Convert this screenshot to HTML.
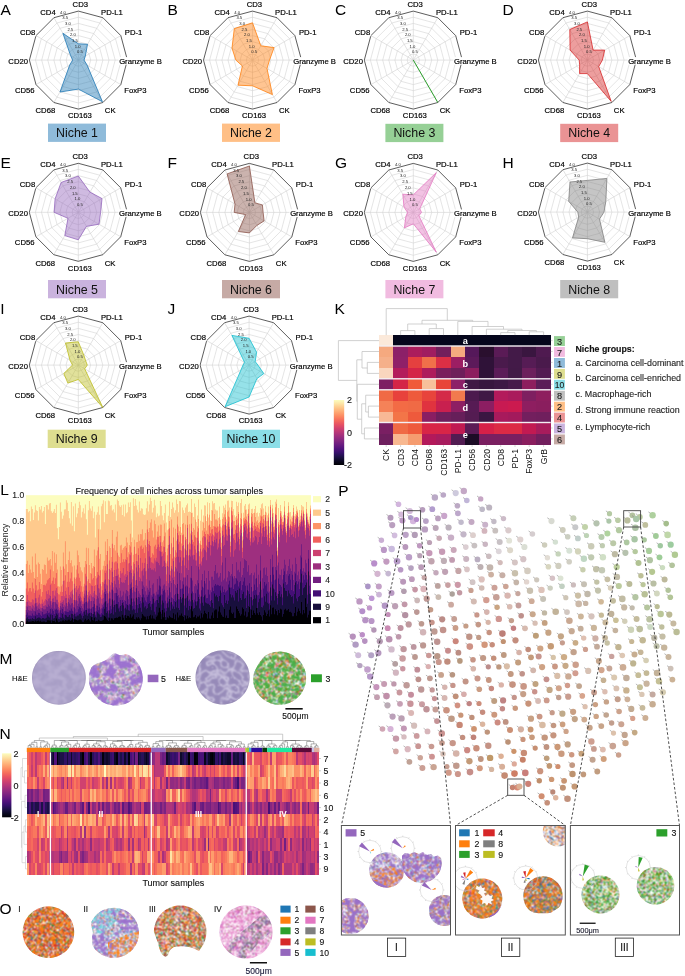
<!DOCTYPE html>
<html><head><meta charset="utf-8"><style>
html,body{margin:0;padding:0;background:#fff;width:685px;height:976px;overflow:hidden}
svg{display:block;font-family:"Liberation Sans", sans-serif;will-change:transform}
</style></head><body>
<svg width="685" height="976" viewBox="0 0 685 976">
<text x="0.5" y="15" font-size="15.5">A</text>
<text x="167.6" y="15" font-size="15.5">B</text>
<text x="335" y="15.2" font-size="15.5">C</text>
<text x="502.6" y="15" font-size="15.5">D</text>
<text x="0.4" y="168" font-size="15.5">E</text>
<text x="167.6" y="168" font-size="15.5">F</text>
<text x="335" y="168" font-size="15.5">G</text>
<text x="502.6" y="168" font-size="15.5">H</text>
<text x="0.2" y="313.8" font-size="15.5">I</text>
<text x="167.6" y="313.8" font-size="15.5">J</text>
<text x="334.5" y="314" font-size="15.5">K</text>
<text x="0.3" y="495.4" font-size="15.5">L</text>
<text x="-0.6" y="663.6" font-size="15.5">M</text>
<text x="-0.6" y="739" font-size="15.5">N</text>
<text x="-0.4" y="913.6" font-size="15.5">O</text>
<text x="338.2" y="495.8" font-size="15.5">P</text>
<g><polygon points="78.4,54 81.5,54.8 83.7,57 84.5,60.1 83.7,63.2 81.5,65.4 78.4,66.2 75.3,65.4 73.1,63.2 72.3,60.1 73.1,57 75.3,54.8" fill="none" stroke="#d4d4d4" stroke-width="0.6"/><polygon points="78.4,47.9 84.5,49.5 89,54 90.7,60.1 89,66.2 84.5,70.7 78.4,72.3 72.3,70.7 67.8,66.2 66.2,60.1 67.8,54 72.3,49.5" fill="none" stroke="#d4d4d4" stroke-width="0.6"/><polygon points="78.4,41.7 87.6,44.2 94.3,50.9 96.8,60.1 94.3,69.3 87.6,76 78.4,78.5 69.2,76 62.5,69.3 60,60.1 62.5,50.9 69.2,44.2" fill="none" stroke="#d4d4d4" stroke-width="0.6"/><polygon points="78.4,35.6 90.7,38.9 99.6,47.8 102.9,60.1 99.6,72.3 90.7,81.3 78.4,84.6 66.2,81.3 57.2,72.4 53.9,60.1 57.2,47.8 66.1,38.9" fill="none" stroke="#d4d4d4" stroke-width="0.6"/><polygon points="78.4,29.5 93.7,33.6 104.9,44.8 109,60.1 104.9,75.4 93.7,86.6 78.4,90.7 63.1,86.6 51.9,75.4 47.8,60.1 51.9,44.8 63.1,33.6" fill="none" stroke="#d4d4d4" stroke-width="0.6"/><polygon points="78.4,23.4 96.8,28.3 110.2,41.7 115.2,60.1 110.2,78.5 96.8,91.9 78.4,96.8 60,91.9 46.6,78.5 41.7,60.1 46.6,41.7 60,28.3" fill="none" stroke="#d4d4d4" stroke-width="0.6"/><polygon points="78.4,17.2 99.8,23 115.5,38.7 121.3,60.1 115.5,81.5 99.8,97.2 78.4,103 57,97.2 41.3,81.5 35.5,60.1 41.3,38.7 57,23" fill="none" stroke="#d4d4d4" stroke-width="0.6"/><path d="M78.4 60.1L78.4 11.1M78.4 60.1L102.9 17.7M78.4 60.1L120.8 35.6M78.4 60.1L127.4 60.1M78.4 60.1L120.8 84.6M78.4 60.1L102.9 102.5M78.4 60.1L78.4 109.1M78.4 60.1L53.9 102.5M78.4 60.1L36 84.6M78.4 60.1L29.4 60.1M78.4 60.1L36 35.6M78.4 60.1L53.9 17.7" stroke="#d0d0d0" stroke-width="0.6"/><polygon points="78.4,11.1 102.9,17.7 120.8,35.6 127.4,60.1 120.8,84.6 102.9,102.5 78.4,109.1 53.9,102.5 36,84.6 29.4,60.1 36,35.6 53.9,17.7" fill="none" stroke="#333" stroke-width="0.8"/><polygon points="78.4,43.8 87.5,44.3 85.3,56.1 84,60.1 87.1,65.1 102.4,101.7 78.4,89.1 60,92 69.7,65.1 72.6,60.1 70.6,55.6 62.9,33.3" fill="#1f77b4" fill-opacity="0.45" stroke="#1f77b4" stroke-width="0.8" stroke-linejoin="miter"/></g>
<text x="80" y="53.4" font-size="4.2" text-anchor="middle" fill="#222">0.5</text>
<text x="77.6" y="48.2" font-size="4.2" text-anchor="middle" fill="#222">1.0</text>
<text x="74.9" y="42.4" font-size="4.2" text-anchor="middle" fill="#222">1.5</text>
<text x="72.9" y="36.4" font-size="4.2" text-anchor="middle" fill="#222">2.0</text>
<text x="70.3" y="30.7" font-size="4.2" text-anchor="middle" fill="#222">2.5</text>
<text x="68" y="24.9" font-size="4.2" text-anchor="middle" fill="#222">3.0</text>
<text x="65.2" y="19.4" font-size="4.2" text-anchor="middle" fill="#222">3.5</text>
<text x="63" y="13.9" font-size="4.2" text-anchor="middle" fill="#222">4.0</text>
<rect x="72" y="0.6" width="16.6" height="7.6" fill="#fff"/><rect x="100.4" y="8.5" width="23" height="7.6" fill="#fff"/><rect x="124.2" y="28.6" width="18.7" height="7.6" fill="#fff"/><rect x="118.5" y="57.1" width="44" height="7.6" fill="#fff"/><rect x="123.7" y="86.5" width="23.5" height="7.6" fill="#fff"/><rect x="104.3" y="106.9" width="11.9" height="7.6" fill="#fff"/><rect x="67.3" y="112" width="25.2" height="7.6" fill="#fff"/><rect x="35" y="106.9" width="20.9" height="7.6" fill="#fff"/><rect x="14.4" y="86.5" width="20.9" height="7.6" fill="#fff"/><rect x="7.8" y="57.1" width="20.9" height="7.6" fill="#fff"/><rect x="19.3" y="28.6" width="16.6" height="7.6" fill="#fff"/><rect x="39.7" y="8.5" width="16.6" height="7.6" fill="#fff"/>
<text x="80.3" y="7" font-size="7.7" text-anchor="middle" stroke="#000" stroke-width="0.18">CD3</text>
<text x="111.9" y="14.9" font-size="7.7" text-anchor="middle" stroke="#000" stroke-width="0.18">PD-L1</text>
<text x="133.6" y="35" font-size="7.7" text-anchor="middle" stroke="#000" stroke-width="0.18">PD-1</text>
<text x="140.5" y="63.5" font-size="7.7" text-anchor="middle" stroke="#000" stroke-width="0.18">Granzyme B</text>
<text x="135.4" y="92.9" font-size="7.7" text-anchor="middle" stroke="#000" stroke-width="0.18">FoxP3</text>
<text x="110.2" y="113.3" font-size="7.7" text-anchor="middle" stroke="#000" stroke-width="0.18">CK</text>
<text x="79.9" y="118.4" font-size="7.7" text-anchor="middle" stroke="#000" stroke-width="0.18">CD163</text>
<text x="45.4" y="113.3" font-size="7.7" text-anchor="middle" stroke="#000" stroke-width="0.18">CD68</text>
<text x="24.8" y="92.9" font-size="7.7" text-anchor="middle" stroke="#000" stroke-width="0.18">CD56</text>
<text x="18.2" y="63.5" font-size="7.7" text-anchor="middle" stroke="#000" stroke-width="0.18">CD20</text>
<text x="27.6" y="35" font-size="7.7" text-anchor="middle" stroke="#000" stroke-width="0.18">CD8</text>
<text x="48" y="14.9" font-size="7.7" text-anchor="middle" stroke="#000" stroke-width="0.18">CD4</text>
<rect x="48" y="123.6" width="58" height="18.3" fill="#8fbbda"/>
<text x="77" y="137.2" font-size="12.4" text-anchor="middle" fill="#111">Niche 1</text>
<g><polygon points="252.5,54 255.6,54.8 257.8,57 258.6,60.1 257.8,63.2 255.6,65.4 252.5,66.2 249.4,65.4 247.2,63.2 246.4,60.1 247.2,57 249.4,54.8" fill="none" stroke="#d4d4d4" stroke-width="0.6"/><polygon points="252.5,47.9 258.6,49.5 263.1,54 264.8,60.1 263.1,66.2 258.6,70.7 252.5,72.3 246.4,70.7 241.9,66.2 240.2,60.1 241.9,54 246.4,49.5" fill="none" stroke="#d4d4d4" stroke-width="0.6"/><polygon points="252.5,41.7 261.7,44.2 268.4,50.9 270.9,60.1 268.4,69.3 261.7,76 252.5,78.5 243.3,76 236.6,69.3 234.1,60.1 236.6,50.9 243.3,44.2" fill="none" stroke="#d4d4d4" stroke-width="0.6"/><polygon points="252.5,35.6 264.8,38.9 273.7,47.8 277,60.1 273.7,72.3 264.8,81.3 252.5,84.6 240.2,81.3 231.3,72.4 228,60.1 231.3,47.8 240.2,38.9" fill="none" stroke="#d4d4d4" stroke-width="0.6"/><polygon points="252.5,29.5 267.8,33.6 279,44.8 283.1,60.1 279,75.4 267.8,86.6 252.5,90.7 237.2,86.6 226,75.4 221.9,60.1 226,44.8 237.2,33.6" fill="none" stroke="#d4d4d4" stroke-width="0.6"/><polygon points="252.5,23.4 270.9,28.3 284.3,41.7 289.2,60.1 284.3,78.5 270.9,91.9 252.5,96.8 234.1,91.9 220.7,78.5 215.8,60.1 220.7,41.7 234.1,28.3" fill="none" stroke="#d4d4d4" stroke-width="0.6"/><polygon points="252.5,17.2 273.9,23 289.6,38.7 295.4,60.1 289.6,81.5 273.9,97.2 252.5,103 231.1,97.2 215.4,81.5 209.6,60.1 215.4,38.7 231.1,23" fill="none" stroke="#d4d4d4" stroke-width="0.6"/><path d="M252.5 60.1L252.5 11.1M252.5 60.1L277 17.7M252.5 60.1L294.9 35.6M252.5 60.1L301.5 60.1M252.5 60.1L294.9 84.6M252.5 60.1L277 102.5M252.5 60.1L252.5 109.1M252.5 60.1L228 102.5M252.5 60.1L210.1 84.6M252.5 60.1L203.5 60.1M252.5 60.1L210.1 35.6M252.5 60.1L228 17.7" stroke="#d0d0d0" stroke-width="0.6"/><polygon points="252.5,11.1 277,17.7 294.9,35.6 301.5,60.1 294.9,84.6 277,102.5 252.5,109.1 228,102.5 210.1,84.6 203.5,60.1 210.1,35.6 228,17.7" fill="none" stroke="#333" stroke-width="0.8"/><polygon points="252.5,22.8 260.8,45.8 274.1,47.6 269.5,60.1 267,68.5 272.4,94.6 252.5,85.8 238,85.2 242.4,66 235.9,60.1 232,48.2 234.3,28.6" fill="#ff7f0e" fill-opacity="0.45" stroke="#ff7f0e" stroke-width="0.8" stroke-linejoin="miter"/></g>
<text x="254.1" y="53.4" font-size="4.2" text-anchor="middle" fill="#222">0.5</text>
<text x="251.7" y="48.2" font-size="4.2" text-anchor="middle" fill="#222">1.0</text>
<text x="249" y="42.4" font-size="4.2" text-anchor="middle" fill="#222">1.5</text>
<text x="247" y="36.4" font-size="4.2" text-anchor="middle" fill="#222">2.0</text>
<text x="244.4" y="30.7" font-size="4.2" text-anchor="middle" fill="#222">2.5</text>
<text x="242.1" y="24.9" font-size="4.2" text-anchor="middle" fill="#222">3.0</text>
<text x="239.3" y="19.4" font-size="4.2" text-anchor="middle" fill="#222">3.5</text>
<text x="237.1" y="13.9" font-size="4.2" text-anchor="middle" fill="#222">4.0</text>
<rect x="246.1" y="0.6" width="16.6" height="7.6" fill="#fff"/><rect x="274.5" y="8.5" width="23" height="7.6" fill="#fff"/><rect x="298.3" y="28.6" width="18.7" height="7.6" fill="#fff"/><rect x="292.6" y="57.1" width="44" height="7.6" fill="#fff"/><rect x="297.8" y="86.5" width="23.5" height="7.6" fill="#fff"/><rect x="278.4" y="106.9" width="11.9" height="7.6" fill="#fff"/><rect x="241.4" y="112" width="25.2" height="7.6" fill="#fff"/><rect x="209.1" y="106.9" width="20.9" height="7.6" fill="#fff"/><rect x="188.5" y="86.5" width="20.9" height="7.6" fill="#fff"/><rect x="181.9" y="57.1" width="20.9" height="7.6" fill="#fff"/><rect x="193.4" y="28.6" width="16.6" height="7.6" fill="#fff"/><rect x="213.8" y="8.5" width="16.6" height="7.6" fill="#fff"/>
<text x="254.4" y="7" font-size="7.7" text-anchor="middle" stroke="#000" stroke-width="0.18">CD3</text>
<text x="286" y="14.9" font-size="7.7" text-anchor="middle" stroke="#000" stroke-width="0.18">PD-L1</text>
<text x="307.7" y="35" font-size="7.7" text-anchor="middle" stroke="#000" stroke-width="0.18">PD-1</text>
<text x="314.6" y="63.5" font-size="7.7" text-anchor="middle" stroke="#000" stroke-width="0.18">Granzyme B</text>
<text x="309.5" y="92.9" font-size="7.7" text-anchor="middle" stroke="#000" stroke-width="0.18">FoxP3</text>
<text x="284.3" y="113.3" font-size="7.7" text-anchor="middle" stroke="#000" stroke-width="0.18">CK</text>
<text x="254" y="118.4" font-size="7.7" text-anchor="middle" stroke="#000" stroke-width="0.18">CD163</text>
<text x="219.5" y="113.3" font-size="7.7" text-anchor="middle" stroke="#000" stroke-width="0.18">CD68</text>
<text x="198.9" y="92.9" font-size="7.7" text-anchor="middle" stroke="#000" stroke-width="0.18">CD56</text>
<text x="192.3" y="63.5" font-size="7.7" text-anchor="middle" stroke="#000" stroke-width="0.18">CD20</text>
<text x="201.7" y="35" font-size="7.7" text-anchor="middle" stroke="#000" stroke-width="0.18">CD8</text>
<text x="222.1" y="14.9" font-size="7.7" text-anchor="middle" stroke="#000" stroke-width="0.18">CD4</text>
<rect x="222" y="123.6" width="58" height="18.3" fill="#ffbf86"/>
<text x="251" y="137.2" font-size="12.4" text-anchor="middle" fill="#111">Niche 2</text>
<g><polygon points="413.3,54 416.4,54.8 418.6,57 419.4,60.1 418.6,63.2 416.4,65.4 413.3,66.2 410.2,65.4 408,63.2 407.2,60.1 408,57 410.2,54.8" fill="none" stroke="#d4d4d4" stroke-width="0.6"/><polygon points="413.3,47.9 419.4,49.5 423.9,54 425.6,60.1 423.9,66.2 419.4,70.7 413.3,72.3 407.2,70.7 402.7,66.2 401.1,60.1 402.7,54 407.2,49.5" fill="none" stroke="#d4d4d4" stroke-width="0.6"/><polygon points="413.3,41.7 422.5,44.2 429.2,50.9 431.7,60.1 429.2,69.3 422.5,76 413.3,78.5 404.1,76 397.4,69.3 394.9,60.1 397.4,50.9 404.1,44.2" fill="none" stroke="#d4d4d4" stroke-width="0.6"/><polygon points="413.3,35.6 425.6,38.9 434.5,47.8 437.8,60.1 434.5,72.3 425.6,81.3 413.3,84.6 401.1,81.3 392.1,72.4 388.8,60.1 392.1,47.8 401.1,38.9" fill="none" stroke="#d4d4d4" stroke-width="0.6"/><polygon points="413.3,29.5 428.6,33.6 439.8,44.8 443.9,60.1 439.8,75.4 428.6,86.6 413.3,90.7 398,86.6 386.8,75.4 382.7,60.1 386.8,44.8 398,33.6" fill="none" stroke="#d4d4d4" stroke-width="0.6"/><polygon points="413.3,23.4 431.7,28.3 445.1,41.7 450.1,60.1 445.1,78.5 431.7,91.9 413.3,96.8 394.9,91.9 381.5,78.5 376.6,60.1 381.5,41.7 394.9,28.3" fill="none" stroke="#d4d4d4" stroke-width="0.6"/><polygon points="413.3,17.2 434.7,23 450.4,38.7 456.2,60.1 450.4,81.5 434.7,97.2 413.3,103 391.9,97.2 376.2,81.5 370.4,60.1 376.2,38.7 391.9,23" fill="none" stroke="#d4d4d4" stroke-width="0.6"/><path d="M413.3 60.1L413.3 11.1M413.3 60.1L437.8 17.7M413.3 60.1L455.7 35.6M413.3 60.1L462.3 60.1M413.3 60.1L455.7 84.6M413.3 60.1L437.8 102.5M413.3 60.1L413.3 109.1M413.3 60.1L388.8 102.5M413.3 60.1L370.9 84.6M413.3 60.1L364.3 60.1M413.3 60.1L370.9 35.6M413.3 60.1L388.8 17.7" stroke="#d0d0d0" stroke-width="0.6"/><polygon points="413.3,11.1 437.8,17.7 455.7,35.6 462.3,60.1 455.7,84.6 437.8,102.5 413.3,109.1 388.8,102.5 370.9,84.6 364.3,60.1 370.9,35.6 388.8,17.7" fill="none" stroke="#333" stroke-width="0.8"/><line x1="413.3" y1="60.1" x2="437.8" y2="102.5" stroke="#2ca02c" stroke-width="1"/></g>
<text x="414.9" y="53.4" font-size="4.2" text-anchor="middle" fill="#222">0.5</text>
<text x="412.5" y="48.2" font-size="4.2" text-anchor="middle" fill="#222">1.0</text>
<text x="409.8" y="42.4" font-size="4.2" text-anchor="middle" fill="#222">1.5</text>
<text x="407.8" y="36.4" font-size="4.2" text-anchor="middle" fill="#222">2.0</text>
<text x="405.2" y="30.7" font-size="4.2" text-anchor="middle" fill="#222">2.5</text>
<text x="402.9" y="24.9" font-size="4.2" text-anchor="middle" fill="#222">3.0</text>
<text x="400.1" y="19.4" font-size="4.2" text-anchor="middle" fill="#222">3.5</text>
<text x="397.9" y="13.9" font-size="4.2" text-anchor="middle" fill="#222">4.0</text>
<rect x="406.9" y="0.6" width="16.6" height="7.6" fill="#fff"/><rect x="435.3" y="8.5" width="23" height="7.6" fill="#fff"/><rect x="459.1" y="28.6" width="18.7" height="7.6" fill="#fff"/><rect x="453.4" y="57.1" width="44" height="7.6" fill="#fff"/><rect x="458.6" y="86.5" width="23.5" height="7.6" fill="#fff"/><rect x="439.2" y="106.9" width="11.9" height="7.6" fill="#fff"/><rect x="402.2" y="112" width="25.2" height="7.6" fill="#fff"/><rect x="369.9" y="106.9" width="20.9" height="7.6" fill="#fff"/><rect x="349.3" y="86.5" width="20.9" height="7.6" fill="#fff"/><rect x="342.7" y="57.1" width="20.9" height="7.6" fill="#fff"/><rect x="354.2" y="28.6" width="16.6" height="7.6" fill="#fff"/><rect x="374.6" y="8.5" width="16.6" height="7.6" fill="#fff"/>
<text x="415.2" y="7" font-size="7.7" text-anchor="middle" stroke="#000" stroke-width="0.18">CD3</text>
<text x="446.8" y="14.9" font-size="7.7" text-anchor="middle" stroke="#000" stroke-width="0.18">PD-L1</text>
<text x="468.5" y="35" font-size="7.7" text-anchor="middle" stroke="#000" stroke-width="0.18">PD-1</text>
<text x="475.4" y="63.5" font-size="7.7" text-anchor="middle" stroke="#000" stroke-width="0.18">Granzyme B</text>
<text x="470.3" y="92.9" font-size="7.7" text-anchor="middle" stroke="#000" stroke-width="0.18">FoxP3</text>
<text x="445.1" y="113.3" font-size="7.7" text-anchor="middle" stroke="#000" stroke-width="0.18">CK</text>
<text x="414.8" y="118.4" font-size="7.7" text-anchor="middle" stroke="#000" stroke-width="0.18">CD163</text>
<text x="380.3" y="113.3" font-size="7.7" text-anchor="middle" stroke="#000" stroke-width="0.18">CD68</text>
<text x="359.7" y="92.9" font-size="7.7" text-anchor="middle" stroke="#000" stroke-width="0.18">CD56</text>
<text x="353.1" y="63.5" font-size="7.7" text-anchor="middle" stroke="#000" stroke-width="0.18">CD20</text>
<text x="362.5" y="35" font-size="7.7" text-anchor="middle" stroke="#000" stroke-width="0.18">CD8</text>
<text x="382.9" y="14.9" font-size="7.7" text-anchor="middle" stroke="#000" stroke-width="0.18">CD4</text>
<rect x="385.4" y="123.8" width="58" height="18.3" fill="#96d096"/>
<text x="414.4" y="137.4" font-size="12.4" text-anchor="middle" fill="#111">Niche 3</text>
<g><polygon points="587.4,54 590.5,54.8 592.7,57 593.5,60.1 592.7,63.2 590.5,65.4 587.4,66.2 584.3,65.4 582.1,63.2 581.3,60.1 582.1,57 584.3,54.8" fill="none" stroke="#d4d4d4" stroke-width="0.6"/><polygon points="587.4,47.9 593.5,49.5 598,54 599.6,60.1 598,66.2 593.5,70.7 587.4,72.3 581.3,70.7 576.8,66.2 575.1,60.1 576.8,54 581.3,49.5" fill="none" stroke="#d4d4d4" stroke-width="0.6"/><polygon points="587.4,41.7 596.6,44.2 603.3,50.9 605.8,60.1 603.3,69.3 596.6,76 587.4,78.5 578.2,76 571.5,69.3 569,60.1 571.5,50.9 578.2,44.2" fill="none" stroke="#d4d4d4" stroke-width="0.6"/><polygon points="587.4,35.6 599.6,38.9 608.6,47.8 611.9,60.1 608.6,72.3 599.6,81.3 587.4,84.6 575.1,81.3 566.2,72.4 562.9,60.1 566.2,47.8 575.1,38.9" fill="none" stroke="#d4d4d4" stroke-width="0.6"/><polygon points="587.4,29.5 602.7,33.6 613.9,44.8 618,60.1 613.9,75.4 602.7,86.6 587.4,90.7 572.1,86.6 560.9,75.4 556.8,60.1 560.9,44.8 572.1,33.6" fill="none" stroke="#d4d4d4" stroke-width="0.6"/><polygon points="587.4,23.4 605.8,28.3 619.2,41.7 624.1,60.1 619.2,78.5 605.8,91.9 587.4,96.8 569,91.9 555.6,78.5 550.6,60.1 555.6,41.7 569,28.3" fill="none" stroke="#d4d4d4" stroke-width="0.6"/><polygon points="587.4,17.2 608.8,23 624.5,38.7 630.3,60.1 624.5,81.5 608.8,97.2 587.4,103 566,97.2 550.3,81.5 544.5,60.1 550.3,38.7 566,23" fill="none" stroke="#d4d4d4" stroke-width="0.6"/><path d="M587.4 60.1L587.4 11.1M587.4 60.1L611.9 17.7M587.4 60.1L629.8 35.6M587.4 60.1L636.4 60.1M587.4 60.1L629.8 84.6M587.4 60.1L611.9 102.5M587.4 60.1L587.4 109.1M587.4 60.1L562.9 102.5M587.4 60.1L545 84.6M587.4 60.1L538.4 60.1M587.4 60.1L545 35.6M587.4 60.1L562.9 17.7" stroke="#d0d0d0" stroke-width="0.6"/><polygon points="587.4,11.1 611.9,17.7 629.8,35.6 636.4,60.1 629.8,84.6 611.9,102.5 587.4,109.1 562.9,102.5 545,84.6 538.4,60.1 545,35.6 562.9,17.7" fill="none" stroke="#333" stroke-width="0.8"/><polygon points="587.4,21.9 593.1,50.1 604.7,50.1 602.4,60.1 598.7,66.6 611.2,101.4 587.4,73.6 579.6,73.6 579.6,64.6 579.2,60.1 570.1,50.1 569.8,29.5" fill="#d62728" fill-opacity="0.45" stroke="#d62728" stroke-width="0.8" stroke-linejoin="miter"/></g>
<text x="589" y="53.4" font-size="4.2" text-anchor="middle" fill="#222">0.5</text>
<text x="586.6" y="48.2" font-size="4.2" text-anchor="middle" fill="#222">1.0</text>
<text x="583.9" y="42.4" font-size="4.2" text-anchor="middle" fill="#222">1.5</text>
<text x="581.9" y="36.4" font-size="4.2" text-anchor="middle" fill="#222">2.0</text>
<text x="579.3" y="30.7" font-size="4.2" text-anchor="middle" fill="#222">2.5</text>
<text x="577" y="24.9" font-size="4.2" text-anchor="middle" fill="#222">3.0</text>
<text x="574.2" y="19.4" font-size="4.2" text-anchor="middle" fill="#222">3.5</text>
<text x="572" y="13.9" font-size="4.2" text-anchor="middle" fill="#222">4.0</text>
<rect x="581" y="0.6" width="16.6" height="7.6" fill="#fff"/><rect x="609.4" y="8.5" width="23" height="7.6" fill="#fff"/><rect x="633.2" y="28.6" width="18.7" height="7.6" fill="#fff"/><rect x="627.5" y="57.1" width="44" height="7.6" fill="#fff"/><rect x="632.7" y="86.5" width="23.5" height="7.6" fill="#fff"/><rect x="613.3" y="106.9" width="11.9" height="7.6" fill="#fff"/><rect x="576.3" y="112" width="25.2" height="7.6" fill="#fff"/><rect x="544" y="106.9" width="20.9" height="7.6" fill="#fff"/><rect x="523.4" y="86.5" width="20.9" height="7.6" fill="#fff"/><rect x="516.8" y="57.1" width="20.9" height="7.6" fill="#fff"/><rect x="528.3" y="28.6" width="16.6" height="7.6" fill="#fff"/><rect x="548.7" y="8.5" width="16.6" height="7.6" fill="#fff"/>
<text x="589.3" y="7" font-size="7.7" text-anchor="middle" stroke="#000" stroke-width="0.18">CD3</text>
<text x="620.9" y="14.9" font-size="7.7" text-anchor="middle" stroke="#000" stroke-width="0.18">PD-L1</text>
<text x="642.6" y="35" font-size="7.7" text-anchor="middle" stroke="#000" stroke-width="0.18">PD-1</text>
<text x="649.5" y="63.5" font-size="7.7" text-anchor="middle" stroke="#000" stroke-width="0.18">Granzyme B</text>
<text x="644.4" y="92.9" font-size="7.7" text-anchor="middle" stroke="#000" stroke-width="0.18">FoxP3</text>
<text x="619.2" y="113.3" font-size="7.7" text-anchor="middle" stroke="#000" stroke-width="0.18">CK</text>
<text x="588.9" y="118.4" font-size="7.7" text-anchor="middle" stroke="#000" stroke-width="0.18">CD163</text>
<text x="554.4" y="113.3" font-size="7.7" text-anchor="middle" stroke="#000" stroke-width="0.18">CD68</text>
<text x="533.8" y="92.9" font-size="7.7" text-anchor="middle" stroke="#000" stroke-width="0.18">CD56</text>
<text x="527.2" y="63.5" font-size="7.7" text-anchor="middle" stroke="#000" stroke-width="0.18">CD20</text>
<text x="536.6" y="35" font-size="7.7" text-anchor="middle" stroke="#000" stroke-width="0.18">CD8</text>
<text x="557" y="14.9" font-size="7.7" text-anchor="middle" stroke="#000" stroke-width="0.18">CD4</text>
<rect x="560.2" y="123.8" width="58" height="18.3" fill="#ea9394"/>
<text x="589.2" y="137.4" font-size="12.4" text-anchor="middle" fill="#111">Niche 4</text>
<g><polygon points="78.3,206.2 81.4,207 83.6,209.2 84.4,212.3 83.6,215.4 81.4,217.6 78.3,218.4 75.2,217.6 73,215.4 72.2,212.3 73,209.2 75.2,207" fill="none" stroke="#d4d4d4" stroke-width="0.6"/><polygon points="78.3,200.1 84.4,201.7 88.9,206.2 90.5,212.3 88.9,218.4 84.4,222.9 78.3,224.6 72.2,222.9 67.7,218.4 66,212.3 67.7,206.2 72.2,201.7" fill="none" stroke="#d4d4d4" stroke-width="0.6"/><polygon points="78.3,193.9 87.5,196.4 94.2,203.1 96.7,212.3 94.2,221.5 87.5,228.2 78.3,230.7 69.1,228.2 62.4,221.5 59.9,212.3 62.4,203.1 69.1,196.4" fill="none" stroke="#d4d4d4" stroke-width="0.6"/><polygon points="78.3,187.8 90.5,191.1 99.5,200.1 102.8,212.3 99.5,224.6 90.5,233.5 78.3,236.8 66,233.5 57.1,224.6 53.8,212.3 57.1,200.1 66,191.1" fill="none" stroke="#d4d4d4" stroke-width="0.6"/><polygon points="78.3,181.7 93.6,185.8 104.8,197 108.9,212.3 104.8,227.6 93.6,238.8 78.3,242.9 63,238.8 51.8,227.6 47.7,212.3 51.8,197 63,185.8" fill="none" stroke="#d4d4d4" stroke-width="0.6"/><polygon points="78.3,175.6 96.7,180.5 110.1,193.9 115,212.3 110.1,230.7 96.7,244.1 78.3,249.1 59.9,244.1 46.5,230.7 41.5,212.3 46.5,193.9 59.9,180.5" fill="none" stroke="#d4d4d4" stroke-width="0.6"/><polygon points="78.3,169.4 99.7,175.2 115.4,190.9 121.2,212.3 115.4,233.7 99.7,249.4 78.3,255.2 56.9,249.4 41.2,233.7 35.4,212.3 41.2,190.9 56.9,175.2" fill="none" stroke="#d4d4d4" stroke-width="0.6"/><path d="M78.3 212.3L78.3 163.3M78.3 212.3L102.8 169.9M78.3 212.3L120.7 187.8M78.3 212.3L127.3 212.3M78.3 212.3L120.7 236.8M78.3 212.3L102.8 254.7M78.3 212.3L78.3 261.3M78.3 212.3L53.8 254.7M78.3 212.3L35.9 236.8M78.3 212.3L29.3 212.3M78.3 212.3L35.9 187.8M78.3 212.3L53.8 169.9" stroke="#d0d0d0" stroke-width="0.6"/><polygon points="78.3,163.3 102.8,169.9 120.7,187.8 127.3,212.3 120.7,236.8 102.8,254.7 78.3,261.3 53.8,254.7 35.9,236.8 29.3,212.3 35.9,187.8 53.8,169.9" fill="none" stroke="#333" stroke-width="0.8"/><polygon points="78.3,176 89.9,192.1 102,198.6 100.6,212.3 99,224.2 86.4,226.4 78.3,239.8 64.8,235.6 68,218.3 54.1,212.3 55.1,198.9 61.1,182.5" fill="#9467bd" fill-opacity="0.45" stroke="#9467bd" stroke-width="0.8" stroke-linejoin="miter"/></g>
<text x="79.9" y="205.6" font-size="4.2" text-anchor="middle" fill="#222">0.5</text>
<text x="77.5" y="200.4" font-size="4.2" text-anchor="middle" fill="#222">1.0</text>
<text x="74.8" y="194.6" font-size="4.2" text-anchor="middle" fill="#222">1.5</text>
<text x="72.8" y="188.6" font-size="4.2" text-anchor="middle" fill="#222">2.0</text>
<text x="70.2" y="182.9" font-size="4.2" text-anchor="middle" fill="#222">2.5</text>
<text x="67.9" y="177.1" font-size="4.2" text-anchor="middle" fill="#222">3.0</text>
<text x="65.1" y="171.6" font-size="4.2" text-anchor="middle" fill="#222">3.5</text>
<text x="62.9" y="166.1" font-size="4.2" text-anchor="middle" fill="#222">4.0</text>
<rect x="71.9" y="152.8" width="16.6" height="7.6" fill="#fff"/><rect x="100.3" y="160.7" width="23" height="7.6" fill="#fff"/><rect x="124.1" y="180.8" width="18.7" height="7.6" fill="#fff"/><rect x="118.4" y="209.3" width="44" height="7.6" fill="#fff"/><rect x="123.6" y="238.7" width="23.5" height="7.6" fill="#fff"/><rect x="104.2" y="259.1" width="11.9" height="7.6" fill="#fff"/><rect x="67.2" y="264.2" width="25.2" height="7.6" fill="#fff"/><rect x="34.9" y="259.1" width="20.9" height="7.6" fill="#fff"/><rect x="14.3" y="238.7" width="20.9" height="7.6" fill="#fff"/><rect x="7.7" y="209.3" width="20.9" height="7.6" fill="#fff"/><rect x="19.2" y="180.8" width="16.6" height="7.6" fill="#fff"/><rect x="39.6" y="160.7" width="16.6" height="7.6" fill="#fff"/>
<text x="80.2" y="159.2" font-size="7.7" text-anchor="middle" stroke="#000" stroke-width="0.18">CD3</text>
<text x="111.8" y="167.1" font-size="7.7" text-anchor="middle" stroke="#000" stroke-width="0.18">PD-L1</text>
<text x="133.5" y="187.2" font-size="7.7" text-anchor="middle" stroke="#000" stroke-width="0.18">PD-1</text>
<text x="140.4" y="215.7" font-size="7.7" text-anchor="middle" stroke="#000" stroke-width="0.18">Granzyme B</text>
<text x="135.3" y="245.1" font-size="7.7" text-anchor="middle" stroke="#000" stroke-width="0.18">FoxP3</text>
<text x="110.1" y="265.5" font-size="7.7" text-anchor="middle" stroke="#000" stroke-width="0.18">CK</text>
<text x="79.8" y="270.6" font-size="7.7" text-anchor="middle" stroke="#000" stroke-width="0.18">CD163</text>
<text x="45.3" y="265.5" font-size="7.7" text-anchor="middle" stroke="#000" stroke-width="0.18">CD68</text>
<text x="24.7" y="245.1" font-size="7.7" text-anchor="middle" stroke="#000" stroke-width="0.18">CD56</text>
<text x="18.1" y="215.7" font-size="7.7" text-anchor="middle" stroke="#000" stroke-width="0.18">CD20</text>
<text x="27.5" y="187.2" font-size="7.7" text-anchor="middle" stroke="#000" stroke-width="0.18">CD8</text>
<text x="47.9" y="167.1" font-size="7.7" text-anchor="middle" stroke="#000" stroke-width="0.18">CD4</text>
<rect x="48" y="280" width="58" height="18.3" fill="#cab3de"/>
<text x="77" y="293.6" font-size="12.4" text-anchor="middle" fill="#111">Niche 5</text>
<g><polygon points="249.4,206.3 252.5,207.1 254.7,209.3 255.5,212.4 254.7,215.5 252.5,217.7 249.4,218.5 246.3,217.7 244.1,215.5 243.3,212.4 244.1,209.3 246.3,207.1" fill="none" stroke="#d4d4d4" stroke-width="0.6"/><polygon points="249.4,200.2 255.5,201.8 260,206.3 261.6,212.4 260,218.5 255.5,223 249.4,224.7 243.3,223 238.8,218.5 237.2,212.4 238.8,206.3 243.3,201.8" fill="none" stroke="#d4d4d4" stroke-width="0.6"/><polygon points="249.4,194 258.6,196.5 265.3,203.2 267.8,212.4 265.3,221.6 258.6,228.3 249.4,230.8 240.2,228.3 233.5,221.6 231,212.4 233.5,203.2 240.2,196.5" fill="none" stroke="#d4d4d4" stroke-width="0.6"/><polygon points="249.4,187.9 261.6,191.2 270.6,200.2 273.9,212.4 270.6,224.7 261.6,233.6 249.4,236.9 237.2,233.6 228.2,224.7 224.9,212.4 228.2,200.2 237.2,191.2" fill="none" stroke="#d4d4d4" stroke-width="0.6"/><polygon points="249.4,181.8 264.7,185.9 275.9,197.1 280,212.4 275.9,227.7 264.7,238.9 249.4,243 234.1,238.9 222.9,227.7 218.8,212.4 222.9,197.1 234.1,185.9" fill="none" stroke="#d4d4d4" stroke-width="0.6"/><polygon points="249.4,175.7 267.8,180.6 281.2,194 286.1,212.4 281.2,230.8 267.8,244.2 249.4,249.2 231,244.2 217.6,230.8 212.7,212.4 217.6,194 231,180.6" fill="none" stroke="#d4d4d4" stroke-width="0.6"/><polygon points="249.4,169.5 270.8,175.3 286.5,191 292.3,212.4 286.5,233.8 270.8,249.5 249.4,255.3 228,249.5 212.3,233.8 206.5,212.4 212.3,191 228,175.3" fill="none" stroke="#d4d4d4" stroke-width="0.6"/><path d="M249.4 212.4L249.4 163.4M249.4 212.4L273.9 170M249.4 212.4L291.8 187.9M249.4 212.4L298.4 212.4M249.4 212.4L291.8 236.9M249.4 212.4L273.9 254.8M249.4 212.4L249.4 261.4M249.4 212.4L224.9 254.8M249.4 212.4L207 236.9M249.4 212.4L200.4 212.4M249.4 212.4L207 187.9M249.4 212.4L224.9 170" stroke="#d0d0d0" stroke-width="0.6"/><polygon points="249.4,163.4 273.9,170 291.8,187.9 298.4,212.4 291.8,236.9 273.9,254.8 249.4,261.4 224.9,254.8 207,236.9 200.4,212.4 207,187.9 224.9,170" fill="none" stroke="#333" stroke-width="0.8"/><polygon points="249.4,166 254.9,202.9 262.4,204.9 263.1,212.4 264.1,220.9 256.9,225.4 249.4,232.9 238.4,231.5 245.6,214.6 234.2,212.4 235,204.1 227.1,173.9" fill="#8c564b" fill-opacity="0.45" stroke="#8c564b" stroke-width="0.8" stroke-linejoin="miter"/></g>
<text x="251" y="205.7" font-size="4.2" text-anchor="middle" fill="#222">0.5</text>
<text x="248.6" y="200.5" font-size="4.2" text-anchor="middle" fill="#222">1.0</text>
<text x="245.9" y="194.7" font-size="4.2" text-anchor="middle" fill="#222">1.5</text>
<text x="243.9" y="188.7" font-size="4.2" text-anchor="middle" fill="#222">2.0</text>
<text x="241.3" y="183" font-size="4.2" text-anchor="middle" fill="#222">2.5</text>
<text x="239" y="177.2" font-size="4.2" text-anchor="middle" fill="#222">3.0</text>
<text x="236.2" y="171.7" font-size="4.2" text-anchor="middle" fill="#222">3.5</text>
<text x="234" y="166.2" font-size="4.2" text-anchor="middle" fill="#222">4.0</text>
<rect x="243" y="152.9" width="16.6" height="7.6" fill="#fff"/><rect x="271.4" y="160.8" width="23" height="7.6" fill="#fff"/><rect x="295.2" y="180.9" width="18.7" height="7.6" fill="#fff"/><rect x="289.5" y="209.4" width="44" height="7.6" fill="#fff"/><rect x="294.7" y="238.8" width="23.5" height="7.6" fill="#fff"/><rect x="275.3" y="259.2" width="11.9" height="7.6" fill="#fff"/><rect x="238.3" y="264.3" width="25.2" height="7.6" fill="#fff"/><rect x="206" y="259.2" width="20.9" height="7.6" fill="#fff"/><rect x="185.4" y="238.8" width="20.9" height="7.6" fill="#fff"/><rect x="178.8" y="209.4" width="20.9" height="7.6" fill="#fff"/><rect x="190.3" y="180.9" width="16.6" height="7.6" fill="#fff"/><rect x="210.7" y="160.8" width="16.6" height="7.6" fill="#fff"/>
<text x="251.3" y="159.3" font-size="7.7" text-anchor="middle" stroke="#000" stroke-width="0.18">CD3</text>
<text x="282.9" y="167.2" font-size="7.7" text-anchor="middle" stroke="#000" stroke-width="0.18">PD-L1</text>
<text x="304.6" y="187.3" font-size="7.7" text-anchor="middle" stroke="#000" stroke-width="0.18">PD-1</text>
<text x="311.5" y="215.8" font-size="7.7" text-anchor="middle" stroke="#000" stroke-width="0.18">Granzyme B</text>
<text x="306.4" y="245.2" font-size="7.7" text-anchor="middle" stroke="#000" stroke-width="0.18">FoxP3</text>
<text x="281.2" y="265.6" font-size="7.7" text-anchor="middle" stroke="#000" stroke-width="0.18">CK</text>
<text x="250.9" y="270.7" font-size="7.7" text-anchor="middle" stroke="#000" stroke-width="0.18">CD163</text>
<text x="216.4" y="265.6" font-size="7.7" text-anchor="middle" stroke="#000" stroke-width="0.18">CD68</text>
<text x="195.8" y="245.2" font-size="7.7" text-anchor="middle" stroke="#000" stroke-width="0.18">CD56</text>
<text x="189.2" y="215.8" font-size="7.7" text-anchor="middle" stroke="#000" stroke-width="0.18">CD20</text>
<text x="198.6" y="187.3" font-size="7.7" text-anchor="middle" stroke="#000" stroke-width="0.18">CD8</text>
<text x="219" y="167.2" font-size="7.7" text-anchor="middle" stroke="#000" stroke-width="0.18">CD4</text>
<rect x="222" y="280" width="58" height="18.3" fill="#c6aaa5"/>
<text x="251" y="293.6" font-size="12.4" text-anchor="middle" fill="#111">Niche 6</text>
<g><polygon points="413.3,206.3 416.4,207.1 418.6,209.3 419.4,212.4 418.6,215.5 416.4,217.7 413.3,218.5 410.2,217.7 408,215.5 407.2,212.4 408,209.3 410.2,207.1" fill="none" stroke="#d4d4d4" stroke-width="0.6"/><polygon points="413.3,200.2 419.4,201.8 423.9,206.3 425.6,212.4 423.9,218.5 419.4,223 413.3,224.7 407.2,223 402.7,218.5 401.1,212.4 402.7,206.3 407.2,201.8" fill="none" stroke="#d4d4d4" stroke-width="0.6"/><polygon points="413.3,194 422.5,196.5 429.2,203.2 431.7,212.4 429.2,221.6 422.5,228.3 413.3,230.8 404.1,228.3 397.4,221.6 394.9,212.4 397.4,203.2 404.1,196.5" fill="none" stroke="#d4d4d4" stroke-width="0.6"/><polygon points="413.3,187.9 425.6,191.2 434.5,200.2 437.8,212.4 434.5,224.7 425.6,233.6 413.3,236.9 401.1,233.6 392.1,224.7 388.8,212.4 392.1,200.2 401.1,191.2" fill="none" stroke="#d4d4d4" stroke-width="0.6"/><polygon points="413.3,181.8 428.6,185.9 439.8,197.1 443.9,212.4 439.8,227.7 428.6,238.9 413.3,243 398,238.9 386.8,227.7 382.7,212.4 386.8,197.1 398,185.9" fill="none" stroke="#d4d4d4" stroke-width="0.6"/><polygon points="413.3,175.7 431.7,180.6 445.1,194 450.1,212.4 445.1,230.8 431.7,244.2 413.3,249.2 394.9,244.2 381.5,230.8 376.6,212.4 381.5,194 394.9,180.6" fill="none" stroke="#d4d4d4" stroke-width="0.6"/><polygon points="413.3,169.5 434.7,175.3 450.4,191 456.2,212.4 450.4,233.8 434.7,249.5 413.3,255.3 391.9,249.5 376.2,233.8 370.4,212.4 376.2,191 391.9,175.3" fill="none" stroke="#d4d4d4" stroke-width="0.6"/><path d="M413.3 212.4L413.3 163.4M413.3 212.4L437.8 170M413.3 212.4L455.7 187.9M413.3 212.4L462.3 212.4M413.3 212.4L455.7 236.9M413.3 212.4L437.8 254.8M413.3 212.4L413.3 261.4M413.3 212.4L388.8 254.8M413.3 212.4L370.9 236.9M413.3 212.4L364.3 212.4M413.3 212.4L370.9 187.9M413.3 212.4L388.8 170" stroke="#d0d0d0" stroke-width="0.6"/><polygon points="413.3,163.4 437.8,170 455.7,187.9 462.3,212.4 455.7,236.9 437.8,254.8 413.3,261.4 388.8,254.8 370.9,236.9 364.3,212.4 370.9,187.9 388.8,170" fill="none" stroke="#333" stroke-width="0.8"/><polygon points="413.3,194.9 436.3,172.6 419.8,208.7 421.5,212.4 418.9,215.7 436.3,252.2 413.3,223.8 404.4,227.9 405.8,216.8 407.5,212.4 404,207.1 402.8,194.2" fill="#e377c2" fill-opacity="0.45" stroke="#e377c2" stroke-width="0.8" stroke-linejoin="miter"/></g>
<text x="414.9" y="205.7" font-size="4.2" text-anchor="middle" fill="#222">0.5</text>
<text x="412.5" y="200.5" font-size="4.2" text-anchor="middle" fill="#222">1.0</text>
<text x="409.8" y="194.7" font-size="4.2" text-anchor="middle" fill="#222">1.5</text>
<text x="407.8" y="188.7" font-size="4.2" text-anchor="middle" fill="#222">2.0</text>
<text x="405.2" y="183" font-size="4.2" text-anchor="middle" fill="#222">2.5</text>
<text x="402.9" y="177.2" font-size="4.2" text-anchor="middle" fill="#222">3.0</text>
<text x="400.1" y="171.7" font-size="4.2" text-anchor="middle" fill="#222">3.5</text>
<text x="397.9" y="166.2" font-size="4.2" text-anchor="middle" fill="#222">4.0</text>
<rect x="406.9" y="152.9" width="16.6" height="7.6" fill="#fff"/><rect x="435.3" y="160.8" width="23" height="7.6" fill="#fff"/><rect x="459.1" y="180.9" width="18.7" height="7.6" fill="#fff"/><rect x="453.4" y="209.4" width="44" height="7.6" fill="#fff"/><rect x="458.6" y="238.8" width="23.5" height="7.6" fill="#fff"/><rect x="439.2" y="259.2" width="11.9" height="7.6" fill="#fff"/><rect x="402.2" y="264.3" width="25.2" height="7.6" fill="#fff"/><rect x="369.9" y="259.2" width="20.9" height="7.6" fill="#fff"/><rect x="349.3" y="238.8" width="20.9" height="7.6" fill="#fff"/><rect x="342.7" y="209.4" width="20.9" height="7.6" fill="#fff"/><rect x="354.2" y="180.9" width="16.6" height="7.6" fill="#fff"/><rect x="374.6" y="160.8" width="16.6" height="7.6" fill="#fff"/>
<text x="415.2" y="159.3" font-size="7.7" text-anchor="middle" stroke="#000" stroke-width="0.18">CD3</text>
<text x="446.8" y="167.2" font-size="7.7" text-anchor="middle" stroke="#000" stroke-width="0.18">PD-L1</text>
<text x="468.5" y="187.3" font-size="7.7" text-anchor="middle" stroke="#000" stroke-width="0.18">PD-1</text>
<text x="475.4" y="215.8" font-size="7.7" text-anchor="middle" stroke="#000" stroke-width="0.18">Granzyme B</text>
<text x="470.3" y="245.2" font-size="7.7" text-anchor="middle" stroke="#000" stroke-width="0.18">FoxP3</text>
<text x="445.1" y="265.6" font-size="7.7" text-anchor="middle" stroke="#000" stroke-width="0.18">CK</text>
<text x="414.8" y="270.7" font-size="7.7" text-anchor="middle" stroke="#000" stroke-width="0.18">CD163</text>
<text x="380.3" y="265.6" font-size="7.7" text-anchor="middle" stroke="#000" stroke-width="0.18">CD68</text>
<text x="359.7" y="245.2" font-size="7.7" text-anchor="middle" stroke="#000" stroke-width="0.18">CD56</text>
<text x="353.1" y="215.8" font-size="7.7" text-anchor="middle" stroke="#000" stroke-width="0.18">CD20</text>
<text x="362.5" y="187.3" font-size="7.7" text-anchor="middle" stroke="#000" stroke-width="0.18">CD8</text>
<text x="382.9" y="167.2" font-size="7.7" text-anchor="middle" stroke="#000" stroke-width="0.18">CD4</text>
<rect x="385.4" y="280" width="58" height="18.3" fill="#f1bbe0"/>
<text x="414.4" y="293.6" font-size="12.4" text-anchor="middle" fill="#111">Niche 7</text>
<g><polygon points="587.4,206 590.5,206.8 592.7,209 593.5,212.1 592.7,215.2 590.5,217.4 587.4,218.2 584.3,217.4 582.1,215.2 581.3,212.1 582.1,209 584.3,206.8" fill="none" stroke="#d4d4d4" stroke-width="0.6"/><polygon points="587.4,199.8 593.5,201.5 598,206 599.6,212.1 598,218.2 593.5,222.7 587.4,224.3 581.3,222.7 576.8,218.2 575.1,212.1 576.8,206 581.3,201.5" fill="none" stroke="#d4d4d4" stroke-width="0.6"/><polygon points="587.4,193.7 596.6,196.2 603.3,202.9 605.8,212.1 603.3,221.3 596.6,228 587.4,230.5 578.2,228 571.5,221.3 569,212.1 571.5,202.9 578.2,196.2" fill="none" stroke="#d4d4d4" stroke-width="0.6"/><polygon points="587.4,187.6 599.6,190.9 608.6,199.8 611.9,212.1 608.6,224.3 599.6,233.3 587.4,236.6 575.1,233.3 566.2,224.3 562.9,212.1 566.2,199.8 575.1,190.9" fill="none" stroke="#d4d4d4" stroke-width="0.6"/><polygon points="587.4,181.5 602.7,185.6 613.9,196.8 618,212.1 613.9,227.4 602.7,238.6 587.4,242.7 572.1,238.6 560.9,227.4 556.8,212.1 560.9,196.8 572.1,185.6" fill="none" stroke="#d4d4d4" stroke-width="0.6"/><polygon points="587.4,175.3 605.8,180.3 619.2,193.7 624.1,212.1 619.2,230.5 605.8,243.9 587.4,248.8 569,243.9 555.6,230.5 550.6,212.1 555.6,193.7 569,180.3" fill="none" stroke="#d4d4d4" stroke-width="0.6"/><polygon points="587.4,169.2 608.8,175 624.5,190.7 630.3,212.1 624.5,233.5 608.8,249.2 587.4,255 566,249.2 550.3,233.5 544.5,212.1 550.3,190.7 566,175" fill="none" stroke="#d4d4d4" stroke-width="0.6"/><path d="M587.4 212.1L587.4 163.1M587.4 212.1L611.9 169.7M587.4 212.1L629.8 187.6M587.4 212.1L636.4 212.1M587.4 212.1L629.8 236.6M587.4 212.1L611.9 254.5M587.4 212.1L587.4 261.1M587.4 212.1L562.9 254.5M587.4 212.1L545 236.6M587.4 212.1L538.4 212.1M587.4 212.1L545 187.6M587.4 212.1L562.9 169.7" stroke="#d0d0d0" stroke-width="0.6"/><polygon points="587.4,163.1 611.9,169.7 629.8,187.6 636.4,212.1 629.8,236.6 611.9,254.5 587.4,261.1 562.9,254.5 545,236.6 538.4,212.1 545,187.6 562.9,169.7" fill="none" stroke="#333" stroke-width="0.8"/><polygon points="587.4,180.4 606.9,178.4 605.8,201.5 604,212.1 599.5,219.1 604.9,242.3 587.4,238.7 572.5,237.9 578.7,217.1 577.8,212.1 568.7,201.3 570,182" fill="#7f7f7f" fill-opacity="0.45" stroke="#7f7f7f" stroke-width="0.8" stroke-linejoin="miter"/></g>
<text x="589" y="205.4" font-size="4.2" text-anchor="middle" fill="#222">0.5</text>
<text x="586.6" y="200.2" font-size="4.2" text-anchor="middle" fill="#222">1.0</text>
<text x="583.9" y="194.4" font-size="4.2" text-anchor="middle" fill="#222">1.5</text>
<text x="581.9" y="188.4" font-size="4.2" text-anchor="middle" fill="#222">2.0</text>
<text x="579.3" y="182.7" font-size="4.2" text-anchor="middle" fill="#222">2.5</text>
<text x="577" y="176.9" font-size="4.2" text-anchor="middle" fill="#222">3.0</text>
<text x="574.2" y="171.4" font-size="4.2" text-anchor="middle" fill="#222">3.5</text>
<text x="572" y="165.9" font-size="4.2" text-anchor="middle" fill="#222">4.0</text>
<rect x="581" y="152.6" width="16.6" height="7.6" fill="#fff"/><rect x="609.4" y="160.5" width="23" height="7.6" fill="#fff"/><rect x="633.2" y="180.6" width="18.7" height="7.6" fill="#fff"/><rect x="627.5" y="209.1" width="44" height="7.6" fill="#fff"/><rect x="632.7" y="238.5" width="23.5" height="7.6" fill="#fff"/><rect x="613.3" y="258.9" width="11.9" height="7.6" fill="#fff"/><rect x="576.3" y="264" width="25.2" height="7.6" fill="#fff"/><rect x="544" y="258.9" width="20.9" height="7.6" fill="#fff"/><rect x="523.4" y="238.5" width="20.9" height="7.6" fill="#fff"/><rect x="516.8" y="209.1" width="20.9" height="7.6" fill="#fff"/><rect x="528.3" y="180.6" width="16.6" height="7.6" fill="#fff"/><rect x="548.7" y="160.5" width="16.6" height="7.6" fill="#fff"/>
<text x="589.3" y="159" font-size="7.7" text-anchor="middle" stroke="#000" stroke-width="0.18">CD3</text>
<text x="620.9" y="166.9" font-size="7.7" text-anchor="middle" stroke="#000" stroke-width="0.18">PD-L1</text>
<text x="642.6" y="187" font-size="7.7" text-anchor="middle" stroke="#000" stroke-width="0.18">PD-1</text>
<text x="649.5" y="215.5" font-size="7.7" text-anchor="middle" stroke="#000" stroke-width="0.18">Granzyme B</text>
<text x="644.4" y="244.9" font-size="7.7" text-anchor="middle" stroke="#000" stroke-width="0.18">FoxP3</text>
<text x="619.2" y="265.3" font-size="7.7" text-anchor="middle" stroke="#000" stroke-width="0.18">CK</text>
<text x="588.9" y="270.4" font-size="7.7" text-anchor="middle" stroke="#000" stroke-width="0.18">CD163</text>
<text x="554.4" y="265.3" font-size="7.7" text-anchor="middle" stroke="#000" stroke-width="0.18">CD68</text>
<text x="533.8" y="244.9" font-size="7.7" text-anchor="middle" stroke="#000" stroke-width="0.18">CD56</text>
<text x="527.2" y="215.5" font-size="7.7" text-anchor="middle" stroke="#000" stroke-width="0.18">CD20</text>
<text x="536.6" y="187" font-size="7.7" text-anchor="middle" stroke="#000" stroke-width="0.18">CD8</text>
<text x="557" y="166.9" font-size="7.7" text-anchor="middle" stroke="#000" stroke-width="0.18">CD4</text>
<rect x="560.2" y="280" width="58" height="18.3" fill="#bfbfbf"/>
<text x="589.2" y="293.6" font-size="12.4" text-anchor="middle" fill="#111">Niche 8</text>
<g><polygon points="78.3,359 81.4,359.8 83.6,362 84.4,365.1 83.6,368.2 81.4,370.4 78.3,371.2 75.2,370.4 73,368.2 72.2,365.1 73,362 75.2,359.8" fill="none" stroke="#d4d4d4" stroke-width="0.6"/><polygon points="78.3,352.9 84.4,354.5 88.9,359 90.5,365.1 88.9,371.2 84.4,375.7 78.3,377.4 72.2,375.7 67.7,371.2 66,365.1 67.7,359 72.2,354.5" fill="none" stroke="#d4d4d4" stroke-width="0.6"/><polygon points="78.3,346.7 87.5,349.2 94.2,355.9 96.7,365.1 94.2,374.3 87.5,381 78.3,383.5 69.1,381 62.4,374.3 59.9,365.1 62.4,355.9 69.1,349.2" fill="none" stroke="#d4d4d4" stroke-width="0.6"/><polygon points="78.3,340.6 90.5,343.9 99.5,352.9 102.8,365.1 99.5,377.4 90.5,386.3 78.3,389.6 66,386.3 57.1,377.4 53.8,365.1 57.1,352.9 66,343.9" fill="none" stroke="#d4d4d4" stroke-width="0.6"/><polygon points="78.3,334.5 93.6,338.6 104.8,349.8 108.9,365.1 104.8,380.4 93.6,391.6 78.3,395.7 63,391.6 51.8,380.4 47.7,365.1 51.8,349.8 63,338.6" fill="none" stroke="#d4d4d4" stroke-width="0.6"/><polygon points="78.3,328.4 96.7,333.3 110.1,346.7 115,365.1 110.1,383.5 96.7,396.9 78.3,401.9 59.9,396.9 46.5,383.5 41.5,365.1 46.5,346.7 59.9,333.3" fill="none" stroke="#d4d4d4" stroke-width="0.6"/><polygon points="78.3,322.2 99.7,328 115.4,343.7 121.2,365.1 115.4,386.5 99.7,402.2 78.3,408 56.9,402.2 41.2,386.5 35.4,365.1 41.2,343.7 56.9,328" fill="none" stroke="#d4d4d4" stroke-width="0.6"/><path d="M78.3 365.1L78.3 316.1M78.3 365.1L102.8 322.7M78.3 365.1L120.7 340.6M78.3 365.1L127.3 365.1M78.3 365.1L120.7 389.6M78.3 365.1L102.8 407.5M78.3 365.1L78.3 414.1M78.3 365.1L53.8 407.5M78.3 365.1L35.9 389.6M78.3 365.1L29.3 365.1M78.3 365.1L35.9 340.6M78.3 365.1L53.8 322.7" stroke="#d0d0d0" stroke-width="0.6"/><polygon points="78.3,316.1 102.8,322.7 120.7,340.6 127.3,365.1 120.7,389.6 102.8,407.5 78.3,414.1 53.8,407.5 35.9,389.6 29.3,365.1 35.9,340.6 53.8,322.7" fill="none" stroke="#333" stroke-width="0.8"/><polygon points="78.3,341.8 83.9,355.4 85.7,360.9 87.3,365.1 84.7,368.8 102.8,407.5 78.3,379.5 67.9,383.1 63.8,373.5 72.5,365.1 70,360.3 65.5,343" fill="#bcbd22" fill-opacity="0.45" stroke="#bcbd22" stroke-width="0.8" stroke-linejoin="miter"/></g>
<text x="79.9" y="358.4" font-size="4.2" text-anchor="middle" fill="#222">0.5</text>
<text x="77.5" y="353.2" font-size="4.2" text-anchor="middle" fill="#222">1.0</text>
<text x="74.8" y="347.4" font-size="4.2" text-anchor="middle" fill="#222">1.5</text>
<text x="72.8" y="341.4" font-size="4.2" text-anchor="middle" fill="#222">2.0</text>
<text x="70.2" y="335.7" font-size="4.2" text-anchor="middle" fill="#222">2.5</text>
<text x="67.9" y="329.9" font-size="4.2" text-anchor="middle" fill="#222">3.0</text>
<text x="65.1" y="324.4" font-size="4.2" text-anchor="middle" fill="#222">3.5</text>
<text x="62.9" y="318.9" font-size="4.2" text-anchor="middle" fill="#222">4.0</text>
<rect x="71.9" y="305.6" width="16.6" height="7.6" fill="#fff"/><rect x="100.3" y="313.5" width="23" height="7.6" fill="#fff"/><rect x="124.1" y="333.6" width="18.7" height="7.6" fill="#fff"/><rect x="118.4" y="362.1" width="44" height="7.6" fill="#fff"/><rect x="123.6" y="391.5" width="23.5" height="7.6" fill="#fff"/><rect x="104.2" y="411.9" width="11.9" height="7.6" fill="#fff"/><rect x="67.2" y="417" width="25.2" height="7.6" fill="#fff"/><rect x="34.9" y="411.9" width="20.9" height="7.6" fill="#fff"/><rect x="14.3" y="391.5" width="20.9" height="7.6" fill="#fff"/><rect x="7.7" y="362.1" width="20.9" height="7.6" fill="#fff"/><rect x="19.2" y="333.6" width="16.6" height="7.6" fill="#fff"/><rect x="39.6" y="313.5" width="16.6" height="7.6" fill="#fff"/>
<text x="80.2" y="312" font-size="7.7" text-anchor="middle" stroke="#000" stroke-width="0.18">CD3</text>
<text x="111.8" y="319.9" font-size="7.7" text-anchor="middle" stroke="#000" stroke-width="0.18">PD-L1</text>
<text x="133.5" y="340" font-size="7.7" text-anchor="middle" stroke="#000" stroke-width="0.18">PD-1</text>
<text x="140.4" y="368.5" font-size="7.7" text-anchor="middle" stroke="#000" stroke-width="0.18">Granzyme B</text>
<text x="135.3" y="397.9" font-size="7.7" text-anchor="middle" stroke="#000" stroke-width="0.18">FoxP3</text>
<text x="110.1" y="418.3" font-size="7.7" text-anchor="middle" stroke="#000" stroke-width="0.18">CK</text>
<text x="79.8" y="423.4" font-size="7.7" text-anchor="middle" stroke="#000" stroke-width="0.18">CD163</text>
<text x="45.3" y="418.3" font-size="7.7" text-anchor="middle" stroke="#000" stroke-width="0.18">CD68</text>
<text x="24.7" y="397.9" font-size="7.7" text-anchor="middle" stroke="#000" stroke-width="0.18">CD56</text>
<text x="18.1" y="368.5" font-size="7.7" text-anchor="middle" stroke="#000" stroke-width="0.18">CD20</text>
<text x="27.5" y="340" font-size="7.7" text-anchor="middle" stroke="#000" stroke-width="0.18">CD8</text>
<text x="47.9" y="319.9" font-size="7.7" text-anchor="middle" stroke="#000" stroke-width="0.18">CD4</text>
<rect x="47.7" y="429.7" width="58" height="18.3" fill="#dede90"/>
<text x="76.7" y="443.3" font-size="12.4" text-anchor="middle" fill="#111">Niche 9</text>
<g><polygon points="249.1,359 252.2,359.8 254.4,362 255.2,365.1 254.4,368.2 252.2,370.4 249.1,371.2 246,370.4 243.8,368.2 243,365.1 243.8,362 246,359.8" fill="none" stroke="#d4d4d4" stroke-width="0.6"/><polygon points="249.1,352.9 255.2,354.5 259.7,359 261.4,365.1 259.7,371.2 255.2,375.7 249.1,377.4 243,375.7 238.5,371.2 236.8,365.1 238.5,359 243,354.5" fill="none" stroke="#d4d4d4" stroke-width="0.6"/><polygon points="249.1,346.7 258.3,349.2 265,355.9 267.5,365.1 265,374.3 258.3,381 249.1,383.5 239.9,381 233.2,374.3 230.7,365.1 233.2,355.9 239.9,349.2" fill="none" stroke="#d4d4d4" stroke-width="0.6"/><polygon points="249.1,340.6 261.3,343.9 270.3,352.9 273.6,365.1 270.3,377.4 261.3,386.3 249.1,389.6 236.8,386.3 227.9,377.4 224.6,365.1 227.9,352.9 236.8,343.9" fill="none" stroke="#d4d4d4" stroke-width="0.6"/><polygon points="249.1,334.5 264.4,338.6 275.6,349.8 279.7,365.1 275.6,380.4 264.4,391.6 249.1,395.7 233.8,391.6 222.6,380.4 218.5,365.1 222.6,349.8 233.8,338.6" fill="none" stroke="#d4d4d4" stroke-width="0.6"/><polygon points="249.1,328.4 267.5,333.3 280.9,346.7 285.9,365.1 280.9,383.5 267.5,396.9 249.1,401.9 230.7,396.9 217.3,383.5 212.3,365.1 217.3,346.7 230.7,333.3" fill="none" stroke="#d4d4d4" stroke-width="0.6"/><polygon points="249.1,322.2 270.5,328 286.2,343.7 292,365.1 286.2,386.5 270.5,402.2 249.1,408 227.7,402.2 212,386.5 206.2,365.1 212,343.7 227.7,328" fill="none" stroke="#d4d4d4" stroke-width="0.6"/><path d="M249.1 365.1L249.1 316.1M249.1 365.1L273.6 322.7M249.1 365.1L291.5 340.6M249.1 365.1L298.1 365.1M249.1 365.1L291.5 389.6M249.1 365.1L273.6 407.5M249.1 365.1L249.1 414.1M249.1 365.1L224.6 407.5M249.1 365.1L206.7 389.6M249.1 365.1L200.1 365.1M249.1 365.1L206.7 340.6M249.1 365.1L224.6 322.7" stroke="#d0d0d0" stroke-width="0.6"/><polygon points="249.1,316.1 273.6,322.7 291.5,340.6 298.1,365.1 291.5,389.6 273.6,407.5 249.1,414.1 224.6,407.5 206.7,389.6 200.1,365.1 206.7,340.6 224.6,322.7" fill="none" stroke="#333" stroke-width="0.8"/><polygon points="249.1,338.3 256.6,352.2 255.2,361.6 257.9,365.1 263.8,373.6 256.9,378.6 249.1,397 225.1,406.7 241.1,369.7 243,365.1 244.6,362.5 231.9,335.4" fill="#17becf" fill-opacity="0.45" stroke="#17becf" stroke-width="0.8" stroke-linejoin="miter"/></g>
<text x="250.7" y="358.4" font-size="4.2" text-anchor="middle" fill="#222">0.5</text>
<text x="248.3" y="353.2" font-size="4.2" text-anchor="middle" fill="#222">1.0</text>
<text x="245.6" y="347.4" font-size="4.2" text-anchor="middle" fill="#222">1.5</text>
<text x="243.6" y="341.4" font-size="4.2" text-anchor="middle" fill="#222">2.0</text>
<text x="241" y="335.7" font-size="4.2" text-anchor="middle" fill="#222">2.5</text>
<text x="238.7" y="329.9" font-size="4.2" text-anchor="middle" fill="#222">3.0</text>
<text x="235.9" y="324.4" font-size="4.2" text-anchor="middle" fill="#222">3.5</text>
<text x="233.7" y="318.9" font-size="4.2" text-anchor="middle" fill="#222">4.0</text>
<rect x="242.7" y="305.6" width="16.6" height="7.6" fill="#fff"/><rect x="271.1" y="313.5" width="23" height="7.6" fill="#fff"/><rect x="294.9" y="333.6" width="18.7" height="7.6" fill="#fff"/><rect x="289.2" y="362.1" width="44" height="7.6" fill="#fff"/><rect x="294.4" y="391.5" width="23.5" height="7.6" fill="#fff"/><rect x="275" y="411.9" width="11.9" height="7.6" fill="#fff"/><rect x="238" y="417" width="25.2" height="7.6" fill="#fff"/><rect x="205.7" y="411.9" width="20.9" height="7.6" fill="#fff"/><rect x="185.1" y="391.5" width="20.9" height="7.6" fill="#fff"/><rect x="178.5" y="362.1" width="20.9" height="7.6" fill="#fff"/><rect x="190" y="333.6" width="16.6" height="7.6" fill="#fff"/><rect x="210.4" y="313.5" width="16.6" height="7.6" fill="#fff"/>
<text x="251" y="312" font-size="7.7" text-anchor="middle" stroke="#000" stroke-width="0.18">CD3</text>
<text x="282.6" y="319.9" font-size="7.7" text-anchor="middle" stroke="#000" stroke-width="0.18">PD-L1</text>
<text x="304.3" y="340" font-size="7.7" text-anchor="middle" stroke="#000" stroke-width="0.18">PD-1</text>
<text x="311.2" y="368.5" font-size="7.7" text-anchor="middle" stroke="#000" stroke-width="0.18">Granzyme B</text>
<text x="306.1" y="397.9" font-size="7.7" text-anchor="middle" stroke="#000" stroke-width="0.18">FoxP3</text>
<text x="280.9" y="418.3" font-size="7.7" text-anchor="middle" stroke="#000" stroke-width="0.18">CK</text>
<text x="250.6" y="423.4" font-size="7.7" text-anchor="middle" stroke="#000" stroke-width="0.18">CD163</text>
<text x="216.1" y="418.3" font-size="7.7" text-anchor="middle" stroke="#000" stroke-width="0.18">CD68</text>
<text x="195.5" y="397.9" font-size="7.7" text-anchor="middle" stroke="#000" stroke-width="0.18">CD56</text>
<text x="188.9" y="368.5" font-size="7.7" text-anchor="middle" stroke="#000" stroke-width="0.18">CD20</text>
<text x="198.3" y="340" font-size="7.7" text-anchor="middle" stroke="#000" stroke-width="0.18">CD8</text>
<text x="218.7" y="319.9" font-size="7.7" text-anchor="middle" stroke="#000" stroke-width="0.18">CD4</text>
<rect x="222" y="429.7" width="58" height="18.3" fill="#8bdee7"/>
<text x="251" y="443.3" font-size="12.4" text-anchor="middle" fill="#111">Niche 10</text>
<g shape-rendering="crispEdges"><rect x="379.1" y="335.1" width="14.6" height="11.2" fill="#fbe9da"/><rect x="393.4" y="335.1" width="14.6" height="11.2" fill="#05061c"/><rect x="407.7" y="335.1" width="14.6" height="11.2" fill="#05061c"/><rect x="422" y="335.1" width="14.6" height="11.2" fill="#05061c"/><rect x="436.3" y="335.1" width="14.6" height="11.2" fill="#05061c"/><rect x="450.6" y="335.1" width="14.6" height="11.2" fill="#05061c"/><rect x="464.9" y="335.1" width="14.6" height="11.2" fill="#05061c"/><rect x="479.2" y="335.1" width="14.6" height="11.2" fill="#05061c"/><rect x="493.5" y="335.1" width="14.6" height="11.2" fill="#05061c"/><rect x="507.8" y="335.1" width="14.6" height="11.2" fill="#05061c"/><rect x="522.1" y="335.1" width="14.6" height="11.2" fill="#05061c"/><rect x="536.4" y="335.1" width="14.6" height="11.2" fill="#05061c"/><rect x="379.1" y="346" width="14.6" height="11.2" fill="#f5a97f"/><rect x="393.4" y="346" width="14.6" height="11.2" fill="#8c2068"/><rect x="407.7" y="346" width="14.6" height="11.2" fill="#ab1d5c"/><rect x="422" y="346" width="14.6" height="11.2" fill="#a01d60"/><rect x="436.3" y="346" width="14.6" height="11.2" fill="#721f5c"/><rect x="450.6" y="346" width="14.6" height="11.2" fill="#f5a97f"/><rect x="464.9" y="346" width="14.6" height="11.2" fill="#55185a"/><rect x="479.2" y="346" width="14.6" height="11.2" fill="#2a0f2e"/><rect x="493.5" y="346" width="14.6" height="11.2" fill="#5a1b56"/><rect x="507.8" y="346" width="14.6" height="11.2" fill="#431a48"/><rect x="522.1" y="346" width="14.6" height="11.2" fill="#3a1640"/><rect x="536.4" y="346" width="14.6" height="11.2" fill="#4f1a50"/><rect x="379.1" y="357" width="14.6" height="11.2" fill="#f5b08a"/><rect x="393.4" y="357" width="14.6" height="11.2" fill="#8f2068"/><rect x="407.7" y="357" width="14.6" height="11.2" fill="#e5403f"/><rect x="422" y="357" width="14.6" height="11.2" fill="#f0704a"/><rect x="436.3" y="357" width="14.6" height="11.2" fill="#dc2f45"/><rect x="450.6" y="357" width="14.6" height="11.2" fill="#9c1e63"/><rect x="464.9" y="357" width="14.6" height="11.2" fill="#5c1a5a"/><rect x="479.2" y="357" width="14.6" height="11.2" fill="#2f1238"/><rect x="493.5" y="357" width="14.6" height="11.2" fill="#4a1a4c"/><rect x="507.8" y="357" width="14.6" height="11.2" fill="#431a48"/><rect x="522.1" y="357" width="14.6" height="11.2" fill="#561c55"/><rect x="536.4" y="357" width="14.6" height="11.2" fill="#4a1a4c"/><rect x="379.1" y="367.9" width="14.6" height="11.2" fill="#f9d6be"/><rect x="393.4" y="367.9" width="14.6" height="11.2" fill="#b31c5b"/><rect x="407.7" y="367.9" width="14.6" height="11.2" fill="#d42448"/><rect x="422" y="367.9" width="14.6" height="11.2" fill="#ae1c5c"/><rect x="436.3" y="367.9" width="14.6" height="11.2" fill="#7a1f5c"/><rect x="450.6" y="367.9" width="14.6" height="11.2" fill="#6e1f5a"/><rect x="464.9" y="367.9" width="14.6" height="11.2" fill="#8c1e5e"/><rect x="479.2" y="367.9" width="14.6" height="11.2" fill="#2f1238"/><rect x="493.5" y="367.9" width="14.6" height="11.2" fill="#5b1c58"/><rect x="507.8" y="367.9" width="14.6" height="11.2" fill="#421a47"/><rect x="522.1" y="367.9" width="14.6" height="11.2" fill="#6c1f5c"/><rect x="536.4" y="367.9" width="14.6" height="11.2" fill="#531b52"/><rect x="379.1" y="378.8" width="14.6" height="11.2" fill="#7d1f63"/><rect x="393.4" y="378.8" width="14.6" height="11.2" fill="#d42447"/><rect x="407.7" y="378.8" width="14.6" height="11.2" fill="#f05a3a"/><rect x="422" y="378.8" width="14.6" height="11.2" fill="#f7c09a"/><rect x="436.3" y="378.8" width="14.6" height="11.2" fill="#e84438"/><rect x="450.6" y="378.8" width="14.6" height="11.2" fill="#8c2068"/><rect x="464.9" y="378.8" width="14.6" height="11.2" fill="#3f1845"/><rect x="479.2" y="378.8" width="14.6" height="11.2" fill="#37163f"/><rect x="493.5" y="378.8" width="14.6" height="11.2" fill="#3c1844"/><rect x="507.8" y="378.8" width="14.6" height="11.2" fill="#461a4a"/><rect x="522.1" y="378.8" width="14.6" height="11.2" fill="#8d1e5e"/><rect x="536.4" y="378.8" width="14.6" height="11.2" fill="#5b1d58"/><rect x="379.1" y="389.8" width="14.6" height="11.2" fill="#f06a45"/><rect x="393.4" y="389.8" width="14.6" height="11.2" fill="#e8413c"/><rect x="407.7" y="389.8" width="14.6" height="11.2" fill="#ee5a3c"/><rect x="422" y="389.8" width="14.6" height="11.2" fill="#e8443c"/><rect x="436.3" y="389.8" width="14.6" height="11.2" fill="#d42a48"/><rect x="450.6" y="389.8" width="14.6" height="11.2" fill="#f27a4e"/><rect x="464.9" y="389.8" width="14.6" height="11.2" fill="#4c1a4e"/><rect x="479.2" y="389.8" width="14.6" height="11.2" fill="#3f1845"/><rect x="493.5" y="389.8" width="14.6" height="11.2" fill="#b31a5b"/><rect x="507.8" y="389.8" width="14.6" height="11.2" fill="#aa1a5c"/><rect x="522.1" y="389.8" width="14.6" height="11.2" fill="#7e1f60"/><rect x="536.4" y="389.8" width="14.6" height="11.2" fill="#8e1e5e"/><rect x="379.1" y="400.7" width="14.6" height="11.2" fill="#f58258"/><rect x="393.4" y="400.7" width="14.6" height="11.2" fill="#f36b45"/><rect x="407.7" y="400.7" width="14.6" height="11.2" fill="#f06a45"/><rect x="422" y="400.7" width="14.6" height="11.2" fill="#e0333f"/><rect x="436.3" y="400.7" width="14.6" height="11.2" fill="#c8204f"/><rect x="450.6" y="400.7" width="14.6" height="11.2" fill="#8e1f63"/><rect x="464.9" y="400.7" width="14.6" height="11.2" fill="#561b54"/><rect x="479.2" y="400.7" width="14.6" height="11.2" fill="#8c1e62"/><rect x="493.5" y="400.7" width="14.6" height="11.2" fill="#c81a52"/><rect x="507.8" y="400.7" width="14.6" height="11.2" fill="#cc1a4f"/><rect x="522.1" y="400.7" width="14.6" height="11.2" fill="#8e1e60"/><rect x="536.4" y="400.7" width="14.6" height="11.2" fill="#8a1e5e"/><rect x="379.1" y="411.6" width="14.6" height="11.2" fill="#f8b895"/><rect x="393.4" y="411.6" width="14.6" height="11.2" fill="#f37548"/><rect x="407.7" y="411.6" width="14.6" height="11.2" fill="#ee5a3c"/><rect x="422" y="411.6" width="14.6" height="11.2" fill="#8a1e62"/><rect x="436.3" y="411.6" width="14.6" height="11.2" fill="#6e1f5c"/><rect x="450.6" y="411.6" width="14.6" height="11.2" fill="#661f5a"/><rect x="464.9" y="411.6" width="14.6" height="11.2" fill="#541c52"/><rect x="479.2" y="411.6" width="14.6" height="11.2" fill="#3a1642"/><rect x="493.5" y="411.6" width="14.6" height="11.2" fill="#a81a5c"/><rect x="507.8" y="411.6" width="14.6" height="11.2" fill="#a31a5c"/><rect x="522.1" y="411.6" width="14.6" height="11.2" fill="#731f5e"/><rect x="536.4" y="411.6" width="14.6" height="11.2" fill="#701f5d"/><rect x="379.1" y="422.5" width="14.6" height="11.2" fill="#7a1f63"/><rect x="393.4" y="422.5" width="14.6" height="11.2" fill="#f06a45"/><rect x="407.7" y="422.5" width="14.6" height="11.2" fill="#ee5a3c"/><rect x="422" y="422.5" width="14.6" height="11.2" fill="#d82547"/><rect x="436.3" y="422.5" width="14.6" height="11.2" fill="#d82547"/><rect x="450.6" y="422.5" width="14.6" height="11.2" fill="#c01a52"/><rect x="464.9" y="422.5" width="14.6" height="11.2" fill="#5c1b56"/><rect x="479.2" y="422.5" width="14.6" height="11.2" fill="#d62048"/><rect x="493.5" y="422.5" width="14.6" height="11.2" fill="#dc2a45"/><rect x="507.8" y="422.5" width="14.6" height="11.2" fill="#dc2a45"/><rect x="522.1" y="422.5" width="14.6" height="11.2" fill="#c21a52"/><rect x="536.4" y="422.5" width="14.6" height="11.2" fill="#a81c5c"/><rect x="379.1" y="433.5" width="14.6" height="11.2" fill="#6e1f5e"/><rect x="393.4" y="433.5" width="14.6" height="11.2" fill="#f8b890"/><rect x="407.7" y="433.5" width="14.6" height="11.2" fill="#f59c70"/><rect x="422" y="433.5" width="14.6" height="11.2" fill="#b3195a"/><rect x="436.3" y="433.5" width="14.6" height="11.2" fill="#a81c5e"/><rect x="450.6" y="433.5" width="14.6" height="11.2" fill="#521c52"/><rect x="464.9" y="433.5" width="14.6" height="11.2" fill="#1c0c26"/><rect x="479.2" y="433.5" width="14.6" height="11.2" fill="#7a1f60"/><rect x="493.5" y="433.5" width="14.6" height="11.2" fill="#7a1f60"/><rect x="507.8" y="433.5" width="14.6" height="11.2" fill="#7a1f60"/><rect x="522.1" y="433.5" width="14.6" height="11.2" fill="#8a1e5e"/><rect x="536.4" y="433.5" width="14.6" height="11.2" fill="#721f5d"/></g>
<rect x="379.1" y="345.3" width="171.6" height="1.4" fill="#f3eef3"/>
<rect x="379.1" y="378.1" width="171.6" height="1.4" fill="#f3eef3"/>
<rect x="379.1" y="389.1" width="171.6" height="1.4" fill="#f3eef3"/>
<rect x="379.1" y="421.8" width="171.6" height="1.4" fill="#f3eef3"/>
<text x="465.3" y="344.2" font-size="9.2" text-anchor="middle" font-weight="bold" fill="#fff">a</text>
<text x="465.3" y="367" font-size="9.2" text-anchor="middle" font-weight="bold" fill="#fff">b</text>
<text x="465.3" y="387.5" font-size="9.2" text-anchor="middle" font-weight="bold" fill="#fff">c</text>
<text x="465.3" y="411.2" font-size="9.2" text-anchor="middle" font-weight="bold" fill="#fff">d</text>
<text x="465.3" y="437.5" font-size="9.2" text-anchor="middle" font-weight="bold" fill="#fff">e</text>
<rect x="554" y="336.1" width="10.9" height="9.9" fill="#96d096"/>
<text x="559.5" y="344.7" font-size="9.2" text-anchor="middle" fill="#222" stroke="#222" stroke-width="0.12">3</text>
<line x1="550.8" y1="340.6" x2="552.6" y2="340.6" stroke="#aaa" stroke-width="0.5"/>
<rect x="554" y="347" width="10.9" height="9.9" fill="#f1bbe0"/>
<text x="559.5" y="355.6" font-size="9.2" text-anchor="middle" fill="#222" stroke="#222" stroke-width="0.12">7</text>
<line x1="550.8" y1="351.5" x2="552.6" y2="351.5" stroke="#aaa" stroke-width="0.5"/>
<rect x="554" y="358" width="10.9" height="9.9" fill="#8fbbda"/>
<text x="559.5" y="366.6" font-size="9.2" text-anchor="middle" fill="#222" stroke="#222" stroke-width="0.12">1</text>
<line x1="550.8" y1="362.4" x2="552.6" y2="362.4" stroke="#aaa" stroke-width="0.5"/>
<rect x="554" y="368.9" width="10.9" height="9.9" fill="#dede90"/>
<text x="559.5" y="377.5" font-size="9.2" text-anchor="middle" fill="#222" stroke="#222" stroke-width="0.12">9</text>
<line x1="550.8" y1="373.4" x2="552.6" y2="373.4" stroke="#aaa" stroke-width="0.5"/>
<rect x="554" y="379.8" width="10.9" height="9.9" fill="#8bdee7"/>
<text x="559.5" y="388.4" font-size="8.6" text-anchor="middle" fill="#222" stroke="#222" stroke-width="0.12">10</text>
<line x1="550.8" y1="384.3" x2="552.6" y2="384.3" stroke="#aaa" stroke-width="0.5"/>
<rect x="554" y="390.8" width="10.9" height="9.9" fill="#bfbfbf"/>
<text x="559.5" y="399.4" font-size="9.2" text-anchor="middle" fill="#222" stroke="#222" stroke-width="0.12">8</text>
<line x1="550.8" y1="395.2" x2="552.6" y2="395.2" stroke="#aaa" stroke-width="0.5"/>
<rect x="554" y="401.7" width="10.9" height="9.9" fill="#ffbf86"/>
<text x="559.5" y="410.3" font-size="9.2" text-anchor="middle" fill="#222" stroke="#222" stroke-width="0.12">2</text>
<line x1="550.8" y1="406.1" x2="552.6" y2="406.1" stroke="#aaa" stroke-width="0.5"/>
<rect x="554" y="412.6" width="10.9" height="9.9" fill="#ea9394"/>
<text x="559.5" y="421.2" font-size="9.2" text-anchor="middle" fill="#222" stroke="#222" stroke-width="0.12">4</text>
<line x1="550.8" y1="417.1" x2="552.6" y2="417.1" stroke="#aaa" stroke-width="0.5"/>
<rect x="554" y="423.5" width="10.9" height="9.9" fill="#cab3de"/>
<text x="559.5" y="432.1" font-size="9.2" text-anchor="middle" fill="#222" stroke="#222" stroke-width="0.12">5</text>
<line x1="550.8" y1="428" x2="552.6" y2="428" stroke="#aaa" stroke-width="0.5"/>
<rect x="554" y="434.5" width="10.9" height="9.9" fill="#c6aaa5"/>
<text x="559.5" y="443.1" font-size="9.2" text-anchor="middle" fill="#222" stroke="#222" stroke-width="0.12">6</text>
<line x1="550.8" y1="438.9" x2="552.6" y2="438.9" stroke="#aaa" stroke-width="0.5"/>
<line x1="386.2" y1="445.1" x2="386.2" y2="447" stroke="#aaa" stroke-width="0.5"/>
<text transform="translate(389.4,449) rotate(-90)" font-size="8.6" text-anchor="end" fill="#111">CK</text>
<line x1="400.6" y1="445.1" x2="400.6" y2="447" stroke="#aaa" stroke-width="0.5"/>
<text transform="translate(403.7,449) rotate(-90)" font-size="8.6" text-anchor="end" fill="#111">CD3</text>
<line x1="414.9" y1="445.1" x2="414.9" y2="447" stroke="#aaa" stroke-width="0.5"/>
<text transform="translate(418,449) rotate(-90)" font-size="8.6" text-anchor="end" fill="#111">CD4</text>
<line x1="429.2" y1="445.1" x2="429.2" y2="447" stroke="#aaa" stroke-width="0.5"/>
<text transform="translate(432.3,449) rotate(-90)" font-size="8.6" text-anchor="end" fill="#111">CD68</text>
<line x1="443.5" y1="445.1" x2="443.5" y2="447" stroke="#aaa" stroke-width="0.5"/>
<text transform="translate(446.6,449) rotate(-90)" font-size="8.6" text-anchor="end" fill="#111">CD163</text>
<line x1="457.8" y1="445.1" x2="457.8" y2="447" stroke="#aaa" stroke-width="0.5"/>
<text transform="translate(460.9,449) rotate(-90)" font-size="8.6" text-anchor="end" fill="#111">PD-L1</text>
<line x1="472.1" y1="445.1" x2="472.1" y2="447" stroke="#aaa" stroke-width="0.5"/>
<text transform="translate(475.2,449) rotate(-90)" font-size="8.6" text-anchor="end" fill="#111">CD56</text>
<line x1="486.4" y1="445.1" x2="486.4" y2="447" stroke="#aaa" stroke-width="0.5"/>
<text transform="translate(489.5,449) rotate(-90)" font-size="8.6" text-anchor="end" fill="#111">CD20</text>
<line x1="500.7" y1="445.1" x2="500.7" y2="447" stroke="#aaa" stroke-width="0.5"/>
<text transform="translate(503.8,449) rotate(-90)" font-size="8.6" text-anchor="end" fill="#111">CD8</text>
<line x1="515" y1="445.1" x2="515" y2="447" stroke="#aaa" stroke-width="0.5"/>
<text transform="translate(518.1,449) rotate(-90)" font-size="8.6" text-anchor="end" fill="#111">PD-1</text>
<line x1="529.2" y1="445.1" x2="529.2" y2="447" stroke="#aaa" stroke-width="0.5"/>
<text transform="translate(532.4,449) rotate(-90)" font-size="8.6" text-anchor="end" fill="#111">FoxP3</text>
<line x1="543.6" y1="445.1" x2="543.6" y2="447" stroke="#aaa" stroke-width="0.5"/>
<text transform="translate(546.7,449) rotate(-90)" font-size="8.6" text-anchor="end" fill="#111">GrB</text>
<defs><linearGradient id="mg" x1="0" y1="1" x2="0" y2="0"><stop offset="0.0000" stop-color="#000004"/><stop offset="0.0625" stop-color="#0a0822"/><stop offset="0.1250" stop-color="#1d1147"/><stop offset="0.1875" stop-color="#36106b"/><stop offset="0.2500" stop-color="#51127c"/><stop offset="0.3125" stop-color="#6a1c81"/><stop offset="0.3750" stop-color="#832681"/><stop offset="0.4375" stop-color="#9c2e7f"/><stop offset="0.5000" stop-color="#b73779"/><stop offset="0.5625" stop-color="#d0416f"/><stop offset="0.6250" stop-color="#e75263"/><stop offset="0.6875" stop-color="#f56b5c"/><stop offset="0.7500" stop-color="#fc8961"/><stop offset="0.8125" stop-color="#fea772"/><stop offset="0.8750" stop-color="#fec488"/><stop offset="0.9375" stop-color="#fde2a3"/><stop offset="1.0000" stop-color="#fcfdbf"/></linearGradient></defs>
<rect x="333.8" y="400" width="10.4" height="65" fill="url(#mg)"/>
<text x="347" y="403.3" font-size="9" fill="#111" stroke="#111" stroke-width="0.12">2</text>
<text x="347" y="436.3" font-size="9" fill="#111" stroke="#111" stroke-width="0.12">0</text>
<text x="344" y="468" font-size="9" fill="#111" stroke="#111" stroke-width="0.12">-2</text>
<path d="M386.2 335.1V308.6H447.3V320.3M422 324V320.3H472.7V321.4M407.7 330.6V324H436.3V328.6M400.6 335.1V330.6H414.9V335.1M429.2 335.1V328.6H443.5V335.1M457.8 335.1V321.4H488V326.5M472.1 335.1V326.5H503.5V329.2M486.4 335.1V329.2H522V330.5M507.8 332.6V330.5H536.4V331.8M500.7 335.1V332.6H515V335.1M529.2 335.1V331.8H543.6V335.1" stroke="#bdbdbd" stroke-width="0.7" fill="none"/>
<path d="M379.1 340.6H338.4V380.4H356.8M362 359.8H356.8V401.3H357.3M379.1 351.5H362V368H367.3M379.1 362.4H367.3V373.4H379.1M379.1 384.3H357.3V419.2H361.7M365.7 403.8H361.7V433.8H364.4M379.1 395.2H365.7V412H368.4M379.1 406.1H368.4V417.1H379.1M379.1 428H364.4V438.9H379.1" stroke="#bdbdbd" stroke-width="0.7" fill="none"/>
<text x="575.5" y="351.6" font-size="8.8" font-weight="bold" fill="#111" stroke="#111" stroke-width="0.12">Niche groups:</text>
<text x="575.5" y="365.7" font-size="8.9" fill="#222" stroke="#222" stroke-width="0.12">a. Carcinoma cell-dominant</text>
<text x="575.5" y="380.9" font-size="8.9" fill="#222" stroke="#222" stroke-width="0.12">b. Carcinoma cell-enriched</text>
<text x="575.5" y="397.2" font-size="8.9" fill="#222" stroke="#222" stroke-width="0.12">c. Macrophage-rich</text>
<text x="575.5" y="413" font-size="8.9" fill="#222" stroke="#222" stroke-width="0.12">d. Strong immune reaction</text>
<text x="575.5" y="429.6" font-size="8.9" fill="#222" stroke="#222" stroke-width="0.12">e. Lymphocyte-rich</text>
<rect x="25.9" y="495.2" width="285.1" height="128.8" fill="#fcfdbf"/>
<path d="M25.9 624V509H26.9V509.1H27.9V512.2H28.9V511H29.9V521.2H30.9V506.4H31.9V508.9H32.9V519.9H33.9V512.6H34.9V505.3H35.9V510.2H36.9V511H37.9V520.5H38.9V507H39.9V509.6H40.9V506H41.9V512.5H42.9V511H43.9V507H44.9V523.9H45.9V505H46.9V505.3H47.9V509.4H48.9V503.5H49.9V503.1H50.9V511.3H51.9V513.1H52.9V511.6H53.9V508.9H54.9V513H55.9V504.7H56.9V528.2H57.9V539.2H58.9V527.1H59.9V502.6H60.9V511.8H61.9V518.8H62.9V515.5H63.9V509.6H64.9V509.3H65.9V500.3H66.9V502.8H67.9V510.9H68.9V518.2H69.9V523.6H70.9V502H71.9V525.7H72.9V506.2H73.9V531.3H74.9V503.6H75.9V517.2H76.9V513.4H77.9V508.1H78.9V501.8H79.9V505.2H80.9V517.4H81.9V511.8H82.9V508.2H83.9V513.4H84.9V504.6H85.9V519.3H86.9V534.7H87.9V510.3H88.9V501H89.9V508.6H90.9V510.8H91.9V506.3H92.9V518.2H93.9V511.7H94.9V537.4H95.9V514.7H96.9V512.3H97.9V506.6H98.9V514.7H99.9V529.5H100.9V506.3H101.9V503.8H102.9V500.3H103.9V522.2H104.9V501.3H105.9V513.9H106.9V514H107.9V500.6H108.9V501.2H109.9V505.7H110.9V505.1H111.9V510.5H112.9V509.2H113.9V512.5H114.9V504.5H115.9V520.7H116.9V499.6H117.9V501H118.9V505.5H119.9V507.1H120.9V505.3H121.9V515H122.9V504.5H123.9V516.5H124.9V504.4H125.9V513.2H126.9V512.3H127.9V502.4H128.9V507.1H129.9V502.2H130.9V520.6H131.9V537.5H132.9V498.2H133.9V505.9H134.9V499H135.9V505.5H136.9V509.8H137.9V512.4H138.9V501.6H139.9V510.8H140.9V508.3H141.9V508.8H142.9V514.3H143.9V515.1H144.9V514.4H145.9V508.3H146.9V501.3H147.9V511.6H148.9V504.4H149.9V497.7H150.9V501.1H151.9V512.6H152.9V507.7H153.9V499.7H154.9V505.6H155.9V517.2H156.9V513.4H157.9V516.3H158.9V515.5H159.9V500.9H160.9V506H161.9V515.5H162.9V520.2H163.9V513H164.9V504.5H165.9V522.6H166.9V530.2H167.9V515.8H169V501.8H170V516.9H171V509H172V502.4H173V507.6H174V512.7H175V510.2H176V499.5H177V504H178V512.2H179V501H180V501.3H181V532.8H182V507.6H183V510.2H184V512.9H185V507.6H186V505.3H187V503.5H188V512.1H189V511.6H190V512H191V498.9H192V512.8H193V517H194V503.4H195V506.9H196V522.1H197V515.6H198V499.4H199V543.3H200V520.8H201V509.6H202V521.8H203V515.5H204V505.3H205V505.6H206V521H207V502.3H208V517.4H209V503.1H210V520.5H211V509.9H212V501.2H213V503.5H214V502.9H215V509.5H216V510.4H217V510.5H218V518H219V506.6H220V519.8H221V527.6H222V513.3H223V505.7H224V507.7H225V504.4H226V519.4H227V500.7H228V500.6H229V507.4H230V535.7H231V500.7H232V501.1H233V509H234V515.3H235V517.2H236V501.7H237V506H238V502.4H239V527.6H240V503H241V498.9H242V536.4H243V512.8H244V505.8H245V504.1H246V509.5H247V514.1H248V504.6H249V503.5H250V527.7H251V509H252V508.8H253V513H254V509H255V506H256V513.1H257V512.6H258V516.5H259V513.1H260V507.9H261V504.3H262V503.3H263V508.5H264V514.7H265V505.9H266V512.5H267V515.3H268V506.5H269V526.5H270V499.9H271V520.8H272V504.8H273V512.9H274V520.3H275V501.8H276V499.6H277V547.4H278V507.9H279V520H280V505.1H281V511.2H282V517.1H283V515.3H284V501.1H285V515.3H286V524H287V513H288V502.3H289V512.4H290V512.1H291V516.5H292V515.6H293V505H294V515.8H295V514.1H296V506.5H297V509.5H298V517.1H299V510.1H300V515.7H301V505H302V506.2H303V506.8H304V514.1H305V524.7H306V502H307V513.5H308V519.8H309V516.8H310V505.5H311V624Z" fill="#feca8d"/>
<path d="M25.9 624V564H26.9V560.7H27.9V573H28.9V564.8H29.9V569.5H30.9V572.7H31.9V556.4H32.9V571.9H33.9V577.9H34.9V553.4H35.9V564.4H36.9V576.9H37.9V562.4H38.9V564H39.9V573.7H40.9V584H41.9V569.1H42.9V569.9H43.9V564.4H44.9V565H45.9V573.8H46.9V557.5H47.9V560.7H48.9V560.3H49.9V559.1H50.9V565.5H51.9V551H52.9V571.2H53.9V552.4H54.9V562.7H55.9V554.3H56.9V569.6H57.9V586.3H58.9V586.7H59.9V566.5H60.9V570H61.9V584.6H62.9V552.6H63.9V568.7H64.9V541.2H65.9V564.3H66.9V572H67.9V560.1H68.9V551.4H69.9V563.1H70.9V560.3H71.9V566.4H72.9V594.7H73.9V565.5H74.9V578.9H75.9V569.4H76.9V550.4H77.9V555.2H78.9V562.1H79.9V567.2H80.9V570.5H81.9V572.2H82.9V586.6H83.9V567.3H84.9V561H85.9V547.8H86.9V581.3H87.9V548.3H88.9V564.9H89.9V573H90.9V562.9H91.9V568.2H92.9V566.1H93.9V549.6H94.9V576.1H95.9V555.4H96.9V550.4H97.9V529.3H98.9V558.7H99.9V554H100.9V586.2H101.9V569.5H102.9V565.7H103.9V560.7H104.9V541.5H105.9V554.9H106.9V539H107.9V578.9H108.9V546.3H109.9V548H110.9V557H111.9V529.9H112.9V548.3H113.9V545H114.9V550.6H115.9V536.8H116.9V531.4H117.9V555.6H118.9V557.1H119.9V545.6H120.9V544.8H121.9V549.7H122.9V547.9H123.9V546.8H124.9V546H125.9V537.5H126.9V542.6H127.9V552.2H128.9V544.9H129.9V533.8H130.9V542H131.9V569.3H132.9V554.7H133.9V539.8H134.9V554H135.9V542.3H136.9V542.1H137.9V534.5H138.9V540.7H139.9V534.1H140.9V534.3H141.9V529.2H142.9V540.5H143.9V539.6H144.9V533.1H145.9V546.9H146.9V520.3H147.9V532.1H148.9V528H149.9V522.6H150.9V519.2H151.9V530.4H152.9V537.5H153.9V520.4H154.9V524H155.9V539.6H156.9V531.4H157.9V525.4H158.9V535.7H159.9V524.5H160.9V524.7H161.9V542.3H162.9V540.5H163.9V523.4H164.9V532.5H165.9V563.4H166.9V548.6H167.9V529.3H169V520.9H170V554.1H171V519.6H172V547.4H173V527.5H174V556.8H175V528.8H176V540.8H177V516.5H178V526.5H179V531.3H180V527.1H181V543.5H182V524.1H183V523.1H184V548.4H185V524.6H186V539H187V515.7H188V544.3H189V524.2H190V533.5H191V513.1H192V532.1H193V528.1H194V529.7H195V519.5H196V537.8H197V526.2H198V519H199V551.4H200V540.7H201V545H202V530.6H203V522.5H204V528.1H205V516.2H206V530.4H207V514.3H208V525.6H209V514.8H210V526.9H211V521H212V510.4H213V525.9H214V514.1H215V519.6H216V519.5H217V520.6H218V526.4H219V517.3H220V526.4H221V542.7H222V518.9H223V517.3H224V514.2H225V510H226V526H227V511.8H228V510.5H229V517.3H230V541.8H231V507.2H232V511.2H233V521.2H234V521H235V524.9H236V516H237V518.5H238V512.1H239V531.4H240V518.1H241V513.3H242V540.6H243V518.2H244V517.6H245V509.7H246V516.5H247V521.4H248V509.2H249V523.3H250V531.5H251V513.1H252V514H253V525.8H254V512.7H255V517H256V521.4H257V520.2H258V522.9H259V521.9H260V515.4H261V509.4H262V516.3H263V515H264V520.5H265V511.7H266V521.3H267V521H268V513.4H269V533H270V505H271V523.7H272V508.6H273V523.3H274V526.4H275V507.2H276V503.8H277V550.5H278V521.9H279V525.1H280V511H281V515.6H282V522H283V521.6H284V506.6H285V518.2H286V531.1H287V516H288V505.9H289V526.5H290V519.3H291V521.5H292V517.7H293V507.9H294V522.9H295V516.6H296V511H297V511.4H298V525.8H299V520.3H300V519.6H301V510.2H302V516.6H303V510.6H304V519.8H305V527.7H306V509.1H307V516.5H308V522.2H309V523.7H310V508.5H311V624Z" fill="#fd9668"/>
<path d="M25.9 624V588.4H26.9V582.5H27.9V591.5H28.9V588.2H29.9V588.1H30.9V591.5H31.9V582.6H32.9V588.6H33.9V592.9H34.9V578.9H35.9V585.3H36.9V590.5H37.9V589.4H38.9V582H39.9V589.1H40.9V596.5H41.9V592H42.9V584.9H43.9V584.8H44.9V585.6H45.9V583.6H46.9V580.3H47.9V579.3H48.9V578H49.9V569.5H50.9V583.6H51.9V580.8H52.9V577.4H53.9V584.1H54.9V578.2H55.9V573H56.9V586.6H57.9V594.2H58.9V594.5H59.9V591.8H60.9V586.3H61.9V592.1H62.9V566.4H63.9V580.5H64.9V575.2H65.9V587.5H66.9V581.7H67.9V572.1H68.9V581.8H69.9V578.6H70.9V572.5H71.9V581.2H72.9V599.8H73.9V577.5H74.9V587.7H75.9V577.5H76.9V565.3H77.9V573.5H78.9V577.8H79.9V581.2H80.9V586.2H81.9V591.7H82.9V596.5H83.9V583.8H84.9V573.8H85.9V564.3H86.9V595H87.9V579.2H88.9V583H89.9V583.5H90.9V573.7H91.9V579.4H92.9V578.1H93.9V567.1H94.9V585.1H95.9V578.6H96.9V572H97.9V547.2H98.9V575.7H99.9V570.2H100.9V594.8H101.9V582H102.9V582.5H103.9V570.4H104.9V565.9H105.9V570.6H106.9V550.9H107.9V593.6H108.9V560.5H109.9V570.2H110.9V568H111.9V543.7H112.9V577.1H113.9V562.4H114.9V561.6H115.9V561.6H116.9V552.8H117.9V568.4H118.9V577.2H119.9V562.9H120.9V553.3H121.9V562.2H122.9V559.2H123.9V561.7H124.9V559.3H125.9V547.8H126.9V557.2H127.9V563.5H128.9V554.3H129.9V546.4H130.9V552.4H131.9V579.3H132.9V562.2H133.9V546.8H134.9V580.5H135.9V553.6H136.9V561.3H137.9V548.2H138.9V567.8H139.9V546.4H140.9V545.4H141.9V549.1H142.9V547.5H143.9V552.9H144.9V545.2H145.9V570.7H146.9V529.6H147.9V543.9H148.9V541.1H149.9V546.1H150.9V557.2H151.9V553.3H152.9V554.7H153.9V546.6H154.9V544.8H155.9V548.9H156.9V536.8H157.9V537.1H158.9V546.9H159.9V535.9H160.9V546H161.9V551.6H162.9V546.5H163.9V536.2H164.9V552H165.9V574.5H166.9V555.2H167.9V545.1H169V528.3H170V570.8H171V543.3H172V558.5H173V537.5H174V571.5H175V550.3H176V552.4H177V524.4H178V535.3H179V541.8H180V534.9H181V550.7H182V535.2H183V534.5H184V557.6H185V536.9H186V550.4H187V524.8H188V555.4H189V542.6H190V543.8H191V523.7H192V539.8H193V541.9H194V535.3H195V537.2H196V552.8H197V531.7H198V528.3H199V556.3H200V544.4H201V551.5H202V537.6H203V536H204V531.8H205V534H206V545.6H207V533.9H208V534.6H209V524.8H210V533.3H211V529.4H212V529H213V535.3H214V526.4H215V526.8H216V527.7H217V526.6H218V531.7H219V523.9H220V533.3H221V549.1H222V525.4H223V524.2H224V525H225V517.3H226V529.6H227V523.5H228V516.4H229V526.8H230V546H231V510.6H232V515.2H233V534.5H234V534H235V529.7H236V519.9H237V525H238V514H239V538.9H240V524.3H241V519.2H242V547.7H243V524.9H244V520.4H245V519.1H246V519.9H247V528.6H248V513.5H249V527.6H250V538.2H251V516.7H252V521.8H253V530.8H254V522.7H255V526H256V527.3H257V525H258V527.8H259V529.3H260V520.7H261V516.4H262V522.7H263V518.9H264V527.1H265V515.1H266V526H267V534.7H268V517.5H269V537.9H270V506.8H271V531.8H272V513.4H273V527H274V529.8H275V513.8H276V515.1H277V555.3H278V523.7H279V532.4H280V513.2H281V518.7H282V524.9H283V522.3H284V511.7H285V526.9H286V532.9H287V519.2H288V512.6H289V528H290V524.2H291V525.9H292V521.7H293V512.1H294V525.1H295V519.3H296V515.3H297V512.9H298V527.1H299V523H300V522H301V513.2H302V519.7H303V512.4H304V521.3H305V530H306V512.5H307V519.7H308V523.7H309V525.9H310V510.6H311V624Z" fill="#f1605d"/>
<path d="M25.9 624V601.8H26.9V595H27.9V600.3H28.9V601.3H29.9V602.3H30.9V602.3H31.9V599.3H32.9V599.8H33.9V603.8H34.9V590.5H35.9V598.3H36.9V602.5H37.9V597.6H38.9V594.7H39.9V604.2H40.9V603.6H41.9V599.4H42.9V602.4H43.9V600.7H44.9V599H45.9V591.3H46.9V594.1H47.9V590.3H48.9V594.7H49.9V584.7H50.9V600.9H51.9V590.9H52.9V590.7H53.9V595.5H54.9V590.6H55.9V587.9H56.9V593H57.9V602.3H58.9V608.1H59.9V600.7H60.9V596H61.9V596H62.9V580.9H63.9V596.3H64.9V591.1H65.9V594.6H66.9V603.6H67.9V586.9H68.9V595.1H69.9V592.2H70.9V591.2H71.9V589.7H72.9V604.4H73.9V583.8H74.9V599.9H75.9V586H76.9V589.8H77.9V588.3H78.9V585.4H79.9V591.8H80.9V597.8H81.9V601.4H82.9V601.5H83.9V590.4H84.9V585.4H85.9V576.6H86.9V601.6H87.9V591.9H88.9V590.6H89.9V594.1H90.9V585.6H91.9V586.1H92.9V592.8H93.9V585.9H94.9V594.4H95.9V595H96.9V577.4H97.9V574.7H98.9V588.6H99.9V583.7H100.9V598.8H101.9V590.3H102.9V593.2H103.9V580.5H104.9V573.1H105.9V584.6H106.9V564.3H107.9V599.4H108.9V569.1H109.9V585.3H110.9V581.9H111.9V561.7H112.9V587.2H113.9V569.9H114.9V576H115.9V569.4H116.9V563.3H117.9V574.4H118.9V583.9H119.9V570.9H120.9V573.5H121.9V572.8H122.9V568.1H123.9V575.5H124.9V574.1H125.9V560.1H126.9V571.1H127.9V585.1H128.9V563.1H129.9V555.2H130.9V565.8H131.9V589.9H132.9V570.5H133.9V563.9H134.9V584.9H135.9V561H136.9V571.5H137.9V555H138.9V577H139.9V558H140.9V571.2H141.9V562.8H142.9V568.8H143.9V562.9H144.9V558.3H145.9V579.3H146.9V539.4H147.9V551.2H148.9V544.9H149.9V558H150.9V562.2H151.9V562.8H152.9V563.4H153.9V558.3H154.9V560.5H155.9V557.7H156.9V547.2H157.9V544.4H158.9V550.8H159.9V542.2H160.9V551.9H161.9V556H162.9V553.5H163.9V547H164.9V562.7H165.9V580.9H166.9V561.3H167.9V566.7H169V536.1H170V575.4H171V566.1H172V569.6H173V546.9H174V576.8H175V558H176V557H177V533.1H178V544.2H179V550H180V550.1H181V566.1H182V546H183V544.9H184V565.6H185V540.3H186V555.1H187V528H188V560.3H189V549.2H190V549.6H191V530.7H192V544.3H193V554.7H194V545.7H195V549.5H196V560.4H197V537.8H198V540.8H199V564H200V548.7H201V561.4H202V549.4H203V548H204V536.4H205V537.3H206V552.2H207V539.6H208V542H209V535.9H210V544.9H211V536.3H212V534.3H213V541.9H214V536.6H215V532.2H216V533.2H217V532.7H218V543.5H219V530.5H220V537.6H221V555.9H222V530.8H223V534.7H224V537.2H225V522H226V534.6H227V535.8H228V521.6H229V529H230V552.2H231V522.5H232V520.2H233V538.2H234V540.1H235V542.8H236V525.8H237V532.9H238V523.2H239V544.5H240V529.6H241V525.9H242V551.9H243V532.2H244V523.6H245V523.5H246V526.2H247V533.8H248V516H249V532H250V541.7H251V523.8H252V528H253V537.6H254V530.3H255V528.9H256V531.1H257V531.6H258V532.1H259V532.6H260V523.1H261V533.3H262V527.9H263V523.7H264V530.9H265V517.6H266V529.4H267V540.5H268V520.6H269V541.2H270V510.2H271V539.2H272V517H273V531.8H274V533.4H275V515.2H276V519.1H277V556.5H278V526.8H279V537H280V517.1H281V524.6H282V530.9H283V524.7H284V514.4H285V529.3H286V535.3H287V522.8H288V517.3H289V530.1H290V525.5H291V529.2H292V526.4H293V516.3H294V527.2H295V524.3H296V517.7H297V516.1H298V530.8H299V525H300V523.8H301V515.8H302V521.6H303V514.1H304V525.2H305V534.7H306V514.2H307V522H308V524.8H309V530.6H310V514H311V624Z" fill="#cd4071"/>
<path d="M25.9 624V606.3H26.9V602.1H27.9V605.6H28.9V606H29.9V606H30.9V607.6H31.9V604.8H32.9V605.7H33.9V607.5H34.9V598.2H35.9V602.9H36.9V606.3H37.9V604.6H38.9V603.2H39.9V607.5H40.9V607.9H41.9V604H42.9V606.1H43.9V605.8H44.9V605.1H45.9V600H46.9V601.2H47.9V598.8H48.9V598.3H49.9V596H50.9V604.8H51.9V598.7H52.9V598.3H53.9V602.1H54.9V596.6H55.9V599.8H56.9V599.7H57.9V606.9H58.9V610.6H59.9V603.2H60.9V602.7H61.9V601.9H62.9V600.2H63.9V604.8H64.9V598.3H65.9V598H66.9V606H67.9V598.3H68.9V599.4H69.9V596.7H70.9V598.3H71.9V593.7H72.9V607.3H73.9V588.5H74.9V601.5H75.9V592.3H76.9V601.1H77.9V595.9H78.9V594.1H79.9V596.5H80.9V600.5H81.9V603.9H82.9V604.3H83.9V593.7H84.9V595.5H85.9V585.4H86.9V602.9H87.9V597.4H88.9V595.7H89.9V601.2H90.9V595.5H91.9V597.3H92.9V596.8H93.9V591H94.9V607.9H95.9V598.9H96.9V584.7H97.9V588.3H98.9V592.8H99.9V597.2H100.9V603.5H101.9V598.8H102.9V598.1H103.9V584.1H104.9V579.5H105.9V591.1H106.9V585.4H107.9V602.8H108.9V579.9H109.9V592.4H110.9V589.5H111.9V571.8H112.9V590.7H113.9V580.8H114.9V584.2H115.9V576.1H116.9V575.8H117.9V580.3H118.9V587.8H119.9V578H120.9V582.1H121.9V582.7H122.9V582.2H123.9V583H124.9V579.9H125.9V577H126.9V575.2H127.9V591.6H128.9V571.9H129.9V570.2H130.9V572.9H131.9V592.7H132.9V576.2H133.9V573.4H134.9V592H135.9V567.5H136.9V585.7H137.9V565.1H138.9V581H139.9V578.6H140.9V581.3H141.9V570.5H142.9V575.5H143.9V568H144.9V571.2H145.9V585.8H146.9V564H147.9V568.4H148.9V556.4H149.9V567.9H150.9V569.7H151.9V569.5H152.9V570.2H153.9V568.3H154.9V571.4H155.9V561.8H156.9V561.8H157.9V563.1H158.9V565.3H159.9V551.6H160.9V556.6H161.9V566.9H162.9V566H163.9V560.8H164.9V566.9H165.9V585.9H166.9V565.9H167.9V583.2H169V544.5H170V581H171V568.4H172V577.8H173V561H174V584.1H175V567H176V568.6H177V539.3H178V556.7H179V562.6H180V557.2H181V573.3H182V560.4H183V557.4H184V577.5H185V549.6H186V568H187V544.5H188V570H189V555H190V556.4H191V535.2H192V555.4H193V559.4H194V555H195V560.5H196V565.7H197V545.2H198V551.1H199V569.5H200V563.7H201V565.4H202V558.2H203V556.9H204V549.7H205V550.5H206V560.2H207V547H208V548.1H209V541.7H210V555.6H211V545.4H212V541H213V546.2H214V539.9H215V542.6H216V538.7H217V549.5H218V547.5H219V539.3H220V547.2H221V565.3H222V535.9H223V546.2H224V545.1H225V525H226V540.5H227V540.7H228V526.7H229V534.7H230V556.7H231V528.7H232V527.4H233V556.8H234V550.4H235V549.2H236V533.3H237V541.6H238V537.3H239V550.6H240V535.4H241V532.9H242V557.9H243V539.4H244V527.3H245V530.4H246V537.2H247V538.6H248V525.3H249V540H250V545.5H251V527.2H252V542.5H253V542.2H254V540.6H255V535.9H256V537.2H257V544.5H258V542.1H259V537.1H260V526.3H261V544.1H262V536.4H263V527.2H264V537H265V526.3H266V537H267V545H268V526.3H269V546.8H270V517.6H271V544.4H272V522H273V537.2H274V539.4H275V520.5H276V528.1H277V565.5H278V534.8H279V542.2H280V524.4H281V528.7H282V534.8H283V528.2H284V518H285V532.3H286V542.4H287V525.9H288V525.4H289V537.1H290V528.2H291V534.9H292V533.9H293V537.1H294V531.4H295V538.2H296V527.8H297V518.7H298V536.8H299V530.2H300V526.4H301V521.4H302V526.5H303V517.9H304V531.2H305V538.5H306V517.6H307V527.5H308V528.3H309V535.8H310V519.3H311V624Z" fill="#9e2f7f"/>
<path d="M25.9 624V610H26.9V606.8H27.9V609.9H28.9V610.8H29.9V610.6H30.9V610.9H31.9V608.8H32.9V610.5H33.9V610.9H34.9V603.3H35.9V606.4H36.9V610.1H37.9V608.4H38.9V608.9H39.9V610.7H40.9V611.3H41.9V608.1H42.9V609.3H43.9V609.6H44.9V609.2H45.9V606.6H46.9V607.1H47.9V604.4H48.9V606.2H49.9V601.3H50.9V607.8H51.9V602.4H52.9V602.1H53.9V608.5H54.9V602.2H55.9V603.7H56.9V604.4H57.9V609.5H58.9V612.6H59.9V606.1H60.9V607.6H61.9V604H62.9V607.1H63.9V610.9H64.9V606.4H65.9V603H66.9V608.7H67.9V601.9H68.9V603.6H69.9V605.3H70.9V603.6H71.9V603H72.9V611.5H73.9V599.9H74.9V608.8H75.9V600.2H76.9V606.1H77.9V603.7H78.9V598.3H79.9V601.6H80.9V606.1H81.9V608H82.9V609.4H83.9V598.1H84.9V601.9H85.9V590.4H86.9V608.3H87.9V601.6H88.9V599.4H89.9V609.1H90.9V601H91.9V607.1H92.9V601.1H93.9V598.2H94.9V611.8H95.9V605.5H96.9V596.3H97.9V598.2H98.9V603.4H99.9V609.3H100.9V608.3H101.9V605H102.9V603.8H103.9V592.1H104.9V588.7H105.9V600.9H106.9V593.3H107.9V610H108.9V591.6H109.9V598.4H110.9V604.4H111.9V583H112.9V601H113.9V593.3H114.9V593.1H115.9V587.6H116.9V589.6H117.9V595.1H118.9V597.4H119.9V590.7H120.9V596.7H121.9V595.4H122.9V591.5H123.9V600H124.9V593.4H125.9V590.1H126.9V591H127.9V599.2H128.9V595H129.9V584.3H130.9V582.6H131.9V602H132.9V586.9H133.9V591.6H134.9V604.9H135.9V580.1H136.9V599.3H137.9V591.1H138.9V593.5H139.9V595H140.9V597.1H141.9V581.4H142.9V585.5H143.9V587.3H144.9V591.2H145.9V594.8H146.9V587.7H147.9V589.7H148.9V580.4H149.9V587.9H150.9V595.3H151.9V584.8H152.9V583.2H153.9V593.5H154.9V595.6H155.9V591.8H156.9V579.1H157.9V589.8H158.9V576.3H159.9V578.4H160.9V594.3H161.9V588.8H162.9V585.4H163.9V584.3H164.9V592.5H165.9V603.4H166.9V590.1H167.9V595.6H169V574.7H170V592.2H171V583H172V598.1H173V579.9H174V595.3H175V585.3H176V587.8H177V571.6H178V594.1H179V573H180V580.2H181V588.8H182V581.3H183V577.4H184V598.4H185V577.4H186V585.4H187V575H188V593.4H189V587.7H190V577.8H191V565.9H192V580.4H193V592.9H194V586.2H195V584H196V585.4H197V580.3H198V566.8H199V594.5H200V596.8H201V580.3H202V574.1H203V587.8H204V570.5H205V583.4H206V578.1H207V589.6H208V571H209V580.7H210V590.3H211V576.8H212V576.8H213V579.8H214V571.1H215V565H216V573.5H217V572.7H218V577.7H219V576.5H220V573.1H221V581.7H222V562.4H223V580.2H224V578.4H225V557.7H226V581.5H227V577.6H228V571H229V572H230V575.7H231V573.9H232V564.1H233V578.4H234V576H235V577.9H236V562.3H237V570.6H238V569.8H239V572.2H240V561.6H241V577.3H242V575.1H243V568H244V559.3H245V560.2H246V561.1H247V571.7H248V565.3H249V575.3H250V574.7H251V572.9H252V591.5H253V575.2H254V572.6H255V578.8H256V564.6H257V587.3H258V574.7H259V584.2H260V555.4H261V589.7H262V578.3H263V568.3H264V567.4H265V574.8H266V567.4H267V576.1H268V581.9H269V591.4H270V559.1H271V581.8H272V554.8H273V566.8H274V580.3H275V567.1H276V551.3H277V593.5H278V562.4H279V574.6H280V575.1H281V569.5H282V579.6H283V568.4H284V559.7H285V564.8H286V574.3H287V570.7H288V565.9H289V559.3H290V568.4H291V570.9H292V564.5H293V580H294V571.7H295V557.7H296V564H297V575.3H298V571.6H299V579.3H300V555.4H301V544.3H302V571.3H303V568.2H304V571.7H305V559.8H306V563.2H307V579.5H308V550.1H309V575.6H310V576.8H311V624Z" fill="#721f81"/>
<path d="M25.9 624V614.8H26.9V612.4H27.9V615.6H28.9V615.6H29.9V615.6H30.9V615.9H31.9V613.6H32.9V615.5H33.9V615.5H34.9V611.5H35.9V614.6H36.9V614.9H37.9V612.7H38.9V613H39.9V614.7H40.9V616H41.9V612.1H42.9V614.4H43.9V614.3H44.9V613.8H45.9V613.2H46.9V611.1H47.9V612.9H48.9V612.6H49.9V608.9H50.9V613.4H51.9V609.2H52.9V611H53.9V613.9H54.9V609.8H55.9V608.8H56.9V610.3H57.9V613.3H58.9V617.1H59.9V610.3H60.9V613.1H61.9V609.1H62.9V612.6H63.9V614.4H64.9V611.2H65.9V611.4H66.9V612.1H67.9V611.9H68.9V610.5H69.9V610.7H70.9V608.4H71.9V610.7H72.9V614.9H73.9V607.5H74.9V613.7H75.9V612.4H76.9V612.2H77.9V609.2H78.9V606.7H79.9V607.9H80.9V611H81.9V613.5H82.9V611.7H83.9V603.6H84.9V609.9H85.9V601.8H86.9V612.8H87.9V608.8H88.9V608.5H89.9V612.4H90.9V608.6H91.9V613.9H92.9V606.7H93.9V603.9H94.9V614.7H95.9V611.2H96.9V605.8H97.9V610.3H98.9V607.3H99.9V614.5H100.9V613.1H101.9V608.6H102.9V606.7H103.9V602.6H104.9V594.1H105.9V607.1H106.9V603.6H107.9V613.6H108.9V598.5H109.9V606H110.9V609.3H111.9V589.8H112.9V606.9H113.9V600.2H114.9V604.6H115.9V593.1H116.9V596.1H117.9V601.9H118.9V607.4H119.9V600H120.9V604.9H121.9V599.9H122.9V601.9H123.9V608.7H124.9V600.9H125.9V604H126.9V596.3H127.9V605.5H128.9V603.9H129.9V588.9H130.9V587.7H131.9V605.9H132.9V598.6H133.9V601.5H134.9V609.2H135.9V588.2H136.9V605.1H137.9V597.1H138.9V597.5H139.9V601H140.9V603.2H141.9V589.1H142.9V594.5H143.9V597.6H144.9V600.6H145.9V602.2H146.9V596.7H147.9V594.7H148.9V591.7H149.9V601H150.9V604.3H151.9V596.8H152.9V593.8H153.9V602.8H154.9V601.3H155.9V600.1H156.9V594.4H157.9V594.6H158.9V585.5H159.9V586.4H160.9V604.6H161.9V594.8H162.9V591H163.9V589.7H164.9V600.8H165.9V607.9H166.9V597.5H167.9V601.6H169V587.4H170V602.4H171V597.5H172V604.5H173V599.3H174V601.1H175V594.1H176V600.4H177V584.1H178V599.2H179V599.4H180V588.9H181V599.2H182V588.4H183V584.6H184V605.4H185V586.4H186V597.8H187V586.5H188V600.8H189V599.6H190V601.6H191V578.2H192V591.5H193V602.6H194V599.7H195V593.3H196V601.4H197V589.4H198V583.3H199V599H200V603.6H201V590.3H202V586.8H203V597.1H204V581H205V594.4H206V598.3H207V598.1H208V589.7H209V594.6H210V601H211V592.2H212V587.4H213V591.1H214V585.7H215V584H216V585.6H217V584.7H218V585.2H219V585.9H220V585.5H221V592.8H222V586.5H223V591.9H224V589.5H225V592.4H226V591.2H227V590.2H228V584.5H229V580.7H230V587.7H231V587.4H232V576.4H233V588.9H234V584.6H235V583.8H236V578.5H237V580.7H238V586.5H239V582.3H240V581.1H241V590.2H242V584.9H243V581.4H244V577.7H245V585.8H246V595.6H247V585.6H248V591.3H249V583.2H250V597H251V587H252V600.2H253V590.8H254V584.5H255V589.9H256V578.2H257V595.6H258V595H259V592.3H260V570.6H261V597.8H262V597.6H263V588.4H264V582.1H265V585.4H266V583.7H267V591.6H268V592.7H269V603.2H270V575H271V595.8H272V567.3H273V574.8H274V589.6H275V579.6H276V570.2H277V598.1H278V578.6H279V584.1H280V585H281V586.8H282V597.4H283V575H284V571.3H285V582H286V584.9H287V584.3H288V575.7H289V574H290V579.7H291V589.9H292V574.8H293V591.3H294V585H295V573.5H296V581.1H297V584.2H298V581.4H299V589H300V569.3H301V557.4H302V582.8H303V575.3H304V579.8H305V572.7H306V575.1H307V594.7H308V558.8H309V585.8H310V594.1H311V624Z" fill="#440f76"/>
<path d="M25.9 624V618.6H26.9V617.3H27.9V619.1H28.9V619.2H29.9V618.8H30.9V619.4H31.9V618H32.9V619.1H33.9V619.3H34.9V616.3H35.9V618.8H36.9V618H37.9V617.4H38.9V617.5H39.9V618.3H40.9V619.2H41.9V618H42.9V618H43.9V618.8H44.9V618.5H45.9V617.8H46.9V614.7H47.9V616.6H48.9V617.6H49.9V614.5H50.9V619.7H51.9V615.1H52.9V618.4H53.9V618H54.9V615.9H55.9V613.5H56.9V614.7H57.9V618.7H58.9V619.3H59.9V617.4H60.9V618.1H61.9V613.9H62.9V617.5H63.9V618.7H64.9V615.1H65.9V615.5H66.9V617H67.9V616.8H68.9V615H69.9V617.6H70.9V613.8H71.9V614.1H72.9V619.3H73.9V613.7H74.9V616.5H75.9V616.6H76.9V615.6H77.9V615.4H78.9V613.9H79.9V613.4H80.9V615.4H81.9V618.3H82.9V615.9H83.9V611.6H84.9V614.8H85.9V610H86.9V615.8H87.9V613.8H88.9V613H89.9V616.1H90.9V612.9H91.9V617H92.9V613.9H93.9V611.7H94.9V616.8H95.9V617.4H96.9V612.2H97.9V613.4H98.9V614.4H99.9V617.1H100.9V616.7H101.9V614.6H102.9V615.3H103.9V608.7H104.9V601.6H105.9V613.1H106.9V611.3H107.9V617.6H108.9V610.4H109.9V613.7H110.9V613.1H111.9V599.4H112.9V614.6H113.9V605H114.9V612.3H115.9V604.1H116.9V604.3H117.9V608.4H118.9V611.4H119.9V606H120.9V610.9H121.9V602.9H122.9V605.4H123.9V615.5H124.9V607.7H125.9V609.6H126.9V605H127.9V610.2H128.9V610.7H129.9V604.8H130.9V598.6H131.9V610.3H132.9V608.8H133.9V609.7H134.9V613H135.9V597.7H136.9V612.7H137.9V608.3H138.9V604H139.9V607.7H140.9V611.7H141.9V597.6H142.9V602.5H143.9V607.6H144.9V606.3H145.9V609.2H146.9V607.9H147.9V603.9H148.9V603.1H149.9V606.7H150.9V610.2H151.9V603.7H152.9V598.8H153.9V611.7H154.9V614.4H155.9V606.8H156.9V600.1H157.9V602.9H158.9V596.8H159.9V595.6H160.9V613.7H161.9V600.6H162.9V602.8H163.9V608.4H164.9V616.9H165.9V611.3H166.9V603.3H167.9V607.6H169V599H170V610.5H171V602.1H172V608.8H173V606.4H174V609.1H175V602.1H176V607.5H177V593.8H178V607.9H179V610H180V597.1H181V602.7H182V597.8H183V593.9H184V614.9H185V598.5H186V607.7H187V595.8H188V610.2H189V606.1H190V609.3H191V593.5H192V600.1H193V608.7H194V607.9H195V601.4H196V605.5H197V601.3H198V597.1H199V608.5H200V610.6H201V596.6H202V602.8H203V605.7H204V595.4H205V602.5H206V603.2H207V603.8H208V603.8H209V604.9H210V606.7H211V600.1H212V603H213V608.3H214V593.6H215V596.6H216V595.2H217V597H218V601.3H219V596H220V590.4H221V603.2H222V605.3H223V607.2H224V595.1H225V602.9H226V600.5H227V603.9H228V600.7H229V587.6H230V594.2H231V597.5H232V595.2H233V597.5H234V600.6H235V590.9H236V592.8H237V590H238V601.6H239V588.4H240V598H241V599.9H242V594.1H243V591.7H244V598.8H245V597.9H246V607.9H247V590.3H248V605.9H249V594.1H250V609.2H251V597.3H252V605.4H253V598.9H254V595.2H255V598.5H256V594.8H257V608.1H258V602.3H259V598.7H260V581.6H261V607H262V607.4H263V605.6H264V596.2H265V601.7H266V593.8H267V602.7H268V603.8H269V609.6H270V587.6H271V600.6H272V584.6H273V588.6H274V600.5H275V592.2H276V596.1H277V604.5H278V594.1H279V591H280V596.7H281V594.2H282V605.2H283V583.6H284V588.1H285V590.7H286V591H287V596.3H288V590.4H289V593.6H290V595.1H291V596.9H292V596.2H293V603.5H294V594.1H295V582.4H296V598.4H297V601.2H298V597H299V595.9H300V582.4H301V573.7H302V594.9H303V588.3H304V587.2H305V585.1H306V582.6H307V603.8H308V571.5H309V593.7H310V601H311V624Z" fill="#180f3d"/>
<path d="M25.9 624V621.4H26.9V620.6H27.9V621.8H28.9V621.8H29.9V621.4H30.9V621.4H31.9V620.9H32.9V621.1H33.9V621.8H34.9V620.5H35.9V621.4H36.9V621.1H37.9V620.6H38.9V621.5H39.9V620.8H40.9V621.8H41.9V621.7H42.9V621.6H43.9V621.6H44.9V622.2H45.9V621.9H46.9V620.2H47.9V620.2H48.9V620.6H49.9V620.4H50.9V622.8H51.9V620.4H52.9V620.9H53.9V620.7H54.9V622.2H55.9V618.4H56.9V620.5H57.9V622.2H58.9V621.9H59.9V621.2H60.9V621.5H61.9V620.6H62.9V620.2H63.9V621.2H64.9V620.1H65.9V620.4H66.9V620.4H67.9V619.7H68.9V619.7H69.9V621H70.9V620.2H71.9V618.2H72.9V622H73.9V619.3H74.9V619.6H75.9V620H76.9V620.4H77.9V620.2H78.9V619.4H79.9V619.5H80.9V620.3H81.9V621.7H82.9V622.1H83.9V620.2H84.9V618.7H85.9V620.4H86.9V620.1H87.9V618.9H88.9V620.3H89.9V621.4H90.9V617.3H91.9V620.1H92.9V620.6H93.9V617.7H94.9V621.5H95.9V621.1H96.9V621.3H97.9V619.7H98.9V620.4H99.9V621H100.9V620.9H101.9V620.6H102.9V619.8H103.9V616.1H104.9V616.7H105.9V618.6H106.9V619.9H107.9V620.9H108.9V617.8H109.9V620.5H110.9V618.2H111.9V618.4H112.9V620H113.9V618.3H114.9V618H115.9V617.4H116.9V617.9H117.9V617.1H118.9V616.6H119.9V616.8H120.9V620H121.9V614.7H122.9V617.7H123.9V619.9H124.9V615H125.9V617.9H126.9V615.8H127.9V616H128.9V617.6H129.9V614.3H130.9V617.7H131.9V616.6H132.9V614.5H133.9V618.9H134.9V619.4H135.9V617.2H136.9V618.4H137.9V617H138.9V618.4H139.9V620.2H140.9V618.3H141.9V614H142.9V615.6H143.9V616.4H144.9V616.8H145.9V619.5H146.9V616.2H147.9V619.2H148.9V616H149.9V614.7H150.9V618.4H151.9V615.6H152.9V618.6H153.9V618.8H154.9V619.7H155.9V616.8H156.9V615.4H157.9V612.6H158.9V607.7H159.9V611.8H160.9V619.3H161.9V609.9H162.9V617.2H163.9V612.5H164.9V619.9H165.9V619.7H166.9V617.3H167.9V618.3H169V615.7H170V617.3H171V617.8H172V617.9H173V613.2H174V619.2H175V614.4H176V620.5H177V612.5H178V617.6H179V615.4H180V615.5H181V613.5H182V616H183V617.1H184V620.4H185V615.5H186V618.8H187V615.7H188V618.2H189V617.3H190V618H191V606.2H192V611.2H193V617.3H194V616.8H195V614.9H196V618.2H197V616.4H198V616.7H199V615.6H200V618.5H201V613.2H202V617.5H203V614.3H204V610.8H205V612.9H206V613.9H207V618.4H208V612.1H209V618.4H210V618.8H211V615.5H212V612.4H213V617.9H214V610.4H215V609.5H216V609.4H217V617.9H218V611.6H219V606.5H220V612.6H221V614.7H222V616.6H223V617H224V609H225V617.7H226V615.5H227V618H228V617.9H229V609.8H230V606.4H231V612.7H232V613.9H233V612.6H234V618.1H235V617.9H236V606.4H237V609.1H238V611.1H239V613.2H240V615.7H241V614.2H242V607.5H243V609H244V615.6H245V611.5H246V617.3H247V616.5H248V612.3H249V607H250V618.1H251V609.7H252V615H253V610.6H254V613.1H255V614.7H256V607.9H257V613.2H258V614.9H259V612.2H260V615H261V616.5H262V620.6H263V614.9H264V610.3H265V612.6H266V616H267V614H268V610.6H269V616.4H270V605.2H271V614.2H272V607.7H273V607.4H274V614.3H275V609.3H276V610.9H277V615.3H278V610.1H279V613H280V608.8H281V609.6H282V616.8H283V613.9H284V609.8H285V608.8H286V610.5H287V610.3H288V608.9H289V612.1H290V611.8H291V612.8H292V616.3H293V616.2H294V613.1H295V607H296V615.8H297V611.8H298V608.4H299V611.1H300V613.2H301V602.1H302V614.5H303V610.1H304V613.2H305V598.2H306V607.1H307V617.6H308V614.7H309V610.7H310V610.7H311V624Z" fill="#000004"/>
<text x="24.2" y="627" font-size="8.6" text-anchor="end" fill="#222" stroke="#222" stroke-width="0.12">0.0</text>
<text x="24.2" y="601.2" font-size="8.6" text-anchor="end" fill="#222" stroke="#222" stroke-width="0.12">0.2</text>
<text x="24.2" y="575.5" font-size="8.6" text-anchor="end" fill="#222" stroke="#222" stroke-width="0.12">0.4</text>
<text x="24.2" y="549.7" font-size="8.6" text-anchor="end" fill="#222" stroke="#222" stroke-width="0.12">0.6</text>
<text x="24.2" y="524" font-size="8.6" text-anchor="end" fill="#222" stroke="#222" stroke-width="0.12">0.8</text>
<text x="24.2" y="498.2" font-size="8.6" text-anchor="end" fill="#222" stroke="#222" stroke-width="0.12">1.0</text>
<text transform="translate(8.4,560) rotate(-90)" font-size="8.8" text-anchor="middle" fill="#222">Relative frequency</text>
<text x="169.2" y="493.6" font-size="9" text-anchor="middle" fill="#111" stroke="#111" stroke-width="0.12">Frequency of cell niches across tumor samples</text>
<text x="173.3" y="635.3" font-size="9" text-anchor="middle" fill="#111" stroke="#111" stroke-width="0.12">Tumor samples</text>
<rect x="313" y="496.1" width="8" height="6.2" fill="#fcfdbf"/>
<text x="325.3" y="502.3" font-size="8.6" fill="#222" stroke="#222" stroke-width="0.12">2</text>
<rect x="313" y="509.6" width="8" height="6.2" fill="#feca8d"/>
<text x="325.3" y="515.8" font-size="8.6" fill="#222" stroke="#222" stroke-width="0.12">5</text>
<rect x="313" y="523" width="8" height="6.2" fill="#fd9668"/>
<text x="325.3" y="529.2" font-size="8.6" fill="#222" stroke="#222" stroke-width="0.12">8</text>
<rect x="313" y="536.5" width="8" height="6.2" fill="#f1605d"/>
<text x="325.3" y="542.7" font-size="8.6" fill="#222" stroke="#222" stroke-width="0.12">6</text>
<rect x="313" y="549.9" width="8" height="6.2" fill="#cd4071"/>
<text x="325.3" y="556.1" font-size="8.6" fill="#222" stroke="#222" stroke-width="0.12">7</text>
<rect x="313" y="563.3" width="8" height="6.2" fill="#9e2f7f"/>
<text x="325.3" y="569.5" font-size="8.6" fill="#222" stroke="#222" stroke-width="0.12">3</text>
<rect x="313" y="576.8" width="8" height="6.2" fill="#721f81"/>
<text x="325.3" y="583" font-size="8.6" fill="#222" stroke="#222" stroke-width="0.12">4</text>
<rect x="313" y="590.3" width="8" height="6.2" fill="#440f76"/>
<text x="325.3" y="596.5" font-size="8.6" fill="#222" stroke="#222" stroke-width="0.12">10</text>
<rect x="313" y="603.7" width="8" height="6.2" fill="#180f3d"/>
<text x="325.3" y="609.9" font-size="8.6" fill="#222" stroke="#222" stroke-width="0.12">9</text>
<rect x="313" y="617.1" width="8" height="6.2" fill="#000004"/>
<text x="325.3" y="623.3" font-size="8.6" fill="#222" stroke="#222" stroke-width="0.12">1</text>
<defs><clipPath id="tc1"><path d="M85.8 677.8L85.7 680.1L85.4 682.5L84.9 684.8L84.2 687L83.3 689.2L82.2 691.2L80.9 693.2L79.5 695.1L77.9 696.8L76.2 698.4L74.3 699.8L72.3 701.1L70.3 702.2L68.1 703.1L65.9 703.8L63.6 704.3L61.2 704.6L58.9 704.7L56.6 704.6L54.2 704.3L51.9 703.8L49.7 703.1L47.5 702.2L45.5 701.1L43.5 699.8L41.6 698.4L39.9 696.8L38.3 695.1L36.9 693.2L35.6 691.2L34.5 689.2L33.6 687L32.9 684.8L32.4 682.5L32.1 680.1L32 677.8L32.1 675.5L32.4 673.1L32.9 670.8L33.6 668.6L34.5 666.4L35.6 664.3L36.9 662.4L38.3 660.5L39.9 658.8L41.6 657.2L43.5 655.8L45.4 654.5L47.5 653.4L49.7 652.5L51.9 651.8L54.2 651.3L56.6 651L58.9 650.9L61.2 651L63.6 651.3L65.9 651.8L68.1 652.5L70.3 653.4L72.3 654.5L74.3 655.8L76.2 657.2L77.9 658.8L79.5 660.5L80.9 662.4L82.2 664.3L83.3 666.4L84.2 668.6L84.9 670.8L85.4 673.1L85.7 675.5Z"/></clipPath><filter id="tf1_0" filterUnits="userSpaceOnUse" x="29" y="647.9" width="59.8" height="59.8" color-interpolation-filters="sRGB"><feTurbulence type="fractalNoise" baseFrequency="0.15" numOctaves="4" seed="11"/><feColorMatrix type="matrix" values="1 0 0 0 0 1 0 0 0 0 1 0 0 0 0 0 0 0 0 1"/><feComponentTransfer><feFuncR type="table" tableValues="0.000 0.000 0.000 0.001 0.003 0.008 0.019 0.041 0.082 0.149 0.244 0.364 0.500 0.636 0.756 0.851 0.918 0.959 0.981 0.992 0.997 0.999 1.000 1.000 1.000"/><feFuncG type="table" tableValues="0.000 0.000 0.000 0.001 0.003 0.008 0.019 0.041 0.082 0.149 0.244 0.364 0.500 0.636 0.756 0.851 0.918 0.959 0.981 0.992 0.997 0.999 1.000 1.000 1.000"/><feFuncB type="table" tableValues="0.000 0.000 0.000 0.001 0.003 0.008 0.019 0.041 0.082 0.149 0.244 0.364 0.500 0.636 0.756 0.851 0.918 0.959 0.981 0.992 0.997 0.999 1.000 1.000 1.000"/></feComponentTransfer><feComponentTransfer><feFuncR type="table" tableValues="0.659 0.675 0.690 0.706 0.725"/><feFuncG type="table" tableValues="0.620 0.635 0.651 0.667 0.686"/><feFuncB type="table" tableValues="0.776 0.788 0.800 0.812 0.824"/></feComponentTransfer><feConvolveMatrix order="3" kernelMatrix="1 2 1 2 4 2 1 2 1" edgeMode="duplicate"/></filter><clipPath id="tc2"><path d="M249.7 677.4L249.6 679.8L249.3 682.1L248.8 684.4L248.1 686.7L247.2 688.9L246.1 690.9L244.8 692.9L243.4 694.8L241.8 696.6L240 698.2L238.1 699.6L236.2 700.9L234.1 702L231.9 702.9L229.6 703.6L227.3 704.1L225 704.4L222.6 704.5L220.2 704.4L217.9 704.1L215.6 703.6L213.3 702.9L211.1 702L209.1 700.9L207.1 699.6L205.2 698.2L203.4 696.6L201.8 694.8L200.4 692.9L199.1 690.9L198 688.9L197.1 686.7L196.4 684.4L195.9 682.1L195.6 679.8L195.5 677.4L195.6 675L195.9 672.7L196.4 670.4L197.1 668.1L198 665.9L199.1 663.9L200.4 661.9L201.8 660L203.4 658.2L205.2 656.6L207.1 655.2L209 653.9L211.1 652.8L213.3 651.9L215.6 651.2L217.9 650.7L220.2 650.4L222.6 650.3L225 650.4L227.3 650.7L229.6 651.2L231.9 651.9L234.1 652.8L236.1 653.9L238.1 655.2L240 656.6L241.8 658.2L243.4 660L244.8 661.9L246.1 663.9L247.2 665.9L248.1 668.1L248.8 670.4L249.3 672.7L249.6 675Z"/></clipPath><filter id="tf2_0" filterUnits="userSpaceOnUse" x="192.5" y="647.3" width="60.2" height="60.2" color-interpolation-filters="sRGB"><feTurbulence type="turbulence" baseFrequency="0.14" numOctaves="1" seed="7"/><feColorMatrix type="matrix" values="1 0 0 0 0 1 0 0 0 0 1 0 0 0 0 0 0 0 0 1"/><feComponentTransfer><feFuncR type="table" tableValues="0.784 0.663 0.600 0.592 0.588 0.588 0.588 0.588 0.588 0.588"/><feFuncG type="table" tableValues="0.753 0.624 0.553 0.545 0.541 0.541 0.541 0.541 0.541 0.541"/><feFuncB type="table" tableValues="0.867 0.776 0.733 0.725 0.725 0.725 0.725 0.725 0.725 0.725"/></feComponentTransfer><feConvolveMatrix order="3" kernelMatrix="1 2 1 2 4 2 1 2 1" edgeMode="duplicate"/></filter><clipPath id="tc3"><path d="M142.7 678.6L142.6 680.9L142.3 683.3L141.8 685.6L141.1 687.8L140.2 690L139.1 692.1L137.8 694L136.4 695.9L134.8 697.6L133.1 699.2L131.2 700.6L129.2 701.9L127.2 703L125 703.9L122.8 704.6L120.5 705.1L118.1 705.4L115.8 705.5L113.5 705.4L111.1 705.1L108.8 704.6L106.6 703.9L104.4 703L102.4 701.9L100.4 700.6L98.5 699.2L96.8 697.6L95.2 695.9L93.8 694L92.5 692.1L91.4 690L90.5 687.8L89.8 685.6L89.3 683.3L89 680.9L88.9 678.6L89 676.3L89.3 673.9L89.8 671.6L90.5 669.4L91.6 667.3L93.3 665.6L95.3 664.2L97.5 663.2L99.7 662.5L101.8 661.9L103.6 661.2L105.3 660.4L106.8 659.4L108.3 658.1L109.9 656.6L111.6 655L113.6 653.6L115.8 653.4L117.9 654.4L119.9 655.3L122.1 655L124.7 654.1L127.2 654.2L129.2 655.3L131.2 656.6L133.1 658L134.8 659.6L136.4 661.3L137.8 663.2L139.1 665.1L140.2 667.2L141.1 669.4L141.8 671.6L142.3 673.9L142.6 676.3Z"/></clipPath><filter id="tf3_0" filterUnits="userSpaceOnUse" x="85.9" y="648.7" width="59.8" height="59.8" color-interpolation-filters="sRGB"><feTurbulence type="fractalNoise" baseFrequency="0.9" numOctaves="2" seed="21"/><feColorMatrix type="matrix" values="1 0 0 0 0 1 0 0 0 0 1 0 0 0 0 0 0 0 0 1"/><feComponentTransfer><feFuncR type="table" tableValues="0.000 0.000 0.000 0.001 0.003 0.008 0.019 0.041 0.082 0.149 0.244 0.364 0.500 0.636 0.756 0.851 0.918 0.959 0.981 0.992 0.997 0.999 1.000 1.000 1.000"/><feFuncG type="table" tableValues="0.000 0.000 0.000 0.001 0.003 0.008 0.019 0.041 0.082 0.149 0.244 0.364 0.500 0.636 0.756 0.851 0.918 0.959 0.981 0.992 0.997 0.999 1.000 1.000 1.000"/><feFuncB type="table" tableValues="0.000 0.000 0.000 0.001 0.003 0.008 0.019 0.041 0.082 0.149 0.244 0.364 0.500 0.636 0.756 0.851 0.918 0.959 0.981 0.992 0.997 0.999 1.000 1.000 1.000"/></feComponentTransfer><feComponentTransfer><feFuncR type="discrete" tableValues="0.784 1.000 1.000 0.918 0.784 0.604 1.000 0.604 0.918 0.784 0.580 0.580 0.784 1.000 0.918 1.000 0.784 0.580 0.784 0.918 0.784 1.000 0.784 1.000 0.784 0.580 1.000 0.890 0.890 1.000 1.000 0.604 0.890 0.173 1.000 0.918 0.549 0.784 1.000 0.090 0.580 0.918 0.604 0.784 0.784 0.580 0.580 0.604 1.000"/><feFuncG type="discrete" tableValues="0.659 1.000 1.000 0.847 0.784 0.604 1.000 0.604 0.847 0.659 0.404 0.404 0.784 1.000 0.847 1.000 0.784 0.404 0.784 0.847 0.659 0.498 0.784 1.000 0.659 0.404 1.000 0.467 0.467 1.000 1.000 0.604 0.467 0.627 1.000 0.847 0.337 0.784 1.000 0.745 0.404 0.847 0.604 0.659 0.784 0.404 0.404 0.604 1.000"/><feFuncB type="discrete" tableValues="0.871 1.000 1.000 0.937 0.784 0.604 1.000 0.604 0.937 0.871 0.741 0.741 0.784 1.000 0.937 1.000 0.784 0.741 0.784 0.937 0.871 0.055 0.784 1.000 0.871 0.741 1.000 0.761 0.761 1.000 1.000 0.604 0.761 0.173 1.000 0.937 0.294 0.784 1.000 0.812 0.741 0.937 0.604 0.871 0.784 0.741 0.741 0.604 1.000"/></feComponentTransfer><feConvolveMatrix order="3" kernelMatrix="1 2 1 2 4 2 1 2 1" edgeMode="duplicate"/></filter><filter id="tf3_1" filterUnits="userSpaceOnUse" x="85.9" y="648.7" width="59.8" height="59.8" color-interpolation-filters="sRGB"><feTurbulence type="fractalNoise" baseFrequency="0.13" numOctaves="3" seed="22"/><feColorMatrix type="matrix" values="0 0 0 0 0.612 0 0 0 0 0.447 0 0 0 0 0.816 1 0 0 0 0"/><feComponentTransfer><feFuncA type="table" tableValues="0.000 0.000 0.000 0.001 0.003 0.008 0.019 0.041 0.082 0.149 0.244 0.364 0.500 0.636 0.756 0.851 0.918 0.959 0.981 0.992 0.997 0.999 1.000 1.000 1.000"/></feComponentTransfer><feComponentTransfer><feFuncA type="discrete" tableValues="0 0 0 0 0 0 0 0 0 0 0 0 0 0 0 0 0 0 0 0 0 0 0 0 0 0 0 0 0 0 1 1 1 1 1 1 1 1 1 1 1 1 1 1 1 1 1 1 1 1"/></feComponentTransfer><feConvolveMatrix order="3" kernelMatrix="1 2 1 2 4 2 1 2 1" edgeMode="duplicate"/></filter><filter id="tf3_2" filterUnits="userSpaceOnUse" x="85.9" y="648.7" width="59.8" height="59.8" color-interpolation-filters="sRGB"><feTurbulence type="fractalNoise" baseFrequency="0.35" numOctaves="2" seed="23"/><feColorMatrix type="matrix" values="0 0 0 0 0.651 0 0 0 0 0.514 0 0 0 0 0.824 1 0 0 0 0"/><feComponentTransfer><feFuncA type="table" tableValues="0.000 0.000 0.000 0.001 0.003 0.008 0.019 0.041 0.082 0.149 0.244 0.364 0.500 0.636 0.756 0.851 0.918 0.959 0.981 0.992 0.997 0.999 1.000 1.000 1.000"/></feComponentTransfer><feComponentTransfer><feFuncA type="discrete" tableValues="0 0 0 0 0 0 0 0 0 0 0 0 0 0 0 0 0 0 0 0 0 0 0 0 0 0 0 0 0 0 0 0 0 0 0 0 0 0 0 0 0 0 0 0 0 1 1 1 1 1"/></feComponentTransfer><feConvolveMatrix order="3" kernelMatrix="1 2 1 2 4 2 1 2 1" edgeMode="duplicate"/></filter><clipPath id="tc4"><path d="M306.1 678.2L306 680.5L305.7 682.8L305.2 685.1L304.5 687.3L303.6 689.4L302.5 691.5L301.3 693.5L299.9 695.3L298.3 697L296.6 698.6L294.8 700L292.8 701.2L290.7 702.3L288.6 703.2L286.4 703.9L284.1 704.4L281.8 704.7L279.5 704.8L277.2 704.7L274.9 704.4L272.6 703.9L270.4 703.2L268.3 702.3L266.2 701.2L264.2 700L262.4 698.6L260.7 697L259.1 695.3L257.7 693.5L256.5 691.5L255.4 689.4L254.5 687.3L253.8 685.1L253.3 682.8L253 680.5L253 678.2L253.3 675.9L253.8 673.7L254.6 671.5L255.5 669.5L256.5 667.5L257.6 665.6L258.7 663.7L260 661.8L261.3 660L262.7 658.2L264.4 656.6L266.2 655.2L268.3 654.1L270.4 653.2L272.6 652.5L274.9 652L277.2 651.7L279.5 651.6L281.8 651.7L284.1 652L286.4 652.5L288.6 653.2L290.7 654.1L292.8 655.2L294.8 656.4L296.6 657.8L298.3 659.4L299.9 661.1L301.3 662.9L302.5 664.9L303.6 667L304.5 669.1L305.2 671.3L305.7 673.6L306 675.9Z"/></clipPath><filter id="tf4_0" filterUnits="userSpaceOnUse" x="249.9" y="648.6" width="59.2" height="59.2" color-interpolation-filters="sRGB"><feTurbulence type="fractalNoise" baseFrequency="0.9" numOctaves="2" seed="31"/><feColorMatrix type="matrix" values="1 0 0 0 0 1 0 0 0 0 1 0 0 0 0 0 0 0 0 1"/><feComponentTransfer><feFuncR type="table" tableValues="0.000 0.000 0.000 0.001 0.003 0.008 0.019 0.041 0.082 0.149 0.244 0.364 0.500 0.636 0.756 0.851 0.918 0.959 0.981 0.992 0.997 0.999 1.000 1.000 1.000"/><feFuncG type="table" tableValues="0.000 0.000 0.000 0.001 0.003 0.008 0.019 0.041 0.082 0.149 0.244 0.364 0.500 0.636 0.756 0.851 0.918 0.959 0.981 0.992 0.997 0.999 1.000 1.000 1.000"/><feFuncB type="table" tableValues="0.000 0.000 0.000 0.001 0.003 0.008 0.019 0.041 0.082 0.149 0.244 0.364 0.500 0.636 0.756 0.851 0.918 0.959 0.981 0.992 0.997 0.999 1.000 1.000 1.000"/></feComponentTransfer><feComponentTransfer><feFuncR type="discrete" tableValues="0.090 1.000 0.486 1.000 0.737 1.000 0.580 0.173 0.737 0.173 0.890 0.173 0.839 0.486 1.000 0.890 0.173 1.000 0.737 0.122 0.890 0.173 1.000 1.000 0.486 0.173 0.173 1.000 1.000 1.000 1.000 0.580 0.173 0.173 1.000 0.486 0.486 0.173 0.839 0.173 0.486 1.000 1.000 1.000 0.737 1.000 0.604 1.000"/><feFuncG type="discrete" tableValues="0.745 1.000 0.769 1.000 0.741 1.000 0.404 0.627 0.741 0.627 0.467 0.627 0.153 0.769 0.498 0.467 0.627 1.000 0.741 0.467 0.467 0.627 1.000 1.000 0.769 0.627 0.627 0.498 1.000 1.000 0.498 0.404 0.627 0.627 1.000 0.769 0.769 0.627 0.153 0.627 0.769 1.000 1.000 1.000 0.741 1.000 0.604 1.000"/><feFuncB type="discrete" tableValues="0.812 1.000 0.486 1.000 0.133 1.000 0.741 0.173 0.133 0.173 0.761 0.173 0.157 0.486 0.055 0.761 0.173 1.000 0.133 0.706 0.761 0.173 1.000 1.000 0.486 0.173 0.173 0.055 1.000 1.000 0.055 0.741 0.173 0.173 1.000 0.486 0.486 0.173 0.157 0.173 0.486 1.000 1.000 1.000 0.133 1.000 0.604 1.000"/></feComponentTransfer><feConvolveMatrix order="3" kernelMatrix="1 2 1 2 4 2 1 2 1" edgeMode="duplicate"/></filter><filter id="tf4_1" filterUnits="userSpaceOnUse" x="249.9" y="648.6" width="59.2" height="59.2" color-interpolation-filters="sRGB"><feTurbulence type="fractalNoise" baseFrequency="0.25" numOctaves="3" seed="32"/><feColorMatrix type="matrix" values="0 0 0 0 0.282 0 0 0 0 0.690 0 0 0 0 0.282 1 0 0 0 0"/><feComponentTransfer><feFuncA type="table" tableValues="0.000 0.000 0.000 0.001 0.003 0.008 0.019 0.041 0.082 0.149 0.244 0.364 0.500 0.636 0.756 0.851 0.918 0.959 0.981 0.992 0.997 0.999 1.000 1.000 1.000"/></feComponentTransfer><feComponentTransfer><feFuncA type="discrete" tableValues="0 0 0 0 0 0 0 0 0 0 0 0 0 0 0 0 0 0 0 0 0 0 0 0 0 0 0 0 0 0 0 0 0 0 0 0 1 1 1 1 1 1 1 1 1 1 1 1 1 1"/></feComponentTransfer><feConvolveMatrix order="3" kernelMatrix="1 2 1 2 4 2 1 2 1" edgeMode="duplicate"/></filter></defs>
<g clip-path="url(#tc1)"><rect x="29" y="647.9" width="59.8" height="59.8" filter="url(#tf1_0)"/></g>
<g clip-path="url(#tc2)"><rect x="192.5" y="647.3" width="60.2" height="60.2" filter="url(#tf2_0)"/></g>
<circle cx="222.6" cy="677.4" r="26.6" fill="none" stroke="#9890b0" stroke-width="1" opacity="0.35"/>
<circle cx="58.9" cy="677.8" r="26.4" fill="none" stroke="#9890b0" stroke-width="1" opacity="0.3"/>
<g clip-path="url(#tc3)"><rect x="85.9" y="648.7" width="59.8" height="59.8" filter="url(#tf3_0)"/><rect x="85.9" y="648.7" width="59.8" height="59.8" filter="url(#tf3_1)"/><rect x="85.9" y="648.7" width="59.8" height="59.8" filter="url(#tf3_2)"/></g>
<g clip-path="url(#tc4)"><rect x="249.9" y="648.6" width="59.2" height="59.2" filter="url(#tf4_0)"/><rect x="249.9" y="648.6" width="59.2" height="59.2" filter="url(#tf4_1)"/></g>
<text x="11.9" y="681.3" font-size="7.7" fill="#111" stroke="#111" stroke-width="0.12">H&amp;E</text>
<text x="175.4" y="681.3" font-size="7.7" fill="#111" stroke="#111" stroke-width="0.12">H&amp;E</text>
<rect x="147.7" y="674.7" width="10.7" height="7.5" fill="#9467bd"/>
<text x="161" y="681.8" font-size="8.8" fill="#111" stroke="#111" stroke-width="0.12">5</text>
<rect x="311" y="674.3" width="10.9" height="7.9" fill="#2ca02c"/>
<text x="325.4" y="681.8" font-size="8.8" fill="#111" stroke="#111" stroke-width="0.12">3</text>
<rect x="285.4" y="708" width="17.3" height="1.6" fill="#111"/>
<text x="295.4" y="719.2" font-size="8.5" text-anchor="middle" fill="#111" stroke="#111" stroke-width="0.12">500μm</text>
<path d="M82.1 752.4h2.2v12.4h-2.2zM90.1 752.4h2.2v12.4h-2.2zM188 752.4h2.2v12.4h-2.2zM193.8 752.4h2.2v12.4h-2.2zM211.4 752.4h2.2v12.4h-2.2z" fill="#000004" shape-rendering="crispEdges"/>
<path d="M56.4 752.4h2.2v12.4h-2.2zM102 752.4h2.2v12.4h-2.2zM115.8 752.4h2.2v12.4h-2.2zM127.6 752.4h2.2v12.4h-2.2zM195.8 752.4h2.2v12.4h-2.2zM209.4 752.4h2.2v12.4h-2.2z" fill="#02020d" shape-rendering="crispEdges"/>
<path d="M145.3 752.4h2.2v12.4h-2.2zM203.6 752.4h2.2v12.4h-2.2zM213.3 752.4h2.2v12.4h-2.2zM242.3 752.4h2.2v12.4h-2.2z" fill="#07061c" shape-rendering="crispEdges"/>
<path d="M52.4 752.4h2.2v12.4h-2.2zM70.2 752.4h2.2v12.4h-2.2zM80.2 752.4h2.2v12.4h-2.2zM105.9 752.4h2.2v12.4h-2.2zM113.8 752.4h2.2v12.4h-2.2zM123.6 752.4h2.2v12.4h-2.2zM137.4 752.4h2.2v12.4h-2.2zM165.7 752.4h2.3v12.4h-2.3zM179.9 752.4h2.3v12.4h-2.3zM207.5 752.4h2.2v12.4h-2.2zM221.1 752.4h2.2v12.4h-2.2zM226.9 752.4h2.2v12.4h-2.2zM228.9 752.4h2.2v12.4h-2.2z" fill="#0d0a29" shape-rendering="crispEdges"/>
<path d="M58.3 752.4h2.2v12.4h-2.2zM66.3 752.4h2.2v12.4h-2.2zM103.9 752.4h2.2v12.4h-2.2zM107.9 752.4h2.2v12.4h-2.2zM143.3 752.4h2.2v12.4h-2.2zM147.3 752.4h2.2v12.4h-2.2zM225 752.4h2.2v12.4h-2.2zM232.7 752.4h2.2v12.4h-2.2zM236.6 752.4h2.2v12.4h-2.2z" fill="#150e38" shape-rendering="crispEdges"/>
<path d="M31.1 801.4h2.2v12.4h-2.2zM34.9 801.4h2.2v12.4h-2.2zM36.9 801.4h2.2v12.4h-2.2zM40.7 801.4h2.2v12.4h-2.2zM46.5 801.4h2.2v12.4h-2.2zM50.4 752.4h2.2v12.4h-2.2zM60.3 752.4h2.2v12.4h-2.2zM62.3 752.4h2.2v12.4h-2.2zM88.1 752.4h2.2v12.4h-2.2zM119.7 752.4h2.2v12.4h-2.2zM139.4 752.4h2.2v12.4h-2.2zM167.7 752.4h2.3v12.4h-2.3zM181.9 752.4h2.3v12.4h-2.3zM186 752.4h2.3v12.4h-2.3zM217.2 752.4h2.2v12.4h-2.2zM223.1 752.4h2.2v12.4h-2.2zM234.6 752.4h2.2v12.4h-2.2z" fill="#1d1147" shape-rendering="crispEdges"/>
<path d="M27.2 801.4h2.2v12.4h-2.2zM44.6 801.4h2.2v12.4h-2.2zM48.5 801.4h2.2v12.4h-2.2zM74.2 752.4h2.2v12.4h-2.2zM92.1 752.4h2.2v12.4h-2.2zM100 752.4h2.2v12.4h-2.2zM125.6 752.4h2.2v12.4h-2.2zM133.5 752.4h2.2v12.4h-2.2zM141.4 752.4h2.2v12.4h-2.2zM205.5 752.4h2.2v12.4h-2.2zM240.4 752.4h2.2v12.4h-2.2zM244.3 752.4h2.2v12.4h-2.2z" fill="#271258" shape-rendering="crispEdges"/>
<path d="M33 801.4h2.2v12.4h-2.2zM64.3 752.4h2.2v12.4h-2.2zM68.3 752.4h2.2v12.4h-2.2zM72.2 752.4h2.2v12.4h-2.2zM76.2 752.4h2.2v12.4h-2.2zM96 752.4h2.2v12.4h-2.2zM109.8 752.4h2.2v12.4h-2.2zM117.7 752.4h2.2v12.4h-2.2zM121.7 752.4h2.2v12.4h-2.2zM169.8 752.4h2.3v12.4h-2.3zM173.8 752.4h2.3v12.4h-2.3zM183.9 752.4h2.3v12.4h-2.3zM191.9 752.4h2.2v12.4h-2.2zM215.3 752.4h2.2v12.4h-2.2zM238.5 752.4h2.2v12.4h-2.2z" fill="#311165" shape-rendering="crispEdges"/>
<path d="M78.2 752.4h2.2v12.4h-2.2zM84.1 752.4h2.2v12.4h-2.2zM88.1 801.4h2.2v12.4h-2.2zM94 752.4h2.2v12.4h-2.2zM111.8 752.4h2.2v12.4h-2.2zM149.2 752.4h2.2v12.4h-2.2zM171.8 752.4h2.3v12.4h-2.3zM175.8 752.4h2.3v12.4h-2.3zM189.9 752.4h2.2v12.4h-2.2zM197.7 752.4h2.2v12.4h-2.2zM219.2 752.4h2.2v12.4h-2.2zM236.6 776.9h2.2v12.4h-2.2z" fill="#3d0f71" shape-rendering="crispEdges"/>
<path d="M29.1 801.4h2.2v12.4h-2.2zM52.4 801.4h2.2v12.4h-2.2zM129.5 752.4h2.2v12.4h-2.2zM199.7 752.4h2.2v12.4h-2.2zM201.6 752.4h2.2v12.4h-2.2zM217.2 801.4h2.2v12.4h-2.2zM232.7 801.4h2.2v12.4h-2.2zM268.1 801.4h2.2v12.4h-2.2z" fill="#491078" shape-rendering="crispEdges"/>
<path d="M38.8 801.4h2.2v12.4h-2.2zM42.7 801.4h2.2v12.4h-2.2zM54.4 752.4h2.2v12.4h-2.2zM86.1 752.4h2.2v12.4h-2.2zM98 752.4h2.2v12.4h-2.2zM127.6 801.4h2.2v12.4h-2.2zM193.8 801.4h2.2v12.4h-2.2zM234.6 801.4h2.2v12.4h-2.2z" fill="#52137c" shape-rendering="crispEdges"/>
<path d="M82.1 801.4h2.2v12.4h-2.2zM121.7 801.4h2.2v12.4h-2.2zM131.5 752.4h2.2v12.4h-2.2zM205.5 776.9h2.2v12.4h-2.2zM236.6 801.4h2.2v12.4h-2.2z" fill="#5d177f" shape-rendering="crispEdges"/>
<path d="M54.4 801.4h2.2v12.4h-2.2zM64.3 801.4h2.2v12.4h-2.2zM66.3 801.4h2.2v12.4h-2.2zM102 801.4h2.2v12.4h-2.2zM129.5 801.4h2.2v12.4h-2.2zM161.6 752.4h2.3v12.4h-2.3zM201.6 801.4h2.2v12.4h-2.2zM219.2 801.4h2.2v12.4h-2.2zM230.8 752.4h2.2v12.4h-2.2zM234.6 776.9h2.2v12.4h-2.2zM248.2 850.5h2.2v12.4h-2.2zM274.1 801.4h2.2v12.4h-2.2zM278.1 801.4h2.2v12.4h-2.2z" fill="#671b80" shape-rendering="crispEdges"/>
<path d="M27.2 789.2h2.2v12.4h-2.2zM31.1 789.2h2.2v12.4h-2.2zM42.7 789.2h2.2v12.4h-2.2zM74.2 801.4h2.2v12.4h-2.2zM98 801.4h2.2v12.4h-2.2zM113.8 801.4h2.2v12.4h-2.2zM117.7 801.4h2.2v12.4h-2.2zM135.4 752.4h2.2v12.4h-2.2zM143.3 801.4h2.2v12.4h-2.2zM145.3 801.4h2.2v12.4h-2.2zM159.5 801.4h2.3v12.4h-2.3zM163.6 752.4h2.3v12.4h-2.3zM173.8 801.4h2.3v12.4h-2.3zM188 776.9h2.2v12.4h-2.2zM191.9 801.4h2.2v12.4h-2.2zM193.8 776.9h2.2v12.4h-2.2zM199.7 776.9h2.2v12.4h-2.2zM199.7 801.4h2.2v12.4h-2.2zM203.6 776.9h2.2v12.4h-2.2zM209.4 801.4h2.2v12.4h-2.2zM225 801.4h2.2v12.4h-2.2zM284 838.2h2.2v12.4h-2.2zM307.4 801.4h2.2v12.4h-2.2zM317.1 801.4h2.2v12.4h-2.2z" fill="#721f81" shape-rendering="crispEdges"/>
<path d="M36.9 789.2h2.2v12.4h-2.2zM44.6 789.2h2.2v12.4h-2.2zM46.5 789.2h2.2v12.4h-2.2zM56.4 801.4h2.2v12.4h-2.2zM60.3 850.5h2.2v12.4h-2.2zM80.2 801.4h2.2v12.4h-2.2zM82.1 850.5h2.2v12.4h-2.2zM105.9 801.4h2.2v12.4h-2.2zM107.9 801.4h2.2v12.4h-2.2zM139.4 801.4h2.2v12.4h-2.2zM147.3 801.4h2.2v12.4h-2.2zM149.2 801.4h2.2v12.4h-2.2zM153.3 801.4h2.3v12.4h-2.3zM159.5 752.4h2.3v12.4h-2.3zM163.6 801.4h2.3v12.4h-2.3zM165.7 776.9h2.3v12.4h-2.3zM177.9 752.4h2.3v12.4h-2.3zM186 776.9h2.3v12.4h-2.3zM201.6 776.9h2.2v12.4h-2.2zM205.5 801.4h2.2v12.4h-2.2zM207.5 801.4h2.2v12.4h-2.2zM207.5 838.2h2.2v12.4h-2.2zM209.4 789.2h2.2v12.4h-2.2zM213.3 776.9h2.2v12.4h-2.2zM223.1 776.9h2.2v12.4h-2.2zM232.7 776.9h2.2v12.4h-2.2zM240.4 776.9h2.2v12.4h-2.2zM242.3 776.9h2.2v12.4h-2.2zM244.3 801.4h2.2v12.4h-2.2zM248.2 801.4h2.2v12.4h-2.2zM262.1 862.7h2.2v12.4h-2.2zM286 801.4h2.2v12.4h-2.2zM301.6 862.7h2.2v12.4h-2.2z" fill="#7b2382" shape-rendering="crispEdges"/>
<path d="M29.1 789.2h2.2v12.4h-2.2zM34.9 789.2h2.2v12.4h-2.2zM86.1 801.4h2.2v12.4h-2.2zM92.1 801.4h2.2v12.4h-2.2zM115.8 801.4h2.2v12.4h-2.2zM123.6 801.4h2.2v12.4h-2.2zM125.6 801.4h2.2v12.4h-2.2zM151.2 752.4h2.3v12.4h-2.3zM155.3 801.4h2.3v12.4h-2.3zM179.9 776.9h2.3v12.4h-2.3zM191.9 776.9h2.2v12.4h-2.2zM195.8 776.9h2.2v12.4h-2.2zM197.7 776.9h2.2v12.4h-2.2zM213.3 801.4h2.2v12.4h-2.2zM215.3 776.9h2.2v12.4h-2.2zM215.3 801.4h2.2v12.4h-2.2zM217.2 776.9h2.2v12.4h-2.2zM226.9 776.9h2.2v12.4h-2.2zM228.9 801.4h2.2v12.4h-2.2zM244.3 776.9h2.2v12.4h-2.2zM250.2 850.5h2.2v12.4h-2.2zM256.2 801.4h2.2v12.4h-2.2zM260.1 801.4h2.2v12.4h-2.2zM262.1 850.5h2.2v12.4h-2.2zM266.1 862.7h2.2v12.4h-2.2zM270.1 801.4h2.2v12.4h-2.2zM278.1 862.7h2.2v12.4h-2.2zM288 801.4h2.2v12.4h-2.2zM293.9 801.4h2.2v12.4h-2.2zM301.6 838.2h2.2v12.4h-2.2z" fill="#862781" shape-rendering="crispEdges"/>
<path d="M48.5 789.2h2.2v12.4h-2.2zM58.3 801.4h2.2v12.4h-2.2zM58.3 850.5h2.2v12.4h-2.2zM62.3 801.4h2.2v12.4h-2.2zM66.3 850.5h2.2v12.4h-2.2zM72.2 801.4h2.2v12.4h-2.2zM80.2 850.5h2.2v12.4h-2.2zM90.1 838.2h2.2v12.4h-2.2zM94 801.4h2.2v12.4h-2.2zM153.3 752.4h2.3v12.4h-2.3zM157.4 801.4h2.3v12.4h-2.3zM161.6 801.4h2.3v12.4h-2.3zM169.8 776.9h2.3v12.4h-2.3zM171.8 776.9h2.3v12.4h-2.3zM175.8 776.9h2.3v12.4h-2.3zM203.6 801.4h2.2v12.4h-2.2zM207.5 776.9h2.2v12.4h-2.2zM211.4 801.4h2.2v12.4h-2.2zM221.1 776.9h2.2v12.4h-2.2zM221.1 801.4h2.2v12.4h-2.2zM223.1 801.4h2.2v12.4h-2.2zM225 776.9h2.2v12.4h-2.2zM226.9 801.4h2.2v12.4h-2.2zM228.9 776.9h2.2v12.4h-2.2zM240.4 801.4h2.2v12.4h-2.2zM246.2 838.2h2.2v12.4h-2.2zM256.2 850.5h2.2v12.4h-2.2zM270.1 838.2h2.2v12.4h-2.2zM274.1 850.5h2.2v12.4h-2.2zM274.1 862.7h2.2v12.4h-2.2zM276.1 850.5h2.2v12.4h-2.2zM280.1 838.2h2.2v12.4h-2.2zM290 838.2h2.2v12.4h-2.2zM297.8 801.4h2.2v12.4h-2.2zM301.6 801.4h2.2v12.4h-2.2zM309.4 838.2h2.2v12.4h-2.2zM309.4 862.7h2.2v12.4h-2.2zM311.3 862.7h2.2v12.4h-2.2zM317.1 850.5h2.2v12.4h-2.2z" fill="#912b81" shape-rendering="crispEdges"/>
<path d="M33 789.2h2.2v12.4h-2.2zM48.5 850.5h2.2v12.4h-2.2zM64.3 850.5h2.2v12.4h-2.2zM66.3 776.9h2.2v12.4h-2.2zM66.3 838.2h2.2v12.4h-2.2zM68.3 801.4h2.2v12.4h-2.2zM74.2 838.2h2.2v12.4h-2.2zM76.2 850.5h2.2v12.4h-2.2zM84.1 826h2.2v12.4h-2.2zM84.1 850.5h2.2v12.4h-2.2zM103.9 801.4h2.2v12.4h-2.2zM105.9 776.9h2.2v12.4h-2.2zM111.8 801.4h2.2v12.4h-2.2zM127.6 838.2h2.2v12.4h-2.2zM131.5 801.4h2.2v12.4h-2.2zM135.4 801.4h2.2v12.4h-2.2zM137.4 801.4h2.2v12.4h-2.2zM143.3 826h2.2v12.4h-2.2zM151.2 801.4h2.3v12.4h-2.3zM173.8 776.9h2.3v12.4h-2.3zM181.9 776.9h2.3v12.4h-2.3zM203.6 838.2h2.2v12.4h-2.2zM219.2 776.9h2.2v12.4h-2.2zM238.5 838.2h2.2v12.4h-2.2zM246.2 801.4h2.2v12.4h-2.2zM248.2 838.2h2.2v12.4h-2.2zM254.2 801.4h2.2v12.4h-2.2zM264.1 801.4h2.2v12.4h-2.2zM264.1 826h2.2v12.4h-2.2zM272.1 801.4h2.2v12.4h-2.2zM276.1 801.4h2.2v12.4h-2.2zM280.1 850.5h2.2v12.4h-2.2zM280.1 862.7h2.2v12.4h-2.2zM282 826h2.2v12.4h-2.2zM284 801.4h2.2v12.4h-2.2zM292 801.4h2.2v12.4h-2.2zM301.6 850.5h2.2v12.4h-2.2zM303.6 801.4h2.2v12.4h-2.2zM305.5 838.2h2.2v12.4h-2.2zM313.2 862.7h2.2v12.4h-2.2z" fill="#9b2e7f" shape-rendering="crispEdges"/>
<path d="M38.8 789.2h2.2v12.4h-2.2zM50.4 801.4h2.2v12.4h-2.2zM50.4 850.5h2.2v12.4h-2.2zM60.3 801.4h2.2v12.4h-2.2zM62.3 776.9h2.2v12.4h-2.2zM62.3 850.5h2.2v12.4h-2.2zM70.2 801.4h2.2v12.4h-2.2zM74.2 850.5h2.2v12.4h-2.2zM78.2 801.4h2.2v12.4h-2.2zM82.1 838.2h2.2v12.4h-2.2zM86.1 850.5h2.2v12.4h-2.2zM94 850.5h2.2v12.4h-2.2zM109.8 776.9h2.2v12.4h-2.2zM131.5 838.2h2.2v12.4h-2.2zM153.3 764.7h2.3v12.4h-2.3zM159.5 776.9h2.3v12.4h-2.3zM161.6 850.5h2.3v12.4h-2.3zM171.8 801.4h2.3v12.4h-2.3zM186 801.4h2.3v12.4h-2.3zM189.9 776.9h2.2v12.4h-2.2zM189.9 801.4h2.2v12.4h-2.2zM195.8 801.4h2.2v12.4h-2.2zM197.7 801.4h2.2v12.4h-2.2zM211.4 776.9h2.2v12.4h-2.2zM238.5 776.9h2.2v12.4h-2.2zM250.2 801.4h2.2v12.4h-2.2zM256.2 862.7h2.2v12.4h-2.2zM258.1 801.4h2.2v12.4h-2.2zM266.1 789.2h2.2v12.4h-2.2zM266.1 801.4h2.2v12.4h-2.2zM266.1 850.5h2.2v12.4h-2.2zM268.1 850.5h2.2v12.4h-2.2zM270.1 862.7h2.2v12.4h-2.2zM295.9 801.4h2.2v12.4h-2.2zM295.9 850.5h2.2v12.4h-2.2zM299.7 862.7h2.2v12.4h-2.2zM301.6 826h2.2v12.4h-2.2zM303.6 850.5h2.2v12.4h-2.2zM303.6 862.7h2.2v12.4h-2.2zM307.4 826h2.2v12.4h-2.2zM313.2 752.4h2.2v12.4h-2.2zM313.2 801.4h2.2v12.4h-2.2z" fill="#a6317d" shape-rendering="crispEdges"/>
<path d="M27.2 850.5h2.2v12.4h-2.2zM40.7 789.2h2.2v12.4h-2.2zM52.4 850.5h2.2v12.4h-2.2zM58.3 838.2h2.2v12.4h-2.2zM70.2 850.5h2.2v12.4h-2.2zM76.2 801.4h2.2v12.4h-2.2zM78.2 838.2h2.2v12.4h-2.2zM98 850.5h2.2v12.4h-2.2zM100 801.4h2.2v12.4h-2.2zM105.9 838.2h2.2v12.4h-2.2zM107.9 826h2.2v12.4h-2.2zM115.8 838.2h2.2v12.4h-2.2zM119.7 838.2h2.2v12.4h-2.2zM127.6 776.9h2.2v12.4h-2.2zM129.5 862.7h2.2v12.4h-2.2zM133.5 801.4h2.2v12.4h-2.2zM137.4 838.2h2.2v12.4h-2.2zM147.3 838.2h2.2v12.4h-2.2zM151.2 789.2h2.3v12.4h-2.3zM153.3 776.9h2.3v12.4h-2.3zM163.6 789.2h2.3v12.4h-2.3zM165.7 801.4h2.3v12.4h-2.3zM165.7 838.2h2.3v12.4h-2.3zM167.7 801.4h2.3v12.4h-2.3zM169.8 801.4h2.3v12.4h-2.3zM177.9 776.9h2.3v12.4h-2.3zM188 801.4h2.2v12.4h-2.2zM191.9 789.2h2.2v12.4h-2.2zM193.8 789.2h2.2v12.4h-2.2zM205.5 789.2h2.2v12.4h-2.2zM209.4 776.9h2.2v12.4h-2.2zM228.9 813.7h2.2v12.4h-2.2zM230.8 801.4h2.2v12.4h-2.2zM238.5 801.4h2.2v12.4h-2.2zM246.2 826h2.2v12.4h-2.2zM246.2 862.7h2.2v12.4h-2.2zM248.2 862.7h2.2v12.4h-2.2zM252.2 838.2h2.2v12.4h-2.2zM252.2 862.7h2.2v12.4h-2.2zM256.2 789.2h2.2v12.4h-2.2zM256.2 838.2h2.2v12.4h-2.2zM262.1 801.4h2.2v12.4h-2.2zM262.1 838.2h2.2v12.4h-2.2zM264.1 850.5h2.2v12.4h-2.2zM264.1 862.7h2.2v12.4h-2.2zM266.1 838.2h2.2v12.4h-2.2zM278.1 826h2.2v12.4h-2.2zM278.1 850.5h2.2v12.4h-2.2zM280.1 826h2.2v12.4h-2.2zM282 801.4h2.2v12.4h-2.2zM282 850.5h2.2v12.4h-2.2zM284 862.7h2.2v12.4h-2.2zM286 862.7h2.2v12.4h-2.2zM288 862.7h2.2v12.4h-2.2zM290 862.7h2.2v12.4h-2.2zM297.8 838.2h2.2v12.4h-2.2zM303.6 752.4h2.2v12.4h-2.2zM303.6 826h2.2v12.4h-2.2zM307.4 838.2h2.2v12.4h-2.2zM307.4 862.7h2.2v12.4h-2.2zM309.4 850.5h2.2v12.4h-2.2zM311.3 752.4h2.2v12.4h-2.2zM313.2 850.5h2.2v12.4h-2.2zM315.1 801.4h2.2v12.4h-2.2z" fill="#b0357b" shape-rendering="crispEdges"/>
<path d="M34.9 752.4h2.2v12.4h-2.2zM34.9 764.7h2.2v12.4h-2.2zM54.4 850.5h2.2v12.4h-2.2zM56.4 850.5h2.2v12.4h-2.2zM60.3 776.9h2.2v12.4h-2.2zM66.3 826h2.2v12.4h-2.2zM72.2 838.2h2.2v12.4h-2.2zM80.2 826h2.2v12.4h-2.2zM96 801.4h2.2v12.4h-2.2zM96 850.5h2.2v12.4h-2.2zM98 838.2h2.2v12.4h-2.2zM102 776.9h2.2v12.4h-2.2zM109.8 801.4h2.2v12.4h-2.2zM119.7 801.4h2.2v12.4h-2.2zM139.4 776.9h2.2v12.4h-2.2zM143.3 862.7h2.2v12.4h-2.2zM153.3 789.2h2.3v12.4h-2.3zM155.3 752.4h2.3v12.4h-2.3zM155.3 764.7h2.3v12.4h-2.3zM157.4 752.4h2.3v12.4h-2.3zM157.4 764.7h2.3v12.4h-2.3zM157.4 850.5h2.3v12.4h-2.3zM159.5 764.7h2.3v12.4h-2.3zM161.6 764.7h2.3v12.4h-2.3zM161.6 789.2h2.3v12.4h-2.3zM191.9 764.7h2.2v12.4h-2.2zM191.9 838.2h2.2v12.4h-2.2zM195.8 789.2h2.2v12.4h-2.2zM207.5 789.2h2.2v12.4h-2.2zM215.3 789.2h2.2v12.4h-2.2zM225 838.2h2.2v12.4h-2.2zM240.4 838.2h2.2v12.4h-2.2zM242.3 801.4h2.2v12.4h-2.2zM246.2 789.2h2.2v12.4h-2.2zM246.2 850.5h2.2v12.4h-2.2zM248.2 789.2h2.2v12.4h-2.2zM250.2 838.2h2.2v12.4h-2.2zM254.2 850.5h2.2v12.4h-2.2zM258.1 826h2.2v12.4h-2.2zM260.1 838.2h2.2v12.4h-2.2zM260.1 850.5h2.2v12.4h-2.2zM266.1 826h2.2v12.4h-2.2zM272.1 826h2.2v12.4h-2.2zM272.1 838.2h2.2v12.4h-2.2zM272.1 862.7h2.2v12.4h-2.2zM274.1 838.2h2.2v12.4h-2.2zM276.1 826h2.2v12.4h-2.2zM276.1 862.7h2.2v12.4h-2.2zM280.1 801.4h2.2v12.4h-2.2zM290 801.4h2.2v12.4h-2.2zM292 850.5h2.2v12.4h-2.2zM293.9 826h2.2v12.4h-2.2zM293.9 862.7h2.2v12.4h-2.2zM295.9 752.4h2.2v12.4h-2.2zM295.9 838.2h2.2v12.4h-2.2zM297.8 826h2.2v12.4h-2.2zM297.8 862.7h2.2v12.4h-2.2zM303.6 838.2h2.2v12.4h-2.2zM305.5 801.4h2.2v12.4h-2.2zM305.5 850.5h2.2v12.4h-2.2zM307.4 850.5h2.2v12.4h-2.2zM313.2 826h2.2v12.4h-2.2zM315.1 752.4h2.2v12.4h-2.2z" fill="#bc3978" shape-rendering="crispEdges"/>
<path d="M29.1 850.5h2.2v12.4h-2.2zM31.1 764.7h2.2v12.4h-2.2zM36.9 776.9h2.2v12.4h-2.2zM40.7 838.2h2.2v12.4h-2.2zM44.6 752.4h2.2v12.4h-2.2zM48.5 752.4h2.2v12.4h-2.2zM50.4 838.2h2.2v12.4h-2.2zM60.3 826h2.2v12.4h-2.2zM60.3 838.2h2.2v12.4h-2.2zM70.2 776.9h2.2v12.4h-2.2zM72.2 862.7h2.2v12.4h-2.2zM80.2 838.2h2.2v12.4h-2.2zM84.1 838.2h2.2v12.4h-2.2zM90.1 801.4h2.2v12.4h-2.2zM90.1 850.5h2.2v12.4h-2.2zM92.1 776.9h2.2v12.4h-2.2zM92.1 850.5h2.2v12.4h-2.2zM94 838.2h2.2v12.4h-2.2zM96 838.2h2.2v12.4h-2.2zM107.9 838.2h2.2v12.4h-2.2zM111.8 862.7h2.2v12.4h-2.2zM113.8 776.9h2.2v12.4h-2.2zM113.8 838.2h2.2v12.4h-2.2zM117.7 838.2h2.2v12.4h-2.2zM117.7 862.7h2.2v12.4h-2.2zM121.7 826h2.2v12.4h-2.2zM129.5 776.9h2.2v12.4h-2.2zM131.5 850.5h2.2v12.4h-2.2zM139.4 838.2h2.2v12.4h-2.2zM141.4 862.7h2.2v12.4h-2.2zM143.3 813.7h2.2v12.4h-2.2zM153.3 838.2h2.3v12.4h-2.3zM163.6 850.5h2.3v12.4h-2.3zM165.7 826h2.3v12.4h-2.3zM167.7 838.2h2.3v12.4h-2.3zM175.8 801.4h2.3v12.4h-2.3zM181.9 801.4h2.3v12.4h-2.3zM183.9 776.9h2.3v12.4h-2.3zM189.9 789.2h2.2v12.4h-2.2zM191.9 826h2.2v12.4h-2.2zM203.6 764.7h2.2v12.4h-2.2zM207.5 826h2.2v12.4h-2.2zM211.4 789.2h2.2v12.4h-2.2zM217.2 789.2h2.2v12.4h-2.2zM223.1 838.2h2.2v12.4h-2.2zM230.8 776.9h2.2v12.4h-2.2zM234.6 838.2h2.2v12.4h-2.2zM242.3 862.7h2.2v12.4h-2.2zM244.3 764.7h2.2v12.4h-2.2zM252.2 850.5h2.2v12.4h-2.2zM254.2 789.2h2.2v12.4h-2.2zM254.2 826h2.2v12.4h-2.2zM254.2 838.2h2.2v12.4h-2.2zM258.1 862.7h2.2v12.4h-2.2zM260.1 813.7h2.2v12.4h-2.2zM262.1 826h2.2v12.4h-2.2zM268.1 862.7h2.2v12.4h-2.2zM270.1 752.4h2.2v12.4h-2.2zM272.1 850.5h2.2v12.4h-2.2zM276.1 789.2h2.2v12.4h-2.2zM278.1 789.2h2.2v12.4h-2.2zM280.1 789.2h2.2v12.4h-2.2zM286 838.2h2.2v12.4h-2.2zM286 850.5h2.2v12.4h-2.2zM290 789.2h2.2v12.4h-2.2zM290 850.5h2.2v12.4h-2.2zM293.9 838.2h2.2v12.4h-2.2zM297.8 850.5h2.2v12.4h-2.2zM305.5 862.7h2.2v12.4h-2.2zM309.4 801.4h2.2v12.4h-2.2zM311.3 801.4h2.2v12.4h-2.2zM311.3 813.7h2.2v12.4h-2.2zM311.3 850.5h2.2v12.4h-2.2zM313.2 838.2h2.2v12.4h-2.2zM317.1 838.2h2.2v12.4h-2.2zM317.1 862.7h2.2v12.4h-2.2z" fill="#c53c74" shape-rendering="crispEdges"/>
<path d="M31.1 752.4h2.2v12.4h-2.2zM36.9 838.2h2.2v12.4h-2.2zM42.7 838.2h2.2v12.4h-2.2zM48.5 862.7h2.2v12.4h-2.2zM52.4 862.7h2.2v12.4h-2.2zM56.4 776.9h2.2v12.4h-2.2zM80.2 776.9h2.2v12.4h-2.2zM82.1 776.9h2.2v12.4h-2.2zM84.1 776.9h2.2v12.4h-2.2zM84.1 801.4h2.2v12.4h-2.2zM88.1 838.2h2.2v12.4h-2.2zM88.1 850.5h2.2v12.4h-2.2zM90.1 826h2.2v12.4h-2.2zM100 838.2h2.2v12.4h-2.2zM102 838.2h2.2v12.4h-2.2zM102 850.5h2.2v12.4h-2.2zM115.8 826h2.2v12.4h-2.2zM119.7 776.9h2.2v12.4h-2.2zM121.7 838.2h2.2v12.4h-2.2zM127.6 789.2h2.2v12.4h-2.2zM129.5 826h2.2v12.4h-2.2zM141.4 801.4h2.2v12.4h-2.2zM141.4 850.5h2.2v12.4h-2.2zM149.2 776.9h2.2v12.4h-2.2zM155.3 813.7h2.3v12.4h-2.3zM157.4 789.2h2.3v12.4h-2.3zM159.5 789.2h2.3v12.4h-2.3zM159.5 838.2h2.3v12.4h-2.3zM163.6 776.9h2.3v12.4h-2.3zM163.6 813.7h2.3v12.4h-2.3zM167.7 776.9h2.3v12.4h-2.3zM179.9 801.4h2.3v12.4h-2.3zM179.9 813.7h2.3v12.4h-2.3zM193.8 764.7h2.2v12.4h-2.2zM201.6 826h2.2v12.4h-2.2zM201.6 838.2h2.2v12.4h-2.2zM209.4 764.7h2.2v12.4h-2.2zM213.3 764.7h2.2v12.4h-2.2zM215.3 826h2.2v12.4h-2.2zM232.7 838.2h2.2v12.4h-2.2zM240.4 813.7h2.2v12.4h-2.2zM242.3 764.7h2.2v12.4h-2.2zM242.3 789.2h2.2v12.4h-2.2zM242.3 838.2h2.2v12.4h-2.2zM244.3 789.2h2.2v12.4h-2.2zM248.2 826h2.2v12.4h-2.2zM250.2 862.7h2.2v12.4h-2.2zM252.2 801.4h2.2v12.4h-2.2zM254.2 862.7h2.2v12.4h-2.2zM258.1 838.2h2.2v12.4h-2.2zM260.1 764.7h2.2v12.4h-2.2zM260.1 826h2.2v12.4h-2.2zM260.1 862.7h2.2v12.4h-2.2zM264.1 838.2h2.2v12.4h-2.2zM266.1 813.7h2.2v12.4h-2.2zM270.1 826h2.2v12.4h-2.2zM276.1 838.2h2.2v12.4h-2.2zM278.1 838.2h2.2v12.4h-2.2zM282 838.2h2.2v12.4h-2.2zM288 850.5h2.2v12.4h-2.2zM292 838.2h2.2v12.4h-2.2zM293.9 850.5h2.2v12.4h-2.2zM299.7 838.2h2.2v12.4h-2.2zM299.7 850.5h2.2v12.4h-2.2zM301.6 752.4h2.2v12.4h-2.2zM303.6 813.7h2.2v12.4h-2.2zM305.5 826h2.2v12.4h-2.2zM307.4 752.4h2.2v12.4h-2.2zM309.4 826h2.2v12.4h-2.2zM311.3 826h2.2v12.4h-2.2z" fill="#d0416f" shape-rendering="crispEdges"/>
<path d="M29.1 862.7h2.2v12.4h-2.2zM36.9 752.4h2.2v12.4h-2.2zM36.9 850.5h2.2v12.4h-2.2zM36.9 862.7h2.2v12.4h-2.2zM38.8 752.4h2.2v12.4h-2.2zM38.8 862.7h2.2v12.4h-2.2zM42.7 776.9h2.2v12.4h-2.2zM44.6 850.5h2.2v12.4h-2.2zM44.6 862.7h2.2v12.4h-2.2zM46.5 838.2h2.2v12.4h-2.2zM52.4 776.9h2.2v12.4h-2.2zM54.4 838.2h2.2v12.4h-2.2zM56.4 838.2h2.2v12.4h-2.2zM62.3 838.2h2.2v12.4h-2.2zM68.3 850.5h2.2v12.4h-2.2zM70.2 838.2h2.2v12.4h-2.2zM72.2 850.5h2.2v12.4h-2.2zM80.2 789.2h2.2v12.4h-2.2zM82.1 862.7h2.2v12.4h-2.2zM86.1 838.2h2.2v12.4h-2.2zM88.1 776.9h2.2v12.4h-2.2zM92.1 838.2h2.2v12.4h-2.2zM94 776.9h2.2v12.4h-2.2zM96 776.9h2.2v12.4h-2.2zM96 813.7h2.2v12.4h-2.2zM105.9 850.5h2.2v12.4h-2.2zM107.9 850.5h2.2v12.4h-2.2zM109.8 850.5h2.2v12.4h-2.2zM111.8 826h2.2v12.4h-2.2zM113.8 826h2.2v12.4h-2.2zM117.7 776.9h2.2v12.4h-2.2zM121.7 776.9h2.2v12.4h-2.2zM127.6 826h2.2v12.4h-2.2zM137.4 862.7h2.2v12.4h-2.2zM143.3 838.2h2.2v12.4h-2.2zM145.3 826h2.2v12.4h-2.2zM147.3 789.2h2.2v12.4h-2.2zM149.2 826h2.2v12.4h-2.2zM153.3 813.7h2.3v12.4h-2.3zM155.3 789.2h2.3v12.4h-2.3zM165.7 813.7h2.3v12.4h-2.3zM165.7 862.7h2.3v12.4h-2.3zM177.9 801.4h2.3v12.4h-2.3zM183.9 801.4h2.3v12.4h-2.3zM197.7 764.7h2.2v12.4h-2.2zM197.7 789.2h2.2v12.4h-2.2zM197.7 838.2h2.2v12.4h-2.2zM199.7 826h2.2v12.4h-2.2zM201.6 764.7h2.2v12.4h-2.2zM201.6 789.2h2.2v12.4h-2.2zM203.6 826h2.2v12.4h-2.2zM211.4 826h2.2v12.4h-2.2zM213.3 789.2h2.2v12.4h-2.2zM213.3 838.2h2.2v12.4h-2.2zM217.2 826h2.2v12.4h-2.2zM217.2 838.2h2.2v12.4h-2.2zM219.2 838.2h2.2v12.4h-2.2zM221.1 862.7h2.2v12.4h-2.2zM225 789.2h2.2v12.4h-2.2zM232.7 826h2.2v12.4h-2.2zM236.6 764.7h2.2v12.4h-2.2zM246.2 813.7h2.2v12.4h-2.2zM250.2 752.4h2.2v12.4h-2.2zM256.2 813.7h2.2v12.4h-2.2zM260.1 752.4h2.2v12.4h-2.2zM268.1 789.2h2.2v12.4h-2.2zM284 850.5h2.2v12.4h-2.2zM292 862.7h2.2v12.4h-2.2zM295.9 826h2.2v12.4h-2.2zM305.5 752.4h2.2v12.4h-2.2zM309.4 752.4h2.2v12.4h-2.2zM311.3 776.9h2.2v12.4h-2.2zM315.1 838.2h2.2v12.4h-2.2zM315.1 850.5h2.2v12.4h-2.2zM317.1 813.7h2.2v12.4h-2.2z" fill="#d9466b" shape-rendering="crispEdges"/>
<path d="M31.1 850.5h2.2v12.4h-2.2zM33 862.7h2.2v12.4h-2.2zM34.9 850.5h2.2v12.4h-2.2zM36.9 826h2.2v12.4h-2.2zM40.7 850.5h2.2v12.4h-2.2zM40.7 862.7h2.2v12.4h-2.2zM46.5 850.5h2.2v12.4h-2.2zM48.5 764.7h2.2v12.4h-2.2zM48.5 838.2h2.2v12.4h-2.2zM50.4 862.7h2.2v12.4h-2.2zM52.4 826h2.2v12.4h-2.2zM52.4 838.2h2.2v12.4h-2.2zM58.3 776.9h2.2v12.4h-2.2zM58.3 862.7h2.2v12.4h-2.2zM62.3 826h2.2v12.4h-2.2zM62.3 862.7h2.2v12.4h-2.2zM64.3 838.2h2.2v12.4h-2.2zM68.3 862.7h2.2v12.4h-2.2zM74.2 826h2.2v12.4h-2.2zM76.2 838.2h2.2v12.4h-2.2zM76.2 862.7h2.2v12.4h-2.2zM78.2 850.5h2.2v12.4h-2.2zM80.2 862.7h2.2v12.4h-2.2zM96 862.7h2.2v12.4h-2.2zM105.9 862.7h2.2v12.4h-2.2zM127.6 813.7h2.2v12.4h-2.2zM131.5 789.2h2.2v12.4h-2.2zM133.5 826h2.2v12.4h-2.2zM133.5 862.7h2.2v12.4h-2.2zM139.4 862.7h2.2v12.4h-2.2zM141.4 776.9h2.2v12.4h-2.2zM143.3 776.9h2.2v12.4h-2.2zM147.3 862.7h2.2v12.4h-2.2zM149.2 789.2h2.2v12.4h-2.2zM149.2 862.7h2.2v12.4h-2.2zM151.2 838.2h2.3v12.4h-2.3zM161.6 776.9h2.3v12.4h-2.3zM161.6 838.2h2.3v12.4h-2.3zM173.8 813.7h2.3v12.4h-2.3zM173.8 838.2h2.3v12.4h-2.3zM175.8 813.7h2.3v12.4h-2.3zM179.9 838.2h2.3v12.4h-2.3zM186 838.2h2.3v12.4h-2.3zM188 764.7h2.2v12.4h-2.2zM188 789.2h2.2v12.4h-2.2zM188 813.7h2.2v12.4h-2.2zM193.8 838.2h2.2v12.4h-2.2zM193.8 850.5h2.2v12.4h-2.2zM195.8 862.7h2.2v12.4h-2.2zM199.7 838.2h2.2v12.4h-2.2zM201.6 850.5h2.2v12.4h-2.2zM203.6 789.2h2.2v12.4h-2.2zM213.3 813.7h2.2v12.4h-2.2zM221.1 838.2h2.2v12.4h-2.2zM226.9 764.7h2.2v12.4h-2.2zM226.9 826h2.2v12.4h-2.2zM236.6 789.2h2.2v12.4h-2.2zM236.6 826h2.2v12.4h-2.2zM250.2 826h2.2v12.4h-2.2zM254.2 776.9h2.2v12.4h-2.2zM262.1 764.7h2.2v12.4h-2.2zM262.1 789.2h2.2v12.4h-2.2zM264.1 789.2h2.2v12.4h-2.2zM264.1 813.7h2.2v12.4h-2.2zM270.1 850.5h2.2v12.4h-2.2zM272.1 813.7h2.2v12.4h-2.2zM274.1 826h2.2v12.4h-2.2zM276.1 752.4h2.2v12.4h-2.2zM286 826h2.2v12.4h-2.2zM288 789.2h2.2v12.4h-2.2zM290 826h2.2v12.4h-2.2zM292 826h2.2v12.4h-2.2zM293.9 789.2h2.2v12.4h-2.2zM295.9 862.7h2.2v12.4h-2.2zM297.8 752.4h2.2v12.4h-2.2zM299.7 752.4h2.2v12.4h-2.2zM301.6 813.7h2.2v12.4h-2.2zM307.4 776.9h2.2v12.4h-2.2zM311.3 838.2h2.2v12.4h-2.2zM313.2 776.9h2.2v12.4h-2.2zM313.2 813.7h2.2v12.4h-2.2zM315.1 862.7h2.2v12.4h-2.2zM317.1 752.4h2.2v12.4h-2.2z" fill="#e34e65" shape-rendering="crispEdges"/>
<path d="M29.1 752.4h2.2v12.4h-2.2zM29.1 764.7h2.2v12.4h-2.2zM31.1 813.7h2.2v12.4h-2.2zM31.1 862.7h2.2v12.4h-2.2zM33 752.4h2.2v12.4h-2.2zM33 764.7h2.2v12.4h-2.2zM33 838.2h2.2v12.4h-2.2zM34.9 838.2h2.2v12.4h-2.2zM40.7 752.4h2.2v12.4h-2.2zM42.7 850.5h2.2v12.4h-2.2zM44.6 813.7h2.2v12.4h-2.2zM44.6 826h2.2v12.4h-2.2zM48.5 826h2.2v12.4h-2.2zM50.4 826h2.2v12.4h-2.2zM54.4 826h2.2v12.4h-2.2zM54.4 862.7h2.2v12.4h-2.2zM56.4 862.7h2.2v12.4h-2.2zM58.3 813.7h2.2v12.4h-2.2zM60.3 789.2h2.2v12.4h-2.2zM68.3 776.9h2.2v12.4h-2.2zM68.3 789.2h2.2v12.4h-2.2zM68.3 838.2h2.2v12.4h-2.2zM70.2 826h2.2v12.4h-2.2zM72.2 826h2.2v12.4h-2.2zM78.2 862.7h2.2v12.4h-2.2zM90.1 862.7h2.2v12.4h-2.2zM98 776.9h2.2v12.4h-2.2zM98 826h2.2v12.4h-2.2zM98 862.7h2.2v12.4h-2.2zM100 826h2.2v12.4h-2.2zM102 813.7h2.2v12.4h-2.2zM102 826h2.2v12.4h-2.2zM103.9 776.9h2.2v12.4h-2.2zM105.9 789.2h2.2v12.4h-2.2zM109.8 838.2h2.2v12.4h-2.2zM111.8 789.2h2.2v12.4h-2.2zM113.8 862.7h2.2v12.4h-2.2zM115.8 776.9h2.2v12.4h-2.2zM115.8 813.7h2.2v12.4h-2.2zM115.8 862.7h2.2v12.4h-2.2zM117.7 826h2.2v12.4h-2.2zM119.7 862.7h2.2v12.4h-2.2zM121.7 813.7h2.2v12.4h-2.2zM121.7 862.7h2.2v12.4h-2.2zM123.6 789.2h2.2v12.4h-2.2zM125.6 838.2h2.2v12.4h-2.2zM129.5 838.2h2.2v12.4h-2.2zM131.5 813.7h2.2v12.4h-2.2zM135.4 838.2h2.2v12.4h-2.2zM137.4 826h2.2v12.4h-2.2zM145.3 850.5h2.2v12.4h-2.2zM147.3 776.9h2.2v12.4h-2.2zM149.2 838.2h2.2v12.4h-2.2zM151.2 764.7h2.3v12.4h-2.3zM151.2 776.9h2.3v12.4h-2.3zM153.3 826h2.3v12.4h-2.3zM153.3 862.7h2.3v12.4h-2.3zM155.3 776.9h2.3v12.4h-2.3zM155.3 838.2h2.3v12.4h-2.3zM161.6 813.7h2.3v12.4h-2.3zM163.6 764.7h2.3v12.4h-2.3zM167.7 862.7h2.3v12.4h-2.3zM169.8 826h2.3v12.4h-2.3zM171.8 813.7h2.3v12.4h-2.3zM171.8 838.2h2.3v12.4h-2.3zM179.9 789.2h2.3v12.4h-2.3zM179.9 826h2.3v12.4h-2.3zM181.9 813.7h2.3v12.4h-2.3zM181.9 838.2h2.3v12.4h-2.3zM183.9 838.2h2.3v12.4h-2.3zM186 789.2h2.3v12.4h-2.3zM186 813.7h2.3v12.4h-2.3zM199.7 789.2h2.2v12.4h-2.2zM199.7 850.5h2.2v12.4h-2.2zM199.7 862.7h2.2v12.4h-2.2zM205.5 764.7h2.2v12.4h-2.2zM211.4 764.7h2.2v12.4h-2.2zM215.3 838.2h2.2v12.4h-2.2zM223.1 764.7h2.2v12.4h-2.2zM225 813.7h2.2v12.4h-2.2zM228.9 764.7h2.2v12.4h-2.2zM228.9 838.2h2.2v12.4h-2.2zM230.8 789.2h2.2v12.4h-2.2zM234.6 813.7h2.2v12.4h-2.2zM238.5 826h2.2v12.4h-2.2zM240.4 764.7h2.2v12.4h-2.2zM242.3 813.7h2.2v12.4h-2.2zM242.3 850.5h2.2v12.4h-2.2zM244.3 838.2h2.2v12.4h-2.2zM248.2 752.4h2.2v12.4h-2.2zM250.2 789.2h2.2v12.4h-2.2zM252.2 826h2.2v12.4h-2.2zM254.2 752.4h2.2v12.4h-2.2zM256.2 752.4h2.2v12.4h-2.2zM258.1 752.4h2.2v12.4h-2.2zM258.1 850.5h2.2v12.4h-2.2zM266.1 752.4h2.2v12.4h-2.2zM268.1 838.2h2.2v12.4h-2.2zM276.1 764.7h2.2v12.4h-2.2zM276.1 813.7h2.2v12.4h-2.2zM278.1 752.4h2.2v12.4h-2.2zM278.1 813.7h2.2v12.4h-2.2zM280.1 752.4h2.2v12.4h-2.2zM282 813.7h2.2v12.4h-2.2zM284 826h2.2v12.4h-2.2zM286 752.4h2.2v12.4h-2.2zM286 789.2h2.2v12.4h-2.2zM288 826h2.2v12.4h-2.2zM292 776.9h2.2v12.4h-2.2zM293.9 813.7h2.2v12.4h-2.2zM295.9 776.9h2.2v12.4h-2.2zM301.6 776.9h2.2v12.4h-2.2zM303.6 789.2h2.2v12.4h-2.2zM309.4 776.9h2.2v12.4h-2.2z" fill="#eb5760" shape-rendering="crispEdges"/>
<path d="M27.2 776.9h2.2v12.4h-2.2zM27.2 838.2h2.2v12.4h-2.2zM29.1 826h2.2v12.4h-2.2zM29.1 838.2h2.2v12.4h-2.2zM31.1 776.9h2.2v12.4h-2.2zM36.9 764.7h2.2v12.4h-2.2zM40.7 776.9h2.2v12.4h-2.2zM46.5 752.4h2.2v12.4h-2.2zM50.4 776.9h2.2v12.4h-2.2zM52.4 789.2h2.2v12.4h-2.2zM64.3 776.9h2.2v12.4h-2.2zM64.3 789.2h2.2v12.4h-2.2zM66.3 813.7h2.2v12.4h-2.2zM68.3 826h2.2v12.4h-2.2zM70.2 813.7h2.2v12.4h-2.2zM70.2 862.7h2.2v12.4h-2.2zM72.2 776.9h2.2v12.4h-2.2zM72.2 789.2h2.2v12.4h-2.2zM74.2 862.7h2.2v12.4h-2.2zM76.2 776.9h2.2v12.4h-2.2zM76.2 826h2.2v12.4h-2.2zM86.1 776.9h2.2v12.4h-2.2zM88.1 789.2h2.2v12.4h-2.2zM88.1 862.7h2.2v12.4h-2.2zM90.1 776.9h2.2v12.4h-2.2zM92.1 862.7h2.2v12.4h-2.2zM94 862.7h2.2v12.4h-2.2zM96 826h2.2v12.4h-2.2zM103.9 838.2h2.2v12.4h-2.2zM111.8 838.2h2.2v12.4h-2.2zM115.8 789.2h2.2v12.4h-2.2zM119.7 850.5h2.2v12.4h-2.2zM123.6 776.9h2.2v12.4h-2.2zM123.6 838.2h2.2v12.4h-2.2zM123.6 862.7h2.2v12.4h-2.2zM127.6 850.5h2.2v12.4h-2.2zM133.5 838.2h2.2v12.4h-2.2zM137.4 789.2h2.2v12.4h-2.2zM139.4 826h2.2v12.4h-2.2zM141.4 826h2.2v12.4h-2.2zM141.4 838.2h2.2v12.4h-2.2zM143.3 850.5h2.2v12.4h-2.2zM145.3 838.2h2.2v12.4h-2.2zM149.2 813.7h2.2v12.4h-2.2zM153.3 850.5h2.3v12.4h-2.3zM155.3 850.5h2.3v12.4h-2.3zM159.5 813.7h2.3v12.4h-2.3zM159.5 826h2.3v12.4h-2.3zM159.5 850.5h2.3v12.4h-2.3zM161.6 826h2.3v12.4h-2.3zM163.6 838.2h2.3v12.4h-2.3zM165.7 850.5h2.3v12.4h-2.3zM171.8 764.7h2.3v12.4h-2.3zM171.8 789.2h2.3v12.4h-2.3zM173.8 789.2h2.3v12.4h-2.3zM181.9 826h2.3v12.4h-2.3zM191.9 813.7h2.2v12.4h-2.2zM193.8 862.7h2.2v12.4h-2.2zM203.6 850.5h2.2v12.4h-2.2zM205.5 850.5h2.2v12.4h-2.2zM207.5 764.7h2.2v12.4h-2.2zM209.4 838.2h2.2v12.4h-2.2zM211.4 813.7h2.2v12.4h-2.2zM215.3 764.7h2.2v12.4h-2.2zM217.2 764.7h2.2v12.4h-2.2zM221.1 789.2h2.2v12.4h-2.2zM221.1 826h2.2v12.4h-2.2zM221.1 850.5h2.2v12.4h-2.2zM223.1 826h2.2v12.4h-2.2zM226.9 813.7h2.2v12.4h-2.2zM232.7 764.7h2.2v12.4h-2.2zM232.7 813.7h2.2v12.4h-2.2zM236.6 850.5h2.2v12.4h-2.2zM238.5 813.7h2.2v12.4h-2.2zM240.4 789.2h2.2v12.4h-2.2zM240.4 862.7h2.2v12.4h-2.2zM242.3 826h2.2v12.4h-2.2zM246.2 752.4h2.2v12.4h-2.2zM248.2 813.7h2.2v12.4h-2.2zM254.2 813.7h2.2v12.4h-2.2zM256.2 776.9h2.2v12.4h-2.2zM258.1 789.2h2.2v12.4h-2.2zM264.1 752.4h2.2v12.4h-2.2zM276.1 776.9h2.2v12.4h-2.2zM282 862.7h2.2v12.4h-2.2zM284 789.2h2.2v12.4h-2.2zM288 838.2h2.2v12.4h-2.2zM290 813.7h2.2v12.4h-2.2zM295.9 813.7h2.2v12.4h-2.2zM297.8 776.9h2.2v12.4h-2.2zM297.8 789.2h2.2v12.4h-2.2zM297.8 813.7h2.2v12.4h-2.2zM299.7 776.9h2.2v12.4h-2.2zM299.7 826h2.2v12.4h-2.2zM301.6 789.2h2.2v12.4h-2.2zM303.6 764.7h2.2v12.4h-2.2zM303.6 776.9h2.2v12.4h-2.2zM307.4 813.7h2.2v12.4h-2.2zM309.4 789.2h2.2v12.4h-2.2zM313.2 764.7h2.2v12.4h-2.2zM317.1 826h2.2v12.4h-2.2z" fill="#f1605d" shape-rendering="crispEdges"/>
<path d="M27.2 752.4h2.2v12.4h-2.2zM27.2 826h2.2v12.4h-2.2zM29.1 776.9h2.2v12.4h-2.2zM31.1 826h2.2v12.4h-2.2zM31.1 838.2h2.2v12.4h-2.2zM33 813.7h2.2v12.4h-2.2zM33 850.5h2.2v12.4h-2.2zM34.9 776.9h2.2v12.4h-2.2zM38.8 776.9h2.2v12.4h-2.2zM40.7 764.7h2.2v12.4h-2.2zM42.7 752.4h2.2v12.4h-2.2zM42.7 862.7h2.2v12.4h-2.2zM44.6 764.7h2.2v12.4h-2.2zM44.6 838.2h2.2v12.4h-2.2zM48.5 776.9h2.2v12.4h-2.2zM52.4 813.7h2.2v12.4h-2.2zM56.4 826h2.2v12.4h-2.2zM58.3 789.2h2.2v12.4h-2.2zM58.3 826h2.2v12.4h-2.2zM62.3 789.2h2.2v12.4h-2.2zM64.3 862.7h2.2v12.4h-2.2zM66.3 862.7h2.2v12.4h-2.2zM78.2 776.9h2.2v12.4h-2.2zM78.2 826h2.2v12.4h-2.2zM82.1 813.7h2.2v12.4h-2.2zM84.1 862.7h2.2v12.4h-2.2zM88.1 826h2.2v12.4h-2.2zM92.1 826h2.2v12.4h-2.2zM94 826h2.2v12.4h-2.2zM100 850.5h2.2v12.4h-2.2zM102 862.7h2.2v12.4h-2.2zM103.9 813.7h2.2v12.4h-2.2zM103.9 850.5h2.2v12.4h-2.2zM103.9 862.7h2.2v12.4h-2.2zM105.9 826h2.2v12.4h-2.2zM111.8 850.5h2.2v12.4h-2.2zM115.8 850.5h2.2v12.4h-2.2zM121.7 850.5h2.2v12.4h-2.2zM129.5 789.2h2.2v12.4h-2.2zM131.5 776.9h2.2v12.4h-2.2zM131.5 826h2.2v12.4h-2.2zM131.5 862.7h2.2v12.4h-2.2zM133.5 776.9h2.2v12.4h-2.2zM135.4 826h2.2v12.4h-2.2zM137.4 813.7h2.2v12.4h-2.2zM139.4 850.5h2.2v12.4h-2.2zM145.3 789.2h2.2v12.4h-2.2zM147.3 826h2.2v12.4h-2.2zM149.2 850.5h2.2v12.4h-2.2zM155.3 862.7h2.3v12.4h-2.3zM157.4 776.9h2.3v12.4h-2.3zM157.4 813.7h2.3v12.4h-2.3zM163.6 826h2.3v12.4h-2.3zM167.7 764.7h2.3v12.4h-2.3zM167.7 850.5h2.3v12.4h-2.3zM169.8 813.7h2.3v12.4h-2.3zM171.8 826h2.3v12.4h-2.3zM175.8 838.2h2.3v12.4h-2.3zM181.9 850.5h2.3v12.4h-2.3zM183.9 813.7h2.3v12.4h-2.3zM186 764.7h2.3v12.4h-2.3zM188 838.2h2.2v12.4h-2.2zM189.9 764.7h2.2v12.4h-2.2zM191.9 850.5h2.2v12.4h-2.2zM195.8 838.2h2.2v12.4h-2.2zM199.7 764.7h2.2v12.4h-2.2zM201.6 862.7h2.2v12.4h-2.2zM203.6 862.7h2.2v12.4h-2.2zM205.5 826h2.2v12.4h-2.2zM205.5 862.7h2.2v12.4h-2.2zM209.4 850.5h2.2v12.4h-2.2zM211.4 838.2h2.2v12.4h-2.2zM213.3 862.7h2.2v12.4h-2.2zM215.3 850.5h2.2v12.4h-2.2zM219.2 826h2.2v12.4h-2.2zM221.1 764.7h2.2v12.4h-2.2zM223.1 789.2h2.2v12.4h-2.2zM223.1 850.5h2.2v12.4h-2.2zM226.9 789.2h2.2v12.4h-2.2zM228.9 826h2.2v12.4h-2.2zM232.7 789.2h2.2v12.4h-2.2zM236.6 838.2h2.2v12.4h-2.2zM244.3 813.7h2.2v12.4h-2.2zM244.3 850.5h2.2v12.4h-2.2zM256.2 826h2.2v12.4h-2.2zM260.1 789.2h2.2v12.4h-2.2zM262.1 752.4h2.2v12.4h-2.2zM264.1 764.7h2.2v12.4h-2.2zM268.1 826h2.2v12.4h-2.2zM272.1 776.9h2.2v12.4h-2.2zM272.1 789.2h2.2v12.4h-2.2zM282 752.4h2.2v12.4h-2.2zM282 789.2h2.2v12.4h-2.2zM292 789.2h2.2v12.4h-2.2zM293.9 752.4h2.2v12.4h-2.2zM299.7 801.4h2.2v12.4h-2.2zM305.5 789.2h2.2v12.4h-2.2zM305.5 813.7h2.2v12.4h-2.2zM309.4 813.7h2.2v12.4h-2.2zM315.1 826h2.2v12.4h-2.2zM317.1 776.9h2.2v12.4h-2.2z" fill="#f66c5c" shape-rendering="crispEdges"/>
<path d="M29.1 813.7h2.2v12.4h-2.2zM33 826h2.2v12.4h-2.2zM34.9 826h2.2v12.4h-2.2zM38.8 764.7h2.2v12.4h-2.2zM38.8 838.2h2.2v12.4h-2.2zM42.7 826h2.2v12.4h-2.2zM44.6 776.9h2.2v12.4h-2.2zM54.4 776.9h2.2v12.4h-2.2zM56.4 789.2h2.2v12.4h-2.2zM60.3 813.7h2.2v12.4h-2.2zM62.3 813.7h2.2v12.4h-2.2zM66.3 789.2h2.2v12.4h-2.2zM74.2 776.9h2.2v12.4h-2.2zM76.2 789.2h2.2v12.4h-2.2zM78.2 789.2h2.2v12.4h-2.2zM84.1 789.2h2.2v12.4h-2.2zM86.1 789.2h2.2v12.4h-2.2zM86.1 826h2.2v12.4h-2.2zM86.1 862.7h2.2v12.4h-2.2zM96 789.2h2.2v12.4h-2.2zM100 862.7h2.2v12.4h-2.2zM102 789.2h2.2v12.4h-2.2zM107.9 776.9h2.2v12.4h-2.2zM107.9 789.2h2.2v12.4h-2.2zM109.8 813.7h2.2v12.4h-2.2zM109.8 826h2.2v12.4h-2.2zM109.8 862.7h2.2v12.4h-2.2zM111.8 776.9h2.2v12.4h-2.2zM117.7 813.7h2.2v12.4h-2.2zM117.7 850.5h2.2v12.4h-2.2zM121.7 789.2h2.2v12.4h-2.2zM123.6 850.5h2.2v12.4h-2.2zM125.6 789.2h2.2v12.4h-2.2zM125.6 826h2.2v12.4h-2.2zM125.6 862.7h2.2v12.4h-2.2zM127.6 862.7h2.2v12.4h-2.2zM129.5 850.5h2.2v12.4h-2.2zM137.4 764.7h2.2v12.4h-2.2zM137.4 776.9h2.2v12.4h-2.2zM139.4 789.2h2.2v12.4h-2.2zM141.4 813.7h2.2v12.4h-2.2zM145.3 862.7h2.2v12.4h-2.2zM147.3 813.7h2.2v12.4h-2.2zM151.2 862.7h2.3v12.4h-2.3zM155.3 826h2.3v12.4h-2.3zM157.4 838.2h2.3v12.4h-2.3zM167.7 789.2h2.3v12.4h-2.3zM171.8 862.7h2.3v12.4h-2.3zM177.9 813.7h2.3v12.4h-2.3zM179.9 850.5h2.3v12.4h-2.3zM181.9 862.7h2.3v12.4h-2.3zM183.9 789.2h2.3v12.4h-2.3zM188 862.7h2.2v12.4h-2.2zM189.9 838.2h2.2v12.4h-2.2zM189.9 850.5h2.2v12.4h-2.2zM191.9 862.7h2.2v12.4h-2.2zM195.8 764.7h2.2v12.4h-2.2zM201.6 813.7h2.2v12.4h-2.2zM205.5 813.7h2.2v12.4h-2.2zM207.5 813.7h2.2v12.4h-2.2zM209.4 826h2.2v12.4h-2.2zM213.3 826h2.2v12.4h-2.2zM213.3 850.5h2.2v12.4h-2.2zM215.3 813.7h2.2v12.4h-2.2zM223.1 862.7h2.2v12.4h-2.2zM225 764.7h2.2v12.4h-2.2zM225 826h2.2v12.4h-2.2zM225 850.5h2.2v12.4h-2.2zM226.9 838.2h2.2v12.4h-2.2zM230.8 838.2h2.2v12.4h-2.2zM232.7 862.7h2.2v12.4h-2.2zM234.6 789.2h2.2v12.4h-2.2zM234.6 826h2.2v12.4h-2.2zM238.5 850.5h2.2v12.4h-2.2zM246.2 776.9h2.2v12.4h-2.2zM254.2 764.7h2.2v12.4h-2.2zM256.2 764.7h2.2v12.4h-2.2zM266.1 776.9h2.2v12.4h-2.2zM270.1 764.7h2.2v12.4h-2.2zM270.1 776.9h2.2v12.4h-2.2zM274.1 789.2h2.2v12.4h-2.2zM282 776.9h2.2v12.4h-2.2zM292 752.4h2.2v12.4h-2.2zM293.9 776.9h2.2v12.4h-2.2zM295.9 789.2h2.2v12.4h-2.2zM309.4 764.7h2.2v12.4h-2.2zM315.1 813.7h2.2v12.4h-2.2z" fill="#f9785d" shape-rendering="crispEdges"/>
<path d="M27.2 764.7h2.2v12.4h-2.2zM34.9 862.7h2.2v12.4h-2.2zM36.9 813.7h2.2v12.4h-2.2zM38.8 813.7h2.2v12.4h-2.2zM38.8 826h2.2v12.4h-2.2zM38.8 850.5h2.2v12.4h-2.2zM54.4 813.7h2.2v12.4h-2.2zM60.3 764.7h2.2v12.4h-2.2zM60.3 862.7h2.2v12.4h-2.2zM64.3 764.7h2.2v12.4h-2.2zM64.3 826h2.2v12.4h-2.2zM70.2 764.7h2.2v12.4h-2.2zM70.2 789.2h2.2v12.4h-2.2zM74.2 764.7h2.2v12.4h-2.2zM74.2 789.2h2.2v12.4h-2.2zM78.2 813.7h2.2v12.4h-2.2zM80.2 764.7h2.2v12.4h-2.2zM86.1 813.7h2.2v12.4h-2.2zM96 764.7h2.2v12.4h-2.2zM98 789.2h2.2v12.4h-2.2zM100 776.9h2.2v12.4h-2.2zM103.9 789.2h2.2v12.4h-2.2zM119.7 826h2.2v12.4h-2.2zM123.6 826h2.2v12.4h-2.2zM125.6 776.9h2.2v12.4h-2.2zM125.6 850.5h2.2v12.4h-2.2zM141.4 789.2h2.2v12.4h-2.2zM145.3 776.9h2.2v12.4h-2.2zM147.3 764.7h2.2v12.4h-2.2zM151.2 826h2.3v12.4h-2.3zM157.4 862.7h2.3v12.4h-2.3zM159.5 862.7h2.3v12.4h-2.3zM173.8 850.5h2.3v12.4h-2.3zM173.8 862.7h2.3v12.4h-2.3zM175.8 826h2.3v12.4h-2.3zM177.9 838.2h2.3v12.4h-2.3zM177.9 862.7h2.3v12.4h-2.3zM183.9 826h2.3v12.4h-2.3zM188 850.5h2.2v12.4h-2.2zM193.8 813.7h2.2v12.4h-2.2zM193.8 826h2.2v12.4h-2.2zM197.7 862.7h2.2v12.4h-2.2zM205.5 838.2h2.2v12.4h-2.2zM207.5 862.7h2.2v12.4h-2.2zM217.2 850.5h2.2v12.4h-2.2zM217.2 862.7h2.2v12.4h-2.2zM219.2 850.5h2.2v12.4h-2.2zM221.1 813.7h2.2v12.4h-2.2zM225 862.7h2.2v12.4h-2.2zM226.9 862.7h2.2v12.4h-2.2zM228.9 789.2h2.2v12.4h-2.2zM230.8 826h2.2v12.4h-2.2zM230.8 862.7h2.2v12.4h-2.2zM234.6 850.5h2.2v12.4h-2.2zM236.6 813.7h2.2v12.4h-2.2zM238.5 764.7h2.2v12.4h-2.2zM240.4 850.5h2.2v12.4h-2.2zM244.3 826h2.2v12.4h-2.2zM250.2 764.7h2.2v12.4h-2.2zM252.2 789.2h2.2v12.4h-2.2zM252.2 813.7h2.2v12.4h-2.2zM260.1 776.9h2.2v12.4h-2.2zM262.1 813.7h2.2v12.4h-2.2zM266.1 764.7h2.2v12.4h-2.2zM268.1 752.4h2.2v12.4h-2.2zM268.1 813.7h2.2v12.4h-2.2zM270.1 789.2h2.2v12.4h-2.2zM272.1 764.7h2.2v12.4h-2.2zM278.1 764.7h2.2v12.4h-2.2zM278.1 776.9h2.2v12.4h-2.2zM280.1 776.9h2.2v12.4h-2.2zM280.1 813.7h2.2v12.4h-2.2zM284 776.9h2.2v12.4h-2.2zM288 752.4h2.2v12.4h-2.2zM290 752.4h2.2v12.4h-2.2zM292 813.7h2.2v12.4h-2.2zM299.7 813.7h2.2v12.4h-2.2zM307.4 789.2h2.2v12.4h-2.2z" fill="#fb8560" shape-rendering="crispEdges"/>
<path d="M27.2 813.7h2.2v12.4h-2.2zM33 776.9h2.2v12.4h-2.2zM46.5 776.9h2.2v12.4h-2.2zM46.5 862.7h2.2v12.4h-2.2zM48.5 813.7h2.2v12.4h-2.2zM52.4 764.7h2.2v12.4h-2.2zM58.3 764.7h2.2v12.4h-2.2zM64.3 813.7h2.2v12.4h-2.2zM76.2 813.7h2.2v12.4h-2.2zM82.1 789.2h2.2v12.4h-2.2zM88.1 764.7h2.2v12.4h-2.2zM92.1 789.2h2.2v12.4h-2.2zM105.9 813.7h2.2v12.4h-2.2zM107.9 813.7h2.2v12.4h-2.2zM113.8 813.7h2.2v12.4h-2.2zM113.8 850.5h2.2v12.4h-2.2zM117.7 789.2h2.2v12.4h-2.2zM125.6 813.7h2.2v12.4h-2.2zM127.6 764.7h2.2v12.4h-2.2zM131.5 764.7h2.2v12.4h-2.2zM133.5 789.2h2.2v12.4h-2.2zM133.5 850.5h2.2v12.4h-2.2zM135.4 789.2h2.2v12.4h-2.2zM135.4 862.7h2.2v12.4h-2.2zM139.4 813.7h2.2v12.4h-2.2zM141.4 764.7h2.2v12.4h-2.2zM143.3 789.2h2.2v12.4h-2.2zM151.2 850.5h2.3v12.4h-2.3zM165.7 789.2h2.3v12.4h-2.3zM173.8 764.7h2.3v12.4h-2.3zM175.8 862.7h2.3v12.4h-2.3zM183.9 862.7h2.3v12.4h-2.3zM186 826h2.3v12.4h-2.3zM186 850.5h2.3v12.4h-2.3zM186 862.7h2.3v12.4h-2.3zM195.8 826h2.2v12.4h-2.2zM195.8 850.5h2.2v12.4h-2.2zM197.7 826h2.2v12.4h-2.2zM197.7 850.5h2.2v12.4h-2.2zM199.7 813.7h2.2v12.4h-2.2zM203.6 813.7h2.2v12.4h-2.2zM215.3 862.7h2.2v12.4h-2.2zM219.2 764.7h2.2v12.4h-2.2zM219.2 813.7h2.2v12.4h-2.2zM226.9 850.5h2.2v12.4h-2.2zM228.9 862.7h2.2v12.4h-2.2zM232.7 850.5h2.2v12.4h-2.2zM234.6 764.7h2.2v12.4h-2.2zM234.6 862.7h2.2v12.4h-2.2zM238.5 789.2h2.2v12.4h-2.2zM238.5 862.7h2.2v12.4h-2.2zM240.4 826h2.2v12.4h-2.2zM244.3 862.7h2.2v12.4h-2.2zM250.2 813.7h2.2v12.4h-2.2zM258.1 776.9h2.2v12.4h-2.2zM284 752.4h2.2v12.4h-2.2zM288 813.7h2.2v12.4h-2.2zM293.9 764.7h2.2v12.4h-2.2zM295.9 764.7h2.2v12.4h-2.2zM297.8 764.7h2.2v12.4h-2.2zM299.7 789.2h2.2v12.4h-2.2zM307.4 764.7h2.2v12.4h-2.2zM315.1 764.7h2.2v12.4h-2.2zM315.1 776.9h2.2v12.4h-2.2z" fill="#fc9065" shape-rendering="crispEdges"/>
<path d="M27.2 862.7h2.2v12.4h-2.2zM40.7 813.7h2.2v12.4h-2.2zM40.7 826h2.2v12.4h-2.2zM56.4 764.7h2.2v12.4h-2.2zM56.4 813.7h2.2v12.4h-2.2zM62.3 764.7h2.2v12.4h-2.2zM66.3 764.7h2.2v12.4h-2.2zM74.2 813.7h2.2v12.4h-2.2zM82.1 764.7h2.2v12.4h-2.2zM82.1 826h2.2v12.4h-2.2zM90.1 764.7h2.2v12.4h-2.2zM92.1 813.7h2.2v12.4h-2.2zM94 764.7h2.2v12.4h-2.2zM98 813.7h2.2v12.4h-2.2zM100 764.7h2.2v12.4h-2.2zM100 789.2h2.2v12.4h-2.2zM100 813.7h2.2v12.4h-2.2zM103.9 826h2.2v12.4h-2.2zM107.9 862.7h2.2v12.4h-2.2zM109.8 789.2h2.2v12.4h-2.2zM113.8 789.2h2.2v12.4h-2.2zM119.7 789.2h2.2v12.4h-2.2zM121.7 764.7h2.2v12.4h-2.2zM123.6 764.7h2.2v12.4h-2.2zM129.5 813.7h2.2v12.4h-2.2zM135.4 764.7h2.2v12.4h-2.2zM135.4 776.9h2.2v12.4h-2.2zM161.6 862.7h2.3v12.4h-2.3zM163.6 862.7h2.3v12.4h-2.3zM167.7 813.7h2.3v12.4h-2.3zM167.7 826h2.3v12.4h-2.3zM169.8 764.7h2.3v12.4h-2.3zM169.8 838.2h2.3v12.4h-2.3zM175.8 764.7h2.3v12.4h-2.3zM175.8 789.2h2.3v12.4h-2.3zM177.9 826h2.3v12.4h-2.3zM179.9 862.7h2.3v12.4h-2.3zM181.9 789.2h2.3v12.4h-2.3zM183.9 764.7h2.3v12.4h-2.3zM189.9 813.7h2.2v12.4h-2.2zM195.8 813.7h2.2v12.4h-2.2zM209.4 813.7h2.2v12.4h-2.2zM211.4 850.5h2.2v12.4h-2.2zM211.4 862.7h2.2v12.4h-2.2zM219.2 789.2h2.2v12.4h-2.2zM223.1 813.7h2.2v12.4h-2.2zM230.8 813.7h2.2v12.4h-2.2zM246.2 764.7h2.2v12.4h-2.2zM250.2 776.9h2.2v12.4h-2.2zM252.2 764.7h2.2v12.4h-2.2zM252.2 776.9h2.2v12.4h-2.2zM258.1 764.7h2.2v12.4h-2.2zM264.1 776.9h2.2v12.4h-2.2zM270.1 813.7h2.2v12.4h-2.2zM272.1 752.4h2.2v12.4h-2.2zM274.1 752.4h2.2v12.4h-2.2zM274.1 813.7h2.2v12.4h-2.2zM286 764.7h2.2v12.4h-2.2zM290 776.9h2.2v12.4h-2.2zM301.6 764.7h2.2v12.4h-2.2zM305.5 764.7h2.2v12.4h-2.2zM305.5 776.9h2.2v12.4h-2.2zM311.3 789.2h2.2v12.4h-2.2z" fill="#fe9d6c" shape-rendering="crispEdges"/>
<path d="M34.9 813.7h2.2v12.4h-2.2zM42.7 764.7h2.2v12.4h-2.2zM50.4 789.2h2.2v12.4h-2.2zM50.4 813.7h2.2v12.4h-2.2zM68.3 813.7h2.2v12.4h-2.2zM72.2 813.7h2.2v12.4h-2.2zM84.1 764.7h2.2v12.4h-2.2zM84.1 813.7h2.2v12.4h-2.2zM88.1 813.7h2.2v12.4h-2.2zM94 813.7h2.2v12.4h-2.2zM102 764.7h2.2v12.4h-2.2zM105.9 764.7h2.2v12.4h-2.2zM109.8 764.7h2.2v12.4h-2.2zM113.8 764.7h2.2v12.4h-2.2zM129.5 764.7h2.2v12.4h-2.2zM137.4 850.5h2.2v12.4h-2.2zM145.3 813.7h2.2v12.4h-2.2zM147.3 850.5h2.2v12.4h-2.2zM165.7 764.7h2.3v12.4h-2.3zM169.8 862.7h2.3v12.4h-2.3zM171.8 850.5h2.3v12.4h-2.3zM177.9 850.5h2.3v12.4h-2.3zM181.9 764.7h2.3v12.4h-2.3zM183.9 850.5h2.3v12.4h-2.3zM189.9 826h2.2v12.4h-2.2zM197.7 813.7h2.2v12.4h-2.2zM219.2 862.7h2.2v12.4h-2.2zM230.8 764.7h2.2v12.4h-2.2zM236.6 862.7h2.2v12.4h-2.2zM248.2 776.9h2.2v12.4h-2.2zM258.1 813.7h2.2v12.4h-2.2zM262.1 776.9h2.2v12.4h-2.2zM280.1 764.7h2.2v12.4h-2.2zM286 776.9h2.2v12.4h-2.2zM286 813.7h2.2v12.4h-2.2zM313.2 789.2h2.2v12.4h-2.2zM317.1 764.7h2.2v12.4h-2.2zM317.1 789.2h2.2v12.4h-2.2z" fill="#feaa74" shape-rendering="crispEdges"/>
<path d="M42.7 813.7h2.2v12.4h-2.2zM46.5 764.7h2.2v12.4h-2.2zM54.4 764.7h2.2v12.4h-2.2zM54.4 789.2h2.2v12.4h-2.2zM76.2 764.7h2.2v12.4h-2.2zM78.2 764.7h2.2v12.4h-2.2zM90.1 789.2h2.2v12.4h-2.2zM90.1 813.7h2.2v12.4h-2.2zM92.1 764.7h2.2v12.4h-2.2zM94 789.2h2.2v12.4h-2.2zM98 764.7h2.2v12.4h-2.2zM111.8 764.7h2.2v12.4h-2.2zM111.8 813.7h2.2v12.4h-2.2zM117.7 764.7h2.2v12.4h-2.2zM119.7 764.7h2.2v12.4h-2.2zM119.7 813.7h2.2v12.4h-2.2zM123.6 813.7h2.2v12.4h-2.2zM135.4 850.5h2.2v12.4h-2.2zM173.8 826h2.3v12.4h-2.3zM175.8 850.5h2.3v12.4h-2.3zM177.9 764.7h2.3v12.4h-2.3zM188 826h2.2v12.4h-2.2zM207.5 850.5h2.2v12.4h-2.2zM228.9 850.5h2.2v12.4h-2.2zM230.8 850.5h2.2v12.4h-2.2zM248.2 764.7h2.2v12.4h-2.2zM252.2 752.4h2.2v12.4h-2.2zM268.1 764.7h2.2v12.4h-2.2zM282 764.7h2.2v12.4h-2.2zM284 813.7h2.2v12.4h-2.2zM288 764.7h2.2v12.4h-2.2zM288 776.9h2.2v12.4h-2.2zM290 764.7h2.2v12.4h-2.2zM299.7 764.7h2.2v12.4h-2.2z" fill="#feb67c" shape-rendering="crispEdges"/>
<path d="M46.5 813.7h2.2v12.4h-2.2zM50.4 764.7h2.2v12.4h-2.2zM86.1 764.7h2.2v12.4h-2.2zM107.9 764.7h2.2v12.4h-2.2zM115.8 764.7h2.2v12.4h-2.2zM125.6 764.7h2.2v12.4h-2.2zM151.2 813.7h2.3v12.4h-2.3zM157.4 826h2.3v12.4h-2.3zM169.8 789.2h2.3v12.4h-2.3zM189.9 862.7h2.2v12.4h-2.2zM209.4 862.7h2.2v12.4h-2.2zM217.2 813.7h2.2v12.4h-2.2zM274.1 764.7h2.2v12.4h-2.2zM274.1 776.9h2.2v12.4h-2.2zM292 764.7h2.2v12.4h-2.2zM315.1 789.2h2.2v12.4h-2.2z" fill="#fec287" shape-rendering="crispEdges"/>
<path d="M46.5 826h2.2v12.4h-2.2zM135.4 813.7h2.2v12.4h-2.2zM139.4 764.7h2.2v12.4h-2.2zM149.2 764.7h2.2v12.4h-2.2zM179.9 764.7h2.3v12.4h-2.3zM268.1 776.9h2.2v12.4h-2.2zM311.3 764.7h2.2v12.4h-2.2z" fill="#fecd90" shape-rendering="crispEdges"/>
<path d="M133.5 813.7h2.2v12.4h-2.2zM145.3 764.7h2.2v12.4h-2.2zM177.9 789.2h2.3v12.4h-2.3zM284 764.7h2.2v12.4h-2.2z" fill="#fdda9c" shape-rendering="crispEdges"/>
<path d="M68.3 764.7h2.2v12.4h-2.2zM72.2 764.7h2.2v12.4h-2.2zM80.2 813.7h2.2v12.4h-2.2zM133.5 764.7h2.2v12.4h-2.2zM143.3 764.7h2.2v12.4h-2.2zM169.8 850.5h2.3v12.4h-2.3z" fill="#fde5a7" shape-rendering="crispEdges"/>
<path d="M103.9 764.7h2.2v12.4h-2.2z" fill="#fcfdbf" shape-rendering="crispEdges"/>
<rect x="49.8" y="752.4" width="1.3" height="122.6" fill="#fff"/>
<rect x="150.6" y="752.4" width="1.3" height="122.6" fill="#fff"/>
<rect x="245.6" y="752.4" width="1.3" height="122.6" fill="#fff"/>
<text x="38.2" y="817" font-size="8.2" text-anchor="middle" font-weight="bold" fill="#fff">I</text>
<text x="100.9" y="817" font-size="8.2" text-anchor="middle" font-weight="bold" fill="#fff">II</text>
<text x="198.5" y="817" font-size="8.2" text-anchor="middle" font-weight="bold" fill="#fff">III</text>
<text x="282.9" y="817" font-size="8.2" text-anchor="middle" font-weight="bold" fill="#fff">IV</text>
<rect x="26.8" y="747.8" width="23.6" height="4.3" fill="#ff7f0e"/>
<rect x="50.3" y="747.8" width="18.7" height="4.3" fill="#2ca02c"/>
<rect x="68.9" y="747.8" width="82.4" height="4.3" fill="#d62728"/>
<rect x="151.2" y="747.8" width="14.6" height="4.3" fill="#9467bd"/>
<rect x="165.7" y="747.8" width="21.8" height="4.3" fill="#8c564b"/>
<rect x="187.4" y="747.8" width="58" height="4.3" fill="#e377c2"/>
<rect x="245.3" y="747.8" width="1.6" height="4.3" fill="#bcbd22"/>
<rect x="246.8" y="747.8" width="2.3" height="4.3" fill="#9acd32"/>
<rect x="249" y="747.8" width="2.3" height="4.3" fill="#40a8e0"/>
<rect x="251.2" y="747.8" width="11.3" height="4.3" fill="#2a0a9a"/>
<rect x="262.4" y="747.8" width="4.9" height="4.3" fill="#0a3a0a"/>
<rect x="267.2" y="747.8" width="24.9" height="4.3" fill="#20e8a0"/>
<rect x="292" y="747.8" width="19.9" height="4.3" fill="#5a0a3a"/>
<rect x="311.8" y="747.8" width="2.3" height="4.3" fill="#c8c0e8"/>
<rect x="314" y="747.8" width="5.4" height="4.3" fill="#e0b0a0"/>
<path d="M30.1 747.8V746.8H32V747.8M28.2 747.8V745.5H31.1V746.8M29.6 745.5V744.3H34V747.8M35.9 747.8V746.9H37.8V747.8M31.8 744.3V742.3H36.9V746.9M39.8 747.8V746.9H41.7V747.8M43.6 747.8V746.7H45.6V747.8M44.6 746.7V745.7H47.5V747.8M46 745.7V744H49.4V747.8M40.7 746.9V741.9H47.7V744M34.3 742.3V740.5H44.2V741.9M51.4 747.8V746.8H53.3V747.8M55.2 747.8V747H57.2V747.8M52.3 746.8V745.1H56.2V747M59.1 747.8V746.8H61.1V747.8M60.1 746.8V745.4H63V747.8M66.9 747.8V747H68.8V747.8M64.9 747.8V745.7H67.8V747M66.4 745.7V744.3H70.8V747.8M61.5 745.4V742H68.6V744.3M54.3 745.1V740.5H65.1V742M72.7 747.8V746.9H74.6V747.8M73.7 746.9V745.4H76.6V747.8M78.5 747.8V746.9H80.4V747.8M75.1 745.4V743.9H79.5V746.9M59.7 740.5V740.5H77.3V743.9M82.4 747.8V747H84.3V747.8M83.4 747V745.7H86.3V747.8M88.2 747.8V746.9H90.1V747.8M84.8 745.7V744.2H89.2V746.9M94 747.8V746.8H96V747.8M92.1 747.8V745.6H95V746.8M99.8 747.8V746.8H101.8V747.8M97.9 747.8V745.5H100.8V746.8M93.5 745.6V743.9H99.3V745.5M105.6 747.8V746.7H107.6V747.8M103.7 747.8V745.8H106.6V746.7M96.4 743.9V741.7H105.2V745.8M87 744.2V740.5H100.8V741.7M68.5 740.5V740.5H93.9V740.5M109.5 747.8V747H111.5V747.8M115.3 747.8V747H117.3V747.8M113.4 747.8V745.6H116.3V747M110.5 747V743.9H114.9V745.6M119.2 747.8V746.8H121.2V747.8M123.1 747.8V746.7H125V747.8M120.2 746.8V745.6H124.1V746.7M112.7 743.9V741.5H122.1V745.6M127 747.8V747H128.9V747.8M127.9 747V746H130.8V747.8M129.4 746V744.5H132.8V747.8M117.4 741.5V740.5H131.1V744.5M134.7 747.8V746.9H136.7V747.8M138.6 747.8V746.9H140.5V747.8M139.6 746.9V745.7H142.5V747.8M135.7 746.9V744H141V745.7M144.4 747.8V746.7H146.4V747.8M148.3 747.8V747H150.2V747.8M145.4 746.7V745.4H149.3V747M138.4 744V742.3H147.3V745.4M124.2 740.5V740.5H142.8V742.3M81.2 740.5V740.5H133.5V740.5M152.2 747.8V746.7H154.1V747.8M156 747.8V746.9H158V747.8M157 746.9V745.4H159.9V747.8M153.1 746.7V743.6H158.5V745.4M161.9 747.8V746.9H163.8V747.8M155.8 743.6V741.6H162.8V746.9M165.7 747.8V746.8H167.7V747.8M169.6 747.8V746.8H171.6V747.8M166.7 746.8V745.4H170.6V746.8M173.5 747.8V746.9H175.4V747.8M177.4 747.8V747H179.3V747.8M174.5 746.9V745.6H178.3V747M168.6 745.4V742.9H176.4V745.6M159.3 741.6V740.5H172.5V742.9M181.3 747.8V746.9H183.2V747.8M185.1 747.8V747H187.1V747.8M182.2 746.9V745.4H186.1V747M189 747.8V746.7H190.9V747.8M190 746.7V745.7H192.9V747.8M184.2 745.4V743.2H191.4V745.7M196.8 747.8V747H198.7V747.8M197.7 747V745.7H200.6V747.8M194.8 747.8V744H199.2V745.7M202.6 747.8V747H204.5V747.8M203.5 747V745.8H206.5V747.8M197 744V742.4H205V745.8M187.8 743.2V740.5H201V742.4M165.9 740.5V740.5H194.4V740.5M208.4 747.8V747H210.3V747.8M209.4 747V745.7H212.3V747.8M214.2 747.8V746.8H216.1V747.8M210.8 745.7V743.8H215.2V746.8M220 747.8V746.9H222V747.8M221 746.9V745.8H223.9V747.8M218.1 747.8V744.3H222.5V745.8M213 743.8V742H220.3V744.3M225.8 747.8V747H227.8V747.8M229.7 747.8V747H231.7V747.8M230.7 747V745.8H233.6V747.8M226.8 747V744.4H232.1V745.8M235.5 747.8V746.9H237.5V747.8M239.4 747.8V746.9H241.4V747.8M236.5 746.9V745.5H240.4V746.9M243.3 747.8V746.8H245.2V747.8M238.4 745.5V744H244.3V746.8M229.5 744.4V741.8H241.4V744M216.6 742V740.5H235.4V741.8M180.2 740.5V740.5H226V740.5M247.2 747.8V747H249.2V747.8M251.1 747.8V746.9H253.1V747.8M252.1 746.9V745.8H255.1V747.8M248.2 747V743.9H253.6V745.8M257 747.8V746.8H259V747.8M250.9 743.9V742.3H258V746.8M262.9 747.8V747H264.9V747.8M261 747.8V746H263.9V747M254.4 742.3V740.6H262.4V746M268.8 747.8V746.9H270.8V747.8M266.9 747.8V745.9H269.8V746.9M272.8 747.8V746.9H274.7V747.8M273.7 746.9V745.6H276.7V747.8M268.3 745.9V744H275.2V745.6M258.4 740.6V740.5H271.8V744M278.7 747.8V747H280.6V747.8M279.6 747V745.6H282.6V747.8M281.1 745.6V743.9H284.6V747.8M286.5 747.8V746.8H288.5V747.8M282.8 743.9V741.9H287.5V746.8M292.4 747.8V746.8H294.4V747.8M290.5 747.8V745.6H293.4V746.8M296.4 747.8V746.9H298.3V747.8M300.3 747.8V747H302.3V747.8M297.4 746.9V745.6H301.3V747M291.9 745.6V744.1H299.3V745.6M285.2 741.9V740.5H295.6V744.1M304.2 747.8V746.9H306.2V747.8M305.2 746.9V745.8H308.2V747.8M310.1 747.8V746.7H312.1V747.8M314.1 747.8V747H316V747.8M315.1 747V745.8H318V747.8M311.1 746.7V743.9H316.5V745.8M306.7 745.8V741.5H313.8V743.9M290.4 740.5V740.5H310.3V741.5M265.1 740.5V740.5H300.3V740.5" stroke="#555" stroke-width="0.45" fill="none"/>
<path d="M39.3 740.5V738H107.4V740.5M73.3 738V736.5H203.1V740.5M138.2 736.5V734.2H282.7V740.5" stroke="#999" stroke-width="0.5" fill="none"/>
<path d="M27 770.8H24.5V783H27M24.5 776.9H22.5V758.5H27M27 795.3H25V807.6H27M27 819.8H25.5V832.1H27M25.5 826H24V844.4H27M27 856.6H25.5V868.9H27M24 832.1H22V862.7H25.5M25 801.4H21.5V847.4H22M22.5 767.7H21V800H21.5" stroke="#bbb" stroke-width="0.5" fill="none"/>
<text x="323.6" y="761.7" font-size="8.8" fill="#111" stroke="#111" stroke-width="0.12">7</text>
<line x1="319" y1="758.5" x2="321" y2="758.5" stroke="#999" stroke-width="0.5"/>
<text x="323.6" y="774" font-size="8.8" fill="#111" stroke="#111" stroke-width="0.12">5</text>
<line x1="319" y1="770.8" x2="321" y2="770.8" stroke="#999" stroke-width="0.5"/>
<text x="323.6" y="786.2" font-size="8.8" fill="#111" stroke="#111" stroke-width="0.12">8</text>
<line x1="319" y1="783" x2="321" y2="783" stroke="#999" stroke-width="0.5"/>
<text x="323.6" y="798.5" font-size="8.8" fill="#111" stroke="#111" stroke-width="0.12">6</text>
<line x1="319" y1="795.3" x2="321" y2="795.3" stroke="#999" stroke-width="0.5"/>
<text x="323.6" y="810.8" font-size="8.8" fill="#111" stroke="#111" stroke-width="0.12">10</text>
<line x1="319" y1="807.6" x2="321" y2="807.6" stroke="#999" stroke-width="0.5"/>
<text x="323.6" y="823" font-size="8.8" fill="#111" stroke="#111" stroke-width="0.12">2</text>
<line x1="319" y1="819.8" x2="321" y2="819.8" stroke="#999" stroke-width="0.5"/>
<text x="323.6" y="835.3" font-size="8.8" fill="#111" stroke="#111" stroke-width="0.12">4</text>
<line x1="319" y1="832.1" x2="321" y2="832.1" stroke="#999" stroke-width="0.5"/>
<text x="323.6" y="847.6" font-size="8.8" fill="#111" stroke="#111" stroke-width="0.12">1</text>
<line x1="319" y1="844.4" x2="321" y2="844.4" stroke="#999" stroke-width="0.5"/>
<text x="323.6" y="859.8" font-size="8.8" fill="#111" stroke="#111" stroke-width="0.12">3</text>
<line x1="319" y1="856.6" x2="321" y2="856.6" stroke="#999" stroke-width="0.5"/>
<text x="323.6" y="872.1" font-size="8.8" fill="#111" stroke="#111" stroke-width="0.12">9</text>
<line x1="319" y1="868.9" x2="321" y2="868.9" stroke="#999" stroke-width="0.5"/>
<rect x="2.1" y="753.3" width="9.3" height="64" fill="url(#mg)"/>
<text x="13.6" y="756.5" font-size="9" fill="#111" stroke="#111" stroke-width="0.12">2</text>
<text x="13.6" y="789" font-size="9" fill="#111" stroke="#111" stroke-width="0.12">0</text>
<text x="10.8" y="821.4" font-size="9" fill="#111" stroke="#111" stroke-width="0.12">-2</text>
<text x="173.3" y="886.3" font-size="9" text-anchor="middle" fill="#111" stroke="#111" stroke-width="0.12">Tumor samples</text>
<defs><clipPath id="tc5"><path d="M74.2 932.2L74.1 934.4L73.8 936.7L73.3 938.9L72.6 941L71.8 943.1L70.7 945.1L69.5 947L68.2 948.8L66.6 950.4L65 952L63.2 953.3L61.3 954.5L59.3 955.6L57.2 956.4L55.1 957.1L52.9 957.6L50.6 957.9L48.4 958L46.2 957.9L43.9 957.6L41.7 957.1L39.6 956.4L37.5 955.6L35.5 954.5L33.6 953.3L31.8 952L30.2 950.4L28.6 948.8L27.3 947L26.1 945.1L25 943.1L24.2 941L23.5 938.9L23 936.7L22.7 934.4L22.6 932.2L22.7 930L23 927.7L23.5 925.5L24.2 923.4L25 921.3L26.1 919.3L27.3 917.4L28.6 915.6L30.2 914L31.8 912.4L33.6 911.1L35.5 909.9L37.5 908.8L39.6 908L41.7 907.3L43.9 906.8L46.2 906.5L48.4 906.4L50.6 906.5L52.9 906.8L55.1 907.3L57.2 908L59.3 908.8L61.3 909.9L63.2 911.1L65 912.4L66.6 914L68.2 915.6L69.5 917.4L70.7 919.3L71.8 921.3L72.6 923.4L73.3 925.5L73.8 927.7L74.1 930Z"/></clipPath><filter id="tf5_0" filterUnits="userSpaceOnUse" x="19.6" y="903.4" width="57.6" height="57.6" color-interpolation-filters="sRGB"><feTurbulence type="fractalNoise" baseFrequency="0.8" numOctaves="2" seed="41"/><feColorMatrix type="matrix" values="1 0 0 0 0 1 0 0 0 0 1 0 0 0 0 0 0 0 0 1"/><feComponentTransfer><feFuncR type="table" tableValues="0.000 0.000 0.000 0.001 0.003 0.008 0.019 0.041 0.082 0.149 0.244 0.364 0.500 0.636 0.756 0.851 0.918 0.959 0.981 0.992 0.997 0.999 1.000 1.000 1.000"/><feFuncG type="table" tableValues="0.000 0.000 0.000 0.001 0.003 0.008 0.019 0.041 0.082 0.149 0.244 0.364 0.500 0.636 0.756 0.851 0.918 0.959 0.981 0.992 0.997 0.999 1.000 1.000 1.000"/><feFuncB type="table" tableValues="0.000 0.000 0.000 0.001 0.003 0.008 0.019 0.041 0.082 0.149 0.244 0.364 0.500 0.636 0.756 0.851 0.918 0.959 0.981 0.992 0.997 0.999 1.000 1.000 1.000"/></feComponentTransfer><feComponentTransfer><feFuncR type="discrete" tableValues="0.839 1.000 1.000 1.000 0.890 0.173 0.173 0.580 1.000 1.000 1.000 0.580 1.000 1.000 1.000 1.000 1.000 1.000 0.090 0.549 1.000 0.173 0.549 0.839 0.839 0.839 1.000 1.000 0.498 0.839 1.000 1.000 1.000 1.000 0.839 1.000 0.498 0.839 0.122 0.839 0.122 0.737 1.000 1.000 0.839 1.000"/><feFuncG type="discrete" tableValues="0.153 1.000 0.498 1.000 0.467 0.627 0.627 0.404 1.000 0.498 0.498 0.404 1.000 0.498 1.000 0.498 1.000 0.498 0.745 0.337 0.498 0.627 0.337 0.153 0.153 0.153 0.498 0.498 0.498 0.153 0.498 0.498 1.000 0.498 0.153 0.498 0.498 0.153 0.467 0.153 0.467 0.741 0.498 0.498 0.153 1.000"/><feFuncB type="discrete" tableValues="0.157 1.000 0.055 1.000 0.761 0.173 0.173 0.741 1.000 0.055 0.055 0.741 1.000 0.055 1.000 0.055 1.000 0.055 0.812 0.294 0.055 0.173 0.294 0.157 0.157 0.157 0.055 0.055 0.498 0.157 0.055 0.055 1.000 0.055 0.157 0.055 0.498 0.157 0.706 0.157 0.706 0.133 0.055 0.055 0.157 1.000"/></feComponentTransfer><feConvolveMatrix order="3" kernelMatrix="1 2 1 2 4 2 1 2 1" edgeMode="duplicate"/></filter><filter id="tf5_1" filterUnits="userSpaceOnUse" x="19.6" y="903.4" width="57.6" height="57.6" color-interpolation-filters="sRGB"><feTurbulence type="fractalNoise" baseFrequency="0.25" numOctaves="2" seed="42"/><feColorMatrix type="matrix" values="0 0 0 0 1.000 0 0 0 0 0.498 0 0 0 0 0.055 1 0 0 0 0"/><feComponentTransfer><feFuncA type="table" tableValues="0.000 0.000 0.000 0.001 0.003 0.008 0.019 0.041 0.082 0.149 0.244 0.364 0.500 0.636 0.756 0.851 0.918 0.959 0.981 0.992 0.997 0.999 1.000 1.000 1.000"/></feComponentTransfer><feComponentTransfer><feFuncA type="discrete" tableValues="0 0 0 0 0 0 0 0 0 0 0 0 0 0 0 0 0 0 0 0 0 0 0 0 0 0 0 0 0 0 0 0 0 0 0 0 0 0 0 0 0 0 0 0 1 1 1 1 1 1"/></feComponentTransfer><feConvolveMatrix order="3" kernelMatrix="1 2 1 2 4 2 1 2 1" edgeMode="duplicate"/></filter><clipPath id="tc6"><path d="M138.9 932.8L138.8 935L138.5 937.1L138 939.3L137.4 941.4L136.6 943.4L135.6 945.3L134.4 947.1L133.1 948.9L131.6 950.5L130 952L128.2 953.3L126.4 954.5L124.5 955.5L122.5 956.3L120.4 956.9L118.2 957.4L116.1 957.7L113.9 957.8L111.7 957.7L109.6 957.4L107.4 956.9L105.3 956.3L103.3 955.5L101.4 954.5L99.6 953.3L97.8 952L96.2 950.5L94.7 948.9L93.4 947.1L92.3 945.2L92.2 942.9L92.5 940.6L92.4 938.6L92.2 936.6L92.7 934.7L92.9 932.8L92.7 930.9L92.1 929L91.5 926.8L91.1 924.5L91.3 922.3L92.2 920.3L93.4 918.5L94.7 916.7L96.2 915.1L97.8 913.6L99.6 912.3L101.4 911.1L103.3 910.1L105.3 909.3L107.4 908.7L109.6 908.2L111.7 907.9L113.9 907.8L116.1 907.9L118.2 908.2L120.4 908.7L122.5 909.3L124.5 910.1L126.4 911.1L128.2 912.3L130 913.6L131.6 915.1L133.1 916.7L134.4 918.5L135.6 920.3L136.6 922.2L137.4 924.2L138 926.3L138.5 928.5L138.8 930.6Z"/></clipPath><filter id="tf6_0" filterUnits="userSpaceOnUse" x="85.9" y="904.8" width="56" height="56" color-interpolation-filters="sRGB"><feTurbulence type="fractalNoise" baseFrequency="0.8" numOctaves="2" seed="43"/><feColorMatrix type="matrix" values="1 0 0 0 0 1 0 0 0 0 1 0 0 0 0 0 0 0 0 1"/><feComponentTransfer><feFuncR type="table" tableValues="0.000 0.000 0.000 0.001 0.003 0.008 0.019 0.041 0.082 0.149 0.244 0.364 0.500 0.636 0.756 0.851 0.918 0.959 0.981 0.992 0.997 0.999 1.000 1.000 1.000"/><feFuncG type="table" tableValues="0.000 0.000 0.000 0.001 0.003 0.008 0.019 0.041 0.082 0.149 0.244 0.364 0.500 0.636 0.756 0.851 0.918 0.959 0.981 0.992 0.997 0.999 1.000 1.000 1.000"/><feFuncB type="table" tableValues="0.000 0.000 0.000 0.001 0.003 0.008 0.019 0.041 0.082 0.149 0.244 0.364 0.500 0.636 0.756 0.851 0.918 0.959 0.981 0.992 0.997 0.999 1.000 1.000 1.000"/></feComponentTransfer><feComponentTransfer><feFuncR type="discrete" tableValues="1.000 0.090 0.804 0.804 0.804 1.000 1.000 1.000 1.000 0.722 0.722 0.890 1.000 0.580 1.000 0.804 1.000 0.804 0.549 0.804 1.000 0.804 1.000 1.000 1.000 1.000 0.580 0.580 1.000 0.090 0.549 1.000 0.580 0.090 0.498 0.580 0.090 1.000 0.580 0.549 0.498 1.000 0.804 0.580 1.000 0.890 0.804 1.000"/><feFuncG type="discrete" tableValues="1.000 0.745 0.722 0.722 0.722 1.000 1.000 0.498 1.000 0.910 0.910 0.467 1.000 0.404 0.498 0.722 1.000 0.722 0.337 0.722 1.000 0.722 1.000 0.498 1.000 1.000 0.404 0.404 1.000 0.745 0.337 1.000 0.404 0.745 0.498 0.404 0.745 1.000 0.404 0.337 0.498 1.000 0.722 0.404 1.000 0.467 0.722 1.000"/><feFuncB type="discrete" tableValues="1.000 0.812 0.902 0.902 0.902 1.000 1.000 0.055 1.000 0.933 0.933 0.761 1.000 0.741 0.055 0.902 1.000 0.902 0.294 0.902 1.000 0.902 1.000 0.055 1.000 1.000 0.741 0.741 1.000 0.812 0.294 1.000 0.741 0.812 0.498 0.741 0.812 1.000 0.741 0.294 0.498 1.000 0.902 0.741 1.000 0.761 0.902 1.000"/></feComponentTransfer><feConvolveMatrix order="3" kernelMatrix="1 2 1 2 4 2 1 2 1" edgeMode="duplicate"/></filter><filter id="tf6_1" filterUnits="userSpaceOnUse" x="85.9" y="904.8" width="56" height="56" color-interpolation-filters="sRGB"><feTurbulence type="fractalNoise" baseFrequency="0.2" numOctaves="2" seed="44"/><feColorMatrix type="matrix" values="0 0 0 0 0.627 0 0 0 0 0.478 0 0 0 0 0.816 1 0 0 0 0"/><feComponentTransfer><feFuncA type="table" tableValues="0.000 0.000 0.000 0.001 0.003 0.008 0.019 0.041 0.082 0.149 0.244 0.364 0.500 0.636 0.756 0.851 0.918 0.959 0.981 0.992 0.997 0.999 1.000 1.000 1.000"/></feComponentTransfer><feComponentTransfer><feFuncA type="discrete" tableValues="0 0 0 0 0 0 0 0 0 0 0 0 0 0 0 0 0 0 0 0 0 0 0 0 0 0 0 0 0 0 0 0 0 0 0 0 0 0 0 0 0 0 1 1 1 1 1 1 1 1"/></feComponentTransfer><feConvolveMatrix order="3" kernelMatrix="1 2 1 2 4 2 1 2 1" edgeMode="duplicate"/></filter><clipPath id="tc7"><path d="M138.9 932.8L138.8 935L138.5 937.1L138 939.3L137.4 941.4L136.6 943.4L135.6 945.3L134.4 947.1L133.1 948.9L131.6 950.5L130 952L128.2 953.3L126.4 954.5L124.5 955.5L122.5 956.3L120.4 956.9L118.2 957.4L116.1 957.7L113.9 957.8L111.7 957.7L109.6 957.4L107.4 956.9L105.3 956.3L103.3 955.5L101.4 954.5L99.6 953.3L97.8 952L96.2 950.5L94.7 948.9L93.4 947.1L92.3 945.2L92.2 942.9L92.5 940.6L92.4 938.6L92.2 936.6L92.7 934.7L92.9 932.8L92.7 930.9L92.1 929L91.5 926.8L91.1 924.5L91.3 922.3L92.2 920.3L93.4 918.5L94.7 916.7L96.2 915.1L97.8 913.6L99.6 912.3L101.4 911.1L103.3 910.1L105.3 909.3L107.4 908.7L109.6 908.2L111.7 907.9L113.9 907.8L116.1 907.9L118.2 908.2L120.4 908.7L122.5 909.3L124.5 910.1L126.4 911.1L128.2 912.3L130 913.6L131.6 915.1L133.1 916.7L134.4 918.5L135.6 920.3L136.6 922.2L137.4 924.2L138 926.3L138.5 928.5L138.8 930.6Z"/></clipPath><filter id="tf7_0" filterUnits="userSpaceOnUse" x="85.9" y="904.8" width="56" height="56" color-interpolation-filters="sRGB"><feTurbulence type="fractalNoise" baseFrequency="0.35" numOctaves="2" seed="145"/><feColorMatrix type="matrix" values="0 0 0 0 0.435 0 0 0 0 0.831 0 0 0 0 0.871 1 0 0 0 0"/><feComponentTransfer><feFuncA type="table" tableValues="0.000 0.000 0.000 0.001 0.003 0.008 0.019 0.041 0.082 0.149 0.244 0.364 0.500 0.636 0.756 0.851 0.918 0.959 0.981 0.992 0.997 0.999 1.000 1.000 1.000"/></feComponentTransfer><feComponentTransfer><feFuncA type="discrete" tableValues="0 0 0 0 0 0 0 0 0 0 0 0 0 0 0 0 0 0 0 0 0 0 0 0 0 0 0 0 0 0 0 0 0 0 0 1 1 1 1 1 1 1 1 1 1 1 1 1 1 1"/></feComponentTransfer><feConvolveMatrix order="3" kernelMatrix="1 2 1 2 4 2 1 2 1" edgeMode="duplicate"/></filter><clipPath id="td7"><path d="M85 905H122L118 920L108 930L96 936L85 940Z"/></clipPath><clipPath id="tc8"><path d="M138.9 932.8L138.8 935L138.5 937.1L138 939.3L137.4 941.4L136.6 943.4L135.6 945.3L134.4 947.1L133.1 948.9L131.6 950.5L130 952L128.2 953.3L126.4 954.5L124.5 955.5L122.5 956.3L120.4 956.9L118.2 957.4L116.1 957.7L113.9 957.8L111.7 957.7L109.6 957.4L107.4 956.9L105.3 956.3L103.3 955.5L101.4 954.5L99.6 953.3L97.8 952L96.2 950.5L94.7 948.9L93.4 947.1L92.3 945.2L92.2 942.9L92.5 940.6L92.4 938.6L92.2 936.6L92.7 934.7L92.9 932.8L92.7 930.9L92.1 929L91.5 926.8L91.1 924.5L91.3 922.3L92.2 920.3L93.4 918.5L94.7 916.7L96.2 915.1L97.8 913.6L99.6 912.3L101.4 911.1L103.3 910.1L105.3 909.3L107.4 908.7L109.6 908.2L111.7 907.9L113.9 907.8L116.1 907.9L118.2 908.2L120.4 908.7L122.5 909.3L124.5 910.1L126.4 911.1L128.2 912.3L130 913.6L131.6 915.1L133.1 916.7L134.4 918.5L135.6 920.3L136.6 922.2L137.4 924.2L138 926.3L138.5 928.5L138.8 930.6Z"/></clipPath><filter id="tf8_0" filterUnits="userSpaceOnUse" x="85.9" y="904.8" width="56" height="56" color-interpolation-filters="sRGB"><feTurbulence type="fractalNoise" baseFrequency="0.3" numOctaves="2" seed="146"/><feColorMatrix type="matrix" values="0 0 0 0 0.604 0 0 0 0 0.439 0 0 0 0 0.800 1 0 0 0 0"/><feComponentTransfer><feFuncA type="table" tableValues="0.000 0.000 0.000 0.001 0.003 0.008 0.019 0.041 0.082 0.149 0.244 0.364 0.500 0.636 0.756 0.851 0.918 0.959 0.981 0.992 0.997 0.999 1.000 1.000 1.000"/></feComponentTransfer><feComponentTransfer><feFuncA type="discrete" tableValues="0 0 0 0 0 0 0 0 0 0 0 0 0 0 0 0 0 0 0 0 0 0 0 0 0 0 0 0 0 0 1 1 1 1 1 1 1 1 1 1 1 1 1 1 1 1 1 1 1 1"/></feComponentTransfer><feConvolveMatrix order="3" kernelMatrix="1 2 1 2 4 2 1 2 1" edgeMode="duplicate"/></filter><clipPath id="td8"><path d="M85 937L100 935L112 940L114 960L85 960Z"/></clipPath><clipPath id="tc9"><path d="M138.9 932.8L138.8 935L138.5 937.1L138 939.3L137.4 941.4L136.6 943.4L135.6 945.3L134.4 947.1L133.1 948.9L131.6 950.5L130 952L128.2 953.3L126.4 954.5L124.5 955.5L122.5 956.3L120.4 956.9L118.2 957.4L116.1 957.7L113.9 957.8L111.7 957.7L109.6 957.4L107.4 956.9L105.3 956.3L103.3 955.5L101.4 954.5L99.6 953.3L97.8 952L96.2 950.5L94.7 948.9L93.4 947.1L92.3 945.2L92.2 942.9L92.5 940.6L92.4 938.6L92.2 936.6L92.7 934.7L92.9 932.8L92.7 930.9L92.1 929L91.5 926.8L91.1 924.5L91.3 922.3L92.2 920.3L93.4 918.5L94.7 916.7L96.2 915.1L97.8 913.6L99.6 912.3L101.4 911.1L103.3 910.1L105.3 909.3L107.4 908.7L109.6 908.2L111.7 907.9L113.9 907.8L116.1 907.9L118.2 908.2L120.4 908.7L122.5 909.3L124.5 910.1L126.4 911.1L128.2 912.3L130 913.6L131.6 915.1L133.1 916.7L134.4 918.5L135.6 920.3L136.6 922.2L137.4 924.2L138 926.3L138.5 928.5L138.8 930.6Z"/></clipPath><filter id="tf9_0" filterUnits="userSpaceOnUse" x="85.9" y="904.8" width="56" height="56" color-interpolation-filters="sRGB"><feTurbulence type="fractalNoise" baseFrequency="0.4" numOctaves="2" seed="147"/><feColorMatrix type="matrix" values="0 0 0 0 1.000 0 0 0 0 0.498 0 0 0 0 0.055 1 0 0 0 0"/><feComponentTransfer><feFuncA type="table" tableValues="0.000 0.000 0.000 0.001 0.003 0.008 0.019 0.041 0.082 0.149 0.244 0.364 0.500 0.636 0.756 0.851 0.918 0.959 0.981 0.992 0.997 0.999 1.000 1.000 1.000"/></feComponentTransfer><feComponentTransfer><feFuncA type="discrete" tableValues="0 0 0 0 0 0 0 0 0 0 0 0 0 0 0 0 0 0 0 0 0 0 0 0 0 0 0 0 0 0 0 0 1 1 1 1 1 1 1 1 1 1 1 1 1 1 1 1 1 1"/></feComponentTransfer><feConvolveMatrix order="3" kernelMatrix="1 2 1 2 4 2 1 2 1" edgeMode="duplicate"/></filter><clipPath id="td9"><path d="M108 942L125 935L142 930L142 960L108 960Z"/></clipPath><clipPath id="tc10"><path d="M138.9 932.8L138.8 935L138.5 937.1L138 939.3L137.4 941.4L136.6 943.4L135.6 945.3L134.4 947.1L133.1 948.9L131.6 950.5L130 952L128.2 953.3L126.4 954.5L124.5 955.5L122.5 956.3L120.4 956.9L118.2 957.4L116.1 957.7L113.9 957.8L111.7 957.7L109.6 957.4L107.4 956.9L105.3 956.3L103.3 955.5L101.4 954.5L99.6 953.3L97.8 952L96.2 950.5L94.7 948.9L93.4 947.1L92.3 945.2L92.2 942.9L92.5 940.6L92.4 938.6L92.2 936.6L92.7 934.7L92.9 932.8L92.7 930.9L92.1 929L91.5 926.8L91.1 924.5L91.3 922.3L92.2 920.3L93.4 918.5L94.7 916.7L96.2 915.1L97.8 913.6L99.6 912.3L101.4 911.1L103.3 910.1L105.3 909.3L107.4 908.7L109.6 908.2L111.7 907.9L113.9 907.8L116.1 907.9L118.2 908.2L120.4 908.7L122.5 909.3L124.5 910.1L126.4 911.1L128.2 912.3L130 913.6L131.6 915.1L133.1 916.7L134.4 918.5L135.6 920.3L136.6 922.2L137.4 924.2L138 926.3L138.5 928.5L138.8 930.6Z"/></clipPath><filter id="tf10_0" filterUnits="userSpaceOnUse" x="85.9" y="904.8" width="56" height="56" color-interpolation-filters="sRGB"><feTurbulence type="fractalNoise" baseFrequency="0.3" numOctaves="2" seed="148"/><feColorMatrix type="matrix" values="0 0 0 0 0.604 0 0 0 0 0.439 0 0 0 0 0.800 1 0 0 0 0"/><feComponentTransfer><feFuncA type="table" tableValues="0.000 0.000 0.000 0.001 0.003 0.008 0.019 0.041 0.082 0.149 0.244 0.364 0.500 0.636 0.756 0.851 0.918 0.959 0.981 0.992 0.997 0.999 1.000 1.000 1.000"/></feComponentTransfer><feComponentTransfer><feFuncA type="discrete" tableValues="0 0 0 0 0 0 0 0 0 0 0 0 0 0 0 0 0 0 0 0 0 0 0 0 0 0 0 0 0 0 0 0 0 0 0 1 1 1 1 1 1 1 1 1 1 1 1 1 1 1"/></feComponentTransfer><feConvolveMatrix order="3" kernelMatrix="1 2 1 2 4 2 1 2 1" edgeMode="duplicate"/></filter><clipPath id="td10"><path d="M112 912L130 906L142 915L140 930L122 932Z"/></clipPath><clipPath id="tc11"><path d="M153.9 931.8L154 929.1L154.5 926.3L155.2 923.7L156.2 921.1L157.4 918.6L158.9 916.3L160.7 914.2L162.6 912.3L164.7 910.5L167 909L169.5 907.8L172.1 906.8L174.7 906.1L177.5 905.6L180.2 905.5L182.9 905.6L185.7 906.1L188.3 906.8L190.9 907.8L193.3 909L195.7 910.5L197.8 912.3L199.7 914.2L201.5 916.3L203 918.6L204.2 921.1L205.2 923.7L205.9 926.3L206.4 929.1L206.5 931.8L206.4 934.5L205.9 937.3L205.2 939.9L204.2 942.5L203 944.9L201.5 947.3L199 951Q194 948 189 947Q181 945.5 174 947Q169 949.5 168 955L165.5 957Q160 955 158 943Z"/></clipPath><filter id="tf11_0" filterUnits="userSpaceOnUse" x="150.9" y="902.5" width="58.6" height="58.6" color-interpolation-filters="sRGB"><feTurbulence type="fractalNoise" baseFrequency="0.8" numOctaves="2" seed="47"/><feColorMatrix type="matrix" values="1 0 0 0 0 1 0 0 0 0 1 0 0 0 0 0 0 0 0 1"/><feComponentTransfer><feFuncR type="table" tableValues="0.000 0.000 0.000 0.001 0.003 0.008 0.019 0.041 0.082 0.149 0.244 0.364 0.500 0.636 0.756 0.851 0.918 0.959 0.981 0.992 0.997 0.999 1.000 1.000 1.000"/><feFuncG type="table" tableValues="0.000 0.000 0.000 0.001 0.003 0.008 0.019 0.041 0.082 0.149 0.244 0.364 0.500 0.636 0.756 0.851 0.918 0.959 0.981 0.992 0.997 0.999 1.000 1.000 1.000"/><feFuncB type="table" tableValues="0.000 0.000 0.000 0.001 0.003 0.008 0.019 0.041 0.082 0.149 0.244 0.364 0.500 0.636 0.756 0.851 0.918 0.959 0.981 0.992 0.997 0.999 1.000 1.000 1.000"/></feComponentTransfer><feComponentTransfer><feFuncR type="discrete" tableValues="0.890 0.659 1.000 0.580 0.090 0.659 0.173 1.000 0.580 1.000 0.839 0.173 1.000 1.000 0.122 1.000 0.839 0.839 0.549 0.580 0.498 1.000 0.839 0.549 0.839 1.000 0.549 1.000 0.839 0.498 1.000 1.000 1.000 1.000 1.000 1.000 1.000 1.000 1.000 0.839 1.000 0.173 1.000 0.173 1.000 1.000 1.000"/><feFuncG type="discrete" tableValues="0.467 0.878 1.000 0.404 0.745 0.878 0.627 0.498 0.404 0.498 0.153 0.627 0.498 1.000 0.467 1.000 0.153 0.153 0.337 0.404 0.498 0.498 0.153 0.337 0.153 1.000 0.337 1.000 0.153 0.498 0.498 0.498 0.498 0.498 1.000 0.498 1.000 1.000 1.000 0.153 1.000 0.627 1.000 0.627 1.000 0.498 1.000"/><feFuncB type="discrete" tableValues="0.761 0.659 1.000 0.741 0.812 0.659 0.173 0.055 0.741 0.055 0.157 0.173 0.055 1.000 0.706 1.000 0.157 0.157 0.294 0.741 0.498 0.055 0.157 0.294 0.157 1.000 0.294 1.000 0.157 0.498 0.055 0.055 0.055 0.055 1.000 0.055 1.000 1.000 1.000 0.157 1.000 0.173 1.000 0.173 1.000 0.055 1.000"/></feComponentTransfer><feConvolveMatrix order="3" kernelMatrix="1 2 1 2 4 2 1 2 1" edgeMode="duplicate"/></filter><clipPath id="tc12"><path d="M272.6 932L272.5 934.3L272.2 936.6L271.7 938.9L271 941.1L270.1 943.2L269 945.3L267.8 947.3L266.4 949.1L264.8 950.8L263.1 952.4L261.3 953.8L259.3 955L257.2 956.1L255.1 957L252.9 957.7L250.6 958.2L248.3 958.5L246 958.6L243.7 958.5L241.4 958.2L239.1 957.7L236.9 957L234.8 956.1L232.7 955L230.7 953.8L228.9 952.4L227.2 950.8L225.6 949.1L224.2 947.3L223 945.3L221.9 943.2L221 941.1L220.3 938.9L219.8 936.6L219.5 934.3L219.4 932L219.5 929.7L219.8 927.4L220.3 925.1L221 922.9L221.9 920.8L223 918.7L224.2 916.7L225.6 914.9L227.2 913.2L228.9 911.6L230.7 910.2L232.7 909L234.8 907.9L236.9 907L239.1 906.3L241.4 905.8L243.7 905.5L246 905.4L248.3 905.5L250.6 905.8L252.9 906.3L255.1 907L257.2 907.9L259.3 909L261.3 910.2L263.1 911.6L264.8 913.2L266.4 914.9L267.8 916.7L269 918.7L270.1 920.8L271 922.9L271.7 925.1L272.2 927.4L272.5 929.7Z"/></clipPath><filter id="tf12_0" filterUnits="userSpaceOnUse" x="216.4" y="902.4" width="59.2" height="59.2" color-interpolation-filters="sRGB"><feTurbulence type="fractalNoise" baseFrequency="0.8" numOctaves="2" seed="49"/><feColorMatrix type="matrix" values="1 0 0 0 0 1 0 0 0 0 1 0 0 0 0 0 0 0 0 1"/><feComponentTransfer><feFuncR type="table" tableValues="0.000 0.000 0.000 0.001 0.003 0.008 0.019 0.041 0.082 0.149 0.244 0.364 0.500 0.636 0.756 0.851 0.918 0.959 0.981 0.992 0.997 0.999 1.000 1.000 1.000"/><feFuncG type="table" tableValues="0.000 0.000 0.000 0.001 0.003 0.008 0.019 0.041 0.082 0.149 0.244 0.364 0.500 0.636 0.756 0.851 0.918 0.959 0.981 0.992 0.997 0.999 1.000 1.000 1.000"/><feFuncB type="table" tableValues="0.000 0.000 0.000 0.001 0.003 0.008 0.019 0.041 0.082 0.149 0.244 0.364 0.500 0.636 0.756 0.851 0.918 0.959 0.981 0.992 0.997 0.999 1.000 1.000 1.000"/></feComponentTransfer><feComponentTransfer><feFuncR type="discrete" tableValues="1.000 0.580 0.890 1.000 0.890 1.000 1.000 0.890 0.949 0.949 0.910 0.949 1.000 1.000 0.949 0.498 0.890 0.949 0.890 0.910 0.890 1.000 0.890 1.000 0.549 0.949 0.910 0.890 0.890 0.890 1.000 0.949 0.890 0.910 1.000 1.000 0.890 0.949 0.890 0.890 1.000 1.000 0.949 0.890 0.949 0.949 0.890"/><feFuncG type="discrete" tableValues="1.000 0.404 0.467 1.000 0.467 1.000 1.000 0.467 0.714 0.714 0.784 0.714 1.000 1.000 0.714 0.498 0.467 0.714 0.467 0.784 0.467 1.000 0.467 1.000 0.337 0.714 0.784 0.467 0.467 0.467 1.000 0.714 0.467 0.784 1.000 1.000 0.467 0.714 0.467 0.467 1.000 1.000 0.714 0.467 0.714 0.714 0.467"/><feFuncB type="discrete" tableValues="1.000 0.741 0.761 1.000 0.761 1.000 1.000 0.761 0.878 0.878 0.878 0.878 1.000 1.000 0.878 0.498 0.761 0.878 0.761 0.878 0.761 1.000 0.761 1.000 0.294 0.878 0.878 0.761 0.761 0.761 1.000 0.878 0.761 0.878 1.000 1.000 0.761 0.878 0.761 0.761 1.000 1.000 0.878 0.761 0.878 0.878 0.761"/></feComponentTransfer><feConvolveMatrix order="3" kernelMatrix="1 2 1 2 4 2 1 2 1" edgeMode="duplicate"/></filter><clipPath id="tc13"><path d="M272.4 932L272.3 934.3L272 936.6L271.5 938.8L270.8 941L269.9 943.2L268.9 945.2L267.6 947.1L266.2 949L264.7 950.7L263 952.2L261.1 953.6L259.2 954.9L257.2 955.9L255 956.8L252.8 957.5L250.6 958L248.3 958.3L246 958.4L243.7 958.3L241.4 958L239.2 957.5L237 956.8L234.8 955.9L232.8 954.9L230.9 953.6L229 952.2L227.3 950.7L225.8 949L224.4 947.1L223.1 945.2L222.1 943.2L221.2 941L220.5 938.8L220 936.6L219.7 934.3L219.6 932L219.7 929.7L220 927.4L220.5 925.2L221.2 923L222.1 920.8L223.1 918.8L224.4 916.9L225.8 915L227.3 913.3L229 911.8L230.9 910.4L232.8 909.1L234.8 908.1L237 907.2L239.2 906.5L241.4 906L243.7 905.7L246 905.6L248.3 905.7L250.6 906L252.8 906.5L255 907.2L257.2 908.1L259.2 909.1L261.1 910.4L263 911.8L264.7 913.3L266.2 915L267.6 916.9L268.9 918.8L269.9 920.8L270.8 923L271.5 925.2L272 927.4L272.3 929.7Z"/></clipPath><filter id="tf13_0" filterUnits="userSpaceOnUse" x="216.6" y="902.6" width="58.8" height="58.8" color-interpolation-filters="sRGB"><feTurbulence type="fractalNoise" baseFrequency="0.8" numOctaves="2" seed="50"/><feColorMatrix type="matrix" values="1 0 0 0 0 1 0 0 0 0 1 0 0 0 0 0 0 0 0 1"/><feComponentTransfer><feFuncR type="table" tableValues="0.000 0.000 0.000 0.001 0.003 0.008 0.019 0.041 0.082 0.149 0.244 0.364 0.500 0.636 0.756 0.851 0.918 0.959 0.981 0.992 0.997 0.999 1.000 1.000 1.000"/><feFuncG type="table" tableValues="0.000 0.000 0.000 0.001 0.003 0.008 0.019 0.041 0.082 0.149 0.244 0.364 0.500 0.636 0.756 0.851 0.918 0.959 0.981 0.992 0.997 0.999 1.000 1.000 1.000"/><feFuncB type="table" tableValues="0.000 0.000 0.000 0.001 0.003 0.008 0.019 0.041 0.082 0.149 0.244 0.364 0.500 0.636 0.756 0.851 0.918 0.959 0.981 0.992 0.997 0.999 1.000 1.000 1.000"/></feComponentTransfer><feComponentTransfer result="sp"><feFuncR type="discrete" tableValues="1.000 0.498 0.580 0.498 0.890 0.580 0.890 0.784 0.784 0.580 0.580 1.000 0.580 0.580 0.890 0.549 0.580 0.784 1.000 0.498 0.549 1.000 0.784 0.580 1.000 0.498 0.580 1.000 0.580 1.000 0.580 0.890 0.784 0.580 0.498 0.580 0.549 0.890 0.498 0.498 0.890 0.580 0.498 1.000 0.498 0.549 0.498 0.498 1.000"/><feFuncG type="discrete" tableValues="1.000 0.498 0.404 0.498 0.467 0.404 0.467 0.784 0.784 0.404 0.404 1.000 0.404 0.404 0.467 0.337 0.404 0.784 1.000 0.498 0.337 1.000 0.784 0.404 1.000 0.498 0.404 1.000 0.404 1.000 0.404 0.467 0.784 0.404 0.498 0.404 0.337 0.467 0.498 0.498 0.467 0.404 0.498 1.000 0.498 0.337 0.498 0.498 1.000"/><feFuncB type="discrete" tableValues="1.000 0.498 0.741 0.498 0.761 0.741 0.761 0.784 0.784 0.741 0.741 1.000 0.741 0.741 0.761 0.294 0.741 0.784 1.000 0.498 0.294 1.000 0.784 0.741 1.000 0.498 0.741 1.000 0.741 1.000 0.741 0.761 0.784 0.741 0.498 0.741 0.294 0.761 0.498 0.498 0.761 0.741 0.498 1.000 0.498 0.294 0.498 0.498 1.000"/></feComponentTransfer><feTurbulence type="fractalNoise" baseFrequency="0.12" numOctaves="2" seed="52"/><feColorMatrix type="matrix" values="0 0 0 0 0 0 0 0 0 0 0 0 0 0 0 1 0 0 0 0"/><feComponentTransfer><feFuncA type="table" tableValues="0.000 0.000 0.000 0.001 0.003 0.008 0.019 0.041 0.082 0.149 0.244 0.364 0.500 0.636 0.756 0.851 0.918 0.959 0.981 0.992 0.997 0.999 1.000 1.000 1.000"/></feComponentTransfer><feComponentTransfer result="m"><feFuncA type="discrete" tableValues="0 0 0 0 0 0 0 0 0 0 0 0 0 0 0 0 0 0 0 0 1 1 1 1 1 1 1 1 1 1 1 1 1 1 1 1 1 1 1 1 1 1 1 1 1 1 1 1 1 1"/></feComponentTransfer><feComposite in="sp" in2="m" operator="in"/><feConvolveMatrix order="3" kernelMatrix="1 2 1 2 4 2 1 2 1" edgeMode="duplicate"/></filter><clipPath id="td13"><path d="M224 956L232 940L244 930L256 920L266 910L274 912L274 930L264 938L254 948L244 960L232 964Z"/></clipPath></defs>
<g clip-path="url(#tc5)"><rect x="19.6" y="903.4" width="57.6" height="57.6" filter="url(#tf5_0)"/><rect x="19.6" y="903.4" width="57.6" height="57.6" filter="url(#tf5_1)"/></g>
<g clip-path="url(#tc6)"><rect x="85.9" y="904.8" width="56" height="56" filter="url(#tf6_0)"/><rect x="85.9" y="904.8" width="56" height="56" filter="url(#tf6_1)"/></g>
<g clip-path="url(#td7)"><g clip-path="url(#tc7)"><rect x="85.9" y="904.8" width="56" height="56" filter="url(#tf7_0)"/></g></g>
<g clip-path="url(#td8)"><g clip-path="url(#tc8)"><rect x="85.9" y="904.8" width="56" height="56" filter="url(#tf8_0)"/></g></g>
<g clip-path="url(#td9)"><g clip-path="url(#tc9)"><rect x="85.9" y="904.8" width="56" height="56" filter="url(#tf9_0)"/></g></g>
<g clip-path="url(#td10)"><g clip-path="url(#tc10)"><rect x="85.9" y="904.8" width="56" height="56" filter="url(#tf10_0)"/></g></g>
<g clip-path="url(#tc11)"><rect x="150.9" y="902.5" width="58.6" height="58.6" filter="url(#tf11_0)"/></g>
<g clip-path="url(#tc12)"><rect x="216.4" y="902.4" width="59.2" height="59.2" filter="url(#tf12_0)"/></g>
<g clip-path="url(#td13)"><g clip-path="url(#tc13)"><rect x="216.6" y="902.6" width="58.8" height="58.8" filter="url(#tf13_0)"/></g></g>
<text x="18.2" y="912.4" font-size="8.2" fill="#111" stroke="#111" stroke-width="0.12">I</text>
<text x="83.6" y="912.4" font-size="8.2" fill="#111" stroke="#111" stroke-width="0.12">II</text>
<text x="149" y="912.4" font-size="8.2" fill="#111" stroke="#111" stroke-width="0.12">III</text>
<text x="214" y="912.4" font-size="8.2" fill="#111" stroke="#111" stroke-width="0.12">IV</text>
<rect x="280.4" y="905.6" width="10.2" height="7" fill="#1f77b4"/>
<text x="294.6" y="912.2" font-size="8.6" fill="#111" stroke="#111" stroke-width="0.12">1</text>
<rect x="305.3" y="905.6" width="10.3" height="7" fill="#8c564b"/>
<text x="319.6" y="912.2" font-size="8.6" fill="#111" stroke="#111" stroke-width="0.12">6</text>
<rect x="280.4" y="916.7" width="10.2" height="7" fill="#ff7f0e"/>
<text x="294.6" y="923.3" font-size="8.6" fill="#111" stroke="#111" stroke-width="0.12">2</text>
<rect x="305.3" y="916.7" width="10.3" height="7" fill="#e377c2"/>
<text x="319.6" y="923.3" font-size="8.6" fill="#111" stroke="#111" stroke-width="0.12">7</text>
<rect x="280.4" y="927.3" width="10.2" height="7" fill="#2ca02c"/>
<text x="294.6" y="933.9" font-size="8.6" fill="#111" stroke="#111" stroke-width="0.12">3</text>
<rect x="305.3" y="927.3" width="10.3" height="7" fill="#7f7f7f"/>
<text x="319.6" y="933.9" font-size="8.6" fill="#111" stroke="#111" stroke-width="0.12">8</text>
<rect x="280.4" y="938.4" width="10.2" height="7" fill="#d62728"/>
<text x="294.6" y="945" font-size="8.6" fill="#111" stroke="#111" stroke-width="0.12">4</text>
<rect x="305.3" y="938.4" width="10.3" height="7" fill="#bcbd22"/>
<text x="319.6" y="945" font-size="8.6" fill="#111" stroke="#111" stroke-width="0.12">9</text>
<rect x="280.4" y="948.9" width="10.2" height="7" fill="#9467bd"/>
<text x="294.6" y="955.5" font-size="8.6" fill="#111" stroke="#111" stroke-width="0.12">5</text>
<rect x="305.3" y="948.9" width="10.3" height="7" fill="#17becf"/>
<text x="319.6" y="955.5" font-size="8.6" fill="#111" stroke="#111" stroke-width="0.12">10</text>
<rect x="249.9" y="962" width="17.1" height="1.5" fill="#111"/>
<text x="258.7" y="973.6" font-size="8.5" text-anchor="middle" fill="#1a1a3a" stroke="#1a1a3a" stroke-width="0.12">500μm</text>
<g opacity="0.85"><circle cx="352.8" cy="636.6" r="3.1" fill="#ab7eb1"/><circle cx="355.6" cy="644.6" r="3.2" fill="#a48bb9"/><circle cx="358.2" cy="655.2" r="3" fill="#c6b0d2"/><circle cx="359.9" cy="665.6" r="2.7" fill="#a892b5"/><circle cx="359.5" cy="601.4" r="3.2" fill="#b388b8"/><circle cx="362.3" cy="611.2" r="3" fill="#a87cc1"/><circle cx="365.3" cy="620.2" r="3.1" fill="#ab80bb"/><circle cx="362.3" cy="634.8" r="2.7" fill="#b17cbe"/><circle cx="364.8" cy="641.1" r="2.8" fill="#ab7eb7"/><circle cx="371.2" cy="655.3" r="3" fill="#a692bb"/><circle cx="367.5" cy="669.5" r="3.3" fill="#b891c3"/><circle cx="370.2" cy="676.6" r="3.2" fill="#ab88c1"/><circle cx="376.4" cy="687.1" r="3.1" fill="#bc82b0"/><circle cx="377" cy="697.2" r="2.9" fill="#b98fa3"/><circle cx="382.5" cy="729" r="2.8" fill="#c897a7"/><circle cx="367.9" cy="586.4" r="2.8" fill="#9d83bc"/><circle cx="371.7" cy="598.2" r="2.8" fill="#b387cd"/><circle cx="369.5" cy="607.9" r="2.7" fill="#b887c3"/><circle cx="371.5" cy="621" r="3.1" fill="#ad84bc"/><circle cx="373.9" cy="630" r="2.7" fill="#a784aa"/><circle cx="379.8" cy="641.3" r="3.1" fill="#a88aa6"/><circle cx="378.4" cy="653.1" r="3.1" fill="#a986b4"/><circle cx="384.1" cy="684.1" r="3" fill="#bd8ba5"/><circle cx="386.5" cy="696.1" r="3.3" fill="#b67c9a"/><circle cx="387.5" cy="705.3" r="3.1" fill="#ae9da8"/><circle cx="392.6" cy="716.6" r="3.1" fill="#b090ad"/><circle cx="390.5" cy="729" r="3.1" fill="#cfa6d0"/><circle cx="396" cy="738.6" r="3.2" fill="#bd8899"/><circle cx="395.9" cy="751.4" r="2.8" fill="#ca9795"/><circle cx="374.2" cy="563.4" r="3.1" fill="#ad7bc2"/><circle cx="377.5" cy="573.8" r="3.1" fill="#cda8c8"/><circle cx="378.8" cy="586.5" r="3" fill="#b990bc"/><circle cx="379" cy="594.6" r="2.9" fill="#c4aad0"/><circle cx="385" cy="605.7" r="3.3" fill="#a685bb"/><circle cx="388.1" cy="614.5" r="2.6" fill="#ba7ead"/><circle cx="387.7" cy="628.2" r="2.9" fill="#c177a6"/><circle cx="389.2" cy="639.2" r="3.3" fill="#ae7fa3"/><circle cx="391.5" cy="649.4" r="3.2" fill="#cab1c4"/><circle cx="395.2" cy="663.8" r="2.9" fill="#a79091"/><circle cx="395.9" cy="672.7" r="3.1" fill="#cbaab6"/><circle cx="393.9" cy="683.9" r="2.7" fill="#b4869e"/><circle cx="399.5" cy="692.5" r="2.9" fill="#c0878d"/><circle cx="400" cy="703.8" r="2.9" fill="#bd90a7"/><circle cx="401.5" cy="718.4" r="3.2" fill="#b090a6"/><circle cx="403.9" cy="728.4" r="3" fill="#b885a8"/><circle cx="404" cy="736.9" r="2.7" fill="#cfb1b5"/><circle cx="407.7" cy="749.2" r="3.1" fill="#d4acb4"/><circle cx="409.4" cy="761.8" r="2.9" fill="#b59284"/><circle cx="381.4" cy="540.2" r="2.7" fill="#c1a2cc"/><circle cx="383.9" cy="549.9" r="3.1" fill="#af86bc"/><circle cx="386.4" cy="561.6" r="3.1" fill="#b98ab6"/><circle cx="388.2" cy="573.6" r="2.8" fill="#bdacca"/><circle cx="391.5" cy="593" r="3" fill="#ad89b9"/><circle cx="395.1" cy="606.2" r="3.1" fill="#b290a9"/><circle cx="400.6" cy="628.1" r="3" fill="#b37f90"/><circle cx="398.6" cy="636.7" r="2.8" fill="#b3889e"/><circle cx="403.6" cy="649.1" r="3.2" fill="#b5868e"/><circle cx="402.6" cy="658.5" r="3.2" fill="#c08c90"/><circle cx="402.8" cy="668.8" r="2.7" fill="#c18491"/><circle cx="406.6" cy="685.2" r="3.2" fill="#b48986"/><circle cx="411" cy="694.7" r="3" fill="#ba798c"/><circle cx="410.4" cy="703.8" r="3.2" fill="#bf8189"/><circle cx="411.1" cy="713.1" r="3" fill="#d5aba9"/><circle cx="414.1" cy="725.7" r="3.1" fill="#cdb3af"/><circle cx="416.7" cy="735.9" r="2.9" fill="#c28a8e"/><circle cx="418.2" cy="746.2" r="2.9" fill="#c08482"/><circle cx="420.3" cy="757.7" r="2.7" fill="#c49487"/><circle cx="422.4" cy="768" r="3" fill="#c28f83"/><circle cx="390.5" cy="517.7" r="3" fill="#a88ab0"/><circle cx="392.2" cy="525.1" r="3.1" fill="#ae8fb4"/><circle cx="394.6" cy="535.4" r="2.8" fill="#cbb2d8"/><circle cx="391.7" cy="549" r="3.2" fill="#c0afd8"/><circle cx="397.1" cy="561.2" r="3.3" fill="#a98abc"/><circle cx="400.6" cy="569.7" r="2.8" fill="#ac86bb"/><circle cx="403.1" cy="581.7" r="3" fill="#ae86ae"/><circle cx="403.9" cy="591.2" r="2.8" fill="#a68ca1"/><circle cx="404.6" cy="604.3" r="2.9" fill="#b8879b"/><circle cx="405.2" cy="615.1" r="3.2" fill="#a67e92"/><circle cx="408.7" cy="624.4" r="3.1" fill="#b4888d"/><circle cx="413.7" cy="646.9" r="2.9" fill="#b18590"/><circle cx="415" cy="657" r="2.9" fill="#b0887e"/><circle cx="417.3" cy="669.7" r="2.9" fill="#b67b86"/><circle cx="418.4" cy="679.3" r="2.9" fill="#b17d78"/><circle cx="421.2" cy="689.5" r="3.2" fill="#b28585"/><circle cx="422" cy="704.2" r="3" fill="#c18c92"/><circle cx="426.5" cy="709.3" r="3.2" fill="#b48086"/><circle cx="427.5" cy="731.4" r="2.9" fill="#d1a9ae"/><circle cx="431.5" cy="746.5" r="2.8" fill="#bf897f"/><circle cx="432" cy="756.7" r="2.9" fill="#c5807f"/><circle cx="433.6" cy="767.1" r="3.2" fill="#c09480"/><circle cx="398.5" cy="504.3" r="2.8" fill="#caa8d8"/><circle cx="401.2" cy="514.4" r="2.9" fill="#ccadd2"/><circle cx="402.4" cy="520.6" r="3" fill="#af85b9"/><circle cx="405.7" cy="534.8" r="3.1" fill="#af92bc"/><circle cx="405.4" cy="547" r="2.9" fill="#ac86af"/><circle cx="409" cy="557.3" r="3.2" fill="#b08ebe"/><circle cx="411" cy="568.1" r="2.8" fill="#a891b4"/><circle cx="411.9" cy="579.2" r="2.9" fill="#b38bb0"/><circle cx="415.1" cy="589.6" r="2.8" fill="#bd8496"/><circle cx="417.2" cy="600.4" r="2.8" fill="#c3acac"/><circle cx="416.8" cy="612.1" r="2.8" fill="#b18783"/><circle cx="421.5" cy="623.8" r="2.8" fill="#b2887c"/><circle cx="423.1" cy="632.2" r="3.2" fill="#cba8ac"/><circle cx="423.1" cy="645.4" r="3.1" fill="#b2867f"/><circle cx="428.8" cy="655.5" r="2.8" fill="#c28885"/><circle cx="428.3" cy="666.6" r="2.7" fill="#d4a3a4"/><circle cx="429.9" cy="678.3" r="2.9" fill="#b4897e"/><circle cx="432.2" cy="689.9" r="2.6" fill="#b98585"/><circle cx="434.5" cy="698.6" r="2.6" fill="#bc7d80"/><circle cx="435.5" cy="709.5" r="3" fill="#bb8d84"/><circle cx="437" cy="721.1" r="2.9" fill="#bb8084"/><circle cx="441.8" cy="733.5" r="3.2" fill="#c1817e"/><circle cx="442" cy="743" r="2.8" fill="#b88878"/><circle cx="443" cy="754" r="2.7" fill="#cfb4a8"/><circle cx="446.9" cy="766.6" r="2.6" fill="#bd8c7d"/><circle cx="448.7" cy="772.7" r="3.1" fill="#c88874"/><circle cx="409.8" cy="511" r="3.1" fill="#cbafd2"/><circle cx="413.1" cy="521.1" r="3.2" fill="#ceaad7"/><circle cx="414.8" cy="534.9" r="3.1" fill="#a68cab"/><circle cx="419.6" cy="545.7" r="2.7" fill="#b488b5"/><circle cx="419.8" cy="555.7" r="2.6" fill="#ad92aa"/><circle cx="421.2" cy="567.2" r="2.9" fill="#af8bab"/><circle cx="424.3" cy="577.6" r="2.7" fill="#bc9797"/><circle cx="423.7" cy="589" r="3.3" fill="#d5a8ae"/><circle cx="426.7" cy="598.7" r="3.1" fill="#b68883"/><circle cx="430.6" cy="609.8" r="2.7" fill="#b98a75"/><circle cx="431.9" cy="622.5" r="2.8" fill="#be8377"/><circle cx="434.4" cy="631.5" r="3.2" fill="#b48b82"/><circle cx="437.2" cy="641.8" r="3.2" fill="#b3827f"/><circle cx="437.3" cy="656.1" r="3.2" fill="#ae8675"/><circle cx="438.7" cy="662" r="3.1" fill="#c0877b"/><circle cx="441.1" cy="674.9" r="2.9" fill="#be9279"/><circle cx="444.8" cy="687.2" r="2.7" fill="#cea7a1"/><circle cx="444.6" cy="698" r="2.9" fill="#cfaaa4"/><circle cx="446.5" cy="710.3" r="3.3" fill="#c1816b"/><circle cx="451.5" cy="718.7" r="3.3" fill="#b48971"/><circle cx="452.7" cy="743.1" r="3.2" fill="#be8475"/><circle cx="456.2" cy="753.5" r="3.3" fill="#cea69b"/><circle cx="456.3" cy="765.8" r="3.3" fill="#b5897a"/><circle cx="457.9" cy="774" r="3.1" fill="#c48477"/><circle cx="422.5" cy="509.7" r="2.8" fill="#aa8bb1"/><circle cx="425.9" cy="521.1" r="2.9" fill="#ac92bd"/><circle cx="424.9" cy="529.4" r="3.2" fill="#ad8fb7"/><circle cx="429.5" cy="542.5" r="2.6" fill="#b191a9"/><circle cx="429.3" cy="553.1" r="3.2" fill="#bd88ac"/><circle cx="431.4" cy="561.2" r="3.2" fill="#b794a1"/><circle cx="436" cy="572.8" r="2.7" fill="#ba9bb0"/><circle cx="437.8" cy="585.9" r="2.9" fill="#b0928e"/><circle cx="438.4" cy="597.1" r="2.9" fill="#c1b0a4"/><circle cx="442.2" cy="619.3" r="3.1" fill="#af7872"/><circle cx="443.1" cy="630" r="3.3" fill="#b88078"/><circle cx="448" cy="650.8" r="3" fill="#bf7a7a"/><circle cx="447.4" cy="661.6" r="3.2" fill="#b67967"/><circle cx="452.4" cy="674.8" r="2.8" fill="#ac846b"/><circle cx="452.9" cy="685.4" r="2.7" fill="#bd8377"/><circle cx="455.7" cy="696.3" r="2.9" fill="#b67d62"/><circle cx="457.5" cy="705.4" r="2.8" fill="#ca7e6c"/><circle cx="460.8" cy="715.2" r="2.6" fill="#bf8260"/><circle cx="459.6" cy="724.9" r="3.2" fill="#be725d"/><circle cx="462.6" cy="737.4" r="2.7" fill="#b97b68"/><circle cx="467.2" cy="750.2" r="3.1" fill="#c4756e"/><circle cx="469.4" cy="761.2" r="3.2" fill="#b98961"/><circle cx="470" cy="772.1" r="3.3" fill="#bd7b75"/><circle cx="434.9" cy="497.5" r="3.2" fill="#ae9abc"/><circle cx="432.3" cy="509.2" r="2.9" fill="#a58cc6"/><circle cx="438" cy="518.4" r="2.9" fill="#ae90b3"/><circle cx="435.7" cy="528.1" r="3" fill="#af96ac"/><circle cx="439.2" cy="538.2" r="2.7" fill="#bf9ca8"/><circle cx="442.1" cy="551.8" r="3.2" fill="#bd8aa8"/><circle cx="443.9" cy="560.9" r="3.1" fill="#b4a0a9"/><circle cx="445.1" cy="571.8" r="3.1" fill="#b692a7"/><circle cx="447.9" cy="585.1" r="2.8" fill="#bf9092"/><circle cx="452.2" cy="594" r="2.7" fill="#9e9189"/><circle cx="451.1" cy="604.7" r="2.9" fill="#c29b90"/><circle cx="454.2" cy="619" r="2.9" fill="#bb8f82"/><circle cx="455.5" cy="628" r="2.9" fill="#c18c74"/><circle cx="455.7" cy="641.2" r="3" fill="#c27265"/><circle cx="458.4" cy="652.7" r="2.9" fill="#af796e"/><circle cx="459.9" cy="660.9" r="2.8" fill="#aa8668"/><circle cx="465.6" cy="681.5" r="3" fill="#b98372"/><circle cx="463.9" cy="694.2" r="2.8" fill="#d09f9d"/><circle cx="469.2" cy="703.6" r="2.7" fill="#b66f6e"/><circle cx="471.9" cy="717.4" r="2.7" fill="#b47d64"/><circle cx="474" cy="728.9" r="2.9" fill="#c68158"/><circle cx="473.5" cy="737.3" r="2.8" fill="#b66e61"/><circle cx="476.4" cy="748.2" r="3.2" fill="#c07c65"/><circle cx="480.8" cy="759" r="2.9" fill="#b48268"/><circle cx="479.8" cy="768.3" r="3" fill="#cb8969"/><circle cx="443.3" cy="495" r="2.8" fill="#af99bd"/><circle cx="444.2" cy="515.9" r="3.1" fill="#c096c2"/><circle cx="448.6" cy="527.5" r="3.1" fill="#b1a4b1"/><circle cx="451" cy="537.6" r="3.2" fill="#bfa1bd"/><circle cx="453.7" cy="550.1" r="3" fill="#c198ae"/><circle cx="452.1" cy="559.9" r="2.9" fill="#b78ba3"/><circle cx="458.4" cy="570.9" r="3.1" fill="#bb9698"/><circle cx="457.8" cy="584.8" r="3.1" fill="#c38898"/><circle cx="459.6" cy="592.7" r="2.7" fill="#b88893"/><circle cx="465.9" cy="626" r="2.6" fill="#bb8c72"/><circle cx="469.3" cy="636.8" r="3.2" fill="#b48273"/><circle cx="469.8" cy="646.6" r="3.3" fill="#c57e70"/><circle cx="473" cy="659.8" r="2.8" fill="#bc8371"/><circle cx="473.3" cy="668.8" r="2.8" fill="#d0a99d"/><circle cx="477.5" cy="678.6" r="3" fill="#c08777"/><circle cx="479.3" cy="689.3" r="2.8" fill="#c28c6f"/><circle cx="479" cy="703.5" r="2.6" fill="#c37a64"/><circle cx="482.6" cy="712.2" r="2.7" fill="#bd7867"/><circle cx="482.6" cy="724.3" r="2.7" fill="#d5a98e"/><circle cx="487.3" cy="732.1" r="2.7" fill="#b48365"/><circle cx="488.3" cy="745.7" r="3.2" fill="#ba7f6f"/><circle cx="490.1" cy="757.9" r="3.2" fill="#b6874e"/><circle cx="491.6" cy="769.4" r="2.6" fill="#cea990"/><circle cx="455.7" cy="493.1" r="3.1" fill="#c6c1d7"/><circle cx="457.4" cy="505.7" r="2.8" fill="#b19bba"/><circle cx="457.9" cy="513.3" r="2.9" fill="#b299c2"/><circle cx="461.1" cy="522.2" r="2.7" fill="#b7aec4"/><circle cx="463.5" cy="534.3" r="3.1" fill="#b9aabf"/><circle cx="465.8" cy="547.1" r="2.8" fill="#d5c6ca"/><circle cx="466.2" cy="558.9" r="3" fill="#c1a7b5"/><circle cx="467" cy="569.4" r="2.8" fill="#d3babb"/><circle cx="472.6" cy="582.2" r="2.9" fill="#cbbbbb"/><circle cx="471" cy="590.4" r="2.6" fill="#bf8f7d"/><circle cx="473.8" cy="601.6" r="3" fill="#ccafa6"/><circle cx="476.9" cy="614.9" r="2.6" fill="#bf8576"/><circle cx="478.3" cy="624.6" r="2.8" fill="#ba8672"/><circle cx="478.7" cy="637.4" r="2.6" fill="#b78b75"/><circle cx="484.6" cy="644.8" r="3.2" fill="#cb8564"/><circle cx="483.1" cy="658" r="3.1" fill="#b78872"/><circle cx="488.3" cy="666.8" r="2.6" fill="#b17977"/><circle cx="488.8" cy="680" r="2.9" fill="#bd846b"/><circle cx="491.4" cy="688.5" r="2.7" fill="#bd766a"/><circle cx="494.2" cy="701" r="3" fill="#b38d6b"/><circle cx="494.3" cy="714.7" r="3" fill="#c38767"/><circle cx="497.6" cy="722.5" r="3" fill="#c5786b"/><circle cx="501.1" cy="756.2" r="2.7" fill="#d7a383"/><circle cx="502.1" cy="766.7" r="3" fill="#d0a288"/><circle cx="504.6" cy="775.6" r="3.3" fill="#bb775b"/><circle cx="463.8" cy="491" r="3.2" fill="#ba99bc"/><circle cx="466.8" cy="500.5" r="2.8" fill="#b7aad2"/><circle cx="471.5" cy="522" r="3" fill="#b99ab9"/><circle cx="473" cy="535.2" r="2.9" fill="#d8c7c5"/><circle cx="474.4" cy="545.6" r="2.9" fill="#bfb7b8"/><circle cx="477.5" cy="559.4" r="2.9" fill="#aea0b7"/><circle cx="480.5" cy="567.1" r="3" fill="#b2a3a5"/><circle cx="481.7" cy="579.4" r="3.1" fill="#d6b7b2"/><circle cx="481.7" cy="588" r="2.8" fill="#c8afa7"/><circle cx="486.3" cy="600.1" r="3.2" fill="#cc8c7e"/><circle cx="486.8" cy="612.1" r="2.8" fill="#cfa8a2"/><circle cx="488.2" cy="622.3" r="2.6" fill="#d0a999"/><circle cx="489.2" cy="632.5" r="2.7" fill="#bd806b"/><circle cx="492.2" cy="644.7" r="2.7" fill="#bd7b66"/><circle cx="493.7" cy="658.3" r="2.7" fill="#ba7c63"/><circle cx="498.9" cy="666.9" r="2.7" fill="#b28669"/><circle cx="501.3" cy="684.9" r="2.7" fill="#d4a699"/><circle cx="503.1" cy="700.4" r="3.1" fill="#b46f6f"/><circle cx="502.4" cy="708.8" r="2.7" fill="#b97672"/><circle cx="505.7" cy="721.9" r="2.9" fill="#b4806e"/><circle cx="510" cy="729.9" r="3" fill="#c27d5d"/><circle cx="508" cy="742" r="2.8" fill="#af7f60"/><circle cx="513.9" cy="751.3" r="2.6" fill="#c38150"/><circle cx="514.3" cy="763.9" r="2.6" fill="#d89c89"/><circle cx="514.5" cy="773.6" r="3.3" fill="#c6684b"/><circle cx="517.3" cy="787.4" r="3" fill="#d2775e"/><circle cx="480.7" cy="498.9" r="2.7" fill="#bc97ba"/><circle cx="482.2" cy="509.2" r="2.8" fill="#b3adbe"/><circle cx="485.2" cy="524.7" r="3" fill="#c0a6c1"/><circle cx="484.5" cy="530.9" r="2.9" fill="#cca9b2"/><circle cx="485.3" cy="544.3" r="2.7" fill="#c1aab8"/><circle cx="488.8" cy="556.3" r="2.8" fill="#c3b2b6"/><circle cx="490" cy="567.5" r="3.3" fill="#b9a89f"/><circle cx="491.1" cy="574.6" r="2.9" fill="#c3a391"/><circle cx="494.5" cy="587.7" r="3" fill="#c39186"/><circle cx="496.3" cy="597.3" r="3.3" fill="#bc9085"/><circle cx="497.1" cy="607.3" r="2.7" fill="#c0946d"/><circle cx="498.8" cy="618.9" r="3.2" fill="#c7847e"/><circle cx="502.4" cy="633.6" r="3.3" fill="#b16961"/><circle cx="503.3" cy="641.5" r="2.6" fill="#b77f5a"/><circle cx="503.8" cy="655" r="2.9" fill="#b3896c"/><circle cx="506.9" cy="666.3" r="3.1" fill="#d2b298"/><circle cx="510.7" cy="674.1" r="3" fill="#b8886b"/><circle cx="512.5" cy="684.6" r="3.3" fill="#bc816a"/><circle cx="514.3" cy="697.4" r="2.6" fill="#bb8377"/><circle cx="515.3" cy="708.2" r="2.7" fill="#c08767"/><circle cx="520.9" cy="729.3" r="3.1" fill="#cda391"/><circle cx="523" cy="739.4" r="2.6" fill="#c08265"/><circle cx="523.9" cy="752.9" r="3.2" fill="#bf795e"/><circle cx="522.8" cy="759.7" r="3" fill="#bd6b4e"/><circle cx="525.3" cy="772.9" r="3.3" fill="#c16964"/><circle cx="528.2" cy="783.8" r="3.1" fill="#c26a5d"/><circle cx="489.2" cy="507.6" r="3" fill="#b1a7b5"/><circle cx="493.9" cy="521.5" r="2.7" fill="#b9b0bc"/><circle cx="495.3" cy="530.7" r="2.9" fill="#bfb6b3"/><circle cx="499.7" cy="541.9" r="3" fill="#bfb7bb"/><circle cx="498.8" cy="551.3" r="2.9" fill="#d8cfd4"/><circle cx="500.2" cy="562.6" r="2.6" fill="#cbb0ae"/><circle cx="502.4" cy="575.2" r="3" fill="#bea197"/><circle cx="505.8" cy="586.5" r="2.8" fill="#c39583"/><circle cx="507.6" cy="595.6" r="3.2" fill="#d2aaa3"/><circle cx="509.7" cy="606.7" r="2.8" fill="#d3b0a5"/><circle cx="511.4" cy="620.6" r="2.7" fill="#ba8e7a"/><circle cx="513.5" cy="628.3" r="2.7" fill="#ba6a6d"/><circle cx="515.5" cy="640.3" r="3.1" fill="#b97967"/><circle cx="519.1" cy="652.5" r="2.8" fill="#cfa69a"/><circle cx="518.1" cy="662.5" r="3" fill="#b98d69"/><circle cx="522.2" cy="673.7" r="2.8" fill="#b68176"/><circle cx="523.6" cy="686.4" r="3.3" fill="#c08571"/><circle cx="523.2" cy="694.1" r="3.1" fill="#bc8f74"/><circle cx="528.4" cy="703.6" r="3.1" fill="#bf8062"/><circle cx="531" cy="718.7" r="3.1" fill="#bf906e"/><circle cx="530.6" cy="729.5" r="2.9" fill="#bf855c"/><circle cx="532" cy="737.2" r="2.8" fill="#bf8965"/><circle cx="535.2" cy="748.1" r="2.6" fill="#bd7c5a"/><circle cx="540.2" cy="771.2" r="3.1" fill="#c18067"/><circle cx="539.3" cy="780.8" r="2.7" fill="#b57b53"/><circle cx="541.6" cy="796.2" r="3" fill="#c87b59"/><circle cx="547.2" cy="802.7" r="2.8" fill="#bb7d63"/><circle cx="503.5" cy="518.6" r="2.7" fill="#c4b0bf"/><circle cx="508.4" cy="530.3" r="3.1" fill="#d4c2c3"/><circle cx="509.2" cy="540.7" r="2.9" fill="#ddded0"/><circle cx="510.1" cy="550.3" r="3" fill="#d8d1c1"/><circle cx="514.9" cy="562.5" r="3" fill="#cebbba"/><circle cx="515" cy="573.3" r="3.2" fill="#c0b59f"/><circle cx="516.3" cy="582.4" r="2.8" fill="#bba99a"/><circle cx="517.9" cy="593.6" r="2.6" fill="#be988e"/><circle cx="518.5" cy="605.5" r="2.9" fill="#ba8e8a"/><circle cx="521.2" cy="615.8" r="2.8" fill="#b37d77"/><circle cx="525" cy="628.3" r="2.9" fill="#cfaea1"/><circle cx="528.2" cy="649.5" r="2.8" fill="#b77a65"/><circle cx="531" cy="657.3" r="2.9" fill="#b98963"/><circle cx="533.2" cy="670.3" r="2.9" fill="#caaa9e"/><circle cx="535.5" cy="684.1" r="3" fill="#b5936a"/><circle cx="534.7" cy="691.7" r="2.7" fill="#c18078"/><circle cx="538.1" cy="701" r="2.9" fill="#d0b0a7"/><circle cx="539.6" cy="716.6" r="2.9" fill="#c18570"/><circle cx="542.4" cy="725" r="3.3" fill="#d2af93"/><circle cx="544.7" cy="737.6" r="3.2" fill="#ba8568"/><circle cx="546.5" cy="747" r="2.9" fill="#b4806a"/><circle cx="546.7" cy="758.2" r="2.8" fill="#b38d66"/><circle cx="549.4" cy="765.9" r="2.8" fill="#b7855a"/><circle cx="551.6" cy="779.4" r="2.7" fill="#c5855b"/><circle cx="552.8" cy="791.9" r="2.6" fill="#af7460"/><circle cx="555.7" cy="797.8" r="2.7" fill="#d9a78c"/><circle cx="520.3" cy="539.5" r="3.1" fill="#d9cac8"/><circle cx="524.4" cy="547" r="3.1" fill="#d4d9cd"/><circle cx="523.3" cy="559.2" r="3.1" fill="#cdb9bc"/><circle cx="527.5" cy="570.9" r="3.3" fill="#cdc4b6"/><circle cx="526.6" cy="581.9" r="2.7" fill="#ddcec7"/><circle cx="530" cy="590.8" r="3.2" fill="#c0b6a3"/><circle cx="531.7" cy="601.2" r="2.9" fill="#c69e88"/><circle cx="532.7" cy="614.3" r="3" fill="#c09979"/><circle cx="535.1" cy="623.2" r="2.6" fill="#d1b4a7"/><circle cx="535.9" cy="635.7" r="3" fill="#b28d61"/><circle cx="540.3" cy="648.5" r="3.1" fill="#c79570"/><circle cx="538.7" cy="656.5" r="3" fill="#bc837b"/><circle cx="542.1" cy="667.1" r="3.1" fill="#c6926f"/><circle cx="546.5" cy="679.3" r="2.9" fill="#bb7e7a"/><circle cx="549.6" cy="689.9" r="3.1" fill="#ba9974"/><circle cx="546.7" cy="700.4" r="2.9" fill="#c58a78"/><circle cx="552.2" cy="712.7" r="2.6" fill="#bd8a76"/><circle cx="553.5" cy="725.5" r="2.8" fill="#b9866d"/><circle cx="553.4" cy="735.3" r="3.1" fill="#bc8369"/><circle cx="557.5" cy="746.9" r="3.1" fill="#c2875f"/><circle cx="561.4" cy="753.7" r="3.2" fill="#c18a69"/><circle cx="557.9" cy="766.5" r="2.6" fill="#c77c58"/><circle cx="564.1" cy="780.8" r="2.9" fill="#bf835b"/><circle cx="562.9" cy="787.7" r="3" fill="#b6815d"/><circle cx="567.5" cy="798.7" r="3.3" fill="#b77e66"/><circle cx="532.4" cy="534" r="2.8" fill="#cec5c7"/><circle cx="536.7" cy="579.8" r="2.6" fill="#c6beb2"/><circle cx="541.5" cy="589.9" r="3.2" fill="#d8b9ae"/><circle cx="543.1" cy="598.9" r="3" fill="#bcb8ab"/><circle cx="544.5" cy="612.9" r="2.7" fill="#b7ac94"/><circle cx="544.7" cy="622.9" r="2.9" fill="#ba916b"/><circle cx="548.4" cy="632.7" r="3.1" fill="#bd956f"/><circle cx="550.8" cy="646.2" r="3.2" fill="#bb8a5e"/><circle cx="553.3" cy="657.4" r="2.6" fill="#cfb999"/><circle cx="555" cy="666.5" r="2.9" fill="#c1876f"/><circle cx="557.3" cy="675.9" r="3.1" fill="#d2b39a"/><circle cx="558.8" cy="688.3" r="3" fill="#c99577"/><circle cx="558.7" cy="697.5" r="2.7" fill="#b78f7d"/><circle cx="562.4" cy="713.7" r="3.1" fill="#b69c76"/><circle cx="562.6" cy="724.4" r="2.8" fill="#c38f69"/><circle cx="566.1" cy="731.4" r="2.6" fill="#c69476"/><circle cx="567.7" cy="744.4" r="3.1" fill="#b58f6f"/><circle cx="571.7" cy="754.8" r="2.7" fill="#c5866a"/><circle cx="572.2" cy="765.1" r="2.9" fill="#b9886e"/><circle cx="572.5" cy="774" r="3.2" fill="#b28156"/><circle cx="574.6" cy="786.5" r="3.1" fill="#ba875d"/><circle cx="544.6" cy="545" r="2.7" fill="#c6c5b1"/><circle cx="547.4" cy="557.7" r="2.7" fill="#ddd7ce"/><circle cx="548.4" cy="566.8" r="2.8" fill="#d2cfb5"/><circle cx="552.4" cy="578.2" r="2.7" fill="#cfb8bc"/><circle cx="550.2" cy="588.1" r="2.7" fill="#c4c7b6"/><circle cx="555.7" cy="611.8" r="3.3" fill="#b8a688"/><circle cx="560.9" cy="636.3" r="3.1" fill="#ba9771"/><circle cx="562.4" cy="642.8" r="2.6" fill="#bc8c7b"/><circle cx="564" cy="657.1" r="3.2" fill="#c59e73"/><circle cx="565.5" cy="665.8" r="3.1" fill="#be9a72"/><circle cx="568.4" cy="676.4" r="3.2" fill="#c29d83"/><circle cx="567.5" cy="685.5" r="2.7" fill="#ca8b78"/><circle cx="568.2" cy="696.7" r="3.1" fill="#c08c7d"/><circle cx="573.1" cy="711.8" r="3.1" fill="#c0906f"/><circle cx="574.8" cy="719.1" r="3.1" fill="#b79373"/><circle cx="581.4" cy="753.7" r="2.9" fill="#bd9163"/><circle cx="583.4" cy="774.4" r="2.8" fill="#b78864"/><circle cx="551.5" cy="521.1" r="3.1" fill="#d2d4ca"/><circle cx="555.4" cy="542.1" r="2.7" fill="#cddbcb"/><circle cx="558.2" cy="553.9" r="2.7" fill="#bccdaf"/><circle cx="558.4" cy="565.9" r="3.1" fill="#c8c6b5"/><circle cx="560.6" cy="578.2" r="2.8" fill="#d6dfcd"/><circle cx="562" cy="586.3" r="2.8" fill="#b8c8b8"/><circle cx="565.8" cy="597.7" r="2.6" fill="#c6bbaa"/><circle cx="567" cy="612.1" r="2.9" fill="#cabeb6"/><circle cx="569.4" cy="620.7" r="3.3" fill="#c0997f"/><circle cx="571.7" cy="631.2" r="3.1" fill="#bd9c82"/><circle cx="575.5" cy="642.8" r="2.9" fill="#c09e72"/><circle cx="573.6" cy="652.1" r="3.2" fill="#b99278"/><circle cx="575.7" cy="664.7" r="3.2" fill="#c38f78"/><circle cx="575.4" cy="673.3" r="3" fill="#ca8c7c"/><circle cx="579.1" cy="686.1" r="2.9" fill="#b7967c"/><circle cx="582.3" cy="695.9" r="2.8" fill="#d09578"/><circle cx="585.1" cy="706.7" r="2.6" fill="#d6b6a2"/><circle cx="584.3" cy="719.6" r="2.9" fill="#c79d7d"/><circle cx="589.7" cy="727.8" r="3" fill="#bc9375"/><circle cx="591.4" cy="741.5" r="3.2" fill="#c68f7e"/><circle cx="593.9" cy="748.9" r="2.9" fill="#be8c7d"/><circle cx="592.6" cy="759.8" r="3" fill="#b7937d"/><circle cx="597.3" cy="771.5" r="2.9" fill="#b78c6a"/><circle cx="562.8" cy="530" r="2.9" fill="#c3c2af"/><circle cx="567.7" cy="536.8" r="2.8" fill="#c2c6b7"/><circle cx="569.3" cy="550.7" r="3" fill="#d0ddcf"/><circle cx="569.2" cy="561.8" r="2.8" fill="#c9c7ba"/><circle cx="573.4" cy="584.9" r="2.6" fill="#c4b1b1"/><circle cx="578" cy="595.6" r="3.1" fill="#c3b496"/><circle cx="578.7" cy="603.9" r="3.3" fill="#c3ad99"/><circle cx="580.9" cy="616.5" r="2.9" fill="#c4a988"/><circle cx="580.7" cy="628.7" r="2.9" fill="#baa08a"/><circle cx="583.7" cy="638.1" r="2.7" fill="#dab6a4"/><circle cx="585.5" cy="649.4" r="2.6" fill="#c58f7d"/><circle cx="588.2" cy="670.9" r="3.1" fill="#d0b7a7"/><circle cx="594.1" cy="692.4" r="2.9" fill="#ba8b7a"/><circle cx="595.4" cy="704.6" r="2.7" fill="#c1906f"/><circle cx="596.2" cy="716.4" r="2.7" fill="#c59571"/><circle cx="601.3" cy="726.1" r="2.9" fill="#be9475"/><circle cx="602.9" cy="749.6" r="2.9" fill="#d7b1a2"/><circle cx="603.7" cy="758.9" r="3" fill="#c78f65"/><circle cx="573.4" cy="518.3" r="3" fill="#bbc6ab"/><circle cx="575.3" cy="527.2" r="3" fill="#bebfc1"/><circle cx="577.9" cy="538.4" r="2.9" fill="#b7c6c1"/><circle cx="578" cy="551.4" r="3.1" fill="#cccdb0"/><circle cx="583.9" cy="558.8" r="3.2" fill="#b5d0b9"/><circle cx="582.9" cy="569.8" r="2.7" fill="#bfc6a0"/><circle cx="584" cy="584.2" r="3" fill="#bcb6a7"/><circle cx="587.5" cy="594" r="3.2" fill="#b7ad9c"/><circle cx="585.7" cy="603.4" r="2.7" fill="#bea894"/><circle cx="591.5" cy="616.3" r="3.1" fill="#ceb9b1"/><circle cx="593.9" cy="627.9" r="3.1" fill="#c1a889"/><circle cx="595.4" cy="638.4" r="3.1" fill="#c6a397"/><circle cx="597" cy="646.7" r="2.9" fill="#b99c89"/><circle cx="598.9" cy="661" r="3" fill="#bc987b"/><circle cx="601.5" cy="670.1" r="3.1" fill="#ca977b"/><circle cx="603.5" cy="680.2" r="2.8" fill="#bca480"/><circle cx="604.9" cy="691.7" r="2.7" fill="#d6b3a5"/><circle cx="606.4" cy="701.9" r="2.7" fill="#be9375"/><circle cx="606.2" cy="715" r="2.8" fill="#b7967d"/><circle cx="611.6" cy="723" r="2.7" fill="#b88e79"/><circle cx="613.5" cy="733.1" r="2.6" fill="#d6b79d"/><circle cx="612.8" cy="746.1" r="3.3" fill="#c0937f"/><circle cx="618.6" cy="755" r="2.7" fill="#c2917a"/><circle cx="585" cy="526.9" r="3" fill="#b7ca9b"/><circle cx="586.5" cy="535.5" r="2.6" fill="#b3ccaa"/><circle cx="591.2" cy="546.2" r="3.2" fill="#c1c2ab"/><circle cx="591.2" cy="557.3" r="3.1" fill="#b5c1a4"/><circle cx="596.1" cy="569.2" r="3.1" fill="#b7b599"/><circle cx="596.8" cy="582.1" r="2.7" fill="#b9b998"/><circle cx="598" cy="590.6" r="3.1" fill="#b9b99f"/><circle cx="601.1" cy="601.8" r="2.8" fill="#c8ac87"/><circle cx="601.4" cy="615.2" r="2.6" fill="#bcae86"/><circle cx="605.4" cy="622.5" r="2.9" fill="#c0ac8a"/><circle cx="605.1" cy="637.8" r="2.9" fill="#baaa8b"/><circle cx="607.2" cy="643" r="2.7" fill="#bcb794"/><circle cx="611.7" cy="656.4" r="2.7" fill="#c0928d"/><circle cx="609.4" cy="668.5" r="2.9" fill="#bc9785"/><circle cx="614.2" cy="677.5" r="3" fill="#d4bfa3"/><circle cx="616.4" cy="688.4" r="2.9" fill="#d3b7a4"/><circle cx="617.7" cy="699.2" r="3" fill="#b98f79"/><circle cx="619.1" cy="711.5" r="2.8" fill="#c49379"/><circle cx="621.3" cy="724.3" r="3" fill="#c2947f"/><circle cx="624.7" cy="734.9" r="3.1" fill="#b9967d"/><circle cx="625.5" cy="743.1" r="3.2" fill="#c19574"/><circle cx="596.5" cy="523.3" r="3.1" fill="#a8b9a2"/><circle cx="601.5" cy="536.9" r="3" fill="#aac39e"/><circle cx="602.4" cy="545.7" r="2.6" fill="#b5c4a4"/><circle cx="602.9" cy="557.3" r="3.2" fill="#c8dabc"/><circle cx="602" cy="570.2" r="3.2" fill="#bac0aa"/><circle cx="607.4" cy="579.3" r="2.9" fill="#beb597"/><circle cx="610.5" cy="588" r="2.7" fill="#d2c7af"/><circle cx="613.1" cy="600.8" r="2.9" fill="#b9b28f"/><circle cx="611.3" cy="613.9" r="3.1" fill="#b6a589"/><circle cx="615.9" cy="620.3" r="2.8" fill="#c2b687"/><circle cx="615.4" cy="630.5" r="2.8" fill="#bba68e"/><circle cx="618.4" cy="647.1" r="3.2" fill="#b7a77f"/><circle cx="622.3" cy="655.5" r="2.8" fill="#d8bea7"/><circle cx="623" cy="667.4" r="3.3" fill="#c39e82"/><circle cx="626.4" cy="678" r="3.3" fill="#b89f89"/><circle cx="626.4" cy="690.4" r="3.2" fill="#c0a57d"/><circle cx="627.4" cy="699.3" r="2.9" fill="#c5a489"/><circle cx="631.3" cy="708.9" r="3.1" fill="#b99d81"/><circle cx="632.7" cy="718.4" r="2.6" fill="#cf9078"/><circle cx="634.7" cy="732.6" r="2.8" fill="#ba9b70"/><circle cx="609.5" cy="513.7" r="2.6" fill="#a8c195"/><circle cx="608.9" cy="521.1" r="2.6" fill="#9ebc9b"/><circle cx="607.4" cy="533.6" r="3" fill="#a3cd8e"/><circle cx="613.2" cy="543.2" r="3" fill="#afc098"/><circle cx="614.9" cy="554.2" r="3.1" fill="#b3b094"/><circle cx="616.7" cy="567" r="3.1" fill="#b2c78c"/><circle cx="616.9" cy="576.9" r="3.2" fill="#b7b199"/><circle cx="618.8" cy="586" r="3.1" fill="#b1c28f"/><circle cx="622.3" cy="598.9" r="3.3" fill="#b7b195"/><circle cx="624.2" cy="607.4" r="3.1" fill="#bbab93"/><circle cx="624.8" cy="621.2" r="2.7" fill="#cbc6ac"/><circle cx="631" cy="629.8" r="3.2" fill="#c5ccac"/><circle cx="631.7" cy="641.5" r="2.6" fill="#bdaa82"/><circle cx="634.5" cy="654.5" r="3" fill="#bea07e"/><circle cx="633.2" cy="663.4" r="3.1" fill="#b3a77d"/><circle cx="638.3" cy="675.2" r="2.9" fill="#bcb287"/><circle cx="639.9" cy="687.2" r="3" fill="#bbb586"/><circle cx="641.9" cy="694.4" r="2.7" fill="#d3bda7"/><circle cx="642.5" cy="707.8" r="2.9" fill="#beae8b"/><circle cx="645.4" cy="717.9" r="3" fill="#c4a282"/><circle cx="617.9" cy="520.3" r="2.8" fill="#afc497"/><circle cx="619" cy="530.2" r="3.1" fill="#a6c191"/><circle cx="626.7" cy="542.4" r="2.8" fill="#a0bf91"/><circle cx="625.4" cy="552.8" r="3.1" fill="#aab8a0"/><circle cx="629.4" cy="584" r="3" fill="#aeaf88"/><circle cx="635.4" cy="597.2" r="3.1" fill="#a7bb93"/><circle cx="632.2" cy="607.8" r="2.6" fill="#b8b09f"/><circle cx="636.6" cy="618.9" r="3" fill="#bab08b"/><circle cx="639.7" cy="629.1" r="3.3" fill="#b2b48e"/><circle cx="642.7" cy="640.2" r="3.2" fill="#b8ac83"/><circle cx="640.7" cy="652.3" r="2.8" fill="#bdaa88"/><circle cx="646.1" cy="660.5" r="2.8" fill="#cec6a7"/><circle cx="646.5" cy="673.1" r="2.9" fill="#baad84"/><circle cx="646.6" cy="683.7" r="3.1" fill="#c0a98d"/><circle cx="652.6" cy="694.4" r="3" fill="#ba9c90"/><circle cx="652.6" cy="704.2" r="3.2" fill="#be9f7f"/><circle cx="632.4" cy="515.3" r="2.9" fill="#a6b88f"/><circle cx="635.4" cy="527.7" r="3.3" fill="#9eb695"/><circle cx="634.6" cy="539.2" r="3.2" fill="#9abc96"/><circle cx="635.2" cy="551.6" r="2.7" fill="#a9c08d"/><circle cx="638.5" cy="562.9" r="3" fill="#a4b880"/><circle cx="640.9" cy="575.8" r="2.7" fill="#b2b585"/><circle cx="643.1" cy="584.6" r="2.6" fill="#b1be8a"/><circle cx="644.7" cy="594.2" r="3.2" fill="#adb785"/><circle cx="647.1" cy="607.4" r="3" fill="#a8bb8e"/><circle cx="649.6" cy="619.2" r="3.3" fill="#afb892"/><circle cx="650.2" cy="627" r="3" fill="#c3d3ba"/><circle cx="654.3" cy="637.9" r="3.1" fill="#ada796"/><circle cx="656.6" cy="646.3" r="3" fill="#b3b59c"/><circle cx="657" cy="673" r="3.2" fill="#b9a588"/><circle cx="659" cy="681.3" r="3.2" fill="#bbb685"/><circle cx="662.9" cy="692.3" r="3.1" fill="#cec3a4"/><circle cx="639.8" cy="516.9" r="2.9" fill="#abbf8c"/><circle cx="645.3" cy="524.9" r="2.9" fill="#b6b68d"/><circle cx="644.3" cy="539.8" r="2.6" fill="#9cbe8c"/><circle cx="649" cy="550.9" r="3.1" fill="#99c58a"/><circle cx="649.9" cy="560.2" r="3.1" fill="#a3ba92"/><circle cx="652.1" cy="571.8" r="3.1" fill="#a9be7e"/><circle cx="653.5" cy="583.5" r="3.1" fill="#adb494"/><circle cx="656.9" cy="593.5" r="2.9" fill="#cad0b4"/><circle cx="657.2" cy="606.6" r="2.6" fill="#afb284"/><circle cx="660.7" cy="614" r="3.2" fill="#afbd87"/><circle cx="661.8" cy="627" r="2.7" fill="#b5b48d"/><circle cx="662.5" cy="636.5" r="3.1" fill="#bbb397"/><circle cx="664.2" cy="647.6" r="3.2" fill="#bda88b"/><circle cx="668.5" cy="657" r="3" fill="#bfa88c"/><circle cx="670.7" cy="668.6" r="2.8" fill="#c5b7ac"/><circle cx="672.4" cy="679.6" r="2.9" fill="#c2a584"/><circle cx="652.6" cy="515.3" r="3.2" fill="#a0c88e"/><circle cx="655.9" cy="536" r="2.9" fill="#91c287"/><circle cx="660.3" cy="545.7" r="2.7" fill="#90bf90"/><circle cx="659.5" cy="557.3" r="2.9" fill="#8ec586"/><circle cx="662.5" cy="567.6" r="2.7" fill="#c2d6b5"/><circle cx="664.6" cy="579.6" r="3" fill="#b2ad8b"/><circle cx="668.2" cy="590.2" r="2.7" fill="#a5ba8b"/><circle cx="670.3" cy="597.3" r="2.8" fill="#a6bb87"/><circle cx="669.3" cy="614.6" r="3.1" fill="#afad82"/><circle cx="673.4" cy="623.4" r="3" fill="#bcad90"/><circle cx="676.6" cy="632" r="3.2" fill="#b0b285"/><circle cx="666.2" cy="523.6" r="2.8" fill="#96b37a"/><circle cx="667.6" cy="534.9" r="3.3" fill="#b5d09b"/><circle cx="670.7" cy="544.7" r="3.1" fill="#8cc38f"/><circle cx="674.9" cy="554.7" r="3.2" fill="#a4c180"/><circle cx="672.1" cy="565.3" r="2.8" fill="#a6ba8c"/><circle cx="410.5" cy="517.5" r="2.6" fill="#a28dc5"/><circle cx="416.5" cy="519.5" r="2.6" fill="#ab7cc3"/><circle cx="627.4" cy="520.4" r="3.1" fill="#aeb38e"/><circle cx="636.2" cy="519" r="3.2" fill="#9abd98"/><circle cx="512.5" cy="787.5" r="2.7" fill="#bc6e59"/><circle cx="519.5" cy="786.5" r="3" fill="#d6a281"/></g>
<path d="M348.6 633.3l1.8 1.2M351.4 641.2l1.8 1.2M354.2 652l1.8 1.2M356.2 662.7l1.8 1.2M355.3 598l1.8 1.2M358.3 608l1.8 1.2M361.2 616.9l1.8 1.2M358.7 631.9l1.8 1.2M360.9 638.1l1.8 1.2M367.1 652l1.8 1.2M363.2 666l1.8 1.2M366 673.2l1.8 1.2M372.3 683.8l1.8 1.2M373.2 694.1l1.8 1.2M378.7 726l1.8 1.2M364.1 583.4l1.8 1.2M367.9 595.2l1.8 1.2M365.9 605l1.8 1.2M367.4 617.7l1.8 1.2M370.2 627.1l1.8 1.2M375.7 638l1.8 1.2M374.3 649.7l1.8 1.2M380.1 680.9l1.8 1.2M382.2 692.7l1.8 1.2M383.4 702l1.8 1.2M388.5 713.3l1.8 1.2M386.4 725.7l1.8 1.2M391.9 735.2l1.8 1.2M392 748.4l1.8 1.2M370.1 560.1l1.8 1.2M373.4 570.6l1.8 1.2M374.8 583.3l1.8 1.2M375.1 591.4l1.8 1.2M380.7 602.3l1.8 1.2M384.5 611.7l1.8 1.2M383.8 625.1l1.8 1.2M384.9 635.7l1.8 1.2M387.3 645.9l1.8 1.2M391.3 660.7l1.8 1.2M391.8 669.4l1.8 1.2M390.2 681l1.8 1.2M395.5 689.4l1.8 1.2M396.1 700.7l1.8 1.2M397.3 715l1.8 1.2M399.9 725.2l1.8 1.2M400.4 734.1l1.8 1.2M403.5 745.9l1.8 1.2M405.5 758.6l1.8 1.2M377.7 537.3l1.8 1.2M379.8 546.6l1.8 1.2M382.3 558.3l1.8 1.2M384.3 570.5l1.8 1.2M387.6 589.8l1.8 1.2M391.1 602.9l1.8 1.2M396.6 624.9l1.8 1.2M394.8 633.7l1.8 1.2M399.4 645.7l1.8 1.2M398.5 655.2l1.8 1.2M399.1 666l1.8 1.2M402.4 681.8l1.8 1.2M407 691.5l1.8 1.2M406.1 700.4l1.8 1.2M407.1 709.9l1.8 1.2M410 722.4l1.8 1.2M412.8 732.7l1.8 1.2M414.2 743l1.8 1.2M416.6 754.7l1.8 1.2M418.4 764.8l1.8 1.2M386.5 514.5l1.8 1.2M388.2 521.8l1.8 1.2M390.8 532.4l1.8 1.2M387.6 545.7l1.8 1.2M392.8 557.7l1.8 1.2M396.8 566.8l1.8 1.2M399.1 578.4l1.8 1.2M400.1 588.2l1.8 1.2M400.7 601.2l1.8 1.2M401 611.7l1.8 1.2M404.6 621l1.8 1.2M409.8 643.8l1.8 1.2M411.1 653.8l1.8 1.2M413.4 666.6l1.8 1.2M414.5 676.1l1.8 1.2M417 686.1l1.8 1.2M417.9 701l1.8 1.2M422.3 705.9l1.8 1.2M423.6 728.3l1.8 1.2M427.7 743.6l1.8 1.2M428.1 753.6l1.8 1.2M429.4 763.8l1.8 1.2M394.7 501.3l1.8 1.2M397.4 511.4l1.8 1.2M398.4 517.4l1.8 1.2M401.6 531.5l1.8 1.2M401.4 543.8l1.8 1.2M404.7 553.9l1.8 1.2M407.2 565.1l1.8 1.2M408 576.1l1.8 1.2M411.3 586.7l1.8 1.2M413.4 597.4l1.8 1.2M412.9 609.1l1.8 1.2M417.7 620.7l1.8 1.2M418.9 628.9l1.8 1.2M419 642.2l1.8 1.2M425 652.5l1.8 1.2M424.6 663.7l1.8 1.2M425.9 675.1l1.8 1.2M428.6 687.1l1.8 1.2M430.9 695.8l1.8 1.2M431.5 706.3l1.8 1.2M433.2 718l1.8 1.2M437.7 730.1l1.8 1.2M438.3 740.1l1.8 1.2M439.3 751.1l1.8 1.2M443.3 763.8l1.8 1.2M444.6 769.4l1.8 1.2M405.6 507.7l1.8 1.2M408.8 517.6l1.8 1.2M410.7 531.5l1.8 1.2M415.9 542.8l1.8 1.2M416.2 552.9l1.8 1.2M417.3 564.2l1.8 1.2M420.7 574.8l1.8 1.2M419.4 585.5l1.8 1.2M422.6 595.4l1.8 1.2M427 606.9l1.8 1.2M428.1 619.4l1.8 1.2M430.2 628.1l1.8 1.2M432.9 638.4l1.8 1.2M433.2 652.7l1.8 1.2M434.6 658.7l1.8 1.2M437.2 671.8l1.8 1.2M441 684.3l1.8 1.2M440.7 694.9l1.8 1.2M442.2 706.8l1.8 1.2M447.2 715.3l1.8 1.2M448.5 739.7l1.8 1.2M452 750l1.8 1.2M452 762.3l1.8 1.2M453.8 770.7l1.8 1.2M418.8 506.7l1.8 1.2M422 518l1.8 1.2M420.7 526l1.8 1.2M425.9 539.7l1.8 1.2M425.1 549.6l1.8 1.2M427.1 557.8l1.8 1.2M432.3 569.8l1.8 1.2M434 582.8l1.8 1.2M434.4 594l1.8 1.2M438.1 616l1.8 1.2M438.8 626.5l1.8 1.2M444 647.6l1.8 1.2M443.2 658.2l1.8 1.2M448.7 671.8l1.8 1.2M449.2 682.5l1.8 1.2M451.8 693.2l1.8 1.2M453.7 702.4l1.8 1.2M457.2 712.4l1.8 1.2M455.4 721.5l1.8 1.2M458.9 734.5l1.8 1.2M463.1 746.8l1.8 1.2M465.2 757.8l1.8 1.2M465.7 768.7l1.8 1.2M430.8 494.1l1.8 1.2M428.4 506.1l1.8 1.2M434 515.2l1.8 1.2M431.7 524.9l1.8 1.2M435.5 535.3l1.8 1.2M437.9 548.4l1.8 1.2M439.8 557.6l1.8 1.2M441 568.6l1.8 1.2M444.1 582l1.8 1.2M448.5 591.1l1.8 1.2M447.1 601.6l1.8 1.2M450.3 615.9l1.8 1.2M451.6 624.9l1.8 1.2M451.7 638.1l1.8 1.2M454.6 649.6l1.8 1.2M456.1 657.9l1.8 1.2M461.7 678.3l1.8 1.2M460.1 691.2l1.8 1.2M465.5 700.7l1.8 1.2M468.2 714.4l1.8 1.2M470 725.7l1.8 1.2M469.7 734.3l1.8 1.2M472.2 744.9l1.8 1.2M477 755.9l1.8 1.2M475.8 765.1l1.8 1.2M439.4 492l1.8 1.2M440.1 512.6l1.8 1.2M444.6 524.2l1.8 1.2M446.8 534.2l1.8 1.2M449.7 546.9l1.8 1.2M448.2 556.8l1.8 1.2M454.3 567.6l1.8 1.2M453.7 581.5l1.8 1.2M455.8 589.8l1.8 1.2M462.3 623.1l1.8 1.2M465.1 633.4l1.8 1.2M465.5 643.1l1.8 1.2M469.2 656.8l1.8 1.2M469.5 665.8l1.8 1.2M473.5 675.3l1.8 1.2M475.6 686.4l1.8 1.2M475.3 700.7l1.8 1.2M479 709.4l1.8 1.2M478.9 721.4l1.8 1.2M483.7 729.2l1.8 1.2M484.1 742.3l1.8 1.2M485.9 754.6l1.8 1.2M487.9 766.6l1.8 1.2M451.6 489.8l1.8 1.2M453.6 502.8l1.8 1.2M454 510.2l1.8 1.2M457.4 519.3l1.8 1.2M459.4 531l1.8 1.2M462 544.1l1.8 1.2M462.3 555.8l1.8 1.2M463.2 566.4l1.8 1.2M468.7 579.1l1.8 1.2M467.4 587.5l1.8 1.2M469.8 598.4l1.8 1.2M473.2 612.1l1.8 1.2M474.6 621.7l1.8 1.2M475 634.6l1.8 1.2M480.4 641.3l1.8 1.2M479.1 654.8l1.8 1.2M484.6 664l1.8 1.2M485 676.9l1.8 1.2M487.7 685.5l1.8 1.2M490.2 697.8l1.8 1.2M490.3 711.5l1.8 1.2M493.6 719.3l1.8 1.2M497.4 753.4l1.8 1.2M498.1 763.6l1.8 1.2M500.4 772.2l1.8 1.2M459.6 487.6l1.8 1.2M463 497.5l1.8 1.2M467.5 518.8l1.8 1.2M469.1 532l1.8 1.2M470.5 542.4l1.8 1.2M473.7 556.3l1.8 1.2M476.6 563.9l1.8 1.2M477.6 576.1l1.8 1.2M477.9 584.9l1.8 1.2M482.1 596.8l1.8 1.2M483 609.2l1.8 1.2M484.6 619.4l1.8 1.2M485.4 629.5l1.8 1.2M488.4 641.7l1.8 1.2M490 655.4l1.8 1.2M495.1 664l1.8 1.2M497.7 682.1l1.8 1.2M498.9 697l1.8 1.2M498.7 705.9l1.8 1.2M501.8 718.8l1.8 1.2M506 726.7l1.8 1.2M504.2 738.9l1.8 1.2M510.3 748.5l1.8 1.2M510.7 761.1l1.8 1.2M510.2 770.1l1.8 1.2M513.3 784.2l1.8 1.2M477 496l1.8 1.2M478.3 506.2l1.8 1.2M481.3 521.6l1.8 1.2M480.6 527.8l1.8 1.2M481.7 541.5l1.8 1.2M485 553.3l1.8 1.2M485.7 564.1l1.8 1.2M487.3 571.5l1.8 1.2M490.5 584.5l1.8 1.2M492 593.8l1.8 1.2M493.4 604.4l1.8 1.2M494.6 615.5l1.8 1.2M498.1 630.1l1.8 1.2M499.7 638.7l1.8 1.2M499.9 652l1.8 1.2M502.8 663l1.8 1.2M506.7 670.9l1.8 1.2M508.2 681.1l1.8 1.2M510.6 694.6l1.8 1.2M511.6 705.3l1.8 1.2M516.8 726l1.8 1.2M519.4 736.6l1.8 1.2M519.6 749.4l1.8 1.2M518.8 756.5l1.8 1.2M521 769.4l1.8 1.2M524.1 780.6l1.8 1.2M485.2 504.4l1.8 1.2M490.2 518.6l1.8 1.2M491.3 527.5l1.8 1.2M495.6 538.6l1.8 1.2M494.9 548.2l1.8 1.2M496.6 559.8l1.8 1.2M498.4 572l1.8 1.2M502 583.5l1.8 1.2M503.5 592.2l1.8 1.2M505.9 603.8l1.8 1.2M507.7 617.7l1.8 1.2M509.8 625.4l1.8 1.2M511.4 637l1.8 1.2M515.3 649.4l1.8 1.2M514 659.3l1.8 1.2M518.3 670.6l1.8 1.2M519.3 682.9l1.8 1.2M519.1 690.9l1.8 1.2M524.3 700.3l1.8 1.2M526.9 715.5l1.8 1.2M526.7 726.4l1.8 1.2M528.2 734.2l1.8 1.2M531.6 745.3l1.8 1.2M536.1 767.8l1.8 1.2M535.6 777.9l1.8 1.2M537.6 792.9l1.8 1.2M543.5 799.7l1.8 1.2M499.8 515.7l1.8 1.2M504.2 527l1.8 1.2M505.3 537.6l1.8 1.2M506.1 547.1l1.8 1.2M510.9 559.3l1.8 1.2M510.7 569.8l1.8 1.2M512.5 579.4l1.8 1.2M514.3 590.8l1.8 1.2M514.5 602.3l1.8 1.2M517.5 612.8l1.8 1.2M521.1 625.3l1.8 1.2M524.4 646.4l1.8 1.2M527.1 654.1l1.8 1.2M529.3 667.1l1.8 1.2M531.5 681l1.8 1.2M531 688.8l1.8 1.2M534.2 697.9l1.8 1.2M535.7 713.5l1.8 1.2M538.1 721.5l1.8 1.2M540.4 734.2l1.8 1.2M542.7 743.9l1.8 1.2M542.8 755.1l1.8 1.2M545.6 762.9l1.8 1.2M547.9 776.4l1.8 1.2M549.2 789.1l1.8 1.2M551.9 794.9l1.8 1.2M516.2 536.2l1.8 1.2M520.2 543.7l1.8 1.2M519.2 555.9l1.8 1.2M523.3 567.4l1.8 1.2M522.9 579l1.8 1.2M525.8 587.5l1.8 1.2M527.8 598.1l1.8 1.2M528.8 611.1l1.8 1.2M531.5 620.3l1.8 1.2M531.9 632.4l1.8 1.2M536.2 645.2l1.8 1.2M534.7 653.4l1.8 1.2M538 663.8l1.8 1.2M542.6 676.1l1.8 1.2M545.5 686.5l1.8 1.2M542.9 697.4l1.8 1.2M548.5 709.9l1.8 1.2M549.7 722.5l1.8 1.2M549.2 731.9l1.8 1.2M553.4 743.6l1.8 1.2M557.2 750.3l1.8 1.2M554.3 763.7l1.8 1.2M560.2 777.7l1.8 1.2M558.9 784.6l1.8 1.2M563.3 795.2l1.8 1.2M528.6 531l1.8 1.2M533.1 577l1.8 1.2M537.3 586.5l1.8 1.2M539.1 595.7l1.8 1.2M540.8 610l1.8 1.2M540.8 619.8l1.8 1.2M544.3 629.4l1.8 1.2M546.6 642.8l1.8 1.2M549.7 654.6l1.8 1.2M551.1 663.3l1.8 1.2M553.2 672.6l1.8 1.2M554.9 685.1l1.8 1.2M555 694.6l1.8 1.2M558.4 710.4l1.8 1.2M558.7 721.3l1.8 1.2M562.5 728.6l1.8 1.2M563.5 741.1l1.8 1.2M568 752l1.8 1.2M568.3 762l1.8 1.2M568.3 770.6l1.8 1.2M570.5 783.3l1.8 1.2M540.8 542.1l1.8 1.2M543.7 554.8l1.8 1.2M544.6 563.8l1.8 1.2M548.7 575.2l1.8 1.2M546.5 585.1l1.8 1.2M551.4 608.3l1.8 1.2M556.8 633l1.8 1.2M558.8 639.9l1.8 1.2M559.7 653.7l1.8 1.2M561.4 662.5l1.8 1.2M564.3 673l1.8 1.2M563.8 682.6l1.8 1.2M564.1 693.4l1.8 1.2M569 708.5l1.8 1.2M570.6 715.8l1.8 1.2M577.6 750.7l1.8 1.2M579.6 771.4l1.8 1.2M547.3 517.8l1.8 1.2M551.7 539.2l1.8 1.2M554.5 551.1l1.8 1.2M554.3 562.5l1.8 1.2M556.8 575.2l1.8 1.2M558.2 583.4l1.8 1.2M562.2 594.9l1.8 1.2M563.1 609l1.8 1.2M565.1 617.2l1.8 1.2M567.6 628l1.8 1.2M571.7 639.8l1.8 1.2M569.4 648.6l1.8 1.2M571.5 661.3l1.8 1.2M571.4 670.1l1.8 1.2M575.2 683l1.8 1.2M578.5 692.9l1.8 1.2M581.5 703.8l1.8 1.2M580.4 716.5l1.8 1.2M585.7 724.6l1.8 1.2M587.2 738.1l1.8 1.2M590 745.7l1.8 1.2M588.6 756.6l1.8 1.2M593.3 768.3l1.8 1.2M558.9 526.9l1.8 1.2M563.9 533.8l1.8 1.2M565.3 547.5l1.8 1.2M565.4 558.8l1.8 1.2M569.8 582l1.8 1.2M573.9 592.3l1.8 1.2M574.4 600.4l1.8 1.2M576.9 613.3l1.8 1.2M576.8 625.6l1.8 1.2M580 635.2l1.8 1.2M581.9 646.6l1.8 1.2M584.1 667.6l1.8 1.2M590.2 689.3l1.8 1.2M591.7 701.7l1.8 1.2M592.5 713.5l1.8 1.2M597.4 723.1l1.8 1.2M599 746.5l1.8 1.2M599.7 755.7l1.8 1.2M569.4 515.1l1.8 1.2M571.3 524.1l1.8 1.2M574 535.3l1.8 1.2M573.9 548.1l1.8 1.2M579.7 555.4l1.8 1.2M579.1 566.9l1.8 1.2M580 581.1l1.8 1.2M583.4 590.6l1.8 1.2M582.1 600.6l1.8 1.2M587.4 613l1.8 1.2M589.8 624.6l1.8 1.2M591.3 635.1l1.8 1.2M593.1 643.6l1.8 1.2M594.8 657.8l1.8 1.2M597.4 666.7l1.8 1.2M599.7 677.2l1.8 1.2M601.2 688.8l1.8 1.2M602.7 699l1.8 1.2M602.4 712l1.8 1.2M608 720.1l1.8 1.2M609.8 730.2l1.8 1.2M608.5 742.6l1.8 1.2M614.9 752.2l1.8 1.2M581 523.6l1.8 1.2M582.9 532.6l1.8 1.2M587 542.8l1.8 1.2M587.2 554.1l1.8 1.2M592 565.9l1.8 1.2M593.1 579.2l1.8 1.2M593.9 587.3l1.8 1.2M597.2 598.8l1.8 1.2M597.7 612.4l1.8 1.2M601.6 619.4l1.8 1.2M601.3 634.8l1.8 1.2M603.5 640.1l1.8 1.2M607.9 653.5l1.8 1.2M605.4 665.4l1.8 1.2M610.3 674.3l1.8 1.2M612.5 685.3l1.8 1.2M613.7 696l1.8 1.2M615.3 708.5l1.8 1.2M617.3 721.2l1.8 1.2M620.6 731.6l1.8 1.2M621.3 739.7l1.8 1.2M592.3 519.9l1.8 1.2M597.5 533.7l1.8 1.2M598.8 542.9l1.8 1.2M598.8 553.9l1.8 1.2M597.8 566.8l1.8 1.2M603.5 576.2l1.8 1.2M606.7 585l1.8 1.2M609.1 597.7l1.8 1.2M607.1 610.5l1.8 1.2M612.1 617.2l1.8 1.2M611.6 627.5l1.8 1.2M614.2 643.7l1.8 1.2M618.5 652.6l1.8 1.2M618.7 663.9l1.8 1.2M622.1 674.5l1.8 1.2M622.2 687l1.8 1.2M623.6 696.3l1.8 1.2M627.1 705.6l1.8 1.2M629.1 715.6l1.8 1.2M630.9 729.5l1.8 1.2M605.9 510.9l1.8 1.2M605.3 518.3l1.8 1.2M603.4 530.4l1.8 1.2M609.2 540.1l1.8 1.2M610.7 550.9l1.8 1.2M612.6 563.6l1.8 1.2M612.7 573.5l1.8 1.2M614.7 582.6l1.8 1.2M618 595.5l1.8 1.2M620.1 604.2l1.8 1.2M621.1 618.3l1.8 1.2M626.9 626.4l1.8 1.2M628 638.7l1.8 1.2M630.4 651.3l1.8 1.2M629.2 660.1l1.8 1.2M634.4 672l1.8 1.2M635.9 684l1.8 1.2M638.2 691.5l1.8 1.2M638.6 704.7l1.8 1.2M641.3 714.7l1.8 1.2M614.1 517.3l1.8 1.2M614.8 526.8l1.8 1.2M622.9 539.5l1.8 1.2M621.3 549.5l1.8 1.2M625.4 580.8l1.8 1.2M631.3 593.9l1.8 1.2M628.5 605l1.8 1.2M632.6 615.7l1.8 1.2M635.4 625.6l1.8 1.2M638.5 636.8l1.8 1.2M636.9 649.3l1.8 1.2M642.3 657.5l1.8 1.2M642.6 670l1.8 1.2M642.5 680.4l1.8 1.2M648.7 691.3l1.8 1.2M648.5 700.8l1.8 1.2M628.5 512.2l1.8 1.2M631.1 524.2l1.8 1.2M630.4 535.8l1.8 1.2M631.4 548.7l1.8 1.2M634.6 559.7l1.8 1.2M637.2 572.9l1.8 1.2M639.5 581.8l1.8 1.2M640.5 590.9l1.8 1.2M643.1 604.2l1.8 1.2M645.3 615.7l1.8 1.2M646.1 623.8l1.8 1.2M650.2 634.6l1.8 1.2M652.7 643.1l1.8 1.2M652.8 669.6l1.8 1.2M654.8 677.9l1.8 1.2M658.8 689l1.8 1.2M635.8 513.7l1.8 1.2M641.4 521.8l1.8 1.2M640.7 537l1.8 1.2M644.9 547.6l1.8 1.2M645.8 556.9l1.8 1.2M648 568.5l1.8 1.2M649.4 580.2l1.8 1.2M653 590.4l1.8 1.2M653.6 603.7l1.8 1.2M656.5 610.6l1.8 1.2M658.1 624l1.8 1.2M658.4 633.3l1.8 1.2M660.1 644.2l1.8 1.2M664.4 653.7l1.8 1.2M667 665.7l1.8 1.2M668.6 676.5l1.8 1.2M648.4 511.9l1.8 1.2M651.9 532.8l1.8 1.2M656.6 542.8l1.8 1.2M655.5 554.2l1.8 1.2M658.8 564.7l1.8 1.2M660.6 576.4l1.8 1.2M664.4 587.3l1.8 1.2M666.5 594.3l1.8 1.2M665.2 611.3l1.8 1.2M669.4 620.2l1.8 1.2M672.4 628.6l1.8 1.2M662.3 520.5l1.8 1.2M663.3 531.4l1.8 1.2M666.6 541.5l1.8 1.2M670.7 551.3l1.8 1.2M668.3 562.3l1.8 1.2M406.9 514.7l1.8 1.2M412.9 516.7l1.8 1.2M623.3 517.1l1.8 1.2M632 515.6l1.8 1.2M508.8 784.6l1.8 1.2M515.5 783.3l1.8 1.2" stroke="#888" stroke-width="0.6" fill="none"/>
<rect x="403.5" y="510.7" width="17.1" height="17.3" fill="none" stroke="#444" stroke-width="0.9"/>
<rect x="623.7" y="510.7" width="16.9" height="16.3" fill="none" stroke="#444" stroke-width="0.9"/>
<rect x="507.7" y="779" width="16.3" height="16.3" fill="none" stroke="#444" stroke-width="0.9"/>
<path d="M403.5 528L341.4 825.5M420.6 528L450.5 825.5M507.7 795.3L455.5 825.5M524 795.3L565.3 825.5M623.7 527L570.4 825.5M640.6 527L679.5 825.5" stroke="#222" stroke-width="0.8" stroke-dasharray="2.6 2" fill="none"/>
<defs><clipPath id="tc14"><path d="M404.4 870L404.3 871.5L404.1 873.1L403.8 874.6L403.3 876L402.8 877.4L402 878.8L401.2 880.1L400.3 881.3L399.2 882.4L398.1 883.5L396.9 884.4L395.6 885.2L394.2 886L392.8 886.5L391.4 887L389.9 887.3L388.3 887.5L386.8 887.6L385.3 887.5L383.7 887.3L382.2 887L380.8 886.5L379.4 886L378 885.2L376.7 884.4L375.5 883.5L374.4 882.4L373.3 881.3L372.4 880.1L371.6 878.8L370.8 877.4L370.3 876L369.8 874.6L369.5 873.1L369.3 871.5L369.2 870L369.3 868.5L369.5 866.9L369.8 865.4L370.3 864L370.8 862.6L371.6 861.2L372.4 859.9L373.3 858.7L374.4 857.6L375.5 856.5L376.7 855.6L378 854.8L379.4 854L380.8 853.5L382.2 853L383.7 852.7L385.3 852.5L386.8 852.4L388.3 852.5L389.9 852.7L391.4 853L392.8 853.5L394.2 854L395.6 854.8L396.9 855.6L398.1 856.5L399.2 857.6L400.3 858.7L401.2 859.9L402 861.2L402.8 862.6L403.3 864L403.8 865.4L404.1 866.9L404.3 868.5Z"/></clipPath><filter id="tf14_0" filterUnits="userSpaceOnUse" x="366.2" y="849.4" width="41.2" height="41.2" color-interpolation-filters="sRGB"><feTurbulence type="fractalNoise" baseFrequency="0.8" numOctaves="2" seed="61"/><feColorMatrix type="matrix" values="1 0 0 0 0 1 0 0 0 0 1 0 0 0 0 0 0 0 0 1"/><feComponentTransfer><feFuncR type="table" tableValues="0.000 0.000 0.000 0.001 0.003 0.008 0.019 0.041 0.082 0.149 0.244 0.364 0.500 0.636 0.756 0.851 0.918 0.959 0.981 0.992 0.997 0.999 1.000 1.000 1.000"/><feFuncG type="table" tableValues="0.000 0.000 0.000 0.001 0.003 0.008 0.019 0.041 0.082 0.149 0.244 0.364 0.500 0.636 0.756 0.851 0.918 0.959 0.981 0.992 0.997 0.999 1.000 1.000 1.000"/><feFuncB type="table" tableValues="0.000 0.000 0.000 0.001 0.003 0.008 0.019 0.041 0.082 0.149 0.244 0.364 0.500 0.636 0.756 0.851 0.918 0.959 0.981 0.992 0.997 0.999 1.000 1.000 1.000"/></feComponentTransfer><feComponentTransfer><feFuncR type="discrete" tableValues="0.788 0.580 0.498 1.000 0.090 0.580 0.580 0.624 0.788 1.000 1.000 0.580 1.000 1.000 0.902 0.788 0.580 1.000 1.000 0.902 0.902 0.788 0.788 0.580 1.000 0.580 0.624 1.000 0.580 0.549 0.890 0.580 1.000 0.788 0.788 0.580 0.624 1.000 0.902 0.580 0.902 1.000 1.000 1.000 0.624 1.000 0.788"/><feFuncG type="discrete" tableValues="0.702 0.404 0.498 1.000 0.745 0.404 0.404 0.816 0.702 1.000 1.000 0.404 1.000 1.000 0.863 0.702 0.404 1.000 1.000 0.863 0.863 0.702 0.702 0.404 0.498 0.404 0.816 1.000 0.404 0.337 0.467 0.404 1.000 0.702 0.702 0.404 0.816 1.000 0.863 0.404 0.863 1.000 1.000 1.000 0.816 1.000 0.702"/><feFuncB type="discrete" tableValues="0.890 0.741 0.498 1.000 0.812 0.741 0.741 0.918 0.890 1.000 1.000 0.741 1.000 1.000 0.949 0.890 0.741 1.000 1.000 0.949 0.949 0.890 0.890 0.741 0.055 0.741 0.918 1.000 0.741 0.294 0.761 0.741 1.000 0.890 0.890 0.741 0.918 1.000 0.949 0.741 0.949 1.000 1.000 1.000 0.918 1.000 0.890"/></feComponentTransfer><feConvolveMatrix order="3" kernelMatrix="1 2 1 2 4 2 1 2 1" edgeMode="duplicate"/></filter><filter id="tf14_1" filterUnits="userSpaceOnUse" x="366.2" y="849.4" width="41.2" height="41.2" color-interpolation-filters="sRGB"><feTurbulence type="fractalNoise" baseFrequency="0.2" numOctaves="2" seed="62"/><feColorMatrix type="matrix" values="0 0 0 0 0.604 0 0 0 0 0.439 0 0 0 0 0.784 1 0 0 0 0"/><feComponentTransfer><feFuncA type="table" tableValues="0.000 0.000 0.000 0.001 0.003 0.008 0.019 0.041 0.082 0.149 0.244 0.364 0.500 0.636 0.756 0.851 0.918 0.959 0.981 0.992 0.997 0.999 1.000 1.000 1.000"/></feComponentTransfer><feComponentTransfer><feFuncA type="discrete" tableValues="0 0 0 0 0 0 0 0 0 0 0 0 0 0 0 0 0 0 0 0 0 0 0 0 0 0 0 0 0 0 0 0 0 0 0 0 0 0 0 0 1 1 1 1 1 1 1 1 1 1"/></feComponentTransfer><feConvolveMatrix order="3" kernelMatrix="1 2 1 2 4 2 1 2 1" edgeMode="duplicate"/></filter><clipPath id="tc15"><path d="M404.4 870L404.3 871.5L404.1 873.1L403.8 874.6L403.3 876L402.8 877.4L402 878.8L401.2 880.1L400.3 881.3L399.2 882.4L398.1 883.5L396.9 884.4L395.6 885.2L394.2 886L392.8 886.5L391.4 887L389.9 887.3L388.3 887.5L386.8 887.6L385.3 887.5L383.7 887.3L382.2 887L380.8 886.5L379.4 886L378 885.2L376.7 884.4L375.5 883.5L374.4 882.4L373.3 881.3L372.4 880.1L371.6 878.8L370.8 877.4L370.3 876L369.8 874.6L369.5 873.1L369.3 871.5L369.2 870L369.3 868.5L369.5 866.9L369.8 865.4L370.3 864L370.8 862.6L371.6 861.2L372.4 859.9L373.3 858.7L374.4 857.6L375.5 856.5L376.7 855.6L378 854.8L379.4 854L380.8 853.5L382.2 853L383.7 852.7L385.3 852.5L386.8 852.4L388.3 852.5L389.9 852.7L391.4 853L392.8 853.5L394.2 854L395.6 854.8L396.9 855.6L398.1 856.5L399.2 857.6L400.3 858.7L401.2 859.9L402 861.2L402.8 862.6L403.3 864L403.8 865.4L404.1 866.9L404.3 868.5Z"/></clipPath><filter id="tf15_0" filterUnits="userSpaceOnUse" x="366.2" y="849.4" width="41.2" height="41.2" color-interpolation-filters="sRGB"><feTurbulence type="fractalNoise" baseFrequency="0.45" numOctaves="2" seed="63"/><feColorMatrix type="matrix" values="0 0 0 0 1.000 0 0 0 0 0.498 0 0 0 0 0.055 1 0 0 0 0"/><feComponentTransfer><feFuncA type="table" tableValues="0.000 0.000 0.000 0.001 0.003 0.008 0.019 0.041 0.082 0.149 0.244 0.364 0.500 0.636 0.756 0.851 0.918 0.959 0.981 0.992 0.997 0.999 1.000 1.000 1.000"/></feComponentTransfer><feComponentTransfer><feFuncA type="discrete" tableValues="0 0 0 0 0 0 0 0 0 0 0 0 0 0 0 0 0 0 0 0 0 0 0 0 0 0 0 0 0 0 0 1 1 1 1 1 1 1 1 1 1 1 1 1 1 1 1 1 1 1"/></feComponentTransfer><feConvolveMatrix order="3" kernelMatrix="1 2 1 2 4 2 1 2 1" edgeMode="duplicate"/></filter><filter id="tf15_1" filterUnits="userSpaceOnUse" x="366.2" y="849.4" width="41.2" height="41.2" color-interpolation-filters="sRGB"><feTurbulence type="fractalNoise" baseFrequency="0.45" numOctaves="2" seed="163"/><feColorMatrix type="matrix" values="0 0 0 0 0.604 0 0 0 0 0.439 0 0 0 0 0.784 1 0 0 0 0"/><feComponentTransfer><feFuncA type="table" tableValues="0.000 0.000 0.000 0.001 0.003 0.008 0.019 0.041 0.082 0.149 0.244 0.364 0.500 0.636 0.756 0.851 0.918 0.959 0.981 0.992 0.997 0.999 1.000 1.000 1.000"/></feComponentTransfer><feComponentTransfer><feFuncA type="discrete" tableValues="0 0 0 0 0 0 0 0 0 0 0 0 0 0 0 0 0 0 0 0 0 0 0 0 0 0 0 0 0 0 0 0 0 0 0 0 0 0 0 0 0 0 0 0 1 1 1 1 1 1"/></feComponentTransfer><feConvolveMatrix order="3" kernelMatrix="1 2 1 2 4 2 1 2 1" edgeMode="duplicate"/></filter><clipPath id="td15"><path d="M368 873L378 868L392 866L405 872L405 890L368 890Z"/></clipPath><clipPath id="tc16"><path d="M404.4 870L404.3 871.5L404.1 873.1L403.8 874.6L403.3 876L402.8 877.4L402 878.8L401.2 880.1L400.3 881.3L399.2 882.4L398.1 883.5L396.9 884.4L395.6 885.2L394.2 886L392.8 886.5L391.4 887L389.9 887.3L388.3 887.5L386.8 887.6L385.3 887.5L383.7 887.3L382.2 887L380.8 886.5L379.4 886L378 885.2L376.7 884.4L375.5 883.5L374.4 882.4L373.3 881.3L372.4 880.1L371.6 878.8L370.8 877.4L370.3 876L369.8 874.6L369.5 873.1L369.3 871.5L369.2 870L369.3 868.5L369.5 866.9L369.8 865.4L370.3 864L370.8 862.6L371.6 861.2L372.4 859.9L373.3 858.7L374.4 857.6L375.5 856.5L376.7 855.6L378 854.8L379.4 854L380.8 853.5L382.2 853L383.7 852.7L385.3 852.5L386.8 852.4L388.3 852.5L389.9 852.7L391.4 853L392.8 853.5L394.2 854L395.6 854.8L396.9 855.6L398.1 856.5L399.2 857.6L400.3 858.7L401.2 859.9L402 861.2L402.8 862.6L403.3 864L403.8 865.4L404.1 866.9L404.3 868.5Z"/></clipPath><clipPath id="td16"><path d="M368 878L380 883L390 888L380 890L368 888Z"/></clipPath><clipPath id="tc17"><path d="M402.5 868 A19.5 19.5 0 0 0 441 858 L438 855.5 L434 856.5 L431 854 L427 855 L423 852 L419 854 L414 852 L410 854 L405 853 L402 856 Z"/></clipPath><filter id="tf17_0" filterUnits="userSpaceOnUse" x="398.6" y="843" width="46" height="46" color-interpolation-filters="sRGB"><feTurbulence type="fractalNoise" baseFrequency="0.8" numOctaves="2" seed="64"/><feColorMatrix type="matrix" values="1 0 0 0 0 1 0 0 0 0 1 0 0 0 0 0 0 0 0 1"/><feComponentTransfer><feFuncR type="table" tableValues="0.000 0.000 0.000 0.001 0.003 0.008 0.019 0.041 0.082 0.149 0.244 0.364 0.500 0.636 0.756 0.851 0.918 0.959 0.981 0.992 0.997 0.999 1.000 1.000 1.000"/><feFuncG type="table" tableValues="0.000 0.000 0.000 0.001 0.003 0.008 0.019 0.041 0.082 0.149 0.244 0.364 0.500 0.636 0.756 0.851 0.918 0.959 0.981 0.992 0.997 0.999 1.000 1.000 1.000"/><feFuncB type="table" tableValues="0.000 0.000 0.000 0.001 0.003 0.008 0.019 0.041 0.082 0.149 0.244 0.364 0.500 0.636 0.756 0.851 0.918 0.959 0.981 0.992 0.997 0.999 1.000 1.000 1.000"/></feComponentTransfer><feComponentTransfer><feFuncR type="discrete" tableValues="1.000 0.580 1.000 0.498 1.000 0.580 0.090 0.788 0.580 0.788 1.000 0.580 0.580 0.890 1.000 0.580 0.890 1.000 0.580 0.498 0.549 0.580 1.000 0.788 1.000 0.580 0.788 0.580 0.580 1.000 0.788 1.000 0.624 1.000 0.788 1.000 0.580 0.580 0.580 1.000 0.580 0.580 0.788 1.000 0.624 0.624 0.580 0.788"/><feFuncG type="discrete" tableValues="1.000 0.404 0.498 0.498 1.000 0.404 0.745 0.702 0.404 0.702 1.000 0.404 0.404 0.467 1.000 0.404 0.467 1.000 0.404 0.498 0.337 0.404 1.000 0.702 1.000 0.404 0.702 0.404 0.404 1.000 0.702 0.498 0.816 0.498 0.702 1.000 0.404 0.404 0.404 1.000 0.404 0.404 0.702 1.000 0.816 0.816 0.404 0.702"/><feFuncB type="discrete" tableValues="1.000 0.741 0.055 0.498 1.000 0.741 0.812 0.890 0.741 0.890 1.000 0.741 0.741 0.761 1.000 0.741 0.761 1.000 0.741 0.498 0.294 0.741 1.000 0.890 1.000 0.741 0.890 0.741 0.741 1.000 0.890 0.055 0.918 0.055 0.890 1.000 0.741 0.741 0.741 1.000 0.741 0.741 0.890 1.000 0.918 0.918 0.741 0.890"/></feComponentTransfer><feConvolveMatrix order="3" kernelMatrix="1 2 1 2 4 2 1 2 1" edgeMode="duplicate"/></filter><filter id="tf17_1" filterUnits="userSpaceOnUse" x="398.6" y="843" width="46" height="46" color-interpolation-filters="sRGB"><feTurbulence type="fractalNoise" baseFrequency="0.2" numOctaves="2" seed="65"/><feColorMatrix type="matrix" values="0 0 0 0 0.604 0 0 0 0 0.439 0 0 0 0 0.784 1 0 0 0 0"/><feComponentTransfer><feFuncA type="table" tableValues="0.000 0.000 0.000 0.001 0.003 0.008 0.019 0.041 0.082 0.149 0.244 0.364 0.500 0.636 0.756 0.851 0.918 0.959 0.981 0.992 0.997 0.999 1.000 1.000 1.000"/></feComponentTransfer><feComponentTransfer><feFuncA type="discrete" tableValues="0 0 0 0 0 0 0 0 0 0 0 0 0 0 0 0 0 0 0 0 0 0 0 0 0 0 0 0 0 0 0 0 1 1 1 1 1 1 1 1 1 1 1 1 1 1 1 1 1 1"/></feComponentTransfer><feConvolveMatrix order="3" kernelMatrix="1 2 1 2 4 2 1 2 1" edgeMode="duplicate"/></filter><filter id="tf17_2" filterUnits="userSpaceOnUse" x="398.6" y="843" width="46" height="46" color-interpolation-filters="sRGB"><feTurbulence type="fractalNoise" baseFrequency="0.3" numOctaves="2" seed="165"/><feColorMatrix type="matrix" values="0 0 0 0 1.000 0 0 0 0 0.498 0 0 0 0 0.055 1 0 0 0 0"/><feComponentTransfer><feFuncA type="table" tableValues="0.000 0.000 0.000 0.001 0.003 0.008 0.019 0.041 0.082 0.149 0.244 0.364 0.500 0.636 0.756 0.851 0.918 0.959 0.981 0.992 0.997 0.999 1.000 1.000 1.000"/></feComponentTransfer><feComponentTransfer><feFuncA type="discrete" tableValues="0 0 0 0 0 0 0 0 0 0 0 0 0 0 0 0 0 0 0 0 0 0 0 0 0 0 0 0 0 0 0 0 0 0 0 0 0 0 0 0 0 0 0 0 0 0 0 0 1 1"/></feComponentTransfer><feConvolveMatrix order="3" kernelMatrix="1 2 1 2 4 2 1 2 1" edgeMode="duplicate"/></filter><clipPath id="tc18"><path d="M460 910.5L459.9 911.9L459.8 913.2L459.5 914.5L459.1 915.8L458.5 917.1L457.9 918.2L457.2 919.4L456.4 920.5L455.5 921.5L454.5 922.4L453.4 923.2L452.2 923.9L451.1 924.5L449.8 925.1L448.5 925.5L447.2 925.8L445.9 925.9L444.5 926L443.1 925.9L441.8 925.8L440.5 925.5L439.2 925.1L437.9 924.5L436.8 923.9L435.6 923.2L434.5 922.4L433.5 921.5L432.6 920.5L431.8 919.4L431.1 918.2L430.5 917.1L429.9 915.8L429.5 914.5L429.2 913.2L429.1 911.9L429 910.5L429.1 909.1L429.2 907.8L429.5 906.5L429.9 905.2L430.5 903.9L431.1 902.8L431.8 901.6L432.6 900.5L433.5 899.5L434.5 898.6L435.6 897.8L436.8 897.1L437.9 896.5L439.2 895.9L440.5 895.5L441.8 895.2L443.1 895.1L444.5 895L445.9 895.1L447.2 895.2L448.5 895.5L449.8 895.9L451.1 896.5L452.2 897.1L453.4 897.8L454.5 898.6L455.5 899.5L456.4 900.5L457.2 901.6L457.9 902.8L458.5 903.9L459.1 905.2L459.5 906.5L459.8 907.8L459.9 909.1Z"/></clipPath><filter id="tf18_0" filterUnits="userSpaceOnUse" x="426" y="892" width="37" height="37" color-interpolation-filters="sRGB"><feTurbulence type="fractalNoise" baseFrequency="0.8" numOctaves="2" seed="66"/><feColorMatrix type="matrix" values="1 0 0 0 0 1 0 0 0 0 1 0 0 0 0 0 0 0 0 1"/><feComponentTransfer><feFuncR type="table" tableValues="0.000 0.000 0.000 0.001 0.003 0.008 0.019 0.041 0.082 0.149 0.244 0.364 0.500 0.636 0.756 0.851 0.918 0.959 0.981 0.992 0.997 0.999 1.000 1.000 1.000"/><feFuncG type="table" tableValues="0.000 0.000 0.000 0.001 0.003 0.008 0.019 0.041 0.082 0.149 0.244 0.364 0.500 0.636 0.756 0.851 0.918 0.959 0.981 0.992 0.997 0.999 1.000 1.000 1.000"/><feFuncB type="table" tableValues="0.000 0.000 0.000 0.001 0.003 0.008 0.019 0.041 0.082 0.149 0.244 0.364 0.500 0.636 0.756 0.851 0.918 0.959 0.981 0.992 0.997 0.999 1.000 1.000 1.000"/></feComponentTransfer><feComponentTransfer><feFuncR type="discrete" tableValues="0.624 0.549 0.498 1.000 0.580 0.580 0.549 0.580 1.000 0.788 1.000 0.580 0.580 0.580 1.000 1.000 0.498 0.624 0.890 1.000 0.624 1.000 0.580 0.580 0.624 0.580 0.498 1.000 1.000 1.000 1.000 0.788 0.580 1.000 0.890 0.580 1.000 0.788 0.580 0.788 0.580 1.000 1.000 1.000 0.788 1.000 0.788 1.000 0.580"/><feFuncG type="discrete" tableValues="0.816 0.337 0.498 0.498 0.404 0.404 0.337 0.404 1.000 0.702 1.000 0.404 0.404 0.404 0.498 1.000 0.498 0.816 0.467 1.000 0.816 0.498 0.404 0.404 0.816 0.404 0.498 1.000 1.000 1.000 0.498 0.702 0.404 1.000 0.467 0.404 0.498 0.702 0.404 0.702 0.404 0.498 1.000 1.000 0.702 1.000 0.702 1.000 0.404"/><feFuncB type="discrete" tableValues="0.918 0.294 0.498 0.055 0.741 0.741 0.294 0.741 1.000 0.890 1.000 0.741 0.741 0.741 0.055 1.000 0.498 0.918 0.761 1.000 0.918 0.055 0.741 0.741 0.918 0.741 0.498 1.000 1.000 1.000 0.055 0.890 0.741 1.000 0.761 0.741 0.055 0.890 0.741 0.890 0.741 0.055 1.000 1.000 0.890 1.000 0.890 1.000 0.741"/></feComponentTransfer><feConvolveMatrix order="3" kernelMatrix="1 2 1 2 4 2 1 2 1" edgeMode="duplicate"/></filter><filter id="tf18_1" filterUnits="userSpaceOnUse" x="426" y="892" width="37" height="37" color-interpolation-filters="sRGB"><feTurbulence type="fractalNoise" baseFrequency="0.2" numOctaves="2" seed="67"/><feColorMatrix type="matrix" values="0 0 0 0 0.604 0 0 0 0 0.439 0 0 0 0 0.784 1 0 0 0 0"/><feComponentTransfer><feFuncA type="table" tableValues="0.000 0.000 0.000 0.001 0.003 0.008 0.019 0.041 0.082 0.149 0.244 0.364 0.500 0.636 0.756 0.851 0.918 0.959 0.981 0.992 0.997 0.999 1.000 1.000 1.000"/></feComponentTransfer><feComponentTransfer><feFuncA type="discrete" tableValues="0 0 0 0 0 0 0 0 0 0 0 0 0 0 0 0 0 0 0 0 0 0 0 0 0 0 0 0 0 0 1 1 1 1 1 1 1 1 1 1 1 1 1 1 1 1 1 1 1 1"/></feComponentTransfer><feConvolveMatrix order="3" kernelMatrix="1 2 1 2 4 2 1 2 1" edgeMode="duplicate"/></filter><clipPath id="tr18"><rect x="341.4" y="825.5" width="109.1" height="109.5"/></clipPath><clipPath id="tc19"><path d="M368.6 916L368.5 917.6L368.3 919.1L368 920.7L367.5 922.2L366.9 923.6L366.2 925L365.3 926.3L364.4 927.6L363.3 928.7L362.2 929.8L360.9 930.7L359.6 931.6L358.2 932.3L356.8 932.9L355.3 933.4L353.7 933.7L352.2 933.9L350.6 934L349 933.9L347.5 933.7L345.9 933.4L344.4 932.9L343 932.3L341.6 931.6L340.3 930.7L339 929.8L337.9 928.7L336.8 927.6L335.9 926.3L335 925L334.3 923.6L333.7 922.2L333.2 920.7L332.9 919.1L332.7 917.6L332.6 916L332.7 914.4L332.9 912.9L333.2 911.3L333.7 909.8L334.3 908.4L335 907L335.9 905.7L336.8 904.4L337.9 903.3L339 902.2L340.3 901.3L341.6 900.4L343 899.7L344.4 899.1L345.9 898.6L347.5 898.3L349 898.1L350.6 898L352.2 898.1L353.7 898.3L355.3 898.6L356.8 899.1L358.2 899.7L359.6 900.4L360.9 901.3L362.2 902.2L363.3 903.3L364.4 904.4L365.3 905.7L366.2 907L366.9 908.4L367.5 909.8L368 911.3L368.3 912.9L368.5 914.4Z"/></clipPath><filter id="tf19_0" filterUnits="userSpaceOnUse" x="329.6" y="895" width="42" height="42" color-interpolation-filters="sRGB"><feTurbulence type="fractalNoise" baseFrequency="0.8" numOctaves="2" seed="68"/><feColorMatrix type="matrix" values="1 0 0 0 0 1 0 0 0 0 1 0 0 0 0 0 0 0 0 1"/><feComponentTransfer><feFuncR type="table" tableValues="0.000 0.000 0.000 0.001 0.003 0.008 0.019 0.041 0.082 0.149 0.244 0.364 0.500 0.636 0.756 0.851 0.918 0.959 0.981 0.992 0.997 0.999 1.000 1.000 1.000"/><feFuncG type="table" tableValues="0.000 0.000 0.000 0.001 0.003 0.008 0.019 0.041 0.082 0.149 0.244 0.364 0.500 0.636 0.756 0.851 0.918 0.959 0.981 0.992 0.997 0.999 1.000 1.000 1.000"/><feFuncB type="table" tableValues="0.000 0.000 0.000 0.001 0.003 0.008 0.019 0.041 0.082 0.149 0.244 0.364 0.500 0.636 0.756 0.851 0.918 0.959 0.981 0.992 0.997 0.999 1.000 1.000 1.000"/></feComponentTransfer><feComponentTransfer><feFuncR type="discrete" tableValues="0.580 0.788 1.000 0.498 0.624 0.580 1.000 1.000 0.549 0.624 1.000 1.000 0.580 1.000 0.580 1.000 1.000 1.000 0.498 0.580 0.788 0.580 0.580 1.000 1.000 0.580 0.788 0.580 0.498 0.788 1.000 0.580 0.549 0.580 1.000 1.000 1.000 1.000 1.000 1.000 1.000 0.890 0.890 0.580 0.788 0.624 1.000"/><feFuncG type="discrete" tableValues="0.404 0.702 1.000 0.498 0.816 0.404 1.000 1.000 0.337 0.816 1.000 0.498 0.404 1.000 0.404 1.000 1.000 1.000 0.498 0.404 0.702 0.404 0.404 1.000 0.498 0.404 0.702 0.404 0.498 0.702 1.000 0.404 0.337 0.404 1.000 0.498 1.000 1.000 0.498 0.498 1.000 0.467 0.467 0.404 0.702 0.816 0.498"/><feFuncB type="discrete" tableValues="0.741 0.890 1.000 0.498 0.918 0.741 1.000 1.000 0.294 0.918 1.000 0.055 0.741 1.000 0.741 1.000 1.000 1.000 0.498 0.741 0.890 0.741 0.741 1.000 0.055 0.741 0.890 0.741 0.498 0.890 1.000 0.741 0.294 0.741 1.000 0.055 1.000 1.000 0.055 0.055 1.000 0.761 0.761 0.741 0.890 0.918 0.055"/></feComponentTransfer><feConvolveMatrix order="3" kernelMatrix="1 2 1 2 4 2 1 2 1" edgeMode="duplicate"/></filter><filter id="tf19_1" filterUnits="userSpaceOnUse" x="329.6" y="895" width="42" height="42" color-interpolation-filters="sRGB"><feTurbulence type="fractalNoise" baseFrequency="0.18" numOctaves="2" seed="69"/><feColorMatrix type="matrix" values="0 0 0 0 0.604 0 0 0 0 0.439 0 0 0 0 0.784 1 0 0 0 0"/><feComponentTransfer><feFuncA type="table" tableValues="0.000 0.000 0.000 0.001 0.003 0.008 0.019 0.041 0.082 0.149 0.244 0.364 0.500 0.636 0.756 0.851 0.918 0.959 0.981 0.992 0.997 0.999 1.000 1.000 1.000"/></feComponentTransfer><feComponentTransfer><feFuncA type="discrete" tableValues="0 0 0 0 0 0 0 0 0 0 0 0 0 0 0 0 0 0 0 0 0 0 0 0 0 0 0 0 0 0 0 1 1 1 1 1 1 1 1 1 1 1 1 1 1 1 1 1 1 1"/></feComponentTransfer><feConvolveMatrix order="3" kernelMatrix="1 2 1 2 4 2 1 2 1" edgeMode="duplicate"/></filter><clipPath id="tr19"><rect x="341.4" y="825.5" width="109.1" height="109.5"/></clipPath><clipPath id="tc20"><path d="M502.3 898.5L502.2 900.2L502 902L501.6 903.7L501.1 905.3L500.4 907L499.6 908.5L498.7 910L497.6 911.4L496.4 912.6L495.2 913.8L493.8 914.9L492.3 915.8L490.8 916.6L489.1 917.3L487.5 917.8L485.8 918.2L484 918.4L482.3 918.5L480.6 918.4L478.8 918.2L477.1 917.8L475.5 917.3L473.8 916.6L472.3 915.8L470.8 914.9L469.4 913.8L468.2 912.6L467 911.4L465.9 910L465 908.5L464.2 907L463.5 905.3L463 903.7L462.6 902L462.4 900.2L462.3 898.5L462.4 896.8L462.6 895L463 893.3L463.5 891.7L464.2 890L465 888.5L465.9 887L467 885.6L468.2 884.4L469.4 883.2L470.8 882.1L472.3 881.2L473.8 880.4L475.5 879.7L477.1 879.2L478.8 878.8L480.6 878.6L482.3 878.5L484 878.6L485.8 878.8L487.5 879.2L489.1 879.7L490.8 880.4L492.3 881.2L493.8 882.1L495.2 883.2L496.4 884.4L497.6 885.6L498.7 887L499.6 888.5L500.4 890L501.1 891.7L501.6 893.3L502 895L502.2 896.8Z"/></clipPath><filter id="tf20_0" filterUnits="userSpaceOnUse" x="459.3" y="875.5" width="46" height="46" color-interpolation-filters="sRGB"><feTurbulence type="fractalNoise" baseFrequency="0.8" numOctaves="2" seed="71"/><feColorMatrix type="matrix" values="1 0 0 0 0 1 0 0 0 0 1 0 0 0 0 0 0 0 0 1"/><feComponentTransfer><feFuncR type="table" tableValues="0.000 0.000 0.000 0.001 0.003 0.008 0.019 0.041 0.082 0.149 0.244 0.364 0.500 0.636 0.756 0.851 0.918 0.959 0.981 0.992 0.997 0.999 1.000 1.000 1.000"/><feFuncG type="table" tableValues="0.000 0.000 0.000 0.001 0.003 0.008 0.019 0.041 0.082 0.149 0.244 0.364 0.500 0.636 0.756 0.851 0.918 0.959 0.981 0.992 0.997 0.999 1.000 1.000 1.000"/><feFuncB type="table" tableValues="0.000 0.000 0.000 0.001 0.003 0.008 0.019 0.041 0.082 0.149 0.244 0.364 0.500 0.636 0.756 0.851 0.918 0.959 0.981 0.992 0.997 0.999 1.000 1.000 1.000"/></feComponentTransfer><feComponentTransfer><feFuncR type="discrete" tableValues="1.000 0.549 1.000 1.000 1.000 0.122 1.000 0.580 0.839 1.000 1.000 1.000 1.000 1.000 1.000 1.000 0.498 0.549 0.122 0.839 0.498 0.090 0.580 1.000 0.580 1.000 0.122 1.000 0.173 1.000 0.580 1.000 0.498 1.000 0.737 0.173 1.000 0.890 1.000 1.000 1.000 1.000 0.890 0.839 1.000"/><feFuncG type="discrete" tableValues="0.498 0.337 0.498 1.000 1.000 0.467 0.498 0.404 0.153 0.498 1.000 0.498 0.498 1.000 0.498 0.498 0.498 0.337 0.467 0.153 0.498 0.745 0.404 0.498 0.404 0.498 0.467 0.498 0.627 1.000 0.404 0.498 0.498 0.498 0.741 0.627 0.498 0.467 0.498 0.498 0.498 0.498 0.467 0.153 1.000"/><feFuncB type="discrete" tableValues="0.055 0.294 0.055 1.000 1.000 0.706 0.055 0.741 0.157 0.055 1.000 0.055 0.055 1.000 0.055 0.055 0.498 0.294 0.706 0.157 0.498 0.812 0.741 0.055 0.741 0.055 0.706 0.055 0.173 1.000 0.741 0.055 0.498 0.055 0.133 0.173 0.055 0.761 0.055 0.055 0.055 0.055 0.761 0.157 1.000"/></feComponentTransfer><feConvolveMatrix order="3" kernelMatrix="1 2 1 2 4 2 1 2 1" edgeMode="duplicate"/></filter><filter id="tf20_1" filterUnits="userSpaceOnUse" x="459.3" y="875.5" width="46" height="46" color-interpolation-filters="sRGB"><feTurbulence type="fractalNoise" baseFrequency="0.3" numOctaves="2" seed="72"/><feColorMatrix type="matrix" values="0 0 0 0 1.000 0 0 0 0 0.498 0 0 0 0 0.055 1 0 0 0 0"/><feComponentTransfer><feFuncA type="table" tableValues="0.000 0.000 0.000 0.001 0.003 0.008 0.019 0.041 0.082 0.149 0.244 0.364 0.500 0.636 0.756 0.851 0.918 0.959 0.981 0.992 0.997 0.999 1.000 1.000 1.000"/></feComponentTransfer><feComponentTransfer><feFuncA type="discrete" tableValues="0 0 0 0 0 0 0 0 0 0 0 0 0 0 0 0 0 0 0 0 0 0 0 0 0 0 0 0 0 0 0 0 0 0 0 0 0 0 0 0 1 1 1 1 1 1 1 1 1 1"/></feComponentTransfer><feConvolveMatrix order="3" kernelMatrix="1 2 1 2 4 2 1 2 1" edgeMode="duplicate"/></filter><clipPath id="tc21"><path d="M562.7 896L562.6 897.7L562.4 899.4L562 901.1L561.5 902.7L560.9 904.3L560.1 905.9L559 907.2L557.7 908.3L556.3 909.3L554.9 910.2L553.5 911L552.2 911.9L550.8 912.7L549.2 913.1L547.6 913.2L546 913.3L544.5 913.3L543 913.3L541.5 913.3L540 913.3L538.4 913.2L536.8 913.1L535.2 912.8L533.6 912.4L532 911.7L530.5 910.9L529.1 909.9L527.9 908.7L526.9 907.3L525.9 905.9L525.1 904.3L524.5 902.7L524 901.1L523.6 899.4L523.4 897.7L523.3 896L523.4 894.3L523.6 892.6L524 890.9L524.5 889.3L525.1 887.7L525.9 886.1L526.9 884.7L527.9 883.3L529.1 882.1L530.3 880.9L531.7 879.9L533.1 878.9L534.7 878.1L536.3 877.5L537.9 877L539.6 876.6L541.3 876.4L543 876.3L544.7 876.4L546.4 876.6L548.1 877L549.7 877.5L551.3 878.1L552.9 878.9L554.3 879.9L555.7 880.9L556.9 882.1L558.1 883.3L559.1 884.7L560.1 886.1L560.9 887.7L561.5 889.3L562 890.9L562.4 892.6L562.6 894.3Z"/></clipPath><filter id="tf21_0" filterUnits="userSpaceOnUse" x="520.3" y="873.3" width="45.4" height="45.4" color-interpolation-filters="sRGB"><feTurbulence type="fractalNoise" baseFrequency="0.8" numOctaves="2" seed="73"/><feColorMatrix type="matrix" values="1 0 0 0 0 1 0 0 0 0 1 0 0 0 0 0 0 0 0 1"/><feComponentTransfer><feFuncR type="table" tableValues="0.000 0.000 0.000 0.001 0.003 0.008 0.019 0.041 0.082 0.149 0.244 0.364 0.500 0.636 0.756 0.851 0.918 0.959 0.981 0.992 0.997 0.999 1.000 1.000 1.000"/><feFuncG type="table" tableValues="0.000 0.000 0.000 0.001 0.003 0.008 0.019 0.041 0.082 0.149 0.244 0.364 0.500 0.636 0.756 0.851 0.918 0.959 0.981 0.992 0.997 0.999 1.000 1.000 1.000"/><feFuncB type="table" tableValues="0.000 0.000 0.000 0.001 0.003 0.008 0.019 0.041 0.082 0.149 0.244 0.364 0.500 0.636 0.756 0.851 0.918 0.959 0.981 0.992 0.997 0.999 1.000 1.000 1.000"/></feComponentTransfer><feComponentTransfer><feFuncR type="discrete" tableValues="1.000 1.000 0.498 0.580 0.498 1.000 1.000 0.173 0.890 0.090 1.000 0.580 0.737 1.000 1.000 0.549 1.000 1.000 0.580 0.580 1.000 0.122 0.090 0.549 0.122 0.890 0.580 1.000 1.000 1.000 1.000 0.122 1.000 0.737 0.498 0.122 0.839 1.000 0.173 1.000 0.839 1.000 0.173 0.839 0.498 1.000 1.000"/><feFuncG type="discrete" tableValues="1.000 0.498 0.498 0.404 0.498 0.498 0.498 0.627 0.467 0.745 1.000 0.404 0.741 1.000 0.498 0.337 0.498 0.498 0.404 0.404 1.000 0.467 0.745 0.337 0.467 0.467 0.404 0.498 0.498 0.498 0.498 0.467 0.498 0.741 0.498 0.467 0.153 0.498 0.627 1.000 0.153 0.498 0.627 0.153 0.498 0.498 1.000"/><feFuncB type="discrete" tableValues="1.000 0.055 0.498 0.741 0.498 0.055 0.055 0.173 0.761 0.812 1.000 0.741 0.133 1.000 0.055 0.294 0.055 0.055 0.741 0.741 1.000 0.706 0.812 0.294 0.706 0.761 0.741 0.055 0.055 0.055 0.055 0.706 0.055 0.133 0.498 0.706 0.157 0.055 0.173 1.000 0.157 0.055 0.173 0.157 0.498 0.055 1.000"/></feComponentTransfer><feConvolveMatrix order="3" kernelMatrix="1 2 1 2 4 2 1 2 1" edgeMode="duplicate"/></filter><filter id="tf21_1" filterUnits="userSpaceOnUse" x="520.3" y="873.3" width="45.4" height="45.4" color-interpolation-filters="sRGB"><feTurbulence type="fractalNoise" baseFrequency="0.3" numOctaves="2" seed="74"/><feColorMatrix type="matrix" values="0 0 0 0 1.000 0 0 0 0 0.498 0 0 0 0 0.055 1 0 0 0 0"/><feComponentTransfer><feFuncA type="table" tableValues="0.000 0.000 0.000 0.001 0.003 0.008 0.019 0.041 0.082 0.149 0.244 0.364 0.500 0.636 0.756 0.851 0.918 0.959 0.981 0.992 0.997 0.999 1.000 1.000 1.000"/></feComponentTransfer><feComponentTransfer><feFuncA type="discrete" tableValues="0 0 0 0 0 0 0 0 0 0 0 0 0 0 0 0 0 0 0 0 0 0 0 0 0 0 0 0 0 0 0 0 0 0 0 0 0 0 0 0 0 0 1 1 1 1 1 1 1 1"/></feComponentTransfer><feConvolveMatrix order="3" kernelMatrix="1 2 1 2 4 2 1 2 1" edgeMode="duplicate"/></filter><clipPath id="tc22"><path d="M572.8 831.4L572.7 832.7L572.6 834L572.3 835.3L571.9 836.5L571.4 837.7L570.8 838.9L570.1 840L569.3 841L568.4 842L567.4 842.9L566.4 843.7L565.3 844.4L564.1 845L562.9 845.5L561.7 845.9L560.4 846.2L559.1 846.3L557.8 846.4L556.5 846.3L555.2 846.2L553.9 845.9L552.7 845.5L551.5 845L550.3 844.4L549.2 843.7L548.2 842.9L547.2 842L546.3 841L545.5 840L544.8 838.9L544.2 837.7L543.7 836.5L543.3 835.3L543 834L542.9 832.7L542.8 831.4L542.9 830.1L543 828.8L543.3 827.5L543.7 826.3L544.2 825.1L544.8 823.9L545.5 822.8L546.3 821.8L547.2 820.8L548.2 819.9L549.2 819.1L550.3 818.4L551.5 817.8L552.7 817.3L553.9 816.9L555.2 816.6L556.5 816.5L557.8 816.4L559.1 816.5L560.4 816.6L561.7 816.9L562.9 817.3L564.1 817.8L565.3 818.4L566.4 819.1L567.4 819.9L568.4 820.8L569.3 821.8L570.1 822.8L570.8 823.9L571.4 825.1L571.9 826.3L572.3 827.5L572.6 828.8L572.7 830.1Z"/></clipPath><filter id="tf22_0" filterUnits="userSpaceOnUse" x="539.8" y="813.4" width="36" height="36" color-interpolation-filters="sRGB"><feTurbulence type="fractalNoise" baseFrequency="0.8" numOctaves="2" seed="75"/><feColorMatrix type="matrix" values="1 0 0 0 0 1 0 0 0 0 1 0 0 0 0 0 0 0 0 1"/><feComponentTransfer><feFuncR type="table" tableValues="0.000 0.000 0.000 0.001 0.003 0.008 0.019 0.041 0.082 0.149 0.244 0.364 0.500 0.636 0.756 0.851 0.918 0.959 0.981 0.992 0.997 0.999 1.000 1.000 1.000"/><feFuncG type="table" tableValues="0.000 0.000 0.000 0.001 0.003 0.008 0.019 0.041 0.082 0.149 0.244 0.364 0.500 0.636 0.756 0.851 0.918 0.959 0.981 0.992 0.997 0.999 1.000 1.000 1.000"/><feFuncB type="table" tableValues="0.000 0.000 0.000 0.001 0.003 0.008 0.019 0.041 0.082 0.149 0.244 0.364 0.500 0.636 0.756 0.851 0.918 0.959 0.981 0.992 0.997 0.999 1.000 1.000 1.000"/></feComponentTransfer><feComponentTransfer><feFuncR type="discrete" tableValues="0.580 1.000 0.580 1.000 1.000 0.122 0.498 0.498 1.000 1.000 0.122 1.000 1.000 1.000 0.498 1.000 0.122 1.000 1.000 1.000 0.812 1.000 0.580 1.000 1.000 1.000 1.000 0.498 1.000 1.000 1.000 0.812 0.812 0.580 0.812 1.000 1.000 1.000 1.000 1.000 1.000 0.812 0.812 1.000 0.812 1.000 0.580 1.000"/><feFuncG type="discrete" tableValues="0.404 1.000 0.404 1.000 1.000 0.467 0.498 0.498 1.000 1.000 0.467 1.000 0.498 0.498 0.498 0.498 0.467 1.000 1.000 0.498 0.878 1.000 0.404 0.498 1.000 0.498 1.000 0.498 1.000 1.000 1.000 0.878 0.878 0.404 0.878 1.000 1.000 1.000 0.498 1.000 0.498 0.878 0.878 1.000 0.878 0.498 0.404 0.498"/><feFuncB type="discrete" tableValues="0.741 1.000 0.741 1.000 1.000 0.706 0.498 0.498 1.000 1.000 0.706 1.000 0.055 0.055 0.498 0.055 0.706 1.000 1.000 0.055 0.941 1.000 0.741 0.055 1.000 0.055 1.000 0.498 1.000 1.000 1.000 0.941 0.941 0.741 0.941 1.000 1.000 1.000 0.055 1.000 0.055 0.941 0.941 1.000 0.941 0.055 0.741 0.055"/></feComponentTransfer><feConvolveMatrix order="3" kernelMatrix="1 2 1 2 4 2 1 2 1" edgeMode="duplicate"/></filter><clipPath id="tr22"><rect x="455.5" y="825.5" width="109.8" height="109.5"/></clipPath><clipPath id="tc23"><path d="M619.5 894.5L619.4 896.2L619.2 897.8L618.9 899.4L618.4 901L617.7 902.5L617 904L616.1 905.4L615.1 906.7L613.9 907.9L612.7 909.1L611.4 910.1L610 911L608.5 911.7L607 912.4L605.4 912.9L603.8 913.2L602.2 913.4L600.5 913.5L598.8 913.4L597.2 913.2L595.6 912.9L594 912.4L592.5 911.7L591 911L589.6 910.1L588.3 909.1L587.1 907.9L585.9 906.7L584.9 905.4L584 904L583.3 902.5L582.6 901L582.1 899.4L581.8 897.8L581.6 896.2L581.5 894.5L581.6 892.8L581.8 891.2L582.1 889.6L582.6 888L583.3 886.5L584 885L584.9 883.6L585.9 882.3L587.1 881.1L588.3 879.9L589.6 878.9L591 878L592.5 877.3L594 876.6L595.6 876.1L597.2 875.8L598.8 875.6L600.5 875.5L602.2 875.6L603.8 875.8L605.4 876.1L607 876.6L608.5 877.3L610 878L611.4 878.9L612.7 879.9L613.9 881.1L615.1 882.3L616.1 883.6L617 885L617.7 886.5L618.4 888L618.9 889.6L619.2 891.2L619.4 892.8Z"/></clipPath><filter id="tf23_0" filterUnits="userSpaceOnUse" x="578.5" y="872.5" width="44" height="44" color-interpolation-filters="sRGB"><feTurbulence type="fractalNoise" baseFrequency="0.8" numOctaves="2" seed="81"/><feColorMatrix type="matrix" values="1 0 0 0 0 1 0 0 0 0 1 0 0 0 0 0 0 0 0 1"/><feComponentTransfer><feFuncR type="table" tableValues="0.000 0.000 0.000 0.001 0.003 0.008 0.019 0.041 0.082 0.149 0.244 0.364 0.500 0.636 0.756 0.851 0.918 0.959 0.981 0.992 0.997 0.999 1.000 1.000 1.000"/><feFuncG type="table" tableValues="0.000 0.000 0.000 0.001 0.003 0.008 0.019 0.041 0.082 0.149 0.244 0.364 0.500 0.636 0.756 0.851 0.918 0.959 0.981 0.992 0.997 0.999 1.000 1.000 1.000"/><feFuncB type="table" tableValues="0.000 0.000 0.000 0.001 0.003 0.008 0.019 0.041 0.082 0.149 0.244 0.364 0.500 0.636 0.756 0.851 0.918 0.959 0.981 0.992 0.997 0.999 1.000 1.000 1.000"/></feComponentTransfer><feComponentTransfer><feFuncR type="discrete" tableValues="0.580 0.173 1.000 0.839 1.000 0.561 1.000 0.890 0.561 1.000 0.173 0.561 1.000 0.173 0.173 0.122 0.173 0.173 0.737 0.580 0.173 1.000 0.737 0.561 1.000 1.000 0.173 0.173 1.000 0.173 0.498 1.000 1.000 1.000 1.000 1.000 0.173 1.000 0.173 0.173 0.173 1.000 1.000 0.561 0.561 1.000 1.000 0.561"/><feFuncG type="discrete" tableValues="0.404 0.627 1.000 0.153 1.000 0.816 1.000 0.467 0.816 1.000 0.627 0.816 1.000 0.627 0.627 0.467 0.627 0.627 0.741 0.404 0.627 1.000 0.741 0.816 0.498 1.000 0.627 0.627 1.000 0.627 0.498 1.000 1.000 1.000 1.000 1.000 0.627 1.000 0.627 0.627 0.627 1.000 1.000 0.816 0.816 1.000 1.000 0.816"/><feFuncB type="discrete" tableValues="0.741 0.173 1.000 0.157 1.000 0.561 1.000 0.761 0.561 1.000 0.173 0.561 1.000 0.173 0.173 0.706 0.173 0.173 0.133 0.741 0.173 1.000 0.133 0.561 0.055 1.000 0.173 0.173 1.000 0.173 0.498 1.000 1.000 1.000 1.000 1.000 0.173 1.000 0.173 0.173 0.173 1.000 1.000 0.561 0.561 1.000 1.000 0.561"/></feComponentTransfer><feConvolveMatrix order="3" kernelMatrix="1 2 1 2 4 2 1 2 1" edgeMode="duplicate"/></filter><clipPath id="tc24"><path d="M674.3 885.7L674.2 887.3L674 889L673.7 890.6L673.2 892.1L672.5 893.6L671.8 895.1L670.9 896.5L669.9 897.8L668.8 899L667.6 900.1L666.3 901.1L664.9 902L663.4 902.7L661.9 903.4L660.4 903.9L658.8 904.2L657.1 904.4L655.5 904.5L653.9 904.4L652.2 904.2L650.6 903.9L649.1 903.4L647.6 902.7L646.1 902L644.7 901.1L643.4 900.1L642.2 899L641.1 897.8L640.1 896.5L639.2 895.1L638.5 893.6L637.8 892.1L637.3 890.6L637 889L636.8 887.3L636.7 885.7L636.8 884.1L637 882.4L637.3 880.8L637.8 879.3L638.5 877.8L639.2 876.3L640.1 874.9L641.1 873.6L642.2 872.4L643.4 871.3L644.7 870.3L646.1 869.4L647.6 868.7L649.1 868L650.6 867.5L652.2 867.2L653.9 867L655.5 866.9L657.1 867L658.8 867.2L660.4 867.5L661.9 868L663.4 868.7L664.9 869.4L666.3 870.3L667.6 871.3L668.8 872.4L669.9 873.6L670.9 874.9L671.8 876.3L672.5 877.8L673.2 879.3L673.7 880.8L674 882.4L674.2 884.1Z"/></clipPath><filter id="tf24_0" filterUnits="userSpaceOnUse" x="633.7" y="863.9" width="43.6" height="43.6" color-interpolation-filters="sRGB"><feTurbulence type="fractalNoise" baseFrequency="0.8" numOctaves="2" seed="82"/><feColorMatrix type="matrix" values="1 0 0 0 0 1 0 0 0 0 1 0 0 0 0 0 0 0 0 1"/><feComponentTransfer><feFuncR type="table" tableValues="0.000 0.000 0.000 0.001 0.003 0.008 0.019 0.041 0.082 0.149 0.244 0.364 0.500 0.636 0.756 0.851 0.918 0.959 0.981 0.992 0.997 0.999 1.000 1.000 1.000"/><feFuncG type="table" tableValues="0.000 0.000 0.000 0.001 0.003 0.008 0.019 0.041 0.082 0.149 0.244 0.364 0.500 0.636 0.756 0.851 0.918 0.959 0.981 0.992 0.997 0.999 1.000 1.000 1.000"/><feFuncB type="table" tableValues="0.000 0.000 0.000 0.001 0.003 0.008 0.019 0.041 0.082 0.149 0.244 0.364 0.500 0.636 0.756 0.851 0.918 0.959 0.981 0.992 0.997 0.999 1.000 1.000 1.000"/></feComponentTransfer><feComponentTransfer><feFuncR type="discrete" tableValues="0.580 0.173 1.000 0.839 1.000 0.561 1.000 0.890 0.561 1.000 0.173 0.561 1.000 0.173 0.173 0.122 0.173 0.173 0.737 0.580 0.173 1.000 0.737 0.561 1.000 1.000 0.173 0.173 1.000 0.173 0.498 1.000 1.000 1.000 1.000 1.000 0.173 1.000 0.173 0.173 0.173 1.000 1.000 0.561 0.561 1.000 1.000 0.561"/><feFuncG type="discrete" tableValues="0.404 0.627 1.000 0.153 1.000 0.816 1.000 0.467 0.816 1.000 0.627 0.816 1.000 0.627 0.627 0.467 0.627 0.627 0.741 0.404 0.627 1.000 0.741 0.816 0.498 1.000 0.627 0.627 1.000 0.627 0.498 1.000 1.000 1.000 1.000 1.000 0.627 1.000 0.627 0.627 0.627 1.000 1.000 0.816 0.816 1.000 1.000 0.816"/><feFuncB type="discrete" tableValues="0.741 0.173 1.000 0.157 1.000 0.561 1.000 0.761 0.561 1.000 0.173 0.561 1.000 0.173 0.173 0.706 0.173 0.173 0.133 0.741 0.173 1.000 0.133 0.561 0.055 1.000 0.173 0.173 1.000 0.173 0.498 1.000 1.000 1.000 1.000 1.000 0.173 1.000 0.173 0.173 0.173 1.000 1.000 0.561 0.561 1.000 1.000 0.561"/></feComponentTransfer><feConvolveMatrix order="3" kernelMatrix="1 2 1 2 4 2 1 2 1" edgeMode="duplicate"/></filter></defs>
<g clip-path="url(#tc14)"><rect x="366.2" y="849.4" width="41.2" height="41.2" filter="url(#tf14_0)"/><rect x="366.2" y="849.4" width="41.2" height="41.2" filter="url(#tf14_1)"/></g>
<g clip-path="url(#td15)"><g clip-path="url(#tc15)"><rect x="366.2" y="849.4" width="41.2" height="41.2" filter="url(#tf15_0)"/><rect x="366.2" y="849.4" width="41.2" height="41.2" filter="url(#tf15_1)"/></g></g>
<g clip-path="url(#td16)"><g clip-path="url(#tc16)"><rect x="366.2" y="849.4" width="41.2" height="41.2" fill="#9a70c8"/></g></g>
<g clip-path="url(#tc17)"><rect x="398.6" y="843" width="46" height="46" filter="url(#tf17_0)"/><rect x="398.6" y="843" width="46" height="46" filter="url(#tf17_1)"/><rect x="398.6" y="843" width="46" height="46" filter="url(#tf17_2)"/></g>
<g clip-path="url(#tr18)"><g clip-path="url(#tc18)"><rect x="426" y="892" width="37" height="37" filter="url(#tf18_0)"/><rect x="426" y="892" width="37" height="37" filter="url(#tf18_1)"/></g></g>
<g clip-path="url(#tr19)"><g clip-path="url(#tc19)"><rect x="329.6" y="895" width="42" height="42" filter="url(#tf19_0)"/><rect x="329.6" y="895" width="42" height="42" filter="url(#tf19_1)"/></g></g>
<g clip-path="url(#tc20)"><rect x="459.3" y="875.5" width="46" height="46" filter="url(#tf20_0)"/><rect x="459.3" y="875.5" width="46" height="46" filter="url(#tf20_1)"/></g>
<g clip-path="url(#tc21)"><rect x="520.3" y="873.3" width="45.4" height="45.4" filter="url(#tf21_0)"/><rect x="520.3" y="873.3" width="45.4" height="45.4" filter="url(#tf21_1)"/></g>
<g clip-path="url(#tr22)"><g clip-path="url(#tc22)"><rect x="539.8" y="813.4" width="36" height="36" filter="url(#tf22_0)"/></g></g>
<g clip-path="url(#tc23)"><rect x="578.5" y="872.5" width="44" height="44" filter="url(#tf23_0)"/></g>
<g clip-path="url(#tc24)"><rect x="633.7" y="863.9" width="43.6" height="43.6" filter="url(#tf24_0)"/></g>
<path d="M476.5 885.5L479 887L481 885L482 888L485 887.5L484 890.5L487 892L484 893.5L485.5 896L488 894L490 896L493 895L491.5 898.5L494 900L491 901.5L492 904.5L488.5 903L487 905.5L485 903L482 904L482.5 900.5L480 899L482.5 897L480.5 894.5L478 893L479.5 890.5L476 889Z" fill="#fff" opacity="0.95"/><path d="M490 915.5L495 913L499 909L501.5 905.5L502.2 902A20 20 0 0 1 489 917.8Z" fill="#9467bd"/>
<defs><clipPath id="ci1"><rect x="341.4" y="825.5" width="109.1" height="109.5"/></clipPath><clipPath id="ci2"><rect x="455.5" y="825.5" width="109.8" height="109.5"/></clipPath><clipPath id="ci3"><rect x="570.4" y="825.5" width="109.1" height="109.5"/></clipPath></defs>
<circle cx="369.9" cy="851.5" r="11.2" fill="none" stroke="#c8c8c8" stroke-width="0.5"/><path d="M369.9 840.3L369.9 839.1M375.5 841.8L376.1 840.8M379.6 845.9L380.6 845.3M381.1 851.5L382.3 851.5M379.6 857.1L380.6 857.7M375.5 861.2L376.1 862.2M369.9 862.7L369.9 863.9M364.3 861.2L363.7 862.2M360.2 857.1L359.2 857.7M358.7 851.5L357.5 851.5M360.2 845.9L359.2 845.3M364.3 841.8L363.7 840.8" stroke="#bbb" stroke-width="0.5"/><path d="M369.9 851.5L359.1 846.2L361.9 842.6Z" fill="#9467bd"/><path d="M369.9 851.5L373.5 848.8L374.2 850.3Z" fill="#ff7f0e"/><path d="M369.9 851.5L371.2 853L370.6 853.4Z" fill="#17becf"/>
<circle cx="402.8" cy="848.3" r="11.5" fill="none" stroke="#c8c8c8" stroke-width="0.5"/><path d="M402.8 836.8L402.8 835.6M408.6 838.3L409.2 837.3M412.8 842.5L413.8 841.9M414.3 848.3L415.5 848.3M412.8 854L413.8 854.6M408.6 858.3L409.2 859.3M402.8 859.8L402.8 861M397.1 858.3L396.4 859.3M392.8 854L391.8 854.6M391.3 848.3L390.1 848.3M392.8 842.5L391.8 841.9M397.1 838.3L396.4 837.3" stroke="#bbb" stroke-width="0.5"/><path d="M402.8 848.3L391.9 842.2L394.9 838.6Z" fill="#9467bd"/><path d="M402.8 848.3L404.8 845.3L405.8 846.3Z" fill="#ff7f0e"/>
<g clip-path="url(#ci1)"><circle cx="431.7" cy="890" r="11.5" fill="none" stroke="#c8c8c8" stroke-width="0.5"/><path d="M431.7 878.5L431.7 877.3M437.4 880L438.1 879M441.7 884.2L442.7 883.6M443.2 890L444.4 890M441.7 895.8L442.7 896.4M437.4 900L438.1 901M431.7 901.5L431.7 902.7M425.9 900L425.3 901M421.7 895.8L420.7 896.4M420.2 890L419 890M421.7 884.2L420.7 883.6M425.9 880L425.3 879" stroke="#bbb" stroke-width="0.5"/><path d="M431.7 890L421.8 885.4L424.3 882Z" fill="#9467bd"/><path d="M431.7 890L435.3 887.7L435.9 889.2Z" fill="#ff7f0e"/></g>
<g clip-path="url(#ci2)"><circle cx="465.4" cy="878.8" r="12" fill="none" stroke="#c8c8c8" stroke-width="0.5"/><path d="M465.4 866.8L465.4 865.6M471.4 868.4L472 867.4M475.8 872.8L476.8 872.2M477.4 878.8L478.6 878.8M475.8 884.8L476.8 885.4M471.4 889.2L472 890.2M465.4 890.8L465.4 892M459.4 889.2L458.8 890.2M455 884.8L454 885.4M453.4 878.8L452.2 878.8M455 872.8L454 872.2M459.4 868.4L458.8 867.4" stroke="#bbb" stroke-width="0.5"/><path d="M465.4 878.8L463.1 872.7L465.5 872.3Z" fill="#d62728"/><path d="M465.4 878.8L470.2 870.1L473.2 872.5Z" fill="#ff7f0e"/><path d="M465.4 878.8L460.7 877.2L461.6 875.5Z" fill="#9467bd"/><path d="M465.4 878.8L464.5 884.7L462.3 883.9Z" fill="#7f7f7f"/><path d="M465.4 878.8L468.4 878.7L468.2 879.9Z" fill="#1f77b4"/><path d="M465.4 878.8L462.8 880.3L462.4 879.3Z" fill="#e377c2"/></g>
<circle cx="525.7" cy="878" r="12" fill="none" stroke="#c8c8c8" stroke-width="0.5"/><path d="M525.7 866L525.7 864.8M531.7 867.6L532.3 866.6M536.1 872L537.1 871.4M537.7 878L538.9 878M536.1 884L537.1 884.6M531.7 888.4L532.3 889.4M525.7 890L525.7 891.2M519.7 888.4L519.1 889.4M515.3 884L514.3 884.6M513.7 878L512.5 878M515.3 872L514.3 871.4M519.7 867.6L519.1 866.6" stroke="#bbb" stroke-width="0.5"/><path d="M525.7 878L523.2 871.5L525.8 871Z" fill="#d62728"/><path d="M525.7 878L530.2 868L533.6 870.4Z" fill="#ff7f0e"/><path d="M525.7 878L521.7 878.1L522 876.6Z" fill="#9467bd"/><path d="M525.7 878L525.4 883L523.5 882.5Z" fill="#7f7f7f"/><path d="M525.7 878L529.7 877.9L529.4 879.4Z" fill="#1f77b4"/><path d="M525.7 878L526.8 880.8L525.6 881Z" fill="#bcbd22"/>
<g clip-path="url(#ci3)"><circle cx="582.8" cy="876.4" r="12" fill="none" stroke="#c8c8c8" stroke-width="0.5"/><path d="M582.8 864.4L582.8 863.2M588.8 866L589.4 865M593.2 870.4L594.2 869.8M594.8 876.4L596 876.4M593.2 882.4L594.2 883M588.8 886.8L589.4 887.8M582.8 888.4L582.8 889.6M576.8 886.8L576.2 887.8M572.4 882.4L571.4 883M570.8 876.4L569.6 876.4M572.4 870.4L571.4 869.8M576.8 866L576.2 865" stroke="#bbb" stroke-width="0.5"/><path d="M582.8 876.4L584.7 864.5L589 866.1Z" fill="#2ca02c"/><path d="M582.8 876.4L579 875.1L579.8 873.8Z" fill="#9467bd"/><path d="M582.8 876.4L583.9 880.2L582.4 880.4Z" fill="#bcbd22"/></g>
<circle cx="638.3" cy="867.6" r="12" fill="none" stroke="#c8c8c8" stroke-width="0.5"/><path d="M638.3 855.6L638.3 854.4M644.3 857.2L644.9 856.2M648.7 861.6L649.7 861M650.3 867.6L651.5 867.6M648.7 873.6L649.7 874.2M644.3 878L644.9 879M638.3 879.6L638.3 880.8M632.3 878L631.7 879M627.9 873.6L626.9 874.2M626.3 867.6L625.1 867.6M627.9 861.6L626.9 861M632.3 857.2L631.7 856.2" stroke="#bbb" stroke-width="0.5"/><path d="M638.3 867.6L638.7 856.9L642.7 857.8Z" fill="#2ca02c"/><path d="M638.3 867.6L635.3 867.1L635.7 866.1Z" fill="#9467bd"/><path d="M638.3 867.6L639.7 871.3L638.2 871.6Z" fill="#bcbd22"/>
<rect x="341.4" y="825.5" width="109.1" height="109.5" fill="none" stroke="#555" stroke-width="1"/>
<rect x="455.5" y="825.5" width="109.8" height="109.5" fill="none" stroke="#555" stroke-width="1"/>
<rect x="570.4" y="825.5" width="109.1" height="109.5" fill="none" stroke="#555" stroke-width="1"/>
<rect x="345.6" y="829.2" width="10.9" height="7.3" fill="#9467bd"/>
<text x="360.3" y="836.3" font-size="8.8" fill="#111" stroke="#111" stroke-width="0.12">5</text>
<rect x="459.1" y="829.3" width="10.6" height="7" fill="#1f77b4"/>
<text x="474.4" y="836" font-size="8.8" fill="#111" stroke="#111" stroke-width="0.12">1</text>
<rect x="459.1" y="840.3" width="10.6" height="7" fill="#ff7f0e"/>
<text x="474.4" y="847" font-size="8.8" fill="#111" stroke="#111" stroke-width="0.12">2</text>
<rect x="459.1" y="850.9" width="10.6" height="7" fill="#2ca02c"/>
<text x="474.4" y="857.6" font-size="8.8" fill="#111" stroke="#111" stroke-width="0.12">3</text>
<rect x="483.2" y="829.3" width="11.5" height="7" fill="#d62728"/>
<text x="498.2" y="836" font-size="8.8" fill="#111" stroke="#111" stroke-width="0.12">4</text>
<rect x="483.2" y="840.3" width="11.5" height="7" fill="#7f7f7f"/>
<text x="498.2" y="847" font-size="8.8" fill="#111" stroke="#111" stroke-width="0.12">8</text>
<rect x="483.2" y="850.9" width="11.5" height="7" fill="#bcbd22"/>
<text x="498.2" y="857.6" font-size="8.8" fill="#111" stroke="#111" stroke-width="0.12">9</text>
<rect x="656.4" y="829.2" width="10.9" height="7.3" fill="#2ca02c"/>
<text x="671.4" y="836.3" font-size="8.8" fill="#111" stroke="#111" stroke-width="0.12">3</text>
<rect x="579.7" y="922.6" width="15.9" height="1.3" fill="#111"/>
<text x="587.6" y="932.5" font-size="7.4" text-anchor="middle" fill="#223" stroke="#223" stroke-width="0.12">500μm</text>
<rect x="387.4" y="938.1" width="18.3" height="18.3" fill="none" stroke="#222" stroke-width="0.8"/>
<text x="396.5" y="951.3" font-size="10" text-anchor="middle" fill="#111" stroke="#111" stroke-width="0.12">I</text>
<rect x="501.5" y="938.1" width="18.3" height="18.3" fill="none" stroke="#222" stroke-width="0.8"/>
<text x="510.6" y="951.3" font-size="10" text-anchor="middle" fill="#111" stroke="#111" stroke-width="0.12">II</text>
<rect x="615.3" y="938.1" width="18.3" height="18.3" fill="none" stroke="#222" stroke-width="0.8"/>
<text x="624.4" y="951.3" font-size="10" text-anchor="middle" fill="#111" stroke="#111" stroke-width="0.12">III</text>
</svg>
</body></html>
